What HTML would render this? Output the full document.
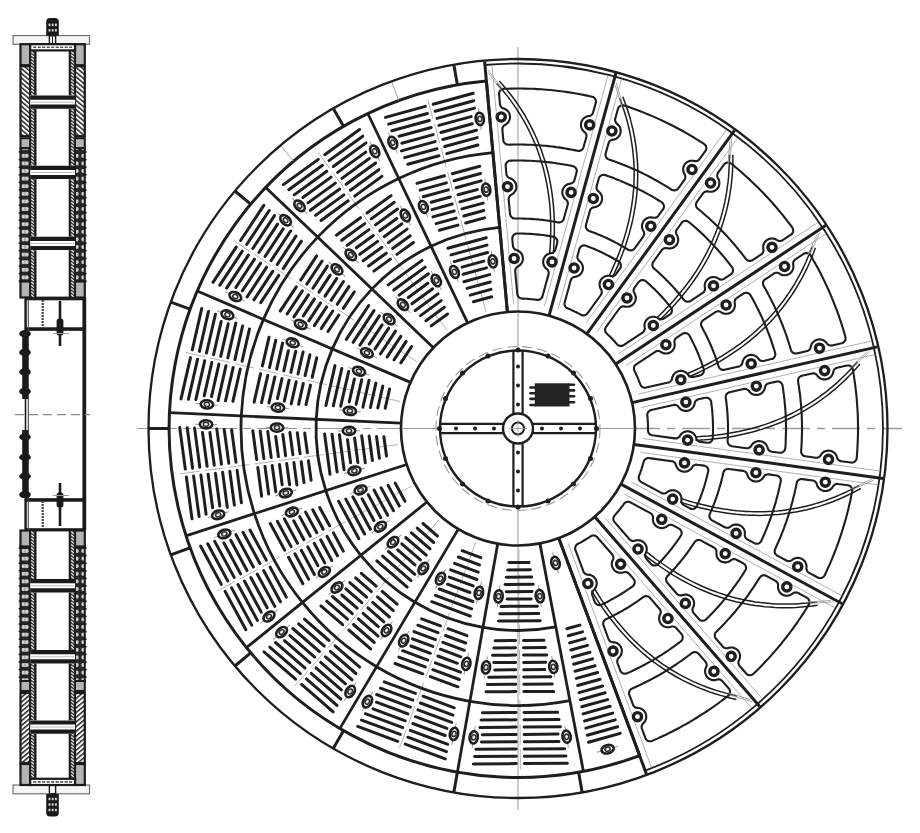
<!DOCTYPE html>
<html><head><meta charset="utf-8"><style>
html,body{margin:0;padding:0;background:#fff;}
svg{display:block;filter:blur(0.3px);}
</style></head><body>
<svg width="920" height="833" viewBox="0 0 920 833">
<rect width="920" height="833" fill="#fff"/>
<line x1="518.0" y1="47.0" x2="518.0" y2="810.0" stroke="#9a9a9a" stroke-width="1" />
<line x1="137.0" y1="428.5" x2="404.0" y2="428.5" stroke="#9a9a9a" stroke-width="1" stroke-dasharray="40,6,8,6"/>
<line x1="632.0" y1="428.5" x2="902.0" y2="428.5" stroke="#9a9a9a" stroke-width="1.3" stroke-dasharray="28,7,8,7"/>
<line x1="404.0" y1="428.5" x2="632.0" y2="428.5" stroke="#9a9a9a" stroke-width="1" />
<line x1="486.0" y1="311.8" x2="426.7" y2="95.8" stroke="#aaaaaa" stroke-width="0.9" stroke-dasharray="20,5"/>
<line x1="447.0" y1="330.5" x2="315.7" y2="149.0" stroke="#aaaaaa" stroke-width="0.9" stroke-dasharray="20,5"/>
<line x1="417.0" y1="361.8" x2="230.1" y2="238.3" stroke="#aaaaaa" stroke-width="0.9" stroke-dasharray="20,5"/>
<line x1="400.1" y1="401.5" x2="181.7" y2="351.5" stroke="#aaaaaa" stroke-width="0.9" stroke-dasharray="20,5"/>
<line x1="398.1" y1="444.6" x2="176.1" y2="474.4" stroke="#aaaaaa" stroke-width="0.9" stroke-dasharray="20,5"/>
<line x1="411.6" y1="486.1" x2="214.5" y2="592.6" stroke="#aaaaaa" stroke-width="0.9" stroke-dasharray="20,5"/>
<line x1="438.8" y1="520.0" x2="292.1" y2="689.3" stroke="#aaaaaa" stroke-width="0.9" stroke-dasharray="20,5"/>
<line x1="475.9" y1="541.9" x2="398.0" y2="752.0" stroke="#aaaaaa" stroke-width="0.9" stroke-dasharray="20,5"/>
<line x1="518.8" y1="549.5" x2="520.4" y2="773.5" stroke="#aaaaaa" stroke-width="0.9" stroke-dasharray="20,5"/>
<line x1="473.4" y1="301.8" x2="491.7" y2="296.8" stroke="#1e1e1e" stroke-width="3.0" stroke-linecap="round"/>
<line x1="470.2" y1="295.1" x2="491.0" y2="289.4" stroke="#1e1e1e" stroke-width="3.0" stroke-linecap="round"/>
<line x1="467.0" y1="288.4" x2="490.3" y2="282.0" stroke="#1e1e1e" stroke-width="3.0" stroke-linecap="round"/>
<line x1="463.8" y1="281.7" x2="489.7" y2="274.6" stroke="#1e1e1e" stroke-width="3.0" stroke-linecap="round"/>
<line x1="463.1" y1="274.3" x2="486.5" y2="267.9" stroke="#1e1e1e" stroke-width="3.0" stroke-linecap="round"/>
<line x1="462.0" y1="267.1" x2="483.8" y2="261.1" stroke="#1e1e1e" stroke-width="3.0" stroke-linecap="round"/>
<line x1="454.2" y1="261.6" x2="487.6" y2="252.5" stroke="#1e1e1e" stroke-width="3.0" stroke-linecap="round"/>
<line x1="451.0" y1="254.9" x2="487.0" y2="245.1" stroke="#1e1e1e" stroke-width="3.0" stroke-linecap="round"/>
<line x1="447.8" y1="248.2" x2="486.3" y2="237.7" stroke="#1e1e1e" stroke-width="3.0" stroke-linecap="round"/>
<g transform="translate(492.8,261.4) rotate(-98.6)"><line x1="-11" y1="0" x2="11" y2="0" stroke="#9a9a9a" stroke-width="1"/><ellipse cx="0" cy="0" rx="6.2" ry="4.1" fill="#fff" stroke="#1e1e1e" stroke-width="2.6"/><ellipse cx="0" cy="0" rx="2.7" ry="2.1" fill="#d4d4d4" stroke="#2a2a2a" stroke-width="1.5"/><circle cx="0" cy="0" r="0.9" fill="#fff"/></g>
<g transform="translate(454.4,271.9) rotate(-112.1)"><line x1="-11" y1="0" x2="11" y2="0" stroke="#9a9a9a" stroke-width="1"/><ellipse cx="0" cy="0" rx="6.2" ry="4.1" fill="#fff" stroke="#1e1e1e" stroke-width="2.6"/><ellipse cx="0" cy="0" rx="2.7" ry="2.1" fill="#d4d4d4" stroke="#2a2a2a" stroke-width="1.5"/><circle cx="0" cy="0" r="0.9" fill="#fff"/></g>
<line x1="465.7" y1="223.0" x2="484.5" y2="217.9" stroke="#1e1e1e" stroke-width="3.0" stroke-linecap="round"/>
<line x1="439.3" y1="230.3" x2="458.0" y2="225.1" stroke="#1e1e1e" stroke-width="3.0" stroke-linecap="round"/>
<line x1="463.8" y1="216.0" x2="483.8" y2="210.5" stroke="#1e1e1e" stroke-width="3.0" stroke-linecap="round"/>
<line x1="436.1" y1="223.6" x2="456.1" y2="218.1" stroke="#1e1e1e" stroke-width="3.0" stroke-linecap="round"/>
<line x1="461.9" y1="208.9" x2="483.2" y2="203.1" stroke="#1e1e1e" stroke-width="3.0" stroke-linecap="round"/>
<line x1="432.9" y1="216.9" x2="454.2" y2="211.0" stroke="#1e1e1e" stroke-width="3.0" stroke-linecap="round"/>
<line x1="459.9" y1="201.9" x2="480.2" y2="196.3" stroke="#1e1e1e" stroke-width="3.0" stroke-linecap="round"/>
<line x1="431.9" y1="209.6" x2="452.2" y2="204.0" stroke="#1e1e1e" stroke-width="3.0" stroke-linecap="round"/>
<line x1="458.0" y1="194.8" x2="477.2" y2="189.6" stroke="#1e1e1e" stroke-width="3.0" stroke-linecap="round"/>
<line x1="431.1" y1="202.2" x2="450.3" y2="197.0" stroke="#1e1e1e" stroke-width="3.0" stroke-linecap="round"/>
<line x1="456.1" y1="187.8" x2="481.1" y2="180.9" stroke="#1e1e1e" stroke-width="3.0" stroke-linecap="round"/>
<line x1="423.3" y1="196.8" x2="448.4" y2="189.9" stroke="#1e1e1e" stroke-width="3.0" stroke-linecap="round"/>
<line x1="454.1" y1="180.8" x2="480.5" y2="173.5" stroke="#1e1e1e" stroke-width="3.0" stroke-linecap="round"/>
<line x1="420.1" y1="190.1" x2="446.4" y2="182.9" stroke="#1e1e1e" stroke-width="3.0" stroke-linecap="round"/>
<line x1="452.2" y1="173.7" x2="479.8" y2="166.2" stroke="#1e1e1e" stroke-width="3.0" stroke-linecap="round"/>
<line x1="416.9" y1="183.4" x2="444.5" y2="175.8" stroke="#1e1e1e" stroke-width="3.0" stroke-linecap="round"/>
<g transform="translate(486.2,189.6) rotate(-97.6)"><line x1="-11" y1="0" x2="11" y2="0" stroke="#9a9a9a" stroke-width="1"/><ellipse cx="0" cy="0" rx="6.2" ry="4.1" fill="#fff" stroke="#1e1e1e" stroke-width="2.6"/><ellipse cx="0" cy="0" rx="2.7" ry="2.1" fill="#d4d4d4" stroke="#2a2a2a" stroke-width="1.5"/><circle cx="0" cy="0" r="0.9" fill="#fff"/></g>
<g transform="translate(423.4,206.9) rotate(-113.1)"><line x1="-11" y1="0" x2="11" y2="0" stroke="#9a9a9a" stroke-width="1"/><ellipse cx="0" cy="0" rx="6.2" ry="4.1" fill="#fff" stroke="#1e1e1e" stroke-width="2.6"/><ellipse cx="0" cy="0" rx="2.7" ry="2.1" fill="#d4d4d4" stroke="#2a2a2a" stroke-width="1.5"/><circle cx="0" cy="0" r="0.9" fill="#fff"/></g>
<line x1="446.7" y1="153.6" x2="477.9" y2="145.0" stroke="#1e1e1e" stroke-width="3.0" stroke-linecap="round"/>
<line x1="407.8" y1="164.3" x2="439.0" y2="155.7" stroke="#1e1e1e" stroke-width="3.0" stroke-linecap="round"/>
<line x1="444.7" y1="146.5" x2="477.2" y2="137.6" stroke="#1e1e1e" stroke-width="3.0" stroke-linecap="round"/>
<line x1="404.6" y1="157.6" x2="437.0" y2="148.7" stroke="#1e1e1e" stroke-width="3.0" stroke-linecap="round"/>
<line x1="442.8" y1="139.5" x2="476.5" y2="130.2" stroke="#1e1e1e" stroke-width="3.0" stroke-linecap="round"/>
<line x1="401.4" y1="150.9" x2="435.1" y2="141.6" stroke="#1e1e1e" stroke-width="3.0" stroke-linecap="round"/>
<line x1="440.9" y1="132.5" x2="472.3" y2="123.8" stroke="#1e1e1e" stroke-width="3.0" stroke-linecap="round"/>
<line x1="401.8" y1="143.2" x2="433.2" y2="134.6" stroke="#1e1e1e" stroke-width="3.0" stroke-linecap="round"/>
<line x1="438.9" y1="125.4" x2="471.1" y2="116.6" stroke="#1e1e1e" stroke-width="3.0" stroke-linecap="round"/>
<line x1="399.1" y1="136.3" x2="431.2" y2="127.5" stroke="#1e1e1e" stroke-width="3.0" stroke-linecap="round"/>
<line x1="437.0" y1="118.4" x2="474.5" y2="108.1" stroke="#1e1e1e" stroke-width="3.0" stroke-linecap="round"/>
<line x1="391.8" y1="130.8" x2="429.3" y2="120.5" stroke="#1e1e1e" stroke-width="3.0" stroke-linecap="round"/>
<line x1="435.1" y1="111.3" x2="473.8" y2="100.7" stroke="#1e1e1e" stroke-width="3.0" stroke-linecap="round"/>
<line x1="388.6" y1="124.1" x2="427.4" y2="113.5" stroke="#1e1e1e" stroke-width="3.0" stroke-linecap="round"/>
<line x1="433.2" y1="104.3" x2="473.2" y2="93.3" stroke="#1e1e1e" stroke-width="3.0" stroke-linecap="round"/>
<line x1="385.4" y1="117.4" x2="425.4" y2="106.4" stroke="#1e1e1e" stroke-width="3.0" stroke-linecap="round"/>
<g transform="translate(479.8,118.9) rotate(-97.0)"><line x1="-11" y1="0" x2="11" y2="0" stroke="#9a9a9a" stroke-width="1"/><ellipse cx="0" cy="0" rx="6.2" ry="4.1" fill="#fff" stroke="#1e1e1e" stroke-width="2.6"/><ellipse cx="0" cy="0" rx="2.7" ry="2.1" fill="#d4d4d4" stroke="#2a2a2a" stroke-width="1.5"/><circle cx="0" cy="0" r="0.9" fill="#fff"/></g>
<g transform="translate(392.8,142.7) rotate(-113.7)"><line x1="-11" y1="0" x2="11" y2="0" stroke="#9a9a9a" stroke-width="1"/><ellipse cx="0" cy="0" rx="6.2" ry="4.1" fill="#fff" stroke="#1e1e1e" stroke-width="2.6"/><ellipse cx="0" cy="0" rx="2.7" ry="2.1" fill="#d4d4d4" stroke="#2a2a2a" stroke-width="1.5"/><circle cx="0" cy="0" r="0.9" fill="#fff"/></g>
<line x1="431.2" y1="325.9" x2="447.6" y2="314.0" stroke="#1e1e1e" stroke-width="3.0" stroke-linecap="round"/>
<line x1="425.9" y1="320.7" x2="444.4" y2="307.3" stroke="#1e1e1e" stroke-width="3.0" stroke-linecap="round"/>
<line x1="420.5" y1="315.6" x2="441.2" y2="300.6" stroke="#1e1e1e" stroke-width="3.0" stroke-linecap="round"/>
<line x1="415.2" y1="310.5" x2="438.0" y2="293.9" stroke="#1e1e1e" stroke-width="3.0" stroke-linecap="round"/>
<line x1="411.9" y1="303.8" x2="432.7" y2="288.8" stroke="#1e1e1e" stroke-width="3.0" stroke-linecap="round"/>
<line x1="408.3" y1="297.5" x2="427.8" y2="283.3" stroke="#1e1e1e" stroke-width="3.0" stroke-linecap="round"/>
<line x1="399.1" y1="295.1" x2="428.4" y2="273.8" stroke="#1e1e1e" stroke-width="3.0" stroke-linecap="round"/>
<line x1="393.7" y1="290.0" x2="425.2" y2="267.1" stroke="#1e1e1e" stroke-width="3.0" stroke-linecap="round"/>
<line x1="388.3" y1="284.9" x2="422.0" y2="260.4" stroke="#1e1e1e" stroke-width="3.0" stroke-linecap="round"/>
<g transform="translate(436.3,280.5) rotate(-118.9)"><line x1="-11" y1="0" x2="11" y2="0" stroke="#9a9a9a" stroke-width="1"/><ellipse cx="0" cy="0" rx="6.2" ry="4.1" fill="#fff" stroke="#1e1e1e" stroke-width="2.6"/><ellipse cx="0" cy="0" rx="2.7" ry="2.1" fill="#d4d4d4" stroke="#2a2a2a" stroke-width="1.5"/><circle cx="0" cy="0" r="0.9" fill="#fff"/></g>
<g transform="translate(402.9,304.7) rotate(-132.9)"><line x1="-11" y1="0" x2="11" y2="0" stroke="#9a9a9a" stroke-width="1"/><ellipse cx="0" cy="0" rx="6.2" ry="4.1" fill="#fff" stroke="#1e1e1e" stroke-width="2.6"/><ellipse cx="0" cy="0" rx="2.7" ry="2.1" fill="#d4d4d4" stroke="#2a2a2a" stroke-width="1.5"/><circle cx="0" cy="0" r="0.9" fill="#fff"/></g>
<line x1="396.9" y1="254.4" x2="413.5" y2="242.5" stroke="#1e1e1e" stroke-width="3.0" stroke-linecap="round"/>
<line x1="373.9" y1="271.1" x2="390.4" y2="259.1" stroke="#1e1e1e" stroke-width="3.0" stroke-linecap="round"/>
<line x1="392.6" y1="248.5" x2="410.3" y2="235.8" stroke="#1e1e1e" stroke-width="3.0" stroke-linecap="round"/>
<line x1="368.6" y1="266.0" x2="386.2" y2="253.2" stroke="#1e1e1e" stroke-width="3.0" stroke-linecap="round"/>
<line x1="388.4" y1="242.6" x2="407.1" y2="229.1" stroke="#1e1e1e" stroke-width="3.0" stroke-linecap="round"/>
<line x1="363.2" y1="260.8" x2="381.9" y2="247.3" stroke="#1e1e1e" stroke-width="3.0" stroke-linecap="round"/>
<line x1="384.1" y1="236.7" x2="401.9" y2="223.8" stroke="#1e1e1e" stroke-width="3.0" stroke-linecap="round"/>
<line x1="359.8" y1="254.3" x2="377.6" y2="241.4" stroke="#1e1e1e" stroke-width="3.0" stroke-linecap="round"/>
<line x1="379.8" y1="230.8" x2="396.8" y2="218.5" stroke="#1e1e1e" stroke-width="3.0" stroke-linecap="round"/>
<line x1="356.3" y1="247.8" x2="373.3" y2="235.5" stroke="#1e1e1e" stroke-width="3.0" stroke-linecap="round"/>
<line x1="375.5" y1="224.9" x2="397.5" y2="209.0" stroke="#1e1e1e" stroke-width="3.0" stroke-linecap="round"/>
<line x1="347.1" y1="245.4" x2="369.0" y2="229.6" stroke="#1e1e1e" stroke-width="3.0" stroke-linecap="round"/>
<line x1="371.2" y1="218.9" x2="394.3" y2="202.3" stroke="#1e1e1e" stroke-width="3.0" stroke-linecap="round"/>
<line x1="341.7" y1="240.3" x2="364.8" y2="223.6" stroke="#1e1e1e" stroke-width="3.0" stroke-linecap="round"/>
<line x1="367.0" y1="213.0" x2="391.1" y2="195.6" stroke="#1e1e1e" stroke-width="3.0" stroke-linecap="round"/>
<line x1="336.4" y1="235.2" x2="360.5" y2="217.7" stroke="#1e1e1e" stroke-width="3.0" stroke-linecap="round"/>
<g transform="translate(405.3,215.5) rotate(-117.9)"><line x1="-11" y1="0" x2="11" y2="0" stroke="#9a9a9a" stroke-width="1"/><ellipse cx="0" cy="0" rx="6.2" ry="4.1" fill="#fff" stroke="#1e1e1e" stroke-width="2.6"/><ellipse cx="0" cy="0" rx="2.7" ry="2.1" fill="#d4d4d4" stroke="#2a2a2a" stroke-width="1.5"/><circle cx="0" cy="0" r="0.9" fill="#fff"/></g>
<g transform="translate(350.8,254.9) rotate(-133.9)"><line x1="-11" y1="0" x2="11" y2="0" stroke="#9a9a9a" stroke-width="1"/><ellipse cx="0" cy="0" rx="6.2" ry="4.1" fill="#fff" stroke="#1e1e1e" stroke-width="2.6"/><ellipse cx="0" cy="0" rx="2.7" ry="2.1" fill="#d4d4d4" stroke="#2a2a2a" stroke-width="1.5"/><circle cx="0" cy="0" r="0.9" fill="#fff"/></g>
<line x1="354.7" y1="196.1" x2="381.9" y2="176.4" stroke="#1e1e1e" stroke-width="3.0" stroke-linecap="round"/>
<line x1="321.0" y1="220.5" x2="348.2" y2="200.8" stroke="#1e1e1e" stroke-width="3.0" stroke-linecap="round"/>
<line x1="350.4" y1="190.2" x2="378.8" y2="169.7" stroke="#1e1e1e" stroke-width="3.0" stroke-linecap="round"/>
<line x1="315.6" y1="215.4" x2="343.9" y2="194.9" stroke="#1e1e1e" stroke-width="3.0" stroke-linecap="round"/>
<line x1="346.1" y1="184.3" x2="375.6" y2="163.0" stroke="#1e1e1e" stroke-width="3.0" stroke-linecap="round"/>
<line x1="310.3" y1="210.3" x2="339.7" y2="189.0" stroke="#1e1e1e" stroke-width="3.0" stroke-linecap="round"/>
<line x1="341.9" y1="178.4" x2="369.3" y2="158.5" stroke="#1e1e1e" stroke-width="3.0" stroke-linecap="round"/>
<line x1="308.0" y1="202.9" x2="335.4" y2="183.1" stroke="#1e1e1e" stroke-width="3.0" stroke-linecap="round"/>
<line x1="337.6" y1="172.4" x2="365.8" y2="152.1" stroke="#1e1e1e" stroke-width="3.0" stroke-linecap="round"/>
<line x1="302.9" y1="197.5" x2="331.1" y2="177.1" stroke="#1e1e1e" stroke-width="3.0" stroke-linecap="round"/>
<line x1="333.3" y1="166.5" x2="366.0" y2="142.9" stroke="#1e1e1e" stroke-width="3.0" stroke-linecap="round"/>
<line x1="294.2" y1="194.9" x2="326.8" y2="171.2" stroke="#1e1e1e" stroke-width="3.0" stroke-linecap="round"/>
<line x1="329.0" y1="160.6" x2="362.8" y2="136.2" stroke="#1e1e1e" stroke-width="3.0" stroke-linecap="round"/>
<line x1="288.8" y1="189.7" x2="322.5" y2="165.3" stroke="#1e1e1e" stroke-width="3.0" stroke-linecap="round"/>
<line x1="324.7" y1="154.7" x2="359.6" y2="129.5" stroke="#1e1e1e" stroke-width="3.0" stroke-linecap="round"/>
<line x1="283.4" y1="184.6" x2="318.3" y2="159.4" stroke="#1e1e1e" stroke-width="3.0" stroke-linecap="round"/>
<g transform="translate(374.7,151.3) rotate(-117.3)"><line x1="-11" y1="0" x2="11" y2="0" stroke="#9a9a9a" stroke-width="1"/><ellipse cx="0" cy="0" rx="6.2" ry="4.1" fill="#fff" stroke="#1e1e1e" stroke-width="2.6"/><ellipse cx="0" cy="0" rx="2.7" ry="2.1" fill="#d4d4d4" stroke="#2a2a2a" stroke-width="1.5"/><circle cx="0" cy="0" r="0.9" fill="#fff"/></g>
<g transform="translate(299.5,205.8) rotate(-134.5)"><line x1="-11" y1="0" x2="11" y2="0" stroke="#9a9a9a" stroke-width="1"/><ellipse cx="0" cy="0" rx="6.2" ry="4.1" fill="#fff" stroke="#1e1e1e" stroke-width="2.6"/><ellipse cx="0" cy="0" rx="2.7" ry="2.1" fill="#d4d4d4" stroke="#2a2a2a" stroke-width="1.5"/><circle cx="0" cy="0" r="0.9" fill="#fff"/></g>
<line x1="400.8" y1="362.8" x2="411.6" y2="346.5" stroke="#1e1e1e" stroke-width="3.0" stroke-linecap="round"/>
<line x1="394.0" y1="359.8" x2="406.2" y2="341.4" stroke="#1e1e1e" stroke-width="3.0" stroke-linecap="round"/>
<line x1="387.2" y1="356.9" x2="400.8" y2="336.3" stroke="#1e1e1e" stroke-width="3.0" stroke-linecap="round"/>
<line x1="380.4" y1="354.0" x2="395.5" y2="331.1" stroke="#1e1e1e" stroke-width="3.0" stroke-linecap="round"/>
<line x1="375.0" y1="348.9" x2="388.7" y2="328.2" stroke="#1e1e1e" stroke-width="3.0" stroke-linecap="round"/>
<line x1="369.3" y1="344.2" x2="382.1" y2="324.8" stroke="#1e1e1e" stroke-width="3.0" stroke-linecap="round"/>
<line x1="359.9" y1="345.2" x2="379.4" y2="315.8" stroke="#1e1e1e" stroke-width="3.0" stroke-linecap="round"/>
<line x1="353.1" y1="342.3" x2="374.0" y2="310.6" stroke="#1e1e1e" stroke-width="3.0" stroke-linecap="round"/>
<line x1="346.3" y1="339.4" x2="368.7" y2="305.5" stroke="#1e1e1e" stroke-width="3.0" stroke-linecap="round"/>
<g transform="translate(389.1,319.2) rotate(-139.7)"><line x1="-11" y1="0" x2="11" y2="0" stroke="#9a9a9a" stroke-width="1"/><ellipse cx="0" cy="0" rx="6.2" ry="4.1" fill="#fff" stroke="#1e1e1e" stroke-width="2.6"/><ellipse cx="0" cy="0" rx="2.7" ry="2.1" fill="#d4d4d4" stroke="#2a2a2a" stroke-width="1.5"/><circle cx="0" cy="0" r="0.9" fill="#fff"/></g>
<g transform="translate(366.9,352.8) rotate(-153.4)"><line x1="-11" y1="0" x2="11" y2="0" stroke="#9a9a9a" stroke-width="1"/><ellipse cx="0" cy="0" rx="6.2" ry="4.1" fill="#fff" stroke="#1e1e1e" stroke-width="2.6"/><ellipse cx="0" cy="0" rx="2.7" ry="2.1" fill="#d4d4d4" stroke="#2a2a2a" stroke-width="1.5"/><circle cx="0" cy="0" r="0.9" fill="#fff"/></g>
<line x1="343.3" y1="308.3" x2="354.3" y2="291.8" stroke="#1e1e1e" stroke-width="3.0" stroke-linecap="round"/>
<line x1="328.0" y1="331.5" x2="338.9" y2="315.0" stroke="#1e1e1e" stroke-width="3.0" stroke-linecap="round"/>
<line x1="337.2" y1="304.3" x2="348.9" y2="286.6" stroke="#1e1e1e" stroke-width="3.0" stroke-linecap="round"/>
<line x1="321.2" y1="328.6" x2="332.8" y2="311.0" stroke="#1e1e1e" stroke-width="3.0" stroke-linecap="round"/>
<line x1="331.1" y1="300.3" x2="343.5" y2="281.5" stroke="#1e1e1e" stroke-width="3.0" stroke-linecap="round"/>
<line x1="314.3" y1="325.7" x2="326.7" y2="306.9" stroke="#1e1e1e" stroke-width="3.0" stroke-linecap="round"/>
<line x1="325.0" y1="296.2" x2="336.8" y2="278.4" stroke="#1e1e1e" stroke-width="3.0" stroke-linecap="round"/>
<line x1="308.8" y1="320.8" x2="320.6" y2="302.9" stroke="#1e1e1e" stroke-width="3.0" stroke-linecap="round"/>
<line x1="319.0" y1="292.2" x2="330.2" y2="275.2" stroke="#1e1e1e" stroke-width="3.0" stroke-linecap="round"/>
<line x1="303.3" y1="315.9" x2="314.5" y2="298.9" stroke="#1e1e1e" stroke-width="3.0" stroke-linecap="round"/>
<line x1="312.9" y1="288.2" x2="327.4" y2="266.1" stroke="#1e1e1e" stroke-width="3.0" stroke-linecap="round"/>
<line x1="293.9" y1="316.9" x2="308.5" y2="294.9" stroke="#1e1e1e" stroke-width="3.0" stroke-linecap="round"/>
<line x1="306.8" y1="284.2" x2="322.1" y2="261.0" stroke="#1e1e1e" stroke-width="3.0" stroke-linecap="round"/>
<line x1="287.1" y1="314.0" x2="302.4" y2="290.8" stroke="#1e1e1e" stroke-width="3.0" stroke-linecap="round"/>
<line x1="300.7" y1="280.1" x2="316.7" y2="255.9" stroke="#1e1e1e" stroke-width="3.0" stroke-linecap="round"/>
<line x1="280.2" y1="311.1" x2="296.3" y2="286.8" stroke="#1e1e1e" stroke-width="3.0" stroke-linecap="round"/>
<g transform="translate(337.0,269.4) rotate(-138.7)"><line x1="-11" y1="0" x2="11" y2="0" stroke="#9a9a9a" stroke-width="1"/><ellipse cx="0" cy="0" rx="6.2" ry="4.1" fill="#fff" stroke="#1e1e1e" stroke-width="2.6"/><ellipse cx="0" cy="0" rx="2.7" ry="2.1" fill="#d4d4d4" stroke="#2a2a2a" stroke-width="1.5"/><circle cx="0" cy="0" r="0.9" fill="#fff"/></g>
<g transform="translate(300.6,324.5) rotate(-154.4)"><line x1="-11" y1="0" x2="11" y2="0" stroke="#9a9a9a" stroke-width="1"/><ellipse cx="0" cy="0" rx="6.2" ry="4.1" fill="#fff" stroke="#1e1e1e" stroke-width="2.6"/><ellipse cx="0" cy="0" rx="2.7" ry="2.1" fill="#d4d4d4" stroke="#2a2a2a" stroke-width="1.5"/><circle cx="0" cy="0" r="0.9" fill="#fff"/></g>
<line x1="283.2" y1="268.6" x2="301.4" y2="241.2" stroke="#1e1e1e" stroke-width="3.0" stroke-linecap="round"/>
<line x1="260.7" y1="302.7" x2="278.8" y2="275.3" stroke="#1e1e1e" stroke-width="3.0" stroke-linecap="round"/>
<line x1="277.2" y1="264.6" x2="296.0" y2="236.1" stroke="#1e1e1e" stroke-width="3.0" stroke-linecap="round"/>
<line x1="253.9" y1="299.8" x2="272.7" y2="271.3" stroke="#1e1e1e" stroke-width="3.0" stroke-linecap="round"/>
<line x1="271.1" y1="260.6" x2="290.6" y2="231.0" stroke="#1e1e1e" stroke-width="3.0" stroke-linecap="round"/>
<line x1="247.1" y1="296.9" x2="266.7" y2="267.2" stroke="#1e1e1e" stroke-width="3.0" stroke-linecap="round"/>
<line x1="265.0" y1="256.5" x2="283.2" y2="228.9" stroke="#1e1e1e" stroke-width="3.0" stroke-linecap="round"/>
<line x1="242.3" y1="290.8" x2="260.6" y2="263.2" stroke="#1e1e1e" stroke-width="3.0" stroke-linecap="round"/>
<line x1="258.9" y1="252.5" x2="277.6" y2="224.2" stroke="#1e1e1e" stroke-width="3.0" stroke-linecap="round"/>
<line x1="235.8" y1="287.5" x2="254.5" y2="259.2" stroke="#1e1e1e" stroke-width="3.0" stroke-linecap="round"/>
<line x1="252.8" y1="248.5" x2="274.5" y2="215.6" stroke="#1e1e1e" stroke-width="3.0" stroke-linecap="round"/>
<line x1="226.6" y1="288.1" x2="248.4" y2="255.2" stroke="#1e1e1e" stroke-width="3.0" stroke-linecap="round"/>
<line x1="246.7" y1="244.5" x2="269.2" y2="210.5" stroke="#1e1e1e" stroke-width="3.0" stroke-linecap="round"/>
<line x1="219.8" y1="285.2" x2="242.3" y2="251.2" stroke="#1e1e1e" stroke-width="3.0" stroke-linecap="round"/>
<line x1="240.6" y1="240.5" x2="263.8" y2="205.3" stroke="#1e1e1e" stroke-width="3.0" stroke-linecap="round"/>
<line x1="213.0" y1="282.3" x2="236.2" y2="247.1" stroke="#1e1e1e" stroke-width="3.0" stroke-linecap="round"/>
<g transform="translate(285.6,220.3) rotate(-138.1)"><line x1="-11" y1="0" x2="11" y2="0" stroke="#9a9a9a" stroke-width="1"/><ellipse cx="0" cy="0" rx="6.2" ry="4.1" fill="#fff" stroke="#1e1e1e" stroke-width="2.6"/><ellipse cx="0" cy="0" rx="2.7" ry="2.1" fill="#d4d4d4" stroke="#2a2a2a" stroke-width="1.5"/><circle cx="0" cy="0" r="0.9" fill="#fff"/></g>
<g transform="translate(235.3,296.5) rotate(-155.0)"><line x1="-11" y1="0" x2="11" y2="0" stroke="#9a9a9a" stroke-width="1"/><ellipse cx="0" cy="0" rx="6.2" ry="4.1" fill="#fff" stroke="#1e1e1e" stroke-width="2.6"/><ellipse cx="0" cy="0" rx="2.7" ry="2.1" fill="#d4d4d4" stroke="#2a2a2a" stroke-width="1.5"/><circle cx="0" cy="0" r="0.9" fill="#fff"/></g>
<line x1="385.2" y1="408.2" x2="389.6" y2="389.0" stroke="#1e1e1e" stroke-width="3.0" stroke-linecap="round"/>
<line x1="377.8" y1="407.9" x2="382.8" y2="386.1" stroke="#1e1e1e" stroke-width="3.0" stroke-linecap="round"/>
<line x1="370.4" y1="407.5" x2="375.9" y2="383.1" stroke="#1e1e1e" stroke-width="3.0" stroke-linecap="round"/>
<line x1="362.9" y1="407.2" x2="369.1" y2="380.2" stroke="#1e1e1e" stroke-width="3.0" stroke-linecap="round"/>
<line x1="356.1" y1="404.3" x2="361.7" y2="379.8" stroke="#1e1e1e" stroke-width="3.0" stroke-linecap="round"/>
<line x1="349.2" y1="401.9" x2="354.4" y2="379.0" stroke="#1e1e1e" stroke-width="3.0" stroke-linecap="round"/>
<line x1="340.7" y1="406.2" x2="348.7" y2="371.4" stroke="#1e1e1e" stroke-width="3.0" stroke-linecap="round"/>
<line x1="333.3" y1="405.8" x2="341.8" y2="368.5" stroke="#1e1e1e" stroke-width="3.0" stroke-linecap="round"/>
<line x1="325.9" y1="405.5" x2="335.0" y2="365.6" stroke="#1e1e1e" stroke-width="3.0" stroke-linecap="round"/>
<g transform="translate(359.0,371.2) rotate(-160.2)"><line x1="-11" y1="0" x2="11" y2="0" stroke="#9a9a9a" stroke-width="1"/><ellipse cx="0" cy="0" rx="6.2" ry="4.1" fill="#fff" stroke="#1e1e1e" stroke-width="2.6"/><ellipse cx="0" cy="0" rx="2.7" ry="2.1" fill="#d4d4d4" stroke="#2a2a2a" stroke-width="1.5"/><circle cx="0" cy="0" r="0.9" fill="#fff"/></g>
<g transform="translate(349.9,410.9) rotate(-174.0)"><line x1="-11" y1="0" x2="11" y2="0" stroke="#9a9a9a" stroke-width="1"/><ellipse cx="0" cy="0" rx="6.2" ry="4.1" fill="#fff" stroke="#1e1e1e" stroke-width="2.6"/><ellipse cx="0" cy="0" rx="2.7" ry="2.1" fill="#d4d4d4" stroke="#2a2a2a" stroke-width="1.5"/><circle cx="0" cy="0" r="0.9" fill="#fff"/></g>
<line x1="312.2" y1="377.3" x2="316.7" y2="357.8" stroke="#1e1e1e" stroke-width="3.0" stroke-linecap="round"/>
<line x1="306.0" y1="404.6" x2="310.5" y2="385.1" stroke="#1e1e1e" stroke-width="3.0" stroke-linecap="round"/>
<line x1="305.1" y1="375.6" x2="309.9" y2="354.8" stroke="#1e1e1e" stroke-width="3.0" stroke-linecap="round"/>
<line x1="298.6" y1="404.3" x2="303.3" y2="383.4" stroke="#1e1e1e" stroke-width="3.0" stroke-linecap="round"/>
<line x1="298.0" y1="374.0" x2="303.1" y2="351.9" stroke="#1e1e1e" stroke-width="3.0" stroke-linecap="round"/>
<line x1="291.2" y1="403.9" x2="296.2" y2="381.8" stroke="#1e1e1e" stroke-width="3.0" stroke-linecap="round"/>
<line x1="290.9" y1="372.4" x2="295.7" y2="351.3" stroke="#1e1e1e" stroke-width="3.0" stroke-linecap="round"/>
<line x1="284.3" y1="401.2" x2="289.1" y2="380.2" stroke="#1e1e1e" stroke-width="3.0" stroke-linecap="round"/>
<line x1="283.8" y1="370.8" x2="288.4" y2="350.7" stroke="#1e1e1e" stroke-width="3.0" stroke-linecap="round"/>
<line x1="277.4" y1="398.6" x2="282.0" y2="378.6" stroke="#1e1e1e" stroke-width="3.0" stroke-linecap="round"/>
<line x1="276.7" y1="369.1" x2="282.6" y2="343.1" stroke="#1e1e1e" stroke-width="3.0" stroke-linecap="round"/>
<line x1="268.9" y1="402.9" x2="274.9" y2="376.9" stroke="#1e1e1e" stroke-width="3.0" stroke-linecap="round"/>
<line x1="269.5" y1="367.5" x2="275.8" y2="340.2" stroke="#1e1e1e" stroke-width="3.0" stroke-linecap="round"/>
<line x1="261.5" y1="402.6" x2="267.8" y2="375.3" stroke="#1e1e1e" stroke-width="3.0" stroke-linecap="round"/>
<line x1="262.4" y1="365.9" x2="269.0" y2="337.3" stroke="#1e1e1e" stroke-width="3.0" stroke-linecap="round"/>
<line x1="254.1" y1="402.2" x2="260.6" y2="373.7" stroke="#1e1e1e" stroke-width="3.0" stroke-linecap="round"/>
<g transform="translate(292.7,342.8) rotate(-159.2)"><line x1="-11" y1="0" x2="11" y2="0" stroke="#9a9a9a" stroke-width="1"/><ellipse cx="0" cy="0" rx="6.2" ry="4.1" fill="#fff" stroke="#1e1e1e" stroke-width="2.6"/><ellipse cx="0" cy="0" rx="2.7" ry="2.1" fill="#d4d4d4" stroke="#2a2a2a" stroke-width="1.5"/><circle cx="0" cy="0" r="0.9" fill="#fff"/></g>
<g transform="translate(277.9,407.6) rotate(-175.0)"><line x1="-11" y1="0" x2="11" y2="0" stroke="#9a9a9a" stroke-width="1"/><ellipse cx="0" cy="0" rx="6.2" ry="4.1" fill="#fff" stroke="#1e1e1e" stroke-width="2.6"/><ellipse cx="0" cy="0" rx="2.7" ry="2.1" fill="#d4d4d4" stroke="#2a2a2a" stroke-width="1.5"/><circle cx="0" cy="0" r="0.9" fill="#fff"/></g>
<line x1="242.1" y1="361.2" x2="249.5" y2="328.9" stroke="#1e1e1e" stroke-width="3.0" stroke-linecap="round"/>
<line x1="232.9" y1="401.3" x2="240.3" y2="369.0" stroke="#1e1e1e" stroke-width="3.0" stroke-linecap="round"/>
<line x1="234.9" y1="359.6" x2="242.6" y2="326.0" stroke="#1e1e1e" stroke-width="3.0" stroke-linecap="round"/>
<line x1="225.5" y1="400.9" x2="233.2" y2="367.4" stroke="#1e1e1e" stroke-width="3.0" stroke-linecap="round"/>
<line x1="227.8" y1="357.9" x2="235.8" y2="323.1" stroke="#1e1e1e" stroke-width="3.0" stroke-linecap="round"/>
<line x1="218.1" y1="400.6" x2="226.0" y2="365.7" stroke="#1e1e1e" stroke-width="3.0" stroke-linecap="round"/>
<line x1="220.7" y1="356.3" x2="228.2" y2="323.8" stroke="#1e1e1e" stroke-width="3.0" stroke-linecap="round"/>
<line x1="211.5" y1="396.6" x2="218.9" y2="364.1" stroke="#1e1e1e" stroke-width="3.0" stroke-linecap="round"/>
<line x1="213.6" y1="354.7" x2="221.2" y2="321.4" stroke="#1e1e1e" stroke-width="3.0" stroke-linecap="round"/>
<line x1="204.2" y1="395.8" x2="211.8" y2="362.5" stroke="#1e1e1e" stroke-width="3.0" stroke-linecap="round"/>
<line x1="206.5" y1="353.0" x2="215.4" y2="314.3" stroke="#1e1e1e" stroke-width="3.0" stroke-linecap="round"/>
<line x1="195.8" y1="399.6" x2="204.7" y2="360.8" stroke="#1e1e1e" stroke-width="3.0" stroke-linecap="round"/>
<line x1="199.4" y1="351.4" x2="208.5" y2="311.4" stroke="#1e1e1e" stroke-width="3.0" stroke-linecap="round"/>
<line x1="188.4" y1="399.3" x2="197.6" y2="359.2" stroke="#1e1e1e" stroke-width="3.0" stroke-linecap="round"/>
<line x1="192.3" y1="349.8" x2="201.7" y2="308.5" stroke="#1e1e1e" stroke-width="3.0" stroke-linecap="round"/>
<line x1="181.0" y1="398.9" x2="190.5" y2="357.6" stroke="#1e1e1e" stroke-width="3.0" stroke-linecap="round"/>
<g transform="translate(227.4,314.8) rotate(-158.6)"><line x1="-11" y1="0" x2="11" y2="0" stroke="#9a9a9a" stroke-width="1"/><ellipse cx="0" cy="0" rx="6.2" ry="4.1" fill="#fff" stroke="#1e1e1e" stroke-width="2.6"/><ellipse cx="0" cy="0" rx="2.7" ry="2.1" fill="#d4d4d4" stroke="#2a2a2a" stroke-width="1.5"/><circle cx="0" cy="0" r="0.9" fill="#fff"/></g>
<g transform="translate(206.9,404.4) rotate(-175.6)"><line x1="-11" y1="0" x2="11" y2="0" stroke="#9a9a9a" stroke-width="1"/><ellipse cx="0" cy="0" rx="6.2" ry="4.1" fill="#fff" stroke="#1e1e1e" stroke-width="2.6"/><ellipse cx="0" cy="0" rx="2.7" ry="2.1" fill="#d4d4d4" stroke="#2a2a2a" stroke-width="1.5"/><circle cx="0" cy="0" r="0.9" fill="#fff"/></g>
<line x1="386.5" y1="456.0" x2="383.9" y2="436.7" stroke="#1e1e1e" stroke-width="3.0" stroke-linecap="round"/>
<line x1="379.4" y1="458.3" x2="376.5" y2="436.4" stroke="#1e1e1e" stroke-width="3.0" stroke-linecap="round"/>
<line x1="372.4" y1="460.5" x2="369.1" y2="436.0" stroke="#1e1e1e" stroke-width="3.0" stroke-linecap="round"/>
<line x1="365.3" y1="462.8" x2="361.7" y2="435.7" stroke="#1e1e1e" stroke-width="3.0" stroke-linecap="round"/>
<line x1="357.9" y1="462.6" x2="354.6" y2="437.9" stroke="#1e1e1e" stroke-width="3.0" stroke-linecap="round"/>
<line x1="350.6" y1="462.7" x2="347.5" y2="439.7" stroke="#1e1e1e" stroke-width="3.0" stroke-linecap="round"/>
<line x1="344.1" y1="469.7" x2="339.4" y2="434.7" stroke="#1e1e1e" stroke-width="3.0" stroke-linecap="round"/>
<line x1="337.1" y1="471.9" x2="332.0" y2="434.3" stroke="#1e1e1e" stroke-width="3.0" stroke-linecap="round"/>
<line x1="330.0" y1="474.2" x2="324.6" y2="434.0" stroke="#1e1e1e" stroke-width="3.0" stroke-linecap="round"/>
<g transform="translate(349.0,430.8) rotate(-180.8)"><line x1="-11" y1="0" x2="11" y2="0" stroke="#9a9a9a" stroke-width="1"/><ellipse cx="0" cy="0" rx="6.2" ry="4.1" fill="#fff" stroke="#1e1e1e" stroke-width="2.6"/><ellipse cx="0" cy="0" rx="2.7" ry="2.1" fill="#d4d4d4" stroke="#2a2a2a" stroke-width="1.5"/><circle cx="0" cy="0" r="0.9" fill="#fff"/></g>
<g transform="translate(354.4,470.8) rotate(-194.5)"><line x1="-11" y1="0" x2="11" y2="0" stroke="#9a9a9a" stroke-width="1"/><ellipse cx="0" cy="0" rx="6.2" ry="4.1" fill="#fff" stroke="#1e1e1e" stroke-width="2.6"/><ellipse cx="0" cy="0" rx="2.7" ry="2.1" fill="#d4d4d4" stroke="#2a2a2a" stroke-width="1.5"/><circle cx="0" cy="0" r="0.9" fill="#fff"/></g>
<line x1="307.4" y1="452.8" x2="304.7" y2="433.1" stroke="#1e1e1e" stroke-width="3.0" stroke-linecap="round"/>
<line x1="311.1" y1="480.3" x2="308.4" y2="460.7" stroke="#1e1e1e" stroke-width="3.0" stroke-linecap="round"/>
<line x1="300.1" y1="453.7" x2="297.3" y2="432.8" stroke="#1e1e1e" stroke-width="3.0" stroke-linecap="round"/>
<line x1="304.0" y1="482.6" x2="301.2" y2="461.7" stroke="#1e1e1e" stroke-width="3.0" stroke-linecap="round"/>
<line x1="292.9" y1="454.7" x2="289.9" y2="432.4" stroke="#1e1e1e" stroke-width="3.0" stroke-linecap="round"/>
<line x1="296.9" y1="484.9" x2="293.9" y2="462.6" stroke="#1e1e1e" stroke-width="3.0" stroke-linecap="round"/>
<line x1="285.6" y1="455.7" x2="282.8" y2="434.5" stroke="#1e1e1e" stroke-width="3.0" stroke-linecap="round"/>
<line x1="289.6" y1="484.8" x2="286.7" y2="463.6" stroke="#1e1e1e" stroke-width="3.0" stroke-linecap="round"/>
<line x1="278.4" y1="456.6" x2="275.7" y2="436.5" stroke="#1e1e1e" stroke-width="3.0" stroke-linecap="round"/>
<line x1="282.2" y1="484.7" x2="279.5" y2="464.6" stroke="#1e1e1e" stroke-width="3.0" stroke-linecap="round"/>
<line x1="271.2" y1="457.6" x2="267.7" y2="431.4" stroke="#1e1e1e" stroke-width="3.0" stroke-linecap="round"/>
<line x1="275.8" y1="491.7" x2="272.2" y2="465.5" stroke="#1e1e1e" stroke-width="3.0" stroke-linecap="round"/>
<line x1="263.9" y1="458.6" x2="260.2" y2="431.1" stroke="#1e1e1e" stroke-width="3.0" stroke-linecap="round"/>
<line x1="268.7" y1="494.0" x2="265.0" y2="466.5" stroke="#1e1e1e" stroke-width="3.0" stroke-linecap="round"/>
<line x1="256.7" y1="459.6" x2="252.8" y2="430.7" stroke="#1e1e1e" stroke-width="3.0" stroke-linecap="round"/>
<line x1="261.6" y1="496.3" x2="257.8" y2="467.5" stroke="#1e1e1e" stroke-width="3.0" stroke-linecap="round"/>
<g transform="translate(277.0,427.6) rotate(-179.8)"><line x1="-11" y1="0" x2="11" y2="0" stroke="#9a9a9a" stroke-width="1"/><ellipse cx="0" cy="0" rx="6.2" ry="4.1" fill="#fff" stroke="#1e1e1e" stroke-width="2.6"/><ellipse cx="0" cy="0" rx="2.7" ry="2.1" fill="#d4d4d4" stroke="#2a2a2a" stroke-width="1.5"/><circle cx="0" cy="0" r="0.9" fill="#fff"/></g>
<g transform="translate(285.8,493.0) rotate(-195.5)"><line x1="-11" y1="0" x2="11" y2="0" stroke="#9a9a9a" stroke-width="1"/><ellipse cx="0" cy="0" rx="6.2" ry="4.1" fill="#fff" stroke="#1e1e1e" stroke-width="2.6"/><ellipse cx="0" cy="0" rx="2.7" ry="2.1" fill="#d4d4d4" stroke="#2a2a2a" stroke-width="1.5"/><circle cx="0" cy="0" r="0.9" fill="#fff"/></g>
<line x1="236.0" y1="462.3" x2="231.6" y2="429.8" stroke="#1e1e1e" stroke-width="3.0" stroke-linecap="round"/>
<line x1="241.4" y1="502.8" x2="237.1" y2="470.3" stroke="#1e1e1e" stroke-width="3.0" stroke-linecap="round"/>
<line x1="228.8" y1="463.3" x2="224.2" y2="429.4" stroke="#1e1e1e" stroke-width="3.0" stroke-linecap="round"/>
<line x1="234.4" y1="505.1" x2="229.8" y2="471.2" stroke="#1e1e1e" stroke-width="3.0" stroke-linecap="round"/>
<line x1="221.5" y1="464.3" x2="216.8" y2="429.1" stroke="#1e1e1e" stroke-width="3.0" stroke-linecap="round"/>
<line x1="227.3" y1="507.4" x2="222.6" y2="472.2" stroke="#1e1e1e" stroke-width="3.0" stroke-linecap="round"/>
<line x1="214.3" y1="465.3" x2="209.9" y2="432.5" stroke="#1e1e1e" stroke-width="3.0" stroke-linecap="round"/>
<line x1="219.8" y1="506.0" x2="215.4" y2="473.2" stroke="#1e1e1e" stroke-width="3.0" stroke-linecap="round"/>
<line x1="207.1" y1="466.2" x2="202.5" y2="432.6" stroke="#1e1e1e" stroke-width="3.0" stroke-linecap="round"/>
<line x1="212.6" y1="507.7" x2="208.1" y2="474.2" stroke="#1e1e1e" stroke-width="3.0" stroke-linecap="round"/>
<line x1="199.8" y1="467.2" x2="194.6" y2="428.1" stroke="#1e1e1e" stroke-width="3.0" stroke-linecap="round"/>
<line x1="206.1" y1="514.2" x2="200.9" y2="475.1" stroke="#1e1e1e" stroke-width="3.0" stroke-linecap="round"/>
<line x1="192.6" y1="468.2" x2="187.2" y2="427.8" stroke="#1e1e1e" stroke-width="3.0" stroke-linecap="round"/>
<line x1="199.1" y1="516.5" x2="193.6" y2="476.1" stroke="#1e1e1e" stroke-width="3.0" stroke-linecap="round"/>
<line x1="185.3" y1="469.1" x2="179.7" y2="427.4" stroke="#1e1e1e" stroke-width="3.0" stroke-linecap="round"/>
<line x1="192.0" y1="518.8" x2="186.4" y2="477.1" stroke="#1e1e1e" stroke-width="3.0" stroke-linecap="round"/>
<g transform="translate(206.0,424.3) rotate(-179.2)"><line x1="-11" y1="0" x2="11" y2="0" stroke="#9a9a9a" stroke-width="1"/><ellipse cx="0" cy="0" rx="6.2" ry="4.1" fill="#fff" stroke="#1e1e1e" stroke-width="2.6"/><ellipse cx="0" cy="0" rx="2.7" ry="2.1" fill="#d4d4d4" stroke="#2a2a2a" stroke-width="1.5"/><circle cx="0" cy="0" r="0.9" fill="#fff"/></g>
<g transform="translate(218.2,514.8) rotate(-196.1)"><line x1="-11" y1="0" x2="11" y2="0" stroke="#9a9a9a" stroke-width="1"/><ellipse cx="0" cy="0" rx="6.2" ry="4.1" fill="#fff" stroke="#1e1e1e" stroke-width="2.6"/><ellipse cx="0" cy="0" rx="2.7" ry="2.1" fill="#d4d4d4" stroke="#2a2a2a" stroke-width="1.5"/><circle cx="0" cy="0" r="0.9" fill="#fff"/></g>
<line x1="405.0" y1="501.3" x2="395.2" y2="483.1" stroke="#1e1e1e" stroke-width="3.0" stroke-linecap="round"/>
<line x1="399.3" y1="506.0" x2="388.1" y2="485.4" stroke="#1e1e1e" stroke-width="3.0" stroke-linecap="round"/>
<line x1="393.5" y1="510.6" x2="381.1" y2="487.7" stroke="#1e1e1e" stroke-width="3.0" stroke-linecap="round"/>
<line x1="387.7" y1="515.3" x2="374.0" y2="490.0" stroke="#1e1e1e" stroke-width="3.0" stroke-linecap="round"/>
<line x1="380.7" y1="517.7" x2="368.2" y2="494.6" stroke="#1e1e1e" stroke-width="3.0" stroke-linecap="round"/>
<line x1="373.9" y1="520.5" x2="362.1" y2="498.7" stroke="#1e1e1e" stroke-width="3.0" stroke-linecap="round"/>
<line x1="370.4" y1="529.3" x2="352.8" y2="496.8" stroke="#1e1e1e" stroke-width="3.0" stroke-linecap="round"/>
<line x1="364.6" y1="534.0" x2="345.8" y2="499.1" stroke="#1e1e1e" stroke-width="3.0" stroke-linecap="round"/>
<line x1="358.8" y1="538.6" x2="338.7" y2="501.4" stroke="#1e1e1e" stroke-width="3.0" stroke-linecap="round"/>
<g transform="translate(360.5,489.9) rotate(-201.3)"><line x1="-11" y1="0" x2="11" y2="0" stroke="#9a9a9a" stroke-width="1"/><ellipse cx="0" cy="0" rx="6.2" ry="4.1" fill="#fff" stroke="#1e1e1e" stroke-width="2.6"/><ellipse cx="0" cy="0" rx="2.7" ry="2.1" fill="#d4d4d4" stroke="#2a2a2a" stroke-width="1.5"/><circle cx="0" cy="0" r="0.9" fill="#fff"/></g>
<g transform="translate(380.4,526.7) rotate(-215.5)"><line x1="-11" y1="0" x2="11" y2="0" stroke="#9a9a9a" stroke-width="1"/><ellipse cx="0" cy="0" rx="6.2" ry="4.1" fill="#fff" stroke="#1e1e1e" stroke-width="2.6"/><ellipse cx="0" cy="0" rx="2.7" ry="2.1" fill="#d4d4d4" stroke="#2a2a2a" stroke-width="1.5"/><circle cx="0" cy="0" r="0.9" fill="#fff"/></g>
<line x1="329.6" y1="525.8" x2="319.7" y2="507.5" stroke="#1e1e1e" stroke-width="3.0" stroke-linecap="round"/>
<line x1="343.3" y1="551.1" x2="333.4" y2="532.9" stroke="#1e1e1e" stroke-width="3.0" stroke-linecap="round"/>
<line x1="323.2" y1="529.3" x2="312.7" y2="509.8" stroke="#1e1e1e" stroke-width="3.0" stroke-linecap="round"/>
<line x1="337.5" y1="555.8" x2="327.0" y2="536.3" stroke="#1e1e1e" stroke-width="3.0" stroke-linecap="round"/>
<line x1="316.8" y1="532.8" x2="305.6" y2="512.1" stroke="#1e1e1e" stroke-width="3.0" stroke-linecap="round"/>
<line x1="331.8" y1="560.5" x2="320.6" y2="539.8" stroke="#1e1e1e" stroke-width="3.0" stroke-linecap="round"/>
<line x1="310.3" y1="536.2" x2="299.7" y2="516.6" stroke="#1e1e1e" stroke-width="3.0" stroke-linecap="round"/>
<line x1="324.8" y1="562.9" x2="314.2" y2="543.3" stroke="#1e1e1e" stroke-width="3.0" stroke-linecap="round"/>
<line x1="303.9" y1="539.7" x2="293.7" y2="520.8" stroke="#1e1e1e" stroke-width="3.0" stroke-linecap="round"/>
<line x1="317.9" y1="565.6" x2="307.7" y2="546.7" stroke="#1e1e1e" stroke-width="3.0" stroke-linecap="round"/>
<line x1="297.5" y1="543.2" x2="284.4" y2="518.9" stroke="#1e1e1e" stroke-width="3.0" stroke-linecap="round"/>
<line x1="314.4" y1="574.5" x2="301.3" y2="550.2" stroke="#1e1e1e" stroke-width="3.0" stroke-linecap="round"/>
<line x1="291.1" y1="546.6" x2="277.3" y2="521.2" stroke="#1e1e1e" stroke-width="3.0" stroke-linecap="round"/>
<line x1="308.6" y1="579.1" x2="294.9" y2="553.7" stroke="#1e1e1e" stroke-width="3.0" stroke-linecap="round"/>
<line x1="284.7" y1="550.1" x2="270.3" y2="523.5" stroke="#1e1e1e" stroke-width="3.0" stroke-linecap="round"/>
<line x1="302.9" y1="583.8" x2="288.5" y2="557.2" stroke="#1e1e1e" stroke-width="3.0" stroke-linecap="round"/>
<g transform="translate(291.9,512.0) rotate(-200.3)"><line x1="-11" y1="0" x2="11" y2="0" stroke="#9a9a9a" stroke-width="1"/><ellipse cx="0" cy="0" rx="6.2" ry="4.1" fill="#fff" stroke="#1e1e1e" stroke-width="2.6"/><ellipse cx="0" cy="0" rx="2.7" ry="2.1" fill="#d4d4d4" stroke="#2a2a2a" stroke-width="1.5"/><circle cx="0" cy="0" r="0.9" fill="#fff"/></g>
<g transform="translate(324.3,571.9) rotate(-216.5)"><line x1="-11" y1="0" x2="11" y2="0" stroke="#9a9a9a" stroke-width="1"/><ellipse cx="0" cy="0" rx="6.2" ry="4.1" fill="#fff" stroke="#1e1e1e" stroke-width="2.6"/><ellipse cx="0" cy="0" rx="2.7" ry="2.1" fill="#d4d4d4" stroke="#2a2a2a" stroke-width="1.5"/><circle cx="0" cy="0" r="0.9" fill="#fff"/></g>
<line x1="266.3" y1="560.1" x2="250.0" y2="530.0" stroke="#1e1e1e" stroke-width="3.0" stroke-linecap="round"/>
<line x1="286.3" y1="597.1" x2="270.1" y2="567.1" stroke="#1e1e1e" stroke-width="3.0" stroke-linecap="round"/>
<line x1="259.9" y1="563.5" x2="243.0" y2="532.3" stroke="#1e1e1e" stroke-width="3.0" stroke-linecap="round"/>
<line x1="280.5" y1="601.8" x2="263.7" y2="570.6" stroke="#1e1e1e" stroke-width="3.0" stroke-linecap="round"/>
<line x1="253.4" y1="567.0" x2="235.9" y2="534.6" stroke="#1e1e1e" stroke-width="3.0" stroke-linecap="round"/>
<line x1="274.8" y1="606.4" x2="257.2" y2="574.0" stroke="#1e1e1e" stroke-width="3.0" stroke-linecap="round"/>
<line x1="247.0" y1="570.5" x2="230.7" y2="540.2" stroke="#1e1e1e" stroke-width="3.0" stroke-linecap="round"/>
<line x1="267.2" y1="607.7" x2="250.8" y2="577.5" stroke="#1e1e1e" stroke-width="3.0" stroke-linecap="round"/>
<line x1="240.6" y1="573.9" x2="223.8" y2="542.8" stroke="#1e1e1e" stroke-width="3.0" stroke-linecap="round"/>
<line x1="261.2" y1="612.1" x2="244.4" y2="581.0" stroke="#1e1e1e" stroke-width="3.0" stroke-linecap="round"/>
<line x1="234.2" y1="577.4" x2="214.7" y2="541.4" stroke="#1e1e1e" stroke-width="3.0" stroke-linecap="round"/>
<line x1="257.4" y1="620.4" x2="238.0" y2="584.5" stroke="#1e1e1e" stroke-width="3.0" stroke-linecap="round"/>
<line x1="227.7" y1="580.9" x2="207.7" y2="543.7" stroke="#1e1e1e" stroke-width="3.0" stroke-linecap="round"/>
<line x1="251.7" y1="625.1" x2="231.6" y2="587.9" stroke="#1e1e1e" stroke-width="3.0" stroke-linecap="round"/>
<line x1="221.3" y1="584.4" x2="200.6" y2="546.0" stroke="#1e1e1e" stroke-width="3.0" stroke-linecap="round"/>
<line x1="245.9" y1="629.8" x2="225.1" y2="591.4" stroke="#1e1e1e" stroke-width="3.0" stroke-linecap="round"/>
<g transform="translate(224.3,533.9) rotate(-199.7)"><line x1="-11" y1="0" x2="11" y2="0" stroke="#9a9a9a" stroke-width="1"/><ellipse cx="0" cy="0" rx="6.2" ry="4.1" fill="#fff" stroke="#1e1e1e" stroke-width="2.6"/><ellipse cx="0" cy="0" rx="2.7" ry="2.1" fill="#d4d4d4" stroke="#2a2a2a" stroke-width="1.5"/><circle cx="0" cy="0" r="0.9" fill="#fff"/></g>
<g transform="translate(269.0,616.5) rotate(-217.1)"><line x1="-11" y1="0" x2="11" y2="0" stroke="#9a9a9a" stroke-width="1"/><ellipse cx="0" cy="0" rx="6.2" ry="4.1" fill="#fff" stroke="#1e1e1e" stroke-width="2.6"/><ellipse cx="0" cy="0" rx="2.7" ry="2.1" fill="#d4d4d4" stroke="#2a2a2a" stroke-width="1.5"/><circle cx="0" cy="0" r="0.9" fill="#fff"/></g>
<line x1="437.5" y1="536.1" x2="423.0" y2="523.5" stroke="#1e1e1e" stroke-width="3.0" stroke-linecap="round"/>
<line x1="433.7" y1="542.5" x2="417.2" y2="528.1" stroke="#1e1e1e" stroke-width="3.0" stroke-linecap="round"/>
<line x1="430.0" y1="548.8" x2="411.5" y2="532.8" stroke="#1e1e1e" stroke-width="3.0" stroke-linecap="round"/>
<line x1="426.2" y1="555.2" x2="405.7" y2="537.5" stroke="#1e1e1e" stroke-width="3.0" stroke-linecap="round"/>
<line x1="420.4" y1="559.9" x2="401.8" y2="543.8" stroke="#1e1e1e" stroke-width="3.0" stroke-linecap="round"/>
<line x1="415.0" y1="564.9" x2="397.7" y2="549.9" stroke="#1e1e1e" stroke-width="3.0" stroke-linecap="round"/>
<line x1="414.8" y1="574.3" x2="388.4" y2="551.4" stroke="#1e1e1e" stroke-width="3.0" stroke-linecap="round"/>
<line x1="411.0" y1="580.7" x2="382.6" y2="556.1" stroke="#1e1e1e" stroke-width="3.0" stroke-linecap="round"/>
<line x1="407.2" y1="587.1" x2="376.8" y2="560.8" stroke="#1e1e1e" stroke-width="3.0" stroke-linecap="round"/>
<g transform="translate(393.0,542.2) rotate(-222.3)"><line x1="-11" y1="0" x2="11" y2="0" stroke="#9a9a9a" stroke-width="1"/><ellipse cx="0" cy="0" rx="6.2" ry="4.1" fill="#fff" stroke="#1e1e1e" stroke-width="2.6"/><ellipse cx="0" cy="0" rx="2.7" ry="2.1" fill="#d4d4d4" stroke="#2a2a2a" stroke-width="1.5"/><circle cx="0" cy="0" r="0.9" fill="#fff"/></g>
<g transform="translate(423.3,568.5) rotate(-235.9)"><line x1="-11" y1="0" x2="11" y2="0" stroke="#9a9a9a" stroke-width="1"/><ellipse cx="0" cy="0" rx="6.2" ry="4.1" fill="#fff" stroke="#1e1e1e" stroke-width="2.6"/><ellipse cx="0" cy="0" rx="2.7" ry="2.1" fill="#d4d4d4" stroke="#2a2a2a" stroke-width="1.5"/><circle cx="0" cy="0" r="0.9" fill="#fff"/></g>
<line x1="376.2" y1="586.1" x2="361.3" y2="573.3" stroke="#1e1e1e" stroke-width="3.0" stroke-linecap="round"/>
<line x1="397.1" y1="604.2" x2="382.2" y2="591.4" stroke="#1e1e1e" stroke-width="3.0" stroke-linecap="round"/>
<line x1="371.4" y1="591.6" x2="355.6" y2="577.9" stroke="#1e1e1e" stroke-width="3.0" stroke-linecap="round"/>
<line x1="393.3" y1="610.6" x2="377.4" y2="596.9" stroke="#1e1e1e" stroke-width="3.0" stroke-linecap="round"/>
<line x1="366.6" y1="597.2" x2="349.8" y2="582.6" stroke="#1e1e1e" stroke-width="3.0" stroke-linecap="round"/>
<line x1="389.5" y1="617.0" x2="372.7" y2="602.4" stroke="#1e1e1e" stroke-width="3.0" stroke-linecap="round"/>
<line x1="361.8" y1="602.7" x2="345.8" y2="588.8" stroke="#1e1e1e" stroke-width="3.0" stroke-linecap="round"/>
<line x1="383.9" y1="621.8" x2="367.9" y2="607.9" stroke="#1e1e1e" stroke-width="3.0" stroke-linecap="round"/>
<line x1="357.1" y1="608.2" x2="341.8" y2="595.0" stroke="#1e1e1e" stroke-width="3.0" stroke-linecap="round"/>
<line x1="378.3" y1="626.6" x2="363.1" y2="613.4" stroke="#1e1e1e" stroke-width="3.0" stroke-linecap="round"/>
<line x1="352.3" y1="613.7" x2="332.5" y2="596.5" stroke="#1e1e1e" stroke-width="3.0" stroke-linecap="round"/>
<line x1="378.1" y1="636.1" x2="358.3" y2="618.9" stroke="#1e1e1e" stroke-width="3.0" stroke-linecap="round"/>
<line x1="347.5" y1="619.2" x2="326.7" y2="601.2" stroke="#1e1e1e" stroke-width="3.0" stroke-linecap="round"/>
<line x1="374.3" y1="642.5" x2="353.5" y2="624.5" stroke="#1e1e1e" stroke-width="3.0" stroke-linecap="round"/>
<line x1="342.7" y1="624.7" x2="320.9" y2="605.9" stroke="#1e1e1e" stroke-width="3.0" stroke-linecap="round"/>
<line x1="370.6" y1="648.9" x2="348.8" y2="630.0" stroke="#1e1e1e" stroke-width="3.0" stroke-linecap="round"/>
<g transform="translate(336.9,587.5) rotate(-221.3)"><line x1="-11" y1="0" x2="11" y2="0" stroke="#9a9a9a" stroke-width="1"/><ellipse cx="0" cy="0" rx="6.2" ry="4.1" fill="#fff" stroke="#1e1e1e" stroke-width="2.6"/><ellipse cx="0" cy="0" rx="2.7" ry="2.1" fill="#d4d4d4" stroke="#2a2a2a" stroke-width="1.5"/><circle cx="0" cy="0" r="0.9" fill="#fff"/></g>
<g transform="translate(386.5,630.4) rotate(-236.9)"><line x1="-11" y1="0" x2="11" y2="0" stroke="#9a9a9a" stroke-width="1"/><ellipse cx="0" cy="0" rx="6.2" ry="4.1" fill="#fff" stroke="#1e1e1e" stroke-width="2.6"/><ellipse cx="0" cy="0" rx="2.7" ry="2.1" fill="#d4d4d4" stroke="#2a2a2a" stroke-width="1.5"/><circle cx="0" cy="0" r="0.9" fill="#fff"/></g>
<line x1="329.0" y1="640.5" x2="304.4" y2="619.2" stroke="#1e1e1e" stroke-width="3.0" stroke-linecap="round"/>
<line x1="359.7" y1="667.1" x2="335.1" y2="645.8" stroke="#1e1e1e" stroke-width="3.0" stroke-linecap="round"/>
<line x1="324.3" y1="646.1" x2="298.6" y2="623.9" stroke="#1e1e1e" stroke-width="3.0" stroke-linecap="round"/>
<line x1="355.9" y1="673.5" x2="330.3" y2="651.3" stroke="#1e1e1e" stroke-width="3.0" stroke-linecap="round"/>
<line x1="319.5" y1="651.6" x2="292.8" y2="628.5" stroke="#1e1e1e" stroke-width="3.0" stroke-linecap="round"/>
<line x1="352.1" y1="679.9" x2="325.5" y2="656.8" stroke="#1e1e1e" stroke-width="3.0" stroke-linecap="round"/>
<line x1="314.7" y1="657.1" x2="289.9" y2="635.6" stroke="#1e1e1e" stroke-width="3.0" stroke-linecap="round"/>
<line x1="345.5" y1="683.8" x2="320.7" y2="662.3" stroke="#1e1e1e" stroke-width="3.0" stroke-linecap="round"/>
<line x1="309.9" y1="662.6" x2="284.5" y2="640.6" stroke="#1e1e1e" stroke-width="3.0" stroke-linecap="round"/>
<line x1="341.4" y1="689.8" x2="316.0" y2="667.9" stroke="#1e1e1e" stroke-width="3.0" stroke-linecap="round"/>
<line x1="305.1" y1="668.1" x2="275.5" y2="642.5" stroke="#1e1e1e" stroke-width="3.0" stroke-linecap="round"/>
<line x1="340.8" y1="699.0" x2="311.2" y2="673.4" stroke="#1e1e1e" stroke-width="3.0" stroke-linecap="round"/>
<line x1="300.4" y1="673.6" x2="269.8" y2="647.1" stroke="#1e1e1e" stroke-width="3.0" stroke-linecap="round"/>
<line x1="337.0" y1="705.4" x2="306.4" y2="678.9" stroke="#1e1e1e" stroke-width="3.0" stroke-linecap="round"/>
<line x1="295.6" y1="679.2" x2="264.0" y2="651.8" stroke="#1e1e1e" stroke-width="3.0" stroke-linecap="round"/>
<line x1="333.2" y1="711.8" x2="301.6" y2="684.4" stroke="#1e1e1e" stroke-width="3.0" stroke-linecap="round"/>
<g transform="translate(281.6,632.1) rotate(-220.7)"><line x1="-11" y1="0" x2="11" y2="0" stroke="#9a9a9a" stroke-width="1"/><ellipse cx="0" cy="0" rx="6.2" ry="4.1" fill="#fff" stroke="#1e1e1e" stroke-width="2.6"/><ellipse cx="0" cy="0" rx="2.7" ry="2.1" fill="#d4d4d4" stroke="#2a2a2a" stroke-width="1.5"/><circle cx="0" cy="0" r="0.9" fill="#fff"/></g>
<g transform="translate(350.2,691.5) rotate(-237.5)"><line x1="-11" y1="0" x2="11" y2="0" stroke="#9a9a9a" stroke-width="1"/><ellipse cx="0" cy="0" rx="6.2" ry="4.1" fill="#fff" stroke="#1e1e1e" stroke-width="2.6"/><ellipse cx="0" cy="0" rx="2.7" ry="2.1" fill="#d4d4d4" stroke="#2a2a2a" stroke-width="1.5"/><circle cx="0" cy="0" r="0.9" fill="#fff"/></g>
<line x1="480.8" y1="557.6" x2="462.1" y2="550.7" stroke="#1e1e1e" stroke-width="3.0" stroke-linecap="round"/>
<line x1="479.5" y1="564.9" x2="458.3" y2="557.0" stroke="#1e1e1e" stroke-width="3.0" stroke-linecap="round"/>
<line x1="478.2" y1="572.2" x2="454.5" y2="563.4" stroke="#1e1e1e" stroke-width="3.0" stroke-linecap="round"/>
<line x1="476.9" y1="579.5" x2="450.7" y2="569.8" stroke="#1e1e1e" stroke-width="3.0" stroke-linecap="round"/>
<line x1="473.2" y1="585.9" x2="449.3" y2="577.1" stroke="#1e1e1e" stroke-width="3.0" stroke-linecap="round"/>
<line x1="469.9" y1="592.5" x2="447.5" y2="584.2" stroke="#1e1e1e" stroke-width="3.0" stroke-linecap="round"/>
<line x1="473.0" y1="601.5" x2="439.3" y2="589.0" stroke="#1e1e1e" stroke-width="3.0" stroke-linecap="round"/>
<line x1="471.7" y1="608.8" x2="435.5" y2="595.3" stroke="#1e1e1e" stroke-width="3.0" stroke-linecap="round"/>
<line x1="470.4" y1="616.1" x2="431.7" y2="601.7" stroke="#1e1e1e" stroke-width="3.0" stroke-linecap="round"/>
<g transform="translate(440.5,578.7) rotate(-242.7)"><line x1="-11" y1="0" x2="11" y2="0" stroke="#9a9a9a" stroke-width="1"/><ellipse cx="0" cy="0" rx="6.2" ry="4.1" fill="#fff" stroke="#1e1e1e" stroke-width="2.6"/><ellipse cx="0" cy="0" rx="2.7" ry="2.1" fill="#d4d4d4" stroke="#2a2a2a" stroke-width="1.5"/><circle cx="0" cy="0" r="0.9" fill="#fff"/></g>
<g transform="translate(478.9,592.9) rotate(-256.6)"><line x1="-11" y1="0" x2="11" y2="0" stroke="#9a9a9a" stroke-width="1"/><ellipse cx="0" cy="0" rx="6.2" ry="4.1" fill="#fff" stroke="#1e1e1e" stroke-width="2.6"/><ellipse cx="0" cy="0" rx="2.7" ry="2.1" fill="#d4d4d4" stroke="#2a2a2a" stroke-width="1.5"/><circle cx="0" cy="0" r="0.9" fill="#fff"/></g>
<line x1="440.5" y1="625.9" x2="421.6" y2="618.8" stroke="#1e1e1e" stroke-width="3.0" stroke-linecap="round"/>
<line x1="467.0" y1="635.7" x2="448.0" y2="628.7" stroke="#1e1e1e" stroke-width="3.0" stroke-linecap="round"/>
<line x1="438.0" y1="632.7" x2="417.8" y2="625.2" stroke="#1e1e1e" stroke-width="3.0" stroke-linecap="round"/>
<line x1="465.7" y1="643.0" x2="445.5" y2="635.5" stroke="#1e1e1e" stroke-width="3.0" stroke-linecap="round"/>
<line x1="435.4" y1="639.6" x2="414.0" y2="631.6" stroke="#1e1e1e" stroke-width="3.0" stroke-linecap="round"/>
<line x1="464.4" y1="650.3" x2="442.9" y2="642.3" stroke="#1e1e1e" stroke-width="3.0" stroke-linecap="round"/>
<line x1="432.9" y1="646.4" x2="412.5" y2="638.8" stroke="#1e1e1e" stroke-width="3.0" stroke-linecap="round"/>
<line x1="460.8" y1="656.8" x2="440.4" y2="649.2" stroke="#1e1e1e" stroke-width="3.0" stroke-linecap="round"/>
<line x1="430.4" y1="653.3" x2="410.9" y2="646.0" stroke="#1e1e1e" stroke-width="3.0" stroke-linecap="round"/>
<line x1="457.4" y1="663.3" x2="437.9" y2="656.0" stroke="#1e1e1e" stroke-width="3.0" stroke-linecap="round"/>
<line x1="427.8" y1="660.1" x2="402.6" y2="650.7" stroke="#1e1e1e" stroke-width="3.0" stroke-linecap="round"/>
<line x1="460.5" y1="672.2" x2="435.3" y2="662.9" stroke="#1e1e1e" stroke-width="3.0" stroke-linecap="round"/>
<line x1="425.3" y1="666.9" x2="398.8" y2="657.1" stroke="#1e1e1e" stroke-width="3.0" stroke-linecap="round"/>
<line x1="459.3" y1="679.5" x2="432.8" y2="669.7" stroke="#1e1e1e" stroke-width="3.0" stroke-linecap="round"/>
<line x1="422.8" y1="673.8" x2="395.0" y2="663.5" stroke="#1e1e1e" stroke-width="3.0" stroke-linecap="round"/>
<line x1="458.0" y1="686.8" x2="430.3" y2="676.6" stroke="#1e1e1e" stroke-width="3.0" stroke-linecap="round"/>
<g transform="translate(403.7,640.7) rotate(-241.7)"><line x1="-11" y1="0" x2="11" y2="0" stroke="#9a9a9a" stroke-width="1"/><ellipse cx="0" cy="0" rx="6.2" ry="4.1" fill="#fff" stroke="#1e1e1e" stroke-width="2.6"/><ellipse cx="0" cy="0" rx="2.7" ry="2.1" fill="#d4d4d4" stroke="#2a2a2a" stroke-width="1.5"/><circle cx="0" cy="0" r="0.9" fill="#fff"/></g>
<g transform="translate(466.3,663.9) rotate(-257.6)"><line x1="-11" y1="0" x2="11" y2="0" stroke="#9a9a9a" stroke-width="1"/><ellipse cx="0" cy="0" rx="6.2" ry="4.1" fill="#fff" stroke="#1e1e1e" stroke-width="2.6"/><ellipse cx="0" cy="0" rx="2.7" ry="2.1" fill="#d4d4d4" stroke="#2a2a2a" stroke-width="1.5"/><circle cx="0" cy="0" r="0.9" fill="#fff"/></g>
<line x1="415.5" y1="693.4" x2="384.2" y2="681.8" stroke="#1e1e1e" stroke-width="3.0" stroke-linecap="round"/>
<line x1="454.3" y1="707.8" x2="423.0" y2="696.2" stroke="#1e1e1e" stroke-width="3.0" stroke-linecap="round"/>
<line x1="412.9" y1="700.2" x2="380.4" y2="688.2" stroke="#1e1e1e" stroke-width="3.0" stroke-linecap="round"/>
<line x1="453.0" y1="715.1" x2="420.4" y2="703.0" stroke="#1e1e1e" stroke-width="3.0" stroke-linecap="round"/>
<line x1="410.4" y1="707.1" x2="376.6" y2="694.5" stroke="#1e1e1e" stroke-width="3.0" stroke-linecap="round"/>
<line x1="451.7" y1="722.4" x2="417.9" y2="709.9" stroke="#1e1e1e" stroke-width="3.0" stroke-linecap="round"/>
<line x1="407.9" y1="713.9" x2="376.4" y2="702.2" stroke="#1e1e1e" stroke-width="3.0" stroke-linecap="round"/>
<line x1="446.9" y1="728.4" x2="415.4" y2="716.7" stroke="#1e1e1e" stroke-width="3.0" stroke-linecap="round"/>
<line x1="405.3" y1="720.8" x2="373.0" y2="708.8" stroke="#1e1e1e" stroke-width="3.0" stroke-linecap="round"/>
<line x1="445.2" y1="735.5" x2="412.8" y2="723.5" stroke="#1e1e1e" stroke-width="3.0" stroke-linecap="round"/>
<line x1="402.8" y1="727.6" x2="365.3" y2="713.7" stroke="#1e1e1e" stroke-width="3.0" stroke-linecap="round"/>
<line x1="447.8" y1="744.3" x2="410.3" y2="730.4" stroke="#1e1e1e" stroke-width="3.0" stroke-linecap="round"/>
<line x1="400.3" y1="734.4" x2="361.5" y2="720.1" stroke="#1e1e1e" stroke-width="3.0" stroke-linecap="round"/>
<line x1="446.5" y1="751.6" x2="407.8" y2="737.2" stroke="#1e1e1e" stroke-width="3.0" stroke-linecap="round"/>
<line x1="397.7" y1="741.3" x2="357.7" y2="726.4" stroke="#1e1e1e" stroke-width="3.0" stroke-linecap="round"/>
<line x1="445.3" y1="758.9" x2="405.2" y2="744.1" stroke="#1e1e1e" stroke-width="3.0" stroke-linecap="round"/>
<g transform="translate(367.4,701.7) rotate(-241.1)"><line x1="-11" y1="0" x2="11" y2="0" stroke="#9a9a9a" stroke-width="1"/><ellipse cx="0" cy="0" rx="6.2" ry="4.1" fill="#fff" stroke="#1e1e1e" stroke-width="2.6"/><ellipse cx="0" cy="0" rx="2.7" ry="2.1" fill="#d4d4d4" stroke="#2a2a2a" stroke-width="1.5"/><circle cx="0" cy="0" r="0.9" fill="#fff"/></g>
<g transform="translate(454.0,733.9) rotate(-258.2)"><line x1="-11" y1="0" x2="11" y2="0" stroke="#9a9a9a" stroke-width="1"/><ellipse cx="0" cy="0" rx="6.2" ry="4.1" fill="#fff" stroke="#1e1e1e" stroke-width="2.6"/><ellipse cx="0" cy="0" rx="2.7" ry="2.1" fill="#d4d4d4" stroke="#2a2a2a" stroke-width="1.5"/><circle cx="0" cy="0" r="0.9" fill="#fff"/></g>
<line x1="529.0" y1="562.4" x2="508.8" y2="562.6" stroke="#1e1e1e" stroke-width="3.0" stroke-linecap="round"/>
<line x1="530.4" y1="569.7" x2="507.6" y2="569.9" stroke="#1e1e1e" stroke-width="3.0" stroke-linecap="round"/>
<line x1="531.8" y1="577.0" x2="506.3" y2="577.2" stroke="#1e1e1e" stroke-width="3.0" stroke-linecap="round"/>
<line x1="533.2" y1="584.3" x2="505.0" y2="584.5" stroke="#1e1e1e" stroke-width="3.0" stroke-linecap="round"/>
<line x1="532.0" y1="591.6" x2="506.3" y2="591.8" stroke="#1e1e1e" stroke-width="3.0" stroke-linecap="round"/>
<line x1="531.2" y1="598.9" x2="507.1" y2="599.1" stroke="#1e1e1e" stroke-width="3.0" stroke-linecap="round"/>
<line x1="537.4" y1="606.2" x2="501.1" y2="606.4" stroke="#1e1e1e" stroke-width="3.0" stroke-linecap="round"/>
<line x1="538.8" y1="613.5" x2="499.8" y2="613.7" stroke="#1e1e1e" stroke-width="3.0" stroke-linecap="round"/>
<line x1="540.2" y1="620.8" x2="498.5" y2="621.0" stroke="#1e1e1e" stroke-width="3.0" stroke-linecap="round"/>
<g transform="translate(498.6,596.4) rotate(-263.4)"><line x1="-11" y1="0" x2="11" y2="0" stroke="#9a9a9a" stroke-width="1"/><ellipse cx="0" cy="0" rx="6.2" ry="4.1" fill="#fff" stroke="#1e1e1e" stroke-width="2.6"/><ellipse cx="0" cy="0" rx="2.7" ry="2.1" fill="#d4d4d4" stroke="#2a2a2a" stroke-width="1.5"/><circle cx="0" cy="0" r="0.9" fill="#fff"/></g>
<g transform="translate(539.8,596.1) rotate(-277.4)"><line x1="-11" y1="0" x2="11" y2="0" stroke="#9a9a9a" stroke-width="1"/><ellipse cx="0" cy="0" rx="6.2" ry="4.1" fill="#fff" stroke="#1e1e1e" stroke-width="2.6"/><ellipse cx="0" cy="0" rx="2.7" ry="2.1" fill="#d4d4d4" stroke="#2a2a2a" stroke-width="1.5"/><circle cx="0" cy="0" r="0.9" fill="#fff"/></g>
<line x1="515.5" y1="640.5" x2="495.1" y2="640.7" stroke="#1e1e1e" stroke-width="3.0" stroke-linecap="round"/>
<line x1="543.9" y1="640.3" x2="523.5" y2="640.5" stroke="#1e1e1e" stroke-width="3.0" stroke-linecap="round"/>
<line x1="515.5" y1="647.8" x2="493.8" y2="648.0" stroke="#1e1e1e" stroke-width="3.0" stroke-linecap="round"/>
<line x1="545.3" y1="647.6" x2="523.5" y2="647.8" stroke="#1e1e1e" stroke-width="3.0" stroke-linecap="round"/>
<line x1="515.6" y1="655.1" x2="492.5" y2="655.3" stroke="#1e1e1e" stroke-width="3.0" stroke-linecap="round"/>
<line x1="546.7" y1="654.9" x2="523.6" y2="655.1" stroke="#1e1e1e" stroke-width="3.0" stroke-linecap="round"/>
<line x1="515.6" y1="662.4" x2="493.7" y2="662.6" stroke="#1e1e1e" stroke-width="3.0" stroke-linecap="round"/>
<line x1="545.6" y1="662.2" x2="523.6" y2="662.4" stroke="#1e1e1e" stroke-width="3.0" stroke-linecap="round"/>
<line x1="515.7" y1="669.7" x2="494.7" y2="669.9" stroke="#1e1e1e" stroke-width="3.0" stroke-linecap="round"/>
<line x1="544.7" y1="669.5" x2="523.7" y2="669.7" stroke="#1e1e1e" stroke-width="3.0" stroke-linecap="round"/>
<line x1="515.7" y1="677.0" x2="488.6" y2="677.2" stroke="#1e1e1e" stroke-width="3.0" stroke-linecap="round"/>
<line x1="550.8" y1="676.8" x2="523.7" y2="677.0" stroke="#1e1e1e" stroke-width="3.0" stroke-linecap="round"/>
<line x1="515.8" y1="684.3" x2="487.3" y2="684.5" stroke="#1e1e1e" stroke-width="3.0" stroke-linecap="round"/>
<line x1="552.2" y1="684.1" x2="523.8" y2="684.3" stroke="#1e1e1e" stroke-width="3.0" stroke-linecap="round"/>
<line x1="515.8" y1="691.6" x2="486.0" y2="691.8" stroke="#1e1e1e" stroke-width="3.0" stroke-linecap="round"/>
<line x1="553.6" y1="691.4" x2="523.8" y2="691.6" stroke="#1e1e1e" stroke-width="3.0" stroke-linecap="round"/>
<g transform="translate(486.0,667.4) rotate(-262.4)"><line x1="-11" y1="0" x2="11" y2="0" stroke="#9a9a9a" stroke-width="1"/><ellipse cx="0" cy="0" rx="6.2" ry="4.1" fill="#fff" stroke="#1e1e1e" stroke-width="2.6"/><ellipse cx="0" cy="0" rx="2.7" ry="2.1" fill="#d4d4d4" stroke="#2a2a2a" stroke-width="1.5"/><circle cx="0" cy="0" r="0.9" fill="#fff"/></g>
<g transform="translate(553.3,666.9) rotate(-278.4)"><line x1="-11" y1="0" x2="11" y2="0" stroke="#9a9a9a" stroke-width="1"/><ellipse cx="0" cy="0" rx="6.2" ry="4.1" fill="#fff" stroke="#1e1e1e" stroke-width="2.6"/><ellipse cx="0" cy="0" rx="2.7" ry="2.1" fill="#d4d4d4" stroke="#2a2a2a" stroke-width="1.5"/><circle cx="0" cy="0" r="0.9" fill="#fff"/></g>
<line x1="516.0" y1="712.5" x2="482.4" y2="712.8" stroke="#1e1e1e" stroke-width="3.0" stroke-linecap="round"/>
<line x1="557.6" y1="712.2" x2="524.0" y2="712.5" stroke="#1e1e1e" stroke-width="3.0" stroke-linecap="round"/>
<line x1="516.0" y1="719.8" x2="481.1" y2="720.1" stroke="#1e1e1e" stroke-width="3.0" stroke-linecap="round"/>
<line x1="559.0" y1="719.5" x2="524.0" y2="719.8" stroke="#1e1e1e" stroke-width="3.0" stroke-linecap="round"/>
<line x1="516.1" y1="727.1" x2="479.8" y2="727.4" stroke="#1e1e1e" stroke-width="3.0" stroke-linecap="round"/>
<line x1="560.4" y1="726.8" x2="524.1" y2="727.1" stroke="#1e1e1e" stroke-width="3.0" stroke-linecap="round"/>
<line x1="516.1" y1="734.4" x2="482.3" y2="734.7" stroke="#1e1e1e" stroke-width="3.0" stroke-linecap="round"/>
<line x1="558.0" y1="734.1" x2="524.1" y2="734.4" stroke="#1e1e1e" stroke-width="3.0" stroke-linecap="round"/>
<line x1="516.2" y1="741.7" x2="481.4" y2="742.0" stroke="#1e1e1e" stroke-width="3.0" stroke-linecap="round"/>
<line x1="559.0" y1="741.4" x2="524.2" y2="741.7" stroke="#1e1e1e" stroke-width="3.0" stroke-linecap="round"/>
<line x1="516.2" y1="749.0" x2="475.9" y2="749.3" stroke="#1e1e1e" stroke-width="3.0" stroke-linecap="round"/>
<line x1="564.6" y1="748.7" x2="524.2" y2="749.0" stroke="#1e1e1e" stroke-width="3.0" stroke-linecap="round"/>
<line x1="516.3" y1="756.3" x2="474.6" y2="756.6" stroke="#1e1e1e" stroke-width="3.0" stroke-linecap="round"/>
<line x1="565.9" y1="756.0" x2="524.3" y2="756.3" stroke="#1e1e1e" stroke-width="3.0" stroke-linecap="round"/>
<line x1="516.3" y1="763.6" x2="473.3" y2="763.9" stroke="#1e1e1e" stroke-width="3.0" stroke-linecap="round"/>
<line x1="567.3" y1="763.3" x2="524.3" y2="763.6" stroke="#1e1e1e" stroke-width="3.0" stroke-linecap="round"/>
<g transform="translate(473.7,737.3) rotate(-261.8)"><line x1="-11" y1="0" x2="11" y2="0" stroke="#9a9a9a" stroke-width="1"/><ellipse cx="0" cy="0" rx="6.2" ry="4.1" fill="#fff" stroke="#1e1e1e" stroke-width="2.6"/><ellipse cx="0" cy="0" rx="2.7" ry="2.1" fill="#d4d4d4" stroke="#2a2a2a" stroke-width="1.5"/><circle cx="0" cy="0" r="0.9" fill="#fff"/></g>
<g transform="translate(566.6,736.7) rotate(-279.0)"><line x1="-11" y1="0" x2="11" y2="0" stroke="#9a9a9a" stroke-width="1"/><ellipse cx="0" cy="0" rx="6.2" ry="4.1" fill="#fff" stroke="#1e1e1e" stroke-width="2.6"/><ellipse cx="0" cy="0" rx="2.7" ry="2.1" fill="#d4d4d4" stroke="#2a2a2a" stroke-width="1.5"/><circle cx="0" cy="0" r="0.9" fill="#fff"/></g>
<line x1="579.9" y1="625.1" x2="566.8" y2="628.7" stroke="#1e1e1e" stroke-width="3.0" stroke-linecap="round"/>
<line x1="582.5" y1="631.9" x2="568.2" y2="635.8" stroke="#1e1e1e" stroke-width="3.0" stroke-linecap="round"/>
<line x1="585.0" y1="638.6" x2="569.6" y2="642.9" stroke="#1e1e1e" stroke-width="3.0" stroke-linecap="round"/>
<line x1="587.5" y1="645.4" x2="570.9" y2="650.0" stroke="#1e1e1e" stroke-width="3.0" stroke-linecap="round"/>
<line x1="590.0" y1="652.2" x2="572.3" y2="657.1" stroke="#1e1e1e" stroke-width="3.0" stroke-linecap="round"/>
<line x1="592.5" y1="658.9" x2="573.6" y2="664.2" stroke="#1e1e1e" stroke-width="3.0" stroke-linecap="round"/>
<line x1="595.1" y1="665.7" x2="575.0" y2="671.3" stroke="#1e1e1e" stroke-width="3.0" stroke-linecap="round"/>
<line x1="597.6" y1="672.5" x2="576.3" y2="678.4" stroke="#1e1e1e" stroke-width="3.0" stroke-linecap="round"/>
<line x1="600.1" y1="679.3" x2="577.7" y2="685.5" stroke="#1e1e1e" stroke-width="3.0" stroke-linecap="round"/>
<line x1="602.6" y1="686.0" x2="579.0" y2="692.6" stroke="#1e1e1e" stroke-width="3.0" stroke-linecap="round"/>
<line x1="605.1" y1="692.8" x2="580.4" y2="699.7" stroke="#1e1e1e" stroke-width="3.0" stroke-linecap="round"/>
<line x1="607.6" y1="699.6" x2="581.7" y2="706.8" stroke="#1e1e1e" stroke-width="3.0" stroke-linecap="round"/>
<line x1="610.2" y1="706.3" x2="583.1" y2="713.9" stroke="#1e1e1e" stroke-width="3.0" stroke-linecap="round"/>
<line x1="612.7" y1="713.1" x2="584.5" y2="721.0" stroke="#1e1e1e" stroke-width="3.0" stroke-linecap="round"/>
<line x1="615.2" y1="719.9" x2="585.8" y2="728.1" stroke="#1e1e1e" stroke-width="3.0" stroke-linecap="round"/>
<line x1="617.7" y1="726.7" x2="587.2" y2="735.2" stroke="#1e1e1e" stroke-width="3.0" stroke-linecap="round"/>
<line x1="620.2" y1="733.4" x2="588.5" y2="742.3" stroke="#1e1e1e" stroke-width="3.0" stroke-linecap="round"/>
<g transform="translate(555.5,562.9) rotate(-285.6)"><line x1="-11" y1="0" x2="11" y2="0" stroke="#9a9a9a" stroke-width="1"/><ellipse cx="0" cy="0" rx="6.2" ry="4.1" fill="#fff" stroke="#1e1e1e" stroke-width="2.6"/><ellipse cx="0" cy="0" rx="2.7" ry="2.1" fill="#d4d4d4" stroke="#2a2a2a" stroke-width="1.5"/><circle cx="0" cy="0" r="0.9" fill="#fff"/></g>
<g transform="translate(607.6,749.2) rotate(-375.6)"><line x1="-11" y1="0" x2="11" y2="0" stroke="#9a9a9a" stroke-width="1"/><ellipse cx="0" cy="0" rx="6.2" ry="4.1" fill="#fff" stroke="#1e1e1e" stroke-width="2.6"/><ellipse cx="0" cy="0" rx="2.7" ry="2.1" fill="#d4d4d4" stroke="#2a2a2a" stroke-width="1.5"/><circle cx="0" cy="0" r="0.9" fill="#fff"/></g>
<line x1="507.4" y1="312.0" x2="486.4" y2="80.9" stroke="#1e1e1e" stroke-width="2.8" />
<line x1="467.6" y1="322.9" x2="367.8" y2="113.5" stroke="#1e1e1e" stroke-width="2.8" />
<line x1="433.4" y1="347.7" x2="265.7" y2="187.4" stroke="#1e1e1e" stroke-width="2.8" />
<line x1="410.5" y1="382.4" x2="197.2" y2="291.0" stroke="#1e1e1e" stroke-width="2.8" />
<line x1="401.1" y1="423.2" x2="169.4" y2="412.7" stroke="#1e1e1e" stroke-width="2.8" />
<line x1="406.7" y1="464.5" x2="185.9" y2="535.8" stroke="#1e1e1e" stroke-width="2.8" />
<line x1="426.9" y1="502.0" x2="246.4" y2="647.7" stroke="#1e1e1e" stroke-width="2.8" />
<line x1="458.3" y1="529.1" x2="339.8" y2="728.6" stroke="#1e1e1e" stroke-width="2.8" />
<line x1="497.7" y1="543.7" x2="457.4" y2="772.2" stroke="#1e1e1e" stroke-width="2.8" />
<line x1="539.9" y1="543.4" x2="583.4" y2="771.3" stroke="#1e1e1e" stroke-width="2.8" />
<line x1="558.8" y1="538.2" x2="639.7" y2="755.6" stroke="#1e1e1e" stroke-width="2.8" />
<path d="M499.7,227.3 A202.0,202.0 0 0 0 431.0,246.2" fill="none" stroke="#1e1e1e" stroke-width="2.8" />
<path d="M492.9,152.6 A277.0,277.0 0 0 0 398.7,178.5" fill="none" stroke="#1e1e1e" stroke-width="2.8" />
<path d="M431.0,246.2 A202.0,202.0 0 0 0 372.0,288.9" fill="none" stroke="#1e1e1e" stroke-width="2.8" />
<path d="M398.7,178.5 A277.0,277.0 0 0 0 317.7,237.1" fill="none" stroke="#1e1e1e" stroke-width="2.8" />
<path d="M372.0,288.9 A202.0,202.0 0 0 0 332.3,348.9" fill="none" stroke="#1e1e1e" stroke-width="2.8" />
<path d="M317.7,237.1 A277.0,277.0 0 0 0 263.4,319.4" fill="none" stroke="#1e1e1e" stroke-width="2.8" />
<path d="M332.3,348.9 A202.0,202.0 0 0 0 316.2,419.3" fill="none" stroke="#1e1e1e" stroke-width="2.8" />
<path d="M263.4,319.4 A277.0,277.0 0 0 0 241.3,415.9" fill="none" stroke="#1e1e1e" stroke-width="2.8" />
<path d="M316.2,419.3 A202.0,202.0 0 0 0 325.8,490.6" fill="none" stroke="#1e1e1e" stroke-width="2.8" />
<path d="M241.3,415.9 A277.0,277.0 0 0 0 254.4,513.6" fill="none" stroke="#1e1e1e" stroke-width="2.8" />
<path d="M325.8,490.6 A202.0,202.0 0 0 0 360.8,555.3" fill="none" stroke="#1e1e1e" stroke-width="2.8" />
<path d="M254.4,513.6 A277.0,277.0 0 0 0 302.4,602.4" fill="none" stroke="#1e1e1e" stroke-width="2.8" />
<path d="M360.8,555.3 A202.0,202.0 0 0 0 414.9,602.2" fill="none" stroke="#1e1e1e" stroke-width="2.8" />
<path d="M302.4,602.4 A277.0,277.0 0 0 0 376.6,666.7" fill="none" stroke="#1e1e1e" stroke-width="2.8" />
<path d="M414.9,602.2 A202.0,202.0 0 0 0 482.9,627.4" fill="none" stroke="#1e1e1e" stroke-width="2.8" />
<path d="M376.6,666.7 A277.0,277.0 0 0 0 469.9,701.3" fill="none" stroke="#1e1e1e" stroke-width="2.8" />
<path d="M482.9,627.4 A202.0,202.0 0 0 0 555.9,626.9" fill="none" stroke="#1e1e1e" stroke-width="2.8" />
<path d="M469.9,701.3 A277.0,277.0 0 0 0 569.9,700.6" fill="none" stroke="#1e1e1e" stroke-width="2.8" />
<path d="M486.4,80.9 A349.0,349.0 0 1 0 639.7,755.6" fill="none" stroke="#1e1e1e" stroke-width="3.0" />
<line x1="457.4" y1="84.8" x2="453.8" y2="64.6" stroke="#1e1e1e" stroke-width="3.0" />
<line x1="343.5" y1="126.3" x2="333.3" y2="108.5" stroke="#1e1e1e" stroke-width="3.0" />
<line x1="250.7" y1="204.2" x2="234.9" y2="191.0" stroke="#1e1e1e" stroke-width="3.0" />
<line x1="190.0" y1="309.1" x2="170.8" y2="302.1" stroke="#1e1e1e" stroke-width="3.0" />
<line x1="169.0" y1="428.5" x2="148.5" y2="428.5" stroke="#1e1e1e" stroke-width="3.0" />
<line x1="190.0" y1="547.9" x2="170.8" y2="554.9" stroke="#1e1e1e" stroke-width="3.0" />
<line x1="250.7" y1="652.8" x2="234.9" y2="666.0" stroke="#1e1e1e" stroke-width="3.0" />
<line x1="343.5" y1="730.7" x2="333.2" y2="748.5" stroke="#1e1e1e" stroke-width="3.0" />
<line x1="457.4" y1="772.2" x2="453.8" y2="792.4" stroke="#1e1e1e" stroke-width="3.0" />
<line x1="578.6" y1="772.2" x2="582.2" y2="792.4" stroke="#1e1e1e" stroke-width="3.0" />
<line x1="398.6" y1="100.5" x2="391.6" y2="81.3" stroke="#9a9a9a" stroke-width="0.9" />
<line x1="293.7" y1="161.2" x2="280.5" y2="145.4" stroke="#9a9a9a" stroke-width="0.9" />
<path d="M645.2,770.6 A365.0,365.0 0 0 0 484.9,65.0" fill="none" stroke="#1e1e1e" stroke-width="1.8" />
<path d="M557.9,535.8 A114.5,114.5 0 0 0 507.6,314.5" fill="none" stroke="#1e1e1e" stroke-width="1.5" />
<path d="M577.9,543.9 L577.8,543.9 L577.5,544.1 L577.4,544.2 L577.1,544.4 L577.0,544.5 L576.7,544.7 L576.6,544.8 L576.4,545.0 L576.3,545.1 L576.1,545.4 L576.0,545.5 L575.8,545.8 L575.8,545.9 L575.6,546.3 L575.6,546.4 L575.4,546.7 L575.4,546.8 L575.3,547.2 L575.3,547.3 L575.2,547.6 L575.2,547.8 L575.2,548.1 L575.2,548.2 L575.2,548.6 L575.2,548.7 L575.2,549.1 L575.2,549.2 L575.3,549.6 L575.4,549.7 L575.5,550.0 L575.5,550.1 L583.4,571.4 L583.4,571.4 L583.6,571.8 L583.6,571.9 L583.8,572.2 L583.9,572.4 L584.1,572.7 L584.2,572.8 L584.4,573.0 L584.5,573.1 L584.8,573.4 L584.9,573.5 L585.2,573.7 L585.3,573.8 L585.6,574.0 L585.7,574.0 L586.0,574.2 L586.1,574.3 L586.5,574.4 L586.6,574.4 L586.9,574.5 L587.1,574.6 L587.4,574.6 L587.5,574.6 L588.0,574.7 L588.0,574.7 L588.2,574.7 L588.3,574.7 L588.4,574.7 L588.4,574.7 L588.7,574.7 L588.7,574.7 L588.8,574.7 L588.9,574.7 L589.1,574.7 L589.2,574.8 L589.2,574.8 L589.3,574.8 L589.5,574.8 L589.6,574.8 L589.6,574.8 L589.7,574.9 L589.9,574.9 L590.0,574.9 L590.1,574.9 L590.1,575.0 L590.4,575.0 L590.4,575.0 L590.5,575.1 L590.5,575.1 L590.8,575.1 L590.8,575.2 L590.9,575.2 L591.0,575.2 L591.2,575.3 L591.2,575.3 L591.3,575.3 L591.4,575.4 L591.6,575.5 L591.6,575.5 L591.7,575.5 L591.7,575.6 L592.0,575.7 L592.0,575.7 L592.1,575.7 L592.1,575.7 L592.3,575.9 L592.4,575.9 L592.4,575.9 L592.5,576.0 L592.7,576.1 L592.8,576.1 L592.8,576.2 L592.9,576.2 L593.1,576.3 L593.1,576.4 L593.2,576.4 L593.2,576.5 L593.4,576.6 L593.5,576.6 L593.5,576.7 L593.6,576.7 L593.7,576.9 L593.8,576.9 L593.8,577.0 L593.9,577.0 L594.1,577.2 L594.1,577.2 L594.1,577.3 L594.2,577.3 L594.4,577.5 L594.4,577.5 L594.4,577.6 L594.5,577.6 L594.6,577.8 L594.7,577.9 L594.7,577.9 L594.8,578.0 L594.9,578.1 L594.9,578.2 L595.0,578.2 L595.0,578.3 L595.2,578.5 L595.2,578.6 L595.2,578.6 L595.3,578.7 L595.4,578.9 L595.4,578.9 L595.5,579.0 L595.5,579.0 L595.6,579.2 L595.6,579.3 L595.7,579.3 L595.7,579.4 L595.8,579.6 L595.8,579.7 L595.9,579.7 L595.9,579.8 L596.0,580.0 L596.0,580.1 L596.0,580.1 L596.1,580.2 L596.2,580.4 L596.2,580.5 L596.2,580.5 L596.2,580.6 L596.3,580.8 L596.3,580.9 L596.3,580.9 L596.3,581.0 L596.4,581.2 L596.4,581.3 L596.4,581.4 L596.5,581.4 L596.5,581.7 L596.5,581.7 L596.5,581.8 L596.5,581.8 L596.6,582.1 L596.6,582.1 L596.6,582.2 L596.6,582.3 L596.6,582.5 L596.7,582.6 L596.7,582.6 L596.7,582.7 L596.7,582.9 L596.7,583.0 L596.7,583.1 L596.7,583.1 L596.7,583.4 L596.7,583.4 L596.7,583.5 L596.7,583.6 L596.7,583.8 L596.7,583.9 L596.7,583.9 L596.7,584.0 L596.7,584.2 L596.7,584.3 L596.7,584.4 L596.6,584.4 L596.6,584.7 L596.6,584.7 L596.6,584.8 L596.6,584.8 L596.5,585.1 L596.5,585.2 L596.5,585.2 L596.5,585.3 L596.5,585.5 L596.4,585.6 L596.4,585.6 L596.4,585.7 L596.3,585.9 L596.3,586.0 L596.3,586.0 L596.3,586.1 L596.2,586.3 L596.2,586.4 L596.2,586.5 L596.2,586.5 L596.1,586.7 L596.0,586.8 L596.0,586.9 L596.0,586.9 L595.9,587.1 L595.9,587.2 L595.8,587.3 L595.8,587.3 L595.7,587.5 L595.7,587.6 L595.6,587.6 L595.6,587.7 L595.5,587.9 L595.5,588.0 L595.4,588.0 L595.4,588.1 L595.3,588.3 L595.2,588.3 L595.2,588.4 L595.2,588.4 L595.0,588.6 L595.0,588.7 L594.9,588.7 L594.9,588.8 L594.8,589.0 L594.7,589.0 L594.7,589.1 L594.6,589.1 L594.5,589.3 L594.4,589.4 L594.4,589.4 L594.4,589.4 L594.2,589.6 L594.1,589.7 L594.1,589.7 L594.1,589.8 L593.9,589.9 L593.8,590.0 L593.7,590.1 L593.7,590.1 L593.5,590.3 L593.4,590.4 L593.2,590.7 L593.1,590.8 L592.9,591.1 L592.8,591.2 L592.6,591.5 L592.6,591.6 L592.4,592.0 L592.4,592.1 L592.2,592.5 L592.2,592.6 L592.1,593.0 L592.1,593.1 L592.1,593.5 L592.1,593.6 L592.1,594.0 L592.1,594.1 L592.1,594.5 L592.1,594.6 L592.2,595.0 L592.3,595.1 L592.4,595.5 L592.4,595.5 L594.7,601.9 L594.8,601.9 L594.9,602.3 L595.0,602.4 L595.2,602.7 L595.2,602.8 L595.4,603.1 L595.5,603.2 L595.7,603.5 L595.8,603.6 L596.1,603.8 L596.2,603.9 L596.4,604.2 L596.5,604.2 L596.9,604.4 L597.0,604.5 L597.3,604.7 L597.4,604.7 L597.7,604.9 L597.8,604.9 L598.2,605.0 L598.3,605.0 L598.7,605.1 L598.8,605.1 L599.2,605.1 L599.3,605.2 L599.6,605.2 L599.8,605.1 L600.1,605.1 L600.2,605.1 L600.6,605.0 L600.7,605.0 L601.1,604.9 L601.2,604.8 L601.6,604.7 L601.6,604.7 L602.2,604.4 L602.2,604.4 L604.0,603.5 L604.1,603.5 L605.9,602.6 L605.9,602.6 L607.7,601.7 L607.7,601.6 L609.5,600.7 L609.5,600.7 L611.3,599.7 L611.3,599.7 L613.1,598.7 L613.1,598.7 L614.9,597.7 L614.9,597.7 L616.6,596.7 L616.7,596.7 L618.4,595.7 L618.5,595.6 L620.2,594.6 L620.2,594.6 L621.9,593.5 L621.9,593.5 L623.6,592.4 L623.7,592.4 L625.3,591.3 L625.4,591.3 L627.0,590.2 L627.1,590.1 L628.7,589.0 L628.8,589.0 L630.4,587.8 L630.5,587.8 L632.1,586.6 L632.1,586.6 L632.6,586.2 L632.7,586.2 L633.0,585.9 L633.1,585.9 L633.4,585.6 L633.4,585.5 L633.7,585.2 L633.7,585.1 L634.0,584.8 L634.0,584.7 L634.2,584.4 L634.2,584.3 L634.4,584.0 L634.4,583.9 L634.5,583.5 L634.6,583.4 L634.6,583.0 L634.7,582.9 L634.7,582.6 L634.7,582.4 L634.7,582.1 L634.7,581.9 L634.7,581.6 L634.7,581.5 L634.6,581.1 L634.6,581.0 L634.5,580.6 L634.4,580.5 L634.3,580.2 L634.3,580.1 L634.1,579.7 L634.0,579.6 L633.8,579.3 L633.8,579.2 L633.5,578.9 L633.5,578.9 L629.1,573.8 L629.0,573.7 L628.7,573.4 L628.6,573.4 L628.4,573.1 L628.3,573.0 L627.9,572.8 L627.8,572.8 L627.5,572.6 L627.4,572.5 L627.1,572.4 L626.9,572.3 L626.6,572.2 L626.5,572.2 L626.1,572.1 L626.0,572.1 L625.6,572.1 L625.5,572.0 L625.1,572.0 L625.0,572.0 L624.6,572.1 L624.5,572.1 L624.1,572.2 L624.0,572.2 L623.6,572.3 L623.5,572.3 L623.5,572.3 L623.5,572.4 L623.2,572.4 L623.2,572.5 L623.1,572.5 L623.1,572.5 L622.8,572.6 L622.8,572.6 L622.7,572.6 L622.6,572.6 L622.4,572.7 L622.3,572.7 L622.3,572.7 L622.2,572.7 L622.0,572.7 L621.9,572.8 L621.9,572.8 L621.8,572.8 L621.5,572.8 L621.5,572.8 L621.4,572.8 L621.4,572.8 L621.1,572.8 L621.1,572.8 L621.0,572.8 L620.9,572.8 L620.7,572.8 L620.6,572.8 L620.6,572.8 L620.5,572.8 L620.3,572.8 L620.2,572.8 L620.1,572.8 L620.1,572.8 L619.8,572.8 L619.8,572.8 L619.7,572.8 L619.6,572.8 L619.4,572.8 L619.3,572.8 L619.3,572.8 L619.2,572.7 L619.0,572.7 L618.9,572.7 L618.8,572.7 L618.8,572.7 L618.5,572.6 L618.5,572.6 L618.4,572.6 L618.4,572.6 L618.1,572.5 L618.1,572.5 L618.0,572.5 L618.0,572.4 L617.7,572.4 L617.7,572.3 L617.6,572.3 L617.5,572.3 L617.3,572.2 L617.3,572.2 L617.2,572.2 L617.1,572.1 L616.9,572.0 L616.9,572.0 L616.8,572.0 L616.8,572.0 L616.5,571.9 L616.5,571.8 L616.4,571.8 L616.4,571.8 L616.2,571.6 L616.1,571.6 L616.0,571.6 L616.0,571.6 L615.8,571.4 L615.7,571.4 L615.7,571.4 L615.6,571.3 L615.4,571.2 L615.4,571.1 L615.3,571.1 L615.3,571.1 L615.1,570.9 L615.0,570.9 L615.0,570.8 L614.9,570.8 L614.8,570.6 L614.7,570.6 L614.7,570.6 L614.6,570.5 L614.4,570.3 L614.4,570.3 L614.4,570.3 L614.3,570.2 L614.1,570.0 L614.1,570.0 L614.1,569.9 L614.0,569.9 L613.9,569.7 L613.8,569.7 L613.8,569.6 L613.7,569.6 L613.6,569.4 L613.5,569.3 L613.5,569.3 L613.5,569.2 L613.3,569.0 L613.3,569.0 L613.3,568.9 L613.2,568.9 L613.1,568.7 L613.1,568.6 L613.0,568.5 L613.0,568.5 L612.9,568.3 L612.9,568.2 L612.8,568.2 L612.8,568.1 L612.7,567.9 L612.7,567.8 L612.6,567.8 L612.6,567.7 L612.5,567.5 L612.5,567.4 L612.5,567.4 L612.4,567.3 L612.3,567.1 L612.3,567.0 L612.3,567.0 L612.3,566.9 L612.2,566.7 L612.2,566.6 L612.2,566.6 L612.1,566.5 L612.1,566.3 L612.1,566.2 L612.1,566.2 L612.0,566.1 L612.0,565.9 L612.0,565.8 L612.0,565.7 L611.9,565.7 L611.9,565.4 L611.9,565.4 L611.9,565.3 L611.9,565.3 L611.8,565.0 L611.8,564.9 L611.8,564.9 L611.8,564.8 L611.8,564.6 L611.8,564.5 L611.8,564.5 L611.8,564.4 L611.8,564.1 L611.8,564.1 L611.8,564.0 L611.8,564.0 L611.8,563.7 L611.8,563.7 L611.8,563.6 L611.8,563.5 L611.8,563.3 L611.8,563.2 L611.8,563.2 L611.8,563.1 L611.9,562.9 L611.9,562.8 L611.9,562.7 L611.9,562.7 L611.9,562.4 L612.0,562.4 L612.0,562.3 L612.0,562.2 L612.0,562.0 L612.1,561.9 L612.1,561.9 L612.1,561.8 L612.1,561.6 L612.2,561.5 L612.2,561.5 L612.2,561.4 L612.3,561.2 L612.3,561.1 L612.3,561.1 L612.3,561.0 L612.4,560.8 L612.5,560.7 L612.5,560.7 L612.5,560.6 L612.6,560.4 L612.6,560.3 L612.7,560.3 L612.7,560.2 L612.8,559.9 L612.8,559.9 L613.0,559.6 L613.0,559.5 L613.2,559.1 L613.2,559.0 L613.3,558.6 L613.3,558.5 L613.4,558.1 L613.4,558.0 L613.4,557.6 L613.4,557.5 L613.4,557.1 L613.3,557.0 L613.3,556.6 L613.3,556.5 L613.2,556.1 L613.1,556.0 L613.0,555.7 L612.9,555.6 L612.8,555.2 L612.7,555.1 L612.5,554.8 L612.4,554.7 L612.2,554.4 L612.1,554.3 L597.2,537.2 L597.2,537.1 L596.9,536.9 L596.8,536.8 L596.6,536.5 L596.5,536.5 L596.2,536.3 L596.1,536.2 L595.8,536.0 L595.7,536.0 L595.3,535.8 L595.2,535.8 L594.9,535.7 L594.8,535.6 L594.4,535.5 L594.3,535.5 L593.9,535.5 L593.8,535.5 L593.4,535.4 L593.3,535.5 L593.0,535.5 L592.8,535.5 L592.5,535.5 L592.4,535.6 L592.0,535.7 L591.9,535.7 L591.6,535.8 L591.5,535.9 L591.1,536.0 L591.0,536.1 L590.7,536.3 L590.6,536.3 L590.1,536.7 L590.0,536.7 L589.2,537.3 L589.2,537.3 L588.3,537.8 L588.3,537.8 L587.5,538.4 L587.5,538.4 L586.6,538.9 L586.6,538.9 L585.7,539.5 L585.7,539.5 L584.8,540.0 L584.8,540.0 L584.0,540.5 L583.9,540.5 L583.1,541.0 L583.0,541.1 L582.2,541.6 L582.1,541.6 L581.3,542.1 L581.3,542.1 L580.4,542.6 L580.3,542.6 L579.5,543.1 L579.4,543.1 L578.5,543.5 L578.5,543.5Z" fill="none" stroke="#1e1e1e" stroke-width="2.1" stroke-linejoin="round"/>
<path d="M606.1,619.1 L606.0,619.2 L605.7,619.3 L605.6,619.4 L605.3,619.6 L605.2,619.7 L604.9,619.9 L604.8,620.0 L604.5,620.3 L604.4,620.4 L604.2,620.6 L604.1,620.7 L603.9,621.1 L603.9,621.2 L603.7,621.5 L603.6,621.6 L603.5,622.0 L603.5,622.1 L603.3,622.4 L603.3,622.5 L603.2,622.9 L603.2,623.0 L603.2,623.4 L603.2,623.5 L603.2,623.9 L603.2,624.0 L603.2,624.4 L603.3,624.5 L603.3,624.9 L603.4,625.0 L603.5,625.4 L603.5,625.4 L608.5,639.0 L608.6,639.0 L608.7,639.4 L608.8,639.5 L609.0,639.8 L609.0,639.9 L609.2,640.3 L609.3,640.3 L609.6,640.6 L609.6,640.7 L609.9,641.0 L610.0,641.1 L610.3,641.3 L610.4,641.4 L610.7,641.6 L610.8,641.6 L611.1,641.8 L611.3,641.8 L611.6,642.0 L611.7,642.0 L612.1,642.1 L612.2,642.1 L612.6,642.2 L612.7,642.2 L613.1,642.3 L613.1,642.3 L613.4,642.3 L613.4,642.3 L613.5,642.3 L613.6,642.3 L613.8,642.3 L613.9,642.3 L613.9,642.3 L614.0,642.3 L614.2,642.3 L614.3,642.3 L614.4,642.4 L614.4,642.4 L614.7,642.4 L614.7,642.4 L614.8,642.4 L614.8,642.4 L615.1,642.5 L615.1,642.5 L615.2,642.5 L615.3,642.5 L615.5,642.6 L615.6,642.6 L615.6,642.6 L615.7,642.7 L615.9,642.7 L616.0,642.8 L616.0,642.8 L616.1,642.8 L616.3,642.9 L616.4,642.9 L616.4,642.9 L616.5,643.0 L616.7,643.1 L616.8,643.1 L616.8,643.1 L616.9,643.1 L617.1,643.3 L617.2,643.3 L617.2,643.3 L617.3,643.3 L617.5,643.5 L617.5,643.5 L617.6,643.5 L617.6,643.6 L617.8,643.7 L617.9,643.7 L618.0,643.8 L618.0,643.8 L618.2,643.9 L618.3,644.0 L618.3,644.0 L618.4,644.0 L618.5,644.2 L618.6,644.2 L618.6,644.3 L618.7,644.3 L618.9,644.5 L618.9,644.5 L619.0,644.6 L619.0,644.6 L619.2,644.8 L619.2,644.8 L619.3,644.9 L619.3,644.9 L619.5,645.1 L619.5,645.1 L619.6,645.2 L619.6,645.2 L619.8,645.4 L619.8,645.5 L619.9,645.5 L619.9,645.5 L620.0,645.7 L620.1,645.8 L620.1,645.8 L620.2,645.9 L620.3,646.1 L620.3,646.1 L620.4,646.2 L620.4,646.2 L620.5,646.5 L620.6,646.5 L620.6,646.6 L620.6,646.6 L620.8,646.8 L620.8,646.9 L620.8,646.9 L620.8,647.0 L621.0,647.2 L621.0,647.3 L621.0,647.3 L621.0,647.4 L621.1,647.6 L621.2,647.7 L621.2,647.7 L621.2,647.8 L621.3,648.0 L621.3,648.1 L621.3,648.1 L621.4,648.2 L621.4,648.4 L621.4,648.5 L621.5,648.5 L621.5,648.6 L621.5,648.8 L621.6,648.9 L621.6,648.9 L621.6,649.0 L621.6,649.3 L621.7,649.3 L621.7,649.4 L621.7,649.4 L621.7,649.7 L621.7,649.7 L621.7,649.8 L621.8,649.9 L621.8,650.1 L621.8,650.2 L621.8,650.2 L621.8,650.3 L621.8,650.5 L621.8,650.6 L621.8,650.7 L621.8,650.7 L621.8,651.0 L621.8,651.0 L621.8,651.1 L621.8,651.1 L621.8,651.4 L621.8,651.5 L621.8,651.5 L621.8,651.6 L621.8,651.8 L621.8,651.9 L621.8,652.0 L621.8,652.0 L621.8,652.3 L621.7,652.3 L621.7,652.4 L621.7,652.4 L621.7,652.7 L621.7,652.7 L621.7,652.8 L621.6,652.9 L621.6,653.1 L621.6,653.2 L621.6,653.2 L621.5,653.3 L621.5,653.5 L621.5,653.6 L621.4,653.6 L621.4,653.7 L621.4,653.9 L621.3,654.0 L621.3,654.1 L621.3,654.1 L621.2,654.3 L621.2,654.4 L621.2,654.5 L621.1,654.5 L621.0,654.7 L621.0,654.8 L621.0,654.8 L621.0,654.9 L620.8,655.1 L620.8,655.2 L620.8,655.2 L620.8,655.3 L620.6,655.5 L620.6,655.6 L620.6,655.6 L620.5,655.7 L620.4,655.9 L620.4,655.9 L620.3,656.0 L620.3,656.0 L620.2,656.2 L620.1,656.3 L620.1,656.3 L620.0,656.4 L619.9,656.6 L619.9,656.6 L619.8,656.7 L619.8,656.7 L619.6,656.9 L619.6,656.9 L619.5,657.0 L619.5,657.0 L619.3,657.2 L619.3,657.3 L619.2,657.3 L619.2,657.3 L619.0,657.5 L619.0,657.6 L618.9,657.6 L618.8,657.7 L618.6,657.9 L618.5,658.0 L618.3,658.3 L618.2,658.4 L618.0,658.7 L617.9,658.8 L617.7,659.1 L617.7,659.2 L617.5,659.6 L617.5,659.7 L617.4,660.1 L617.4,660.2 L617.3,660.6 L617.3,660.7 L617.2,661.1 L617.2,661.2 L617.2,661.6 L617.2,661.7 L617.3,662.1 L617.3,662.2 L617.4,662.6 L617.4,662.7 L617.5,663.1 L617.5,663.1 L620.3,670.5 L620.3,670.5 L620.4,670.9 L620.5,671.0 L620.7,671.3 L620.7,671.4 L620.9,671.7 L621.0,671.8 L621.2,672.1 L621.3,672.2 L621.6,672.4 L621.7,672.5 L621.9,672.7 L622.0,672.8 L622.3,673.0 L622.4,673.1 L622.7,673.2 L622.9,673.3 L623.2,673.4 L623.3,673.5 L623.6,673.6 L623.8,673.6 L624.1,673.7 L624.2,673.7 L624.6,673.7 L624.7,673.8 L625.1,673.8 L625.2,673.8 L625.5,673.7 L625.7,673.7 L626.0,673.6 L626.1,673.6 L626.5,673.5 L626.6,673.5 L627.0,673.3 L627.0,673.3 L627.9,672.9 L628.0,672.9 L630.8,671.6 L630.9,671.6 L633.7,670.2 L633.8,670.2 L636.6,668.8 L636.6,668.8 L639.4,667.4 L639.5,667.4 L642.3,666.0 L642.3,665.9 L645.1,664.5 L645.1,664.4 L647.9,662.9 L647.9,662.9 L650.7,661.4 L650.7,661.3 L653.4,659.8 L653.5,659.7 L656.2,658.1 L656.2,658.1 L658.9,656.5 L658.9,656.4 L661.6,654.8 L661.6,654.8 L664.3,653.1 L664.3,653.0 L666.9,651.3 L667.0,651.3 L669.6,649.5 L669.6,649.5 L672.2,647.7 L672.2,647.7 L674.8,645.8 L674.8,645.8 L677.4,644.0 L677.4,643.9 L679.9,642.1 L680.0,642.0 L680.8,641.4 L680.8,641.4 L681.1,641.1 L681.2,641.0 L681.5,640.8 L681.5,640.7 L681.8,640.4 L681.8,640.3 L682.0,640.0 L682.1,639.9 L682.3,639.6 L682.3,639.5 L682.4,639.1 L682.5,639.0 L682.6,638.7 L682.6,638.6 L682.7,638.2 L682.7,638.1 L682.7,637.7 L682.7,637.6 L682.7,637.3 L682.7,637.1 L682.7,636.8 L682.7,636.7 L682.6,636.3 L682.6,636.2 L682.5,635.8 L682.5,635.7 L682.3,635.4 L682.3,635.3 L682.1,635.0 L682.0,634.9 L681.9,634.6 L681.8,634.5 L681.5,634.2 L681.5,634.1 L676.4,628.2 L676.3,628.2 L676.0,627.9 L676.0,627.8 L675.7,627.5 L675.6,627.5 L675.3,627.3 L675.2,627.2 L674.8,627.0 L674.7,626.9 L674.4,626.8 L674.3,626.8 L673.9,626.6 L673.8,626.6 L673.4,626.5 L673.3,626.5 L672.9,626.5 L672.8,626.5 L672.4,626.5 L672.3,626.5 L671.9,626.5 L671.8,626.5 L671.4,626.6 L671.3,626.6 L670.9,626.7 L670.9,626.8 L670.8,626.8 L670.8,626.8 L670.5,626.9 L670.5,626.9 L670.4,626.9 L670.4,626.9 L670.1,627.0 L670.1,627.0 L670.0,627.0 L670.0,627.0 L669.7,627.1 L669.7,627.1 L669.6,627.1 L669.5,627.1 L669.3,627.2 L669.2,627.2 L669.2,627.2 L669.1,627.2 L668.9,627.2 L668.8,627.2 L668.7,627.2 L668.7,627.2 L668.4,627.3 L668.4,627.3 L668.3,627.3 L668.2,627.3 L668.0,627.3 L667.9,627.3 L667.9,627.3 L667.8,627.3 L667.6,627.3 L667.5,627.3 L667.4,627.3 L667.4,627.3 L667.1,627.2 L667.1,627.2 L667.0,627.2 L667.0,627.2 L666.7,627.2 L666.6,627.2 L666.6,627.2 L666.5,627.2 L666.3,627.1 L666.2,627.1 L666.2,627.1 L666.1,627.1 L665.9,627.0 L665.8,627.0 L665.7,627.0 L665.7,627.0 L665.4,626.9 L665.4,626.9 L665.3,626.9 L665.3,626.9 L665.0,626.8 L665.0,626.8 L664.9,626.8 L664.9,626.7 L664.6,626.6 L664.6,626.6 L664.5,626.6 L664.5,626.6 L664.2,626.5 L664.2,626.4 L664.1,626.4 L664.1,626.4 L663.8,626.3 L663.8,626.3 L663.7,626.2 L663.7,626.2 L663.5,626.1 L663.4,626.0 L663.4,626.0 L663.3,626.0 L663.1,625.8 L663.0,625.8 L663.0,625.8 L662.9,625.7 L662.7,625.6 L662.7,625.6 L662.6,625.5 L662.6,625.5 L662.4,625.3 L662.3,625.3 L662.3,625.3 L662.3,625.2 L662.1,625.1 L662.0,625.0 L662.0,625.0 L661.9,624.9 L661.8,624.8 L661.7,624.7 L661.7,624.7 L661.6,624.6 L661.5,624.5 L661.4,624.4 L661.4,624.4 L661.3,624.3 L661.2,624.1 L661.1,624.1 L661.1,624.0 L661.0,624.0 L660.9,623.8 L660.9,623.7 L660.8,623.7 L660.8,623.6 L660.6,623.4 L660.6,623.4 L660.6,623.3 L660.5,623.3 L660.4,623.1 L660.4,623.0 L660.3,623.0 L660.3,622.9 L660.2,622.7 L660.2,622.7 L660.1,622.6 L660.1,622.5 L660.0,622.3 L660.0,622.3 L659.9,622.2 L659.9,622.2 L659.8,621.9 L659.8,621.9 L659.8,621.8 L659.7,621.8 L659.7,621.5 L659.6,621.5 L659.6,621.4 L659.6,621.4 L659.5,621.1 L659.5,621.1 L659.5,621.0 L659.5,620.9 L659.4,620.7 L659.4,620.6 L659.4,620.6 L659.4,620.5 L659.3,620.3 L659.3,620.2 L659.3,620.2 L659.3,620.1 L659.2,619.9 L659.2,619.8 L659.2,619.7 L659.2,619.7 L659.2,619.4 L659.2,619.4 L659.1,619.3 L659.1,619.2 L659.1,619.0 L659.1,618.9 L659.1,618.9 L659.1,618.8 L659.1,618.6 L659.1,618.5 L659.1,618.4 L659.1,618.4 L659.1,618.1 L659.1,618.1 L659.1,618.0 L659.1,618.0 L659.1,617.7 L659.1,617.6 L659.2,617.6 L659.2,617.5 L659.2,617.3 L659.2,617.2 L659.2,617.2 L659.2,617.1 L659.3,616.9 L659.3,616.8 L659.3,616.7 L659.3,616.7 L659.4,616.4 L659.4,616.4 L659.4,616.3 L659.4,616.3 L659.5,616.0 L659.5,616.0 L659.5,615.9 L659.5,615.8 L659.6,615.6 L659.6,615.5 L659.6,615.5 L659.7,615.4 L659.7,615.2 L659.8,615.1 L659.8,615.1 L659.8,615.0 L659.9,614.8 L659.9,614.7 L660.0,614.7 L660.0,614.6 L660.1,614.3 L660.2,614.3 L660.3,614.0 L660.3,613.9 L660.5,613.5 L660.5,613.4 L660.6,613.1 L660.6,612.9 L660.7,612.6 L660.7,612.4 L660.7,612.1 L660.7,611.9 L660.7,611.6 L660.7,611.4 L660.6,611.1 L660.6,610.9 L660.5,610.6 L660.4,610.5 L660.3,610.1 L660.2,610.0 L660.1,609.6 L660.0,609.5 L659.8,609.2 L659.7,609.1 L659.5,608.8 L659.4,608.7 L650.0,597.9 L649.9,597.8 L649.7,597.5 L649.6,597.4 L649.3,597.2 L649.2,597.1 L648.9,596.9 L648.8,596.8 L648.4,596.7 L648.3,596.6 L648.0,596.5 L647.9,596.4 L647.5,596.3 L647.4,596.3 L647.0,596.2 L646.9,596.2 L646.6,596.1 L646.4,596.1 L646.1,596.1 L645.9,596.1 L645.6,596.2 L645.4,596.2 L645.1,596.2 L645.0,596.3 L644.6,596.4 L644.5,596.4 L644.1,596.6 L644.0,596.6 L643.7,596.8 L643.6,596.8 L643.2,597.1 L643.2,597.1 L641.4,598.4 L641.4,598.4 L641.4,598.4 L641.4,598.4 L639.6,599.7 L639.6,599.7 L639.6,599.7 L639.5,599.8 L637.7,601.0 L637.7,601.0 L637.7,601.1 L637.7,601.1 L635.8,602.3 L635.8,602.3 L635.8,602.3 L635.8,602.4 L633.9,603.6 L633.9,603.6 L633.9,603.6 L633.9,603.6 L632.0,604.9 L632.0,604.9 L632.0,604.9 L632.0,604.9 L630.1,606.1 L630.1,606.1 L630.1,606.1 L630.1,606.1 L628.2,607.3 L628.1,607.3 L628.1,607.3 L628.1,607.3 L626.2,608.5 L626.2,608.5 L626.2,608.5 L626.2,608.5 L624.2,609.6 L624.2,609.6 L624.2,609.7 L624.2,609.7 L622.3,610.8 L622.3,610.8 L622.3,610.8 L622.2,610.8 L620.3,611.9 L620.3,611.9 L620.3,611.9 L620.3,611.9 L618.3,613.0 L618.3,613.0 L618.3,613.0 L618.3,613.0 L616.3,614.1 L616.3,614.1 L616.3,614.1 L616.2,614.1 L614.3,615.1 L614.2,615.1 L614.2,615.2 L614.2,615.2 L612.2,616.2 L612.2,616.2 L612.2,616.2 L612.2,616.2 L610.2,617.2 L610.2,617.2 L610.2,617.2 L610.1,617.2 L608.1,618.2 L608.1,618.2 L608.1,618.2 L608.1,618.2Z" fill="none" stroke="#1e1e1e" stroke-width="2.1" stroke-linejoin="round"/>
<path d="M632.1,688.6 L632.0,688.6 L631.6,688.8 L631.5,688.9 L631.2,689.1 L631.1,689.1 L630.8,689.4 L630.7,689.5 L630.4,689.7 L630.3,689.8 L630.1,690.1 L630.0,690.2 L629.8,690.5 L629.7,690.6 L629.6,690.9 L629.5,691.1 L629.4,691.4 L629.3,691.5 L629.2,691.9 L629.2,692.0 L629.1,692.4 L629.1,692.5 L629.0,692.9 L629.0,693.0 L629.0,693.4 L629.1,693.5 L629.1,693.9 L629.1,694.0 L629.2,694.4 L629.2,694.5 L629.3,694.9 L629.4,694.9 L633.0,704.6 L633.0,704.7 L633.1,705.1 L633.2,705.2 L633.4,705.5 L633.4,705.6 L633.7,705.9 L633.7,706.0 L634.0,706.3 L634.1,706.4 L634.3,706.6 L634.4,706.7 L634.7,707.0 L634.8,707.0 L635.1,707.2 L635.2,707.3 L635.6,707.5 L635.7,707.5 L636.0,707.6 L636.1,707.7 L636.5,707.8 L636.6,707.8 L637.0,707.9 L637.1,707.9 L637.5,707.9 L637.6,707.9 L637.8,707.9 L637.9,707.9 L637.9,707.9 L638.0,707.9 L638.2,708.0 L638.3,708.0 L638.4,708.0 L638.4,708.0 L638.7,708.0 L638.7,708.0 L638.8,708.0 L638.8,708.0 L639.1,708.1 L639.1,708.1 L639.2,708.1 L639.3,708.1 L639.5,708.2 L639.6,708.2 L639.6,708.2 L639.7,708.2 L639.9,708.3 L640.0,708.3 L640.0,708.3 L640.1,708.3 L640.3,708.4 L640.4,708.4 L640.5,708.5 L640.5,708.5 L640.7,708.6 L640.8,708.6 L640.9,708.6 L640.9,708.6 L641.1,708.7 L641.2,708.8 L641.2,708.8 L641.3,708.8 L641.5,708.9 L641.6,709.0 L641.6,709.0 L641.7,709.0 L641.9,709.1 L642.0,709.2 L642.0,709.2 L642.1,709.2 L642.3,709.4 L642.3,709.4 L642.4,709.4 L642.4,709.5 L642.6,709.6 L642.7,709.6 L642.7,709.7 L642.8,709.7 L643.0,709.9 L643.0,709.9 L643.1,709.9 L643.1,710.0 L643.3,710.1 L643.3,710.2 L643.4,710.2 L643.4,710.3 L643.6,710.4 L643.7,710.5 L643.7,710.5 L643.7,710.6 L643.9,710.7 L644.0,710.8 L644.0,710.8 L644.0,710.9 L644.2,711.1 L644.2,711.1 L644.3,711.2 L644.3,711.2 L644.5,711.4 L644.5,711.5 L644.5,711.5 L644.6,711.6 L644.7,711.8 L644.8,711.8 L644.8,711.9 L644.8,711.9 L645.0,712.1 L645.0,712.2 L645.0,712.2 L645.1,712.3 L645.2,712.5 L645.2,712.6 L645.2,712.6 L645.3,712.7 L645.4,712.9 L645.4,712.9 L645.4,713.0 L645.5,713.0 L645.6,713.3 L645.6,713.3 L645.6,713.4 L645.6,713.4 L645.7,713.7 L645.7,713.7 L645.8,713.8 L645.8,713.8 L645.9,714.1 L645.9,714.1 L645.9,714.2 L645.9,714.3 L646.0,714.5 L646.0,714.6 L646.0,714.6 L646.0,714.7 L646.1,714.9 L646.1,715.0 L646.1,715.0 L646.1,715.1 L646.1,715.3 L646.2,715.4 L646.2,715.5 L646.2,715.5 L646.2,715.8 L646.2,715.8 L646.2,715.9 L646.2,716.0 L646.2,716.2 L646.2,716.3 L646.2,716.3 L646.3,716.4 L646.3,716.6 L646.3,716.7 L646.3,716.8 L646.3,716.8 L646.3,717.1 L646.2,717.1 L646.2,717.2 L646.2,717.2 L646.2,717.5 L646.2,717.6 L646.2,717.6 L646.2,717.7 L646.2,717.9 L646.2,718.0 L646.2,718.0 L646.1,718.1 L646.1,718.4 L646.1,718.4 L646.1,718.5 L646.1,718.5 L646.0,718.8 L646.0,718.8 L646.0,718.9 L646.0,719.0 L645.9,719.2 L645.9,719.2 L645.9,719.3 L645.9,719.4 L645.8,719.6 L645.8,719.7 L645.7,719.7 L645.7,719.8 L645.6,720.0 L645.6,720.1 L645.6,720.1 L645.6,720.2 L645.5,720.4 L645.4,720.5 L645.4,720.5 L645.4,720.6 L645.3,720.8 L645.2,720.8 L645.2,720.9 L645.2,721.0 L645.1,721.2 L645.0,721.2 L645.0,721.3 L645.0,721.3 L644.8,721.5 L644.8,721.6 L644.8,721.6 L644.7,721.7 L644.6,721.9 L644.5,721.9 L644.5,722.0 L644.5,722.0 L644.3,722.2 L644.3,722.3 L644.2,722.3 L644.2,722.4 L644.0,722.6 L644.0,722.6 L644.0,722.7 L643.9,722.7 L643.7,722.9 L643.7,722.9 L643.7,723.0 L643.6,723.0 L643.4,723.2 L643.4,723.2 L643.3,723.3 L643.3,723.3 L643.0,723.6 L643.0,723.6 L642.7,723.9 L642.6,724.0 L642.4,724.3 L642.3,724.5 L642.2,724.8 L642.1,724.9 L642.0,725.3 L641.9,725.4 L641.8,725.7 L641.8,725.9 L641.7,726.2 L641.7,726.4 L641.6,726.7 L641.6,726.9 L641.6,727.2 L641.6,727.4 L641.7,727.7 L641.7,727.9 L641.8,728.2 L641.8,728.4 L641.9,728.7 L642.0,728.8 L645.4,738.1 L645.4,738.1 L645.6,738.5 L645.6,738.6 L645.8,738.9 L645.9,739.0 L646.1,739.3 L646.1,739.4 L646.4,739.7 L646.4,739.8 L646.7,740.0 L646.8,740.1 L647.1,740.3 L647.2,740.4 L647.4,740.6 L647.5,740.7 L647.9,740.8 L648.0,740.9 L648.3,741.0 L648.4,741.1 L648.8,741.2 L648.9,741.2 L649.2,741.3 L649.3,741.3 L649.7,741.3 L649.8,741.3 L650.2,741.3 L650.3,741.3 L650.6,741.3 L650.8,741.3 L651.1,741.2 L651.2,741.2 L651.6,741.1 L651.7,741.1 L652.1,741.0 L652.1,740.9 L655.1,739.6 L655.2,739.6 L659.1,737.9 L659.1,737.8 L663.0,736.0 L663.0,736.0 L666.9,734.2 L666.9,734.1 L670.7,732.3 L670.8,732.2 L674.6,730.3 L674.6,730.3 L678.4,728.3 L678.5,728.3 L682.2,726.2 L682.2,726.2 L686.0,724.1 L686.0,724.1 L689.7,722.0 L689.7,721.9 L693.4,719.8 L693.5,719.7 L697.1,717.5 L697.1,717.5 L700.7,715.2 L700.8,715.2 L704.4,712.9 L704.4,712.8 L708.0,710.5 L708.0,710.5 L711.5,708.1 L711.6,708.0 L715.1,705.6 L715.1,705.5 L718.6,703.1 L718.6,703.0 L722.0,700.5 L722.1,700.4 L725.5,697.9 L725.5,697.8 L728.1,695.8 L728.2,695.8 L728.5,695.5 L728.5,695.4 L728.8,695.2 L728.9,695.1 L729.1,694.8 L729.2,694.7 L729.3,694.4 L729.4,694.3 L729.6,694.0 L729.6,693.9 L729.8,693.5 L729.8,693.4 L729.9,693.1 L729.9,693.0 L730.0,692.6 L730.0,692.5 L730.0,692.1 L730.1,692.0 L730.1,691.7 L730.0,691.5 L730.0,691.2 L730.0,691.1 L729.9,690.7 L729.9,690.6 L729.8,690.3 L729.8,690.1 L729.6,689.8 L729.6,689.7 L729.4,689.4 L729.4,689.3 L729.2,689.0 L729.1,688.9 L728.8,688.6 L728.8,688.5 L722.3,681.1 L722.3,681.0 L722.0,680.7 L721.9,680.7 L721.6,680.4 L721.5,680.3 L721.2,680.1 L721.1,680.1 L720.8,679.9 L720.7,679.8 L720.3,679.7 L720.2,679.6 L719.9,679.5 L719.7,679.5 L719.4,679.4 L719.3,679.4 L718.9,679.4 L718.8,679.3 L718.4,679.3 L718.3,679.4 L717.9,679.4 L717.8,679.4 L717.4,679.5 L717.3,679.5 L716.9,679.6 L716.8,679.6 L716.8,679.6 L716.7,679.7 L716.5,679.7 L716.5,679.8 L716.4,679.8 L716.3,679.8 L716.1,679.9 L716.0,679.9 L716.0,679.9 L715.9,679.9 L715.7,680.0 L715.6,680.0 L715.6,680.0 L715.5,680.0 L715.3,680.0 L715.2,680.1 L715.1,680.1 L715.1,680.1 L714.8,680.1 L714.8,680.1 L714.7,680.1 L714.6,680.1 L714.4,680.1 L714.3,680.1 L714.3,680.1 L714.2,680.1 L714.0,680.2 L713.9,680.2 L713.8,680.2 L713.8,680.2 L713.5,680.1 L713.5,680.1 L713.4,680.1 L713.3,680.1 L713.1,680.1 L713.0,680.1 L713.0,680.1 L712.9,680.1 L712.7,680.1 L712.6,680.1 L712.6,680.1 L712.5,680.0 L712.2,680.0 L712.2,680.0 L712.1,680.0 L712.1,680.0 L711.8,679.9 L711.8,679.9 L711.7,679.9 L711.6,679.9 L711.4,679.8 L711.3,679.8 L711.3,679.8 L711.2,679.7 L711.0,679.7 L710.9,679.6 L710.9,679.6 L710.8,679.6 L710.6,679.5 L710.5,679.5 L710.5,679.5 L710.4,679.4 L710.2,679.3 L710.1,679.3 L710.1,679.3 L710.0,679.3 L709.8,679.2 L709.8,679.1 L709.7,679.1 L709.6,679.1 L709.4,678.9 L709.4,678.9 L709.3,678.9 L709.3,678.9 L709.1,678.7 L709.0,678.7 L709.0,678.7 L708.9,678.6 L708.7,678.5 L708.7,678.4 L708.6,678.4 L708.6,678.4 L708.4,678.2 L708.3,678.2 L708.3,678.1 L708.2,678.1 L708.0,677.9 L708.0,677.9 L707.9,677.9 L707.9,677.8 L707.7,677.6 L707.7,677.6 L707.6,677.6 L707.6,677.5 L707.4,677.3 L707.4,677.3 L707.3,677.2 L707.3,677.2 L707.1,677.0 L707.1,677.0 L707.1,676.9 L707.0,676.9 L706.9,676.7 L706.8,676.6 L706.8,676.6 L706.8,676.5 L706.6,676.3 L706.6,676.3 L706.5,676.2 L706.5,676.2 L706.4,676.0 L706.3,675.9 L706.3,675.9 L706.3,675.8 L706.2,675.6 L706.1,675.5 L706.1,675.5 L706.1,675.4 L706.0,675.2 L705.9,675.1 L705.9,675.1 L705.9,675.0 L705.8,674.8 L705.8,674.7 L705.7,674.7 L705.7,674.6 L705.6,674.4 L705.6,674.3 L705.6,674.3 L705.6,674.2 L705.5,674.0 L705.5,673.9 L705.4,673.9 L705.4,673.8 L705.4,673.6 L705.3,673.5 L705.3,673.5 L705.3,673.4 L705.3,673.2 L705.2,673.1 L705.2,673.0 L705.2,673.0 L705.2,672.7 L705.2,672.7 L705.2,672.6 L705.2,672.6 L705.1,672.3 L705.1,672.2 L705.1,672.2 L705.1,672.1 L705.1,671.9 L705.1,671.8 L705.1,671.8 L705.1,671.7 L705.1,671.4 L705.1,671.4 L705.1,671.3 L705.1,671.3 L705.1,671.0 L705.1,671.0 L705.1,670.9 L705.1,670.8 L705.1,670.6 L705.1,670.5 L705.1,670.5 L705.1,670.4 L705.2,670.2 L705.2,670.1 L705.2,670.0 L705.2,670.0 L705.2,669.7 L705.2,669.7 L705.2,669.6 L705.3,669.5 L705.3,669.3 L705.3,669.2 L705.3,669.2 L705.4,669.1 L705.4,668.9 L705.4,668.8 L705.5,668.8 L705.5,668.7 L705.6,668.5 L705.6,668.4 L705.6,668.4 L705.6,668.3 L705.7,668.1 L705.7,668.0 L705.8,668.0 L705.8,667.9 L705.9,667.7 L705.9,667.6 L705.9,667.6 L706.0,667.5 L706.1,667.2 L706.1,667.2 L706.3,666.9 L706.3,666.8 L706.4,666.4 L706.5,666.3 L706.6,665.9 L706.6,665.8 L706.6,665.4 L706.6,665.3 L706.7,664.9 L706.7,664.8 L706.6,664.4 L706.6,664.3 L706.6,663.9 L706.5,663.8 L706.4,663.4 L706.4,663.3 L706.3,663.0 L706.2,662.9 L706.0,662.5 L706.0,662.4 L705.8,662.1 L705.7,662.0 L705.5,661.7 L705.4,661.6 L698.6,653.8 L698.6,653.8 L698.3,653.5 L698.2,653.4 L697.9,653.1 L697.8,653.1 L697.5,652.9 L697.4,652.8 L697.1,652.6 L697.0,652.6 L696.6,652.4 L696.5,652.4 L696.1,652.3 L696.0,652.2 L695.6,652.1 L695.5,652.1 L695.1,652.1 L695.0,652.1 L694.6,652.1 L694.5,652.1 L694.1,652.1 L694.0,652.1 L693.6,652.2 L693.5,652.3 L693.2,652.4 L693.0,652.4 L692.7,652.6 L692.6,652.6 L692.3,652.8 L692.1,652.9 L691.8,653.1 L691.8,653.1 L690.1,654.4 L690.1,654.4 L690.1,654.4 L690.0,654.5 L687.3,656.5 L687.3,656.5 L687.3,656.5 L687.3,656.5 L684.6,658.5 L684.6,658.5 L684.5,658.5 L684.5,658.6 L681.8,660.5 L681.8,660.5 L681.7,660.5 L681.7,660.6 L678.9,662.5 L678.9,662.5 L678.9,662.5 L678.9,662.5 L676.1,664.4 L676.1,664.4 L676.1,664.4 L676.1,664.5 L673.2,666.3 L673.2,666.3 L673.2,666.3 L673.2,666.3 L670.3,668.2 L670.3,668.2 L670.3,668.2 L670.3,668.2 L667.4,670.0 L667.4,670.0 L667.4,670.0 L667.4,670.0 L664.5,671.8 L664.5,671.8 L664.5,671.8 L664.5,671.8 L661.5,673.6 L661.5,673.6 L661.5,673.6 L661.5,673.6 L658.6,675.3 L658.5,675.3 L658.5,675.3 L658.5,675.3 L655.6,677.0 L655.5,677.0 L655.5,677.0 L655.5,677.0 L652.5,678.6 L652.5,678.6 L652.5,678.6 L652.5,678.6 L649.5,680.2 L649.5,680.2 L649.5,680.2 L649.5,680.2 L646.4,681.8 L646.4,681.8 L646.4,681.8 L646.4,681.8 L643.4,683.3 L643.3,683.3 L643.3,683.3 L643.3,683.4 L640.3,684.8 L640.3,684.8 L640.2,684.8 L640.2,684.9 L637.2,686.3 L637.1,686.3 L637.1,686.3 L637.1,686.3 L634.0,687.7 L634.0,687.7 L634.0,687.7 L634.0,687.7Z" fill="none" stroke="#1e1e1e" stroke-width="2.1" stroke-linejoin="round"/>
<path d="M614.7,515.4 L614.6,515.5 L614.4,515.8 L614.3,515.9 L614.1,516.2 L614.0,516.3 L613.9,516.6 L613.8,516.7 L613.7,517.0 L613.6,517.2 L613.5,517.5 L613.5,517.6 L613.4,518.0 L613.4,518.1 L613.4,518.5 L613.4,518.6 L613.4,518.9 L613.4,519.1 L613.4,519.4 L613.4,519.5 L613.5,519.9 L613.5,520.0 L613.6,520.4 L613.6,520.5 L613.8,520.8 L613.8,520.9 L614.0,521.2 L614.1,521.3 L614.3,521.6 L614.3,521.7 L614.6,522.1 L614.6,522.1 L629.5,539.2 L629.5,539.3 L629.8,539.6 L629.9,539.7 L630.2,539.9 L630.3,540.0 L630.6,540.2 L630.7,540.3 L631.0,540.4 L631.1,540.5 L631.5,540.6 L631.6,540.7 L632.0,540.8 L632.1,540.8 L632.5,540.9 L632.6,540.9 L632.9,541.0 L633.1,541.0 L633.4,541.0 L633.6,541.0 L633.9,540.9 L634.1,540.9 L634.4,540.8 L634.6,540.8 L634.9,540.7 L635.0,540.7 L635.0,540.7 L635.1,540.6 L635.3,540.6 L635.4,540.6 L635.4,540.5 L635.5,540.5 L635.7,540.5 L635.8,540.4 L635.8,540.4 L635.9,540.4 L636.1,540.4 L636.2,540.3 L636.3,540.3 L636.3,540.3 L636.6,540.3 L636.6,540.3 L636.7,540.3 L636.8,540.2 L637.0,540.2 L637.1,540.2 L637.1,540.2 L637.2,540.2 L637.4,540.2 L637.5,540.2 L637.6,540.2 L637.6,540.2 L637.9,540.2 L637.9,540.2 L638.0,540.2 L638.0,540.2 L638.3,540.2 L638.4,540.2 L638.4,540.2 L638.5,540.2 L638.7,540.2 L638.8,540.2 L638.8,540.2 L638.9,540.2 L639.2,540.2 L639.2,540.3 L639.3,540.3 L639.3,540.3 L639.6,540.3 L639.6,540.3 L639.7,540.3 L639.8,540.4 L640.0,540.4 L640.1,540.4 L640.1,540.4 L640.2,540.5 L640.4,540.5 L640.5,540.5 L640.5,540.6 L640.6,540.6 L640.8,540.6 L640.9,540.7 L640.9,540.7 L641.0,540.7 L641.2,540.8 L641.3,540.8 L641.3,540.8 L641.4,540.9 L641.6,541.0 L641.7,541.0 L641.7,541.0 L641.8,541.0 L642.0,541.2 L642.1,541.2 L642.1,541.2 L642.2,541.2 L642.4,541.4 L642.5,541.4 L642.5,541.4 L642.6,541.5 L642.8,541.6 L642.8,541.6 L642.9,541.7 L642.9,541.7 L643.1,541.8 L643.2,541.9 L643.2,541.9 L643.3,542.0 L643.5,542.1 L643.5,542.1 L643.6,542.2 L643.6,542.2 L643.8,542.4 L643.8,542.4 L643.9,542.5 L643.9,542.5 L644.1,542.7 L644.2,542.7 L644.2,542.8 L644.2,542.8 L644.4,543.0 L644.5,543.0 L644.5,543.1 L644.5,543.1 L644.7,543.3 L644.7,543.4 L644.8,543.4 L644.8,543.5 L645.0,543.6 L645.0,543.7 L645.0,543.7 L645.1,543.8 L645.2,544.0 L645.3,544.0 L645.3,544.1 L645.3,544.2 L645.5,544.4 L645.5,544.4 L645.5,544.5 L645.5,544.5 L645.7,544.7 L645.7,544.8 L645.7,544.8 L645.8,544.9 L645.9,545.1 L645.9,545.2 L645.9,545.2 L645.9,545.3 L646.0,545.5 L646.1,545.6 L646.1,545.6 L646.1,545.7 L646.2,545.9 L646.2,546.0 L646.2,546.0 L646.3,546.1 L646.3,546.3 L646.4,546.4 L646.4,546.4 L646.4,546.5 L646.5,546.7 L646.5,546.8 L646.5,546.9 L646.5,546.9 L646.6,547.2 L646.6,547.2 L646.6,547.3 L646.6,547.3 L646.6,547.6 L646.7,547.6 L646.7,547.7 L646.7,547.8 L646.7,548.0 L646.7,548.1 L646.7,548.1 L646.7,548.2 L646.7,548.4 L646.7,548.5 L646.7,548.6 L646.7,548.6 L646.8,548.9 L646.8,548.9 L646.8,549.0 L646.8,549.1 L646.7,549.3 L646.7,549.4 L646.7,549.4 L646.7,549.5 L646.7,549.7 L646.7,549.8 L646.7,549.9 L646.7,549.9 L646.7,550.2 L646.7,550.2 L646.7,550.3 L646.6,550.3 L646.6,550.6 L646.6,550.6 L646.6,550.7 L646.6,550.8 L646.5,551.0 L646.5,551.1 L646.5,551.1 L646.5,551.2 L646.4,551.4 L646.4,551.5 L646.4,551.5 L646.3,551.6 L646.3,551.8 L646.2,551.9 L646.2,552.0 L646.2,552.0 L646.1,552.2 L646.1,552.3 L646.1,552.4 L646.0,552.4 L645.9,552.6 L645.9,552.7 L645.9,552.8 L645.9,552.8 L645.7,553.1 L645.7,553.1 L645.6,553.4 L645.5,553.5 L645.4,553.9 L645.4,554.0 L645.3,554.4 L645.2,554.5 L645.2,554.9 L645.2,555.0 L645.2,555.4 L645.2,555.5 L645.2,555.9 L645.2,556.0 L645.3,556.4 L645.3,556.5 L645.4,556.9 L645.4,557.0 L645.6,557.3 L645.6,557.5 L645.8,557.8 L645.8,557.9 L646.0,558.2 L646.1,558.3 L646.4,558.6 L646.4,558.7 L650.8,563.8 L650.9,563.8 L651.2,564.1 L651.2,564.2 L651.5,564.4 L651.6,564.5 L651.9,564.7 L652.0,564.8 L652.3,565.0 L652.4,565.0 L652.8,565.2 L652.9,565.2 L653.2,565.3 L653.4,565.4 L653.7,565.4 L653.8,565.5 L654.2,565.5 L654.3,565.5 L654.7,565.5 L654.8,565.5 L655.2,565.5 L655.3,565.5 L655.6,565.4 L655.8,565.4 L656.1,565.3 L656.2,565.3 L656.6,565.1 L656.7,565.1 L657.0,564.9 L657.1,564.9 L657.4,564.7 L657.5,564.6 L657.8,564.4 L657.9,564.3 L658.2,564.0 L658.2,564.0 L658.7,563.5 L658.7,563.5 L660.1,562.0 L660.1,562.0 L661.5,560.5 L661.5,560.5 L662.9,559.0 L662.9,559.0 L664.2,557.5 L664.3,557.5 L665.6,556.0 L665.6,555.9 L666.9,554.4 L666.9,554.4 L668.2,552.8 L668.3,552.8 L669.5,551.2 L669.6,551.2 L670.8,549.6 L670.8,549.6 L672.1,548.0 L672.1,548.0 L673.3,546.4 L673.3,546.4 L674.5,544.8 L674.6,544.7 L675.8,543.1 L675.8,543.1 L676.9,541.5 L677.0,541.4 L678.1,539.8 L678.2,539.7 L679.3,538.1 L679.3,538.1 L680.4,536.4 L680.5,536.4 L680.8,535.8 L680.8,535.8 L681.0,535.4 L681.1,535.3 L681.3,535.0 L681.3,534.9 L681.4,534.5 L681.5,534.4 L681.5,534.0 L681.6,533.9 L681.6,533.6 L681.6,533.4 L681.6,533.1 L681.6,533.0 L681.6,532.6 L681.6,532.5 L681.6,532.1 L681.5,532.0 L681.4,531.6 L681.4,531.5 L681.3,531.2 L681.2,531.1 L681.1,530.7 L681.0,530.6 L680.8,530.3 L680.8,530.2 L680.6,529.9 L680.5,529.8 L680.2,529.6 L680.2,529.5 L679.9,529.2 L679.8,529.1 L679.5,528.9 L679.4,528.9 L679.1,528.7 L679.0,528.6 L673.1,525.4 L673.0,525.4 L672.6,525.2 L672.5,525.2 L672.2,525.0 L672.1,525.0 L671.7,524.9 L671.6,524.9 L671.2,524.8 L671.1,524.8 L670.7,524.8 L670.6,524.8 L670.2,524.8 L670.1,524.8 L669.7,524.9 L669.6,524.9 L669.2,525.0 L669.1,525.1 L668.7,525.2 L668.6,525.2 L668.3,525.4 L668.2,525.5 L667.8,525.7 L667.7,525.7 L667.4,526.0 L667.4,526.0 L667.3,526.1 L667.3,526.1 L667.2,526.1 L667.0,526.3 L667.0,526.3 L666.9,526.4 L666.9,526.4 L666.7,526.6 L666.6,526.6 L666.6,526.6 L666.5,526.7 L666.3,526.8 L666.3,526.8 L666.2,526.8 L666.2,526.9 L666.0,527.0 L665.9,527.0 L665.8,527.1 L665.8,527.1 L665.6,527.2 L665.5,527.2 L665.5,527.3 L665.4,527.3 L665.2,527.4 L665.1,527.4 L665.1,527.4 L665.0,527.5 L664.8,527.5 L664.7,527.6 L664.7,527.6 L664.6,527.6 L664.4,527.7 L664.3,527.7 L664.3,527.7 L664.2,527.7 L664.0,527.8 L663.9,527.8 L663.8,527.8 L663.8,527.8 L663.5,527.9 L663.5,527.9 L663.4,527.9 L663.4,527.9 L663.1,528.0 L663.0,528.0 L663.0,528.0 L662.9,528.0 L662.7,528.0 L662.6,528.0 L662.6,528.0 L662.5,528.1 L662.3,528.1 L662.2,528.1 L662.1,528.1 L662.1,528.1 L661.8,528.1 L661.8,528.1 L661.7,528.1 L661.6,528.1 L661.4,528.1 L661.3,528.1 L661.3,528.1 L661.2,528.1 L661.0,528.1 L660.9,528.0 L660.8,528.0 L660.8,528.0 L660.5,528.0 L660.5,528.0 L660.4,528.0 L660.3,528.0 L660.1,527.9 L660.0,527.9 L660.0,527.9 L659.9,527.9 L659.7,527.8 L659.6,527.8 L659.6,527.8 L659.5,527.8 L659.3,527.7 L659.2,527.7 L659.1,527.7 L659.1,527.7 L658.9,527.6 L658.8,527.6 L658.7,527.6 L658.7,527.5 L658.4,527.5 L658.4,527.4 L658.3,527.4 L658.3,527.4 L658.0,527.3 L658.0,527.3 L657.9,527.2 L657.9,527.2 L657.7,527.1 L657.6,527.1 L657.6,527.0 L657.5,527.0 L657.3,526.9 L657.2,526.8 L657.2,526.8 L657.1,526.8 L656.9,526.7 L656.9,526.6 L656.8,526.6 L656.8,526.6 L656.6,526.4 L656.5,526.4 L656.5,526.3 L656.4,526.3 L656.2,526.1 L656.2,526.1 L656.1,526.1 L656.1,526.0 L655.9,525.9 L655.8,525.8 L655.8,525.8 L655.8,525.7 L655.6,525.6 L655.5,525.5 L655.5,525.5 L655.4,525.4 L655.3,525.3 L655.2,525.2 L655.2,525.2 L655.1,525.1 L655.0,524.9 L654.9,524.9 L654.9,524.8 L654.9,524.8 L654.7,524.6 L654.7,524.6 L654.6,524.5 L654.6,524.5 L654.5,524.3 L654.4,524.2 L654.4,524.1 L654.4,524.1 L654.2,523.9 L654.2,523.8 L654.2,523.8 L654.1,523.7 L654.0,523.5 L654.0,523.5 L654.0,523.4 L653.9,523.4 L653.8,523.1 L653.8,523.1 L653.8,523.0 L653.7,523.0 L653.6,522.7 L653.6,522.7 L653.6,522.6 L653.6,522.6 L653.5,522.3 L653.5,522.3 L653.4,522.2 L653.4,522.2 L653.3,521.9 L653.3,521.9 L653.3,521.8 L653.3,521.8 L653.2,521.5 L653.2,521.5 L653.2,521.4 L653.2,521.3 L653.1,521.1 L653.1,521.0 L653.1,521.0 L653.1,520.9 L653.0,520.7 L653.0,520.6 L653.0,520.5 L653.0,520.5 L653.0,520.2 L653.0,520.2 L653.0,520.1 L653.0,520.1 L652.9,519.8 L652.9,519.7 L652.9,519.7 L652.9,519.6 L652.9,519.4 L652.9,519.3 L652.9,519.3 L652.9,519.2 L652.9,518.9 L652.9,518.9 L652.9,518.8 L652.9,518.8 L653.0,518.5 L653.0,518.5 L653.0,518.4 L653.0,518.3 L653.0,518.3 L653.0,518.2 L653.0,517.8 L653.0,517.7 L653.0,517.3 L653.0,517.2 L653.0,516.8 L652.9,516.7 L652.9,516.3 L652.8,516.2 L652.7,515.8 L652.7,515.7 L652.5,515.4 L652.4,515.3 L652.3,514.9 L652.2,514.8 L652.0,514.5 L651.9,514.4 L651.6,514.2 L651.6,514.1 L651.3,513.8 L651.2,513.7 L650.9,513.5 L650.8,513.4 L650.4,513.2 L650.4,513.2 L630.4,502.4 L630.4,502.3 L630.0,502.2 L629.9,502.1 L629.6,502.0 L629.4,502.0 L629.1,501.9 L629.0,501.8 L628.6,501.8 L628.5,501.8 L628.1,501.8 L628.0,501.7 L627.7,501.8 L627.5,501.8 L627.2,501.8 L627.1,501.8 L626.7,501.9 L626.6,502.0 L626.3,502.1 L626.1,502.1 L625.8,502.3 L625.7,502.3 L625.4,502.5 L625.3,502.6 L625.0,502.8 L624.9,502.8 L624.6,503.1 L624.5,503.2 L624.3,503.4 L624.2,503.5 L624.0,503.8 L623.9,503.9 L623.5,504.4 L623.5,504.4 L622.9,505.3 L622.9,505.3 L622.3,506.1 L622.3,506.1 L621.7,506.9 L621.7,506.9 L621.1,507.7 L621.1,507.7 L620.4,508.5 L620.4,508.6 L619.8,509.4 L619.8,509.4 L619.2,510.2 L619.1,510.2 L618.5,511.0 L618.5,511.0 L617.8,511.8 L617.8,511.8 L617.2,512.5 L617.2,512.6 L616.5,513.3 L616.5,513.3 L615.8,514.1 L615.8,514.1 L615.2,514.9 L615.1,514.9Z" fill="none" stroke="#1e1e1e" stroke-width="2.1" stroke-linejoin="round"/>
<path d="M667.5,575.9 L667.5,576.0 L667.2,576.3 L667.1,576.4 L666.9,576.7 L666.9,576.8 L666.7,577.1 L666.6,577.2 L666.5,577.6 L666.4,577.7 L666.3,578.0 L666.3,578.2 L666.2,578.5 L666.2,578.6 L666.1,579.0 L666.1,579.1 L666.1,579.5 L666.1,579.6 L666.1,580.0 L666.1,580.1 L666.2,580.5 L666.2,580.6 L666.3,581.0 L666.4,581.1 L666.5,581.4 L666.5,581.5 L666.7,581.9 L666.8,582.0 L667.0,582.3 L667.0,582.4 L667.3,582.7 L667.3,582.8 L676.8,593.7 L676.9,593.7 L677.1,594.0 L677.2,594.1 L677.5,594.3 L677.6,594.4 L677.9,594.6 L678.0,594.7 L678.3,594.9 L678.5,594.9 L678.8,595.1 L678.9,595.1 L679.3,595.2 L679.4,595.3 L679.8,595.3 L679.9,595.3 L680.3,595.4 L680.4,595.4 L680.8,595.4 L680.9,595.4 L681.3,595.4 L681.4,595.3 L681.7,595.3 L681.9,595.2 L682.3,595.1 L682.3,595.1 L682.3,595.1 L682.4,595.1 L682.6,595.0 L682.7,595.0 L682.7,595.0 L682.8,594.9 L683.0,594.9 L683.1,594.9 L683.2,594.8 L683.2,594.8 L683.5,594.8 L683.5,594.8 L683.6,594.8 L683.6,594.7 L683.9,594.7 L683.9,594.7 L684.0,594.7 L684.1,594.7 L684.3,594.6 L684.4,594.6 L684.4,594.6 L684.5,594.6 L684.7,594.6 L684.8,594.6 L684.9,594.6 L684.9,594.6 L685.2,594.6 L685.2,594.6 L685.3,594.6 L685.4,594.6 L685.6,594.6 L685.7,594.6 L685.7,594.6 L685.8,594.6 L686.0,594.6 L686.1,594.6 L686.2,594.6 L686.2,594.6 L686.5,594.7 L686.5,594.7 L686.6,594.7 L686.6,594.7 L686.9,594.7 L687.0,594.8 L687.0,594.8 L687.1,594.8 L687.3,594.8 L687.4,594.8 L687.4,594.9 L687.5,594.9 L687.7,594.9 L687.8,595.0 L687.8,595.0 L687.9,595.0 L688.1,595.1 L688.2,595.1 L688.3,595.1 L688.3,595.1 L688.5,595.2 L688.6,595.2 L688.7,595.3 L688.7,595.3 L688.9,595.4 L689.0,595.4 L689.1,595.4 L689.1,595.5 L689.3,595.6 L689.4,595.6 L689.4,595.6 L689.5,595.7 L689.7,595.8 L689.8,595.8 L689.8,595.9 L689.9,595.9 L690.1,596.0 L690.1,596.1 L690.2,596.1 L690.2,596.1 L690.4,596.3 L690.5,596.3 L690.5,596.3 L690.6,596.4 L690.8,596.5 L690.8,596.6 L690.9,596.6 L690.9,596.6 L691.1,596.8 L691.2,596.8 L691.2,596.9 L691.2,596.9 L691.4,597.1 L691.5,597.1 L691.5,597.2 L691.6,597.2 L691.7,597.4 L691.8,597.5 L691.8,597.5 L691.8,597.5 L692.0,597.7 L692.0,597.8 L692.1,597.8 L692.1,597.9 L692.3,598.1 L692.3,598.1 L692.4,598.2 L692.4,598.2 L692.5,598.4 L692.6,598.5 L692.6,598.5 L692.6,598.6 L692.8,598.8 L692.8,598.8 L692.8,598.9 L692.9,598.9 L693.0,599.2 L693.0,599.2 L693.0,599.3 L693.1,599.3 L693.2,599.5 L693.2,599.6 L693.2,599.7 L693.3,599.7 L693.4,599.9 L693.4,600.0 L693.4,600.0 L693.4,600.1 L693.5,600.3 L693.5,600.4 L693.6,600.5 L693.6,600.5 L693.7,600.7 L693.7,600.8 L693.7,600.9 L693.7,600.9 L693.8,601.2 L693.8,601.2 L693.8,601.3 L693.8,601.3 L693.9,601.6 L693.9,601.6 L693.9,601.7 L693.9,601.8 L694.0,602.0 L694.0,602.1 L694.0,602.1 L694.0,602.2 L694.0,602.4 L694.0,602.5 L694.0,602.6 L694.0,602.6 L694.0,602.9 L694.1,602.9 L694.1,603.0 L694.1,603.0 L694.1,603.3 L694.1,603.4 L694.1,603.4 L694.1,603.5 L694.1,603.7 L694.1,603.8 L694.1,603.9 L694.0,603.9 L694.0,604.2 L694.0,604.2 L694.0,604.3 L694.0,604.3 L694.0,604.6 L694.0,604.6 L694.0,604.7 L694.0,604.8 L693.9,605.0 L693.9,605.1 L693.9,605.1 L693.9,605.2 L693.8,605.4 L693.8,605.5 L693.8,605.6 L693.8,605.6 L693.7,605.9 L693.7,605.9 L693.7,606.0 L693.7,606.0 L693.6,606.3 L693.6,606.3 L693.5,606.4 L693.5,606.4 L693.4,606.7 L693.4,606.7 L693.4,606.8 L693.4,606.8 L693.3,607.1 L693.2,607.1 L693.2,607.2 L693.2,607.2 L693.0,607.5 L693.0,607.6 L692.9,607.9 L692.8,608.0 L692.7,608.3 L692.7,608.4 L692.6,608.8 L692.6,608.9 L692.5,609.3 L692.5,609.4 L692.5,609.8 L692.5,609.9 L692.5,610.3 L692.5,610.4 L692.6,610.8 L692.6,610.9 L692.7,611.3 L692.7,611.4 L692.9,611.8 L692.9,611.9 L693.1,612.2 L693.2,612.3 L693.4,612.6 L693.4,612.7 L693.7,613.1 L693.7,613.1 L698.9,619.0 L698.9,619.1 L699.2,619.4 L699.3,619.4 L699.5,619.7 L699.6,619.7 L699.9,620.0 L700.0,620.0 L700.3,620.2 L700.4,620.2 L700.8,620.4 L700.9,620.4 L701.2,620.6 L701.3,620.6 L701.7,620.7 L701.8,620.7 L702.2,620.7 L702.3,620.8 L702.6,620.8 L702.8,620.8 L703.1,620.7 L703.2,620.7 L703.6,620.7 L703.7,620.7 L704.1,620.6 L704.2,620.5 L704.5,620.4 L704.6,620.4 L704.9,620.2 L705.1,620.2 L705.4,620.0 L705.5,619.9 L705.8,619.7 L705.8,619.6 L706.1,619.4 L706.2,619.3 L706.9,618.6 L706.9,618.6 L709.1,616.4 L709.2,616.3 L711.4,614.1 L711.4,614.0 L713.6,611.8 L713.6,611.7 L715.7,609.4 L715.8,609.4 L717.9,607.0 L717.9,607.0 L720.0,604.7 L720.0,604.6 L722.1,602.2 L722.1,602.2 L724.1,599.8 L724.1,599.8 L726.1,597.3 L726.2,597.3 L728.1,594.8 L728.2,594.8 L730.1,592.3 L730.1,592.3 L732.0,589.8 L732.1,589.8 L733.9,587.2 L734.0,587.2 L735.8,584.7 L735.8,584.6 L737.6,582.1 L737.7,582.0 L739.5,579.4 L739.5,579.4 L741.2,576.8 L741.3,576.7 L743.0,574.1 L743.0,574.1 L744.7,571.4 L744.7,571.4 L745.3,570.5 L745.3,570.5 L745.5,570.1 L745.5,570.0 L745.7,569.7 L745.7,569.6 L745.8,569.2 L745.9,569.1 L746.0,568.8 L746.0,568.7 L746.0,568.3 L746.0,568.2 L746.0,567.8 L746.0,567.7 L746.0,567.3 L746.0,567.2 L745.9,566.9 L745.9,566.7 L745.8,566.4 L745.8,566.3 L745.7,565.9 L745.6,565.8 L745.5,565.5 L745.4,565.4 L745.2,565.1 L745.1,565.0 L744.9,564.7 L744.9,564.6 L744.6,564.4 L744.5,564.3 L744.3,564.0 L744.2,564.0 L743.9,563.7 L743.8,563.7 L743.4,563.5 L743.4,563.4 L736.5,559.7 L736.4,559.7 L736.1,559.5 L736.0,559.5 L735.6,559.3 L735.5,559.3 L735.1,559.2 L735.0,559.2 L734.6,559.1 L734.5,559.1 L734.1,559.1 L734.0,559.1 L733.6,559.1 L733.5,559.1 L733.1,559.2 L733.0,559.2 L732.6,559.3 L732.5,559.4 L732.2,559.5 L732.0,559.5 L731.7,559.7 L731.6,559.8 L731.3,560.0 L731.2,560.0 L730.9,560.3 L730.8,560.3 L730.8,560.4 L730.7,560.4 L730.7,560.4 L730.5,560.6 L730.4,560.6 L730.4,560.7 L730.3,560.7 L730.1,560.9 L730.1,560.9 L730.0,560.9 L730.0,561.0 L729.8,561.1 L729.7,561.1 L729.7,561.1 L729.6,561.2 L729.4,561.3 L729.3,561.3 L729.3,561.4 L729.2,561.4 L729.0,561.5 L729.0,561.5 L728.9,561.6 L728.8,561.6 L728.6,561.7 L728.6,561.7 L728.5,561.7 L728.4,561.8 L728.2,561.8 L728.2,561.9 L728.1,561.9 L728.0,561.9 L727.8,562.0 L727.7,562.0 L727.7,562.0 L727.6,562.0 L727.4,562.1 L727.3,562.1 L727.3,562.1 L727.2,562.1 L727.0,562.2 L726.9,562.2 L726.9,562.2 L726.8,562.2 L726.5,562.3 L726.5,562.3 L726.4,562.3 L726.4,562.3 L726.1,562.3 L726.1,562.3 L726.0,562.3 L725.9,562.4 L725.7,562.4 L725.6,562.4 L725.6,562.4 L725.5,562.4 L725.3,562.4 L725.2,562.4 L725.1,562.4 L725.1,562.4 L724.8,562.4 L724.8,562.4 L724.7,562.4 L724.6,562.4 L724.4,562.4 L724.3,562.3 L724.3,562.3 L724.2,562.3 L724.0,562.3 L723.9,562.3 L723.8,562.3 L723.8,562.3 L723.5,562.2 L723.5,562.2 L723.4,562.2 L723.4,562.2 L723.1,562.1 L723.1,562.1 L723.0,562.1 L722.9,562.1 L722.7,562.0 L722.6,562.0 L722.6,562.0 L722.5,562.0 L722.3,561.9 L722.2,561.9 L722.2,561.9 L722.1,561.8 L721.9,561.8 L721.8,561.7 L721.8,561.7 L721.7,561.7 L721.5,561.6 L721.4,561.6 L721.4,561.5 L721.3,561.5 L721.1,561.4 L721.0,561.4 L721.0,561.3 L720.9,561.3 L720.7,561.2 L720.7,561.1 L720.6,561.1 L720.6,561.1 L720.4,561.0 L720.3,560.9 L720.3,560.9 L720.2,560.9 L720.0,560.7 L719.9,560.7 L719.9,560.6 L719.9,560.6 L719.7,560.4 L719.6,560.4 L719.6,560.4 L719.5,560.3 L719.3,560.2 L719.3,560.1 L719.2,560.1 L719.2,560.0 L719.0,559.9 L719.0,559.8 L718.9,559.8 L718.9,559.7 L718.7,559.6 L718.7,559.5 L718.6,559.5 L718.6,559.4 L718.4,559.2 L718.4,559.2 L718.3,559.1 L718.3,559.1 L718.2,558.9 L718.1,558.9 L718.1,558.8 L718.0,558.8 L717.9,558.6 L717.9,558.5 L717.8,558.4 L717.8,558.4 L717.7,558.2 L717.6,558.1 L717.6,558.1 L717.6,558.0 L717.4,557.8 L717.4,557.8 L717.4,557.7 L717.4,557.7 L717.3,557.4 L717.2,557.4 L717.2,557.3 L717.2,557.3 L717.1,557.0 L717.0,557.0 L717.0,556.9 L717.0,556.9 L716.9,556.6 L716.9,556.6 L716.9,556.5 L716.9,556.5 L716.8,556.2 L716.8,556.2 L716.7,556.1 L716.7,556.1 L716.7,555.8 L716.6,555.8 L716.6,555.7 L716.6,555.6 L716.6,555.4 L716.5,555.3 L716.5,555.3 L716.5,555.2 L716.5,555.0 L716.5,554.9 L716.5,554.8 L716.4,554.8 L716.4,554.5 L716.4,554.5 L716.4,554.4 L716.4,554.4 L716.4,554.1 L716.4,554.0 L716.4,554.0 L716.4,553.9 L716.4,553.7 L716.4,553.6 L716.4,553.6 L716.4,553.5 L716.4,553.2 L716.4,553.2 L716.4,553.1 L716.4,553.1 L716.4,552.8 L716.4,552.8 L716.4,552.7 L716.4,552.6 L716.4,552.5 L716.4,552.5 L716.5,552.1 L716.5,552.0 L716.5,551.6 L716.4,551.5 L716.4,551.1 L716.4,551.0 L716.3,550.6 L716.3,550.5 L716.1,550.1 L716.1,550.0 L715.9,549.7 L715.9,549.6 L715.7,549.2 L715.6,549.1 L715.4,548.8 L715.3,548.7 L715.1,548.5 L715.0,548.4 L714.7,548.1 L714.6,548.0 L714.3,547.8 L714.2,547.7 L713.9,547.5 L713.8,547.5 L701.1,540.6 L701.1,540.6 L700.7,540.4 L700.6,540.3 L700.2,540.2 L700.1,540.2 L699.8,540.1 L699.6,540.1 L699.3,540.0 L699.2,540.0 L698.8,540.0 L698.7,540.0 L698.3,540.0 L698.2,540.0 L697.8,540.1 L697.7,540.1 L697.3,540.2 L697.2,540.2 L696.8,540.3 L696.7,540.4 L696.4,540.6 L696.3,540.6 L696.0,540.8 L695.9,540.9 L695.6,541.1 L695.5,541.2 L695.2,541.4 L695.1,541.5 L694.9,541.8 L694.8,541.9 L694.5,542.2 L694.5,542.3 L693.3,544.1 L693.3,544.1 L693.3,544.1 L693.3,544.1 L692.0,546.0 L692.0,546.0 L692.0,546.0 L692.0,546.0 L690.8,547.9 L690.8,547.9 L690.7,547.9 L690.7,547.9 L689.5,549.8 L689.4,549.8 L689.4,549.8 L689.4,549.8 L688.1,551.6 L688.1,551.6 L688.1,551.6 L688.1,551.6 L686.8,553.5 L686.8,553.5 L686.8,553.5 L686.8,553.5 L685.4,555.3 L685.4,555.3 L685.4,555.3 L685.4,555.3 L684.0,557.1 L684.0,557.1 L684.0,557.1 L684.0,557.1 L682.6,558.9 L682.6,558.9 L682.6,558.9 L682.6,558.9 L681.2,560.7 L681.2,560.7 L681.2,560.7 L681.2,560.7 L679.7,562.4 L679.7,562.4 L679.7,562.5 L679.7,562.5 L678.3,564.2 L678.3,564.2 L678.3,564.2 L678.2,564.2 L676.8,565.9 L676.8,565.9 L676.8,565.9 L676.8,566.0 L675.3,567.6 L675.3,567.7 L675.3,567.7 L675.3,567.7 L673.8,569.3 L673.8,569.4 L673.7,569.4 L673.7,569.4 L672.2,571.0 L672.2,571.0 L672.2,571.0 L672.2,571.1 L670.7,572.7 L670.7,572.7 L670.7,572.7 L670.6,572.7 L669.1,574.3 L669.1,574.4 L669.1,574.4 L669.1,574.4Z" fill="none" stroke="#1e1e1e" stroke-width="2.1" stroke-linejoin="round"/>
<path d="M716.3,631.8 L716.2,631.9 L715.9,632.2 L715.9,632.3 L715.6,632.6 L715.6,632.7 L715.4,633.0 L715.3,633.1 L715.2,633.5 L715.1,633.6 L715.0,633.9 L714.9,634.0 L714.8,634.4 L714.8,634.5 L714.8,634.9 L714.8,635.0 L714.7,635.4 L714.7,635.5 L714.8,635.9 L714.8,636.0 L714.8,636.4 L714.9,636.5 L715.0,636.9 L715.0,637.0 L715.1,637.4 L715.2,637.5 L715.4,637.8 L715.4,637.9 L715.6,638.3 L715.7,638.4 L715.9,638.7 L716.0,638.7 L722.8,646.5 L722.8,646.6 L723.1,646.9 L723.2,647.0 L723.5,647.2 L723.6,647.3 L723.9,647.5 L724.0,647.6 L724.3,647.7 L724.4,647.8 L724.8,647.9 L724.9,648.0 L725.2,648.1 L725.4,648.1 L725.7,648.2 L725.9,648.2 L726.2,648.3 L726.3,648.3 L726.7,648.3 L726.8,648.3 L727.2,648.2 L727.3,648.2 L727.7,648.1 L727.8,648.1 L728.2,648.0 L728.3,648.0 L728.3,648.0 L728.4,648.0 L728.6,647.9 L728.6,647.9 L728.7,647.8 L728.8,647.8 L729.0,647.8 L729.1,647.7 L729.1,647.7 L729.2,647.7 L729.4,647.7 L729.5,647.6 L729.5,647.6 L729.6,647.6 L729.8,647.6 L729.9,647.6 L730.0,647.6 L730.0,647.5 L730.3,647.5 L730.3,647.5 L730.4,647.5 L730.5,647.5 L730.7,647.5 L730.8,647.5 L730.8,647.5 L730.9,647.5 L731.1,647.5 L731.2,647.5 L731.3,647.5 L731.3,647.5 L731.6,647.5 L731.6,647.5 L731.7,647.5 L731.8,647.5 L732.0,647.5 L732.1,647.5 L732.1,647.5 L732.2,647.5 L732.4,647.5 L732.5,647.6 L732.6,647.6 L732.6,647.6 L732.9,647.6 L732.9,647.6 L733.0,647.6 L733.0,647.7 L733.3,647.7 L733.3,647.7 L733.4,647.7 L733.5,647.8 L733.7,647.8 L733.8,647.8 L733.8,647.9 L733.9,647.9 L734.1,648.0 L734.2,648.0 L734.2,648.0 L734.3,648.0 L734.5,648.1 L734.6,648.1 L734.6,648.1 L734.7,648.2 L734.9,648.3 L735.0,648.3 L735.0,648.3 L735.1,648.4 L735.3,648.5 L735.4,648.5 L735.4,648.5 L735.5,648.5 L735.7,648.7 L735.7,648.7 L735.8,648.7 L735.8,648.8 L736.0,648.9 L736.1,648.9 L736.1,649.0 L736.2,649.0 L736.4,649.1 L736.4,649.2 L736.5,649.2 L736.5,649.3 L736.7,649.4 L736.8,649.4 L736.8,649.5 L736.9,649.5 L737.1,649.7 L737.1,649.7 L737.2,649.8 L737.2,649.8 L737.4,650.0 L737.4,650.0 L737.5,650.1 L737.5,650.1 L737.7,650.3 L737.7,650.3 L737.8,650.4 L737.8,650.4 L738.0,650.6 L738.0,650.7 L738.1,650.7 L738.1,650.8 L738.2,650.9 L738.3,651.0 L738.3,651.0 L738.4,651.1 L738.5,651.3 L738.5,651.4 L738.6,651.4 L738.6,651.5 L738.7,651.7 L738.8,651.7 L738.8,651.8 L738.8,651.8 L738.9,652.0 L739.0,652.1 L739.0,652.1 L739.0,652.2 L739.1,652.4 L739.2,652.5 L739.2,652.5 L739.2,652.6 L739.3,652.8 L739.3,652.9 L739.4,652.9 L739.4,653.0 L739.5,653.2 L739.5,653.3 L739.5,653.3 L739.5,653.4 L739.6,653.6 L739.6,653.7 L739.7,653.7 L739.7,653.8 L739.7,654.0 L739.8,654.1 L739.8,654.2 L739.8,654.2 L739.8,654.5 L739.9,654.5 L739.9,654.6 L739.9,654.6 L739.9,654.9 L739.9,654.9 L739.9,655.0 L739.9,655.1 L740.0,655.3 L740.0,655.4 L740.0,655.4 L740.0,655.5 L740.0,655.7 L740.0,655.8 L740.0,655.9 L740.0,655.9 L740.0,656.2 L740.0,656.2 L740.0,656.3 L740.0,656.4 L740.0,656.6 L740.0,656.7 L740.0,656.7 L740.0,656.8 L740.0,657.0 L740.0,657.1 L740.0,657.2 L740.0,657.2 L739.9,657.5 L739.9,657.5 L739.9,657.6 L739.9,657.6 L739.9,657.9 L739.9,658.0 L739.9,658.0 L739.8,658.1 L739.8,658.3 L739.8,658.4 L739.8,658.4 L739.7,658.5 L739.7,658.7 L739.7,658.8 L739.6,658.8 L739.6,658.9 L739.5,659.1 L739.5,659.2 L739.5,659.3 L739.5,659.3 L739.4,659.5 L739.4,659.6 L739.3,659.7 L739.3,659.7 L739.2,659.9 L739.2,660.0 L739.2,660.1 L739.1,660.1 L739.0,660.4 L739.0,660.4 L738.8,660.7 L738.8,660.8 L738.7,661.2 L738.6,661.3 L738.5,661.7 L738.5,661.8 L738.5,662.2 L738.5,662.3 L738.4,662.7 L738.4,662.8 L738.5,663.2 L738.5,663.3 L738.5,663.7 L738.6,663.8 L738.7,664.2 L738.7,664.3 L738.8,664.6 L738.9,664.8 L739.1,665.1 L739.1,665.2 L739.3,665.5 L739.4,665.6 L739.6,665.9 L739.7,666.0 L746.2,673.5 L746.2,673.5 L746.5,673.8 L746.6,673.9 L746.8,674.1 L746.9,674.2 L747.2,674.4 L747.3,674.4 L747.6,674.6 L747.7,674.7 L748.1,674.8 L748.2,674.9 L748.5,675.0 L748.6,675.0 L749.0,675.1 L749.1,675.1 L749.4,675.2 L749.6,675.2 L749.9,675.2 L750.0,675.2 L750.4,675.2 L750.5,675.2 L750.9,675.1 L751.0,675.1 L751.3,675.0 L751.5,675.0 L751.8,674.8 L751.9,674.8 L752.2,674.6 L752.3,674.6 L752.6,674.4 L752.7,674.3 L753.0,674.1 L753.1,674.1 L753.4,673.8 L753.5,673.8 L755.8,671.5 L755.9,671.4 L758.9,668.4 L758.9,668.4 L761.9,665.4 L762.0,665.3 L764.9,662.3 L764.9,662.2 L767.8,659.1 L767.9,659.1 L770.8,655.9 L770.8,655.9 L773.6,652.7 L773.7,652.6 L776.4,649.4 L776.5,649.4 L779.2,646.1 L779.3,646.1 L782.0,642.8 L782.0,642.7 L784.7,639.4 L784.7,639.4 L787.3,636.0 L787.4,636.0 L789.9,632.6 L790.0,632.5 L792.5,629.1 L792.5,629.1 L795.0,625.6 L795.1,625.6 L797.5,622.1 L797.5,622.0 L799.9,618.5 L800.0,618.5 L802.3,614.9 L802.4,614.9 L804.7,611.3 L804.7,611.3 L807.0,607.7 L807.0,607.6 L808.7,604.8 L808.8,604.7 L808.9,604.4 L809.0,604.3 L809.1,604.0 L809.2,603.8 L809.3,603.5 L809.3,603.4 L809.4,603.0 L809.4,602.9 L809.5,602.6 L809.5,602.4 L809.5,602.1 L809.5,602.0 L809.4,601.6 L809.4,601.5 L809.4,601.1 L809.3,601.0 L809.2,600.7 L809.2,600.6 L809.1,600.2 L809.0,600.1 L808.9,599.8 L808.8,599.7 L808.6,599.4 L808.6,599.3 L808.4,599.0 L808.3,598.9 L808.0,598.6 L808.0,598.6 L807.7,598.3 L807.6,598.3 L807.3,598.0 L807.2,598.0 L806.9,597.8 L806.8,597.7 L798.1,593.0 L798.1,593.0 L797.7,592.8 L797.6,592.8 L797.2,592.7 L797.1,592.6 L796.8,592.5 L796.6,592.5 L796.3,592.5 L796.1,592.4 L795.8,592.4 L795.6,592.4 L795.3,592.5 L795.1,592.5 L794.8,592.5 L794.6,592.5 L794.3,592.6 L794.1,592.7 L793.8,592.8 L793.7,592.9 L793.3,593.0 L793.2,593.1 L792.9,593.3 L792.8,593.4 L792.5,593.6 L792.4,593.7 L792.4,593.7 L792.4,593.7 L792.3,593.8 L792.1,593.9 L792.1,594.0 L792.0,594.0 L792.0,594.0 L791.8,594.2 L791.7,594.2 L791.7,594.2 L791.6,594.3 L791.4,594.4 L791.3,594.4 L791.3,594.5 L791.2,594.5 L791.0,594.6 L791.0,594.7 L790.9,594.7 L790.9,594.7 L790.6,594.8 L790.6,594.9 L790.5,594.9 L790.5,594.9 L790.2,595.0 L790.2,595.0 L790.1,595.1 L790.1,595.1 L789.8,595.2 L789.8,595.2 L789.7,595.2 L789.7,595.2 L789.4,595.3 L789.4,595.3 L789.3,595.3 L789.3,595.4 L789.0,595.4 L789.0,595.4 L788.9,595.5 L788.8,595.5 L788.6,595.5 L788.5,595.5 L788.5,595.5 L788.4,595.6 L788.2,595.6 L788.1,595.6 L788.1,595.6 L788.0,595.6 L787.7,595.7 L787.7,595.7 L787.6,595.7 L787.6,595.7 L787.3,595.7 L787.3,595.7 L787.2,595.7 L787.1,595.7 L786.9,595.7 L786.8,595.7 L786.8,595.7 L786.7,595.7 L786.5,595.7 L786.4,595.7 L786.3,595.7 L786.3,595.7 L786.0,595.7 L786.0,595.7 L785.9,595.7 L785.8,595.7 L785.6,595.6 L785.5,595.6 L785.5,595.6 L785.4,595.6 L785.2,595.6 L785.1,595.5 L785.0,595.5 L785.0,595.5 L784.7,595.5 L784.7,595.5 L784.6,595.4 L784.6,595.4 L784.3,595.4 L784.3,595.3 L784.2,595.3 L784.2,595.3 L783.9,595.2 L783.9,595.2 L783.8,595.2 L783.7,595.2 L783.5,595.1 L783.5,595.1 L783.4,595.0 L783.3,595.0 L783.1,594.9 L783.1,594.9 L783.0,594.9 L782.9,594.8 L782.7,594.7 L782.7,594.7 L782.6,594.7 L782.6,594.6 L782.4,594.5 L782.3,594.5 L782.2,594.4 L782.2,594.4 L782.0,594.3 L781.9,594.2 L781.9,594.2 L781.8,594.2 L781.6,594.0 L781.6,594.0 L781.5,594.0 L781.5,593.9 L781.3,593.8 L781.2,593.7 L781.2,593.7 L781.1,593.7 L781.0,593.5 L780.9,593.4 L780.9,593.4 L780.8,593.4 L780.6,593.2 L780.6,593.2 L780.6,593.1 L780.5,593.1 L780.3,592.9 L780.3,592.8 L780.3,592.8 L780.2,592.7 L780.1,592.6 L780.0,592.5 L780.0,592.5 L779.9,592.4 L779.8,592.2 L779.7,592.2 L779.7,592.1 L779.7,592.1 L779.5,591.9 L779.5,591.8 L779.5,591.8 L779.4,591.7 L779.3,591.5 L779.3,591.5 L779.2,591.4 L779.2,591.4 L779.1,591.1 L779.0,591.1 L779.0,591.0 L779.0,591.0 L778.9,590.8 L778.9,590.7 L778.8,590.6 L778.8,590.6 L778.7,590.4 L778.7,590.3 L778.7,590.2 L778.6,590.2 L778.5,590.0 L778.5,589.9 L778.5,589.8 L778.5,589.8 L778.4,589.6 L778.4,589.5 L778.4,589.4 L778.3,589.4 L778.3,589.1 L778.3,589.1 L778.3,589.0 L778.2,589.0 L778.2,588.7 L778.2,588.7 L778.2,588.6 L778.1,588.5 L778.1,588.3 L778.1,588.2 L778.1,588.2 L778.1,588.1 L778.0,587.9 L778.0,587.8 L778.0,587.7 L778.0,587.7 L778.0,587.4 L778.0,587.4 L778.0,587.3 L778.0,587.2 L778.0,587.0 L778.0,586.9 L778.0,586.9 L778.0,586.8 L778.0,586.6 L778.0,586.5 L778.0,586.4 L778.0,586.4 L778.0,586.1 L778.0,586.1 L778.0,586.0 L778.0,586.0 L778.1,585.9 L778.1,585.8 L778.1,585.4 L778.1,585.3 L778.1,584.9 L778.1,584.8 L778.0,584.4 L778.0,584.3 L777.9,583.9 L777.9,583.8 L777.8,583.5 L777.7,583.3 L777.6,583.0 L777.5,582.9 L777.3,582.6 L777.3,582.5 L777.0,582.2 L777.0,582.1 L776.7,581.8 L776.6,581.7 L776.4,581.4 L776.3,581.4 L776.0,581.1 L775.9,581.1 L775.5,580.9 L775.5,580.8 L766.4,575.9 L766.3,575.8 L765.9,575.7 L765.8,575.6 L765.5,575.5 L765.3,575.5 L765.0,575.4 L764.9,575.3 L764.5,575.3 L764.4,575.3 L764.0,575.3 L763.8,575.3 L763.5,575.3 L763.3,575.3 L763.0,575.4 L762.8,575.4 L762.5,575.5 L762.4,575.5 L762.0,575.6 L761.9,575.7 L761.6,575.9 L761.4,575.9 L761.1,576.1 L761.0,576.2 L760.7,576.4 L760.6,576.5 L760.4,576.8 L760.3,576.9 L760.0,577.2 L759.9,577.3 L759.7,577.6 L759.7,577.6 L758.6,579.4 L758.6,579.4 L758.6,579.5 L758.5,579.5 L756.7,582.3 L756.7,582.3 L756.7,582.4 L756.7,582.4 L754.8,585.2 L754.8,585.2 L754.8,585.2 L754.8,585.3 L752.9,588.1 L752.9,588.1 L752.9,588.1 L752.9,588.1 L751.0,590.9 L751.0,590.9 L751.0,590.9 L751.0,590.9 L749.0,593.7 L749.0,593.7 L749.0,593.7 L749.0,593.8 L747.0,596.5 L747.0,596.5 L747.0,596.5 L747.0,596.5 L744.9,599.3 L744.9,599.3 L744.9,599.3 L744.9,599.3 L742.8,602.0 L742.8,602.0 L742.8,602.0 L742.8,602.0 L740.7,604.7 L740.7,604.7 L740.7,604.7 L740.7,604.7 L738.6,607.4 L738.6,607.4 L738.6,607.4 L738.5,607.4 L736.4,610.0 L736.4,610.1 L736.4,610.1 L736.4,610.1 L734.2,612.7 L734.2,612.7 L734.2,612.7 L734.2,612.7 L731.9,615.3 L731.9,615.3 L731.9,615.3 L731.9,615.3 L729.7,617.9 L729.6,617.9 L729.6,617.9 L729.6,617.9 L727.3,620.4 L727.3,620.4 L727.3,620.4 L727.3,620.4 L725.0,622.9 L725.0,622.9 L725.0,623.0 L725.0,623.0 L722.6,625.4 L722.6,625.4 L722.6,625.4 L722.6,625.5 L720.2,627.9 L720.2,627.9 L720.2,627.9 L720.2,627.9 L717.8,630.3 L717.8,630.3 L717.8,630.3 L717.8,630.4Z" fill="none" stroke="#1e1e1e" stroke-width="2.1" stroke-linejoin="round"/>
<path d="M639.1,475.9 L639.0,475.9 L638.9,476.3 L638.9,476.4 L638.8,476.8 L638.8,476.9 L638.7,477.2 L638.7,477.4 L638.7,477.7 L638.7,477.8 L638.7,478.2 L638.7,478.3 L638.8,478.7 L638.8,478.8 L638.9,479.2 L639.0,479.3 L639.1,479.6 L639.1,479.7 L639.3,480.0 L639.3,480.1 L639.5,480.5 L639.6,480.6 L639.8,480.8 L639.9,480.9 L640.1,481.2 L640.2,481.3 L640.5,481.5 L640.6,481.6 L640.9,481.8 L641.0,481.9 L641.3,482.1 L641.4,482.1 L661.3,492.9 L661.4,493.0 L661.8,493.1 L661.9,493.2 L662.2,493.3 L662.3,493.3 L662.7,493.4 L662.8,493.5 L663.2,493.5 L663.3,493.5 L663.7,493.5 L663.8,493.5 L664.2,493.5 L664.3,493.5 L664.7,493.4 L664.8,493.4 L665.2,493.3 L665.3,493.3 L665.7,493.1 L665.8,493.1 L666.1,492.9 L666.2,492.9 L666.5,492.7 L666.7,492.6 L667.0,492.3 L667.0,492.3 L667.1,492.3 L667.1,492.2 L667.2,492.2 L667.4,492.0 L667.4,492.0 L667.5,492.0 L667.5,491.9 L667.7,491.8 L667.8,491.8 L667.8,491.7 L667.9,491.7 L668.1,491.6 L668.1,491.5 L668.2,491.5 L668.2,491.5 L668.4,491.3 L668.5,491.3 L668.5,491.3 L668.6,491.3 L668.8,491.1 L668.9,491.1 L668.9,491.1 L669.0,491.1 L669.2,491.0 L669.3,490.9 L669.3,490.9 L669.4,490.9 L669.6,490.8 L669.7,490.8 L669.7,490.8 L669.8,490.7 L670.0,490.7 L670.1,490.6 L670.1,490.6 L670.2,490.6 L670.4,490.5 L670.5,490.5 L670.6,490.5 L670.6,490.5 L670.9,490.4 L670.9,490.4 L671.0,490.4 L671.0,490.4 L671.3,490.4 L671.3,490.4 L671.4,490.3 L671.5,490.3 L671.7,490.3 L671.8,490.3 L671.8,490.3 L671.9,490.3 L672.1,490.3 L672.2,490.3 L672.3,490.3 L672.3,490.3 L672.6,490.3 L672.6,490.3 L672.7,490.3 L672.8,490.3 L673.0,490.3 L673.1,490.3 L673.1,490.3 L673.2,490.3 L673.4,490.3 L673.5,490.3 L673.6,490.3 L673.6,490.3 L673.9,490.3 L673.9,490.3 L674.0,490.4 L674.0,490.4 L674.3,490.4 L674.4,490.4 L674.4,490.4 L674.5,490.4 L674.7,490.5 L674.8,490.5 L674.8,490.5 L674.9,490.5 L675.1,490.6 L675.2,490.6 L675.3,490.6 L675.3,490.7 L675.5,490.7 L675.6,490.8 L675.7,490.8 L675.7,490.8 L675.9,490.9 L676.0,490.9 L676.1,490.9 L676.1,491.0 L676.3,491.1 L676.4,491.1 L676.5,491.1 L676.5,491.1 L676.7,491.3 L676.8,491.3 L676.8,491.3 L676.9,491.3 L677.1,491.5 L677.2,491.5 L677.2,491.5 L677.3,491.6 L677.5,491.7 L677.5,491.7 L677.6,491.8 L677.6,491.8 L677.8,491.9 L677.9,492.0 L677.9,492.0 L678.0,492.0 L678.2,492.2 L678.2,492.2 L678.3,492.3 L678.3,492.3 L678.5,492.5 L678.6,492.5 L678.6,492.6 L678.6,492.6 L678.8,492.8 L678.9,492.8 L678.9,492.9 L679.0,492.9 L679.1,493.1 L679.2,493.1 L679.2,493.2 L679.2,493.2 L679.4,493.4 L679.4,493.4 L679.5,493.5 L679.5,493.5 L679.7,493.7 L679.7,493.8 L679.8,493.8 L679.8,493.9 L679.9,494.1 L680.0,494.1 L680.0,494.2 L680.0,494.2 L680.2,494.5 L680.2,494.5 L680.2,494.6 L680.3,494.6 L680.4,494.8 L680.4,494.9 L680.4,494.9 L680.5,495.0 L680.6,495.2 L680.6,495.3 L680.6,495.3 L680.7,495.4 L680.8,495.6 L680.8,495.7 L680.8,495.7 L680.8,495.8 L680.9,496.0 L680.9,496.1 L681.0,496.1 L681.0,496.2 L681.1,496.4 L681.1,496.5 L681.1,496.5 L681.1,496.6 L681.2,496.8 L681.2,496.9 L681.2,496.9 L681.2,497.0 L681.3,497.2 L681.3,497.3 L681.3,497.4 L681.3,497.4 L681.4,497.7 L681.4,497.7 L681.4,497.8 L681.4,497.9 L681.4,498.1 L681.4,498.2 L681.4,498.2 L681.4,498.3 L681.5,498.5 L681.5,498.6 L681.5,498.7 L681.5,498.7 L681.5,499.0 L681.5,499.0 L681.5,499.1 L681.5,499.1 L681.5,499.4 L681.5,499.5 L681.5,499.5 L681.5,499.6 L681.4,499.8 L681.4,499.9 L681.4,499.9 L681.4,500.0 L681.4,500.1 L681.4,500.2 L681.4,500.6 L681.4,500.7 L681.4,501.1 L681.4,501.2 L681.4,501.6 L681.5,501.7 L681.5,502.0 L681.6,502.2 L681.7,502.5 L681.7,502.6 L681.9,503.0 L681.9,503.1 L682.1,503.4 L682.2,503.5 L682.4,503.8 L682.5,503.9 L682.7,504.2 L682.8,504.3 L683.1,504.5 L683.2,504.6 L683.5,504.8 L683.6,504.9 L683.9,505.1 L684.0,505.1 L689.9,508.4 L690.0,508.4 L690.3,508.6 L690.5,508.6 L690.8,508.7 L690.9,508.8 L691.3,508.9 L691.4,508.9 L691.8,509.0 L691.9,509.0 L692.2,509.0 L692.4,509.0 L692.7,509.0 L692.8,509.0 L693.2,508.9 L693.3,508.9 L693.7,508.8 L693.8,508.8 L694.1,508.7 L694.3,508.6 L694.6,508.5 L694.7,508.4 L695.0,508.2 L695.1,508.2 L695.4,507.9 L695.5,507.9 L695.8,507.6 L695.9,507.5 L696.1,507.3 L696.2,507.2 L696.4,506.9 L696.5,506.8 L696.7,506.5 L696.7,506.4 L696.9,506.0 L697.0,506.0 L697.2,505.4 L697.2,505.3 L698.0,503.5 L698.0,503.5 L698.8,501.6 L698.8,501.6 L699.5,499.7 L699.6,499.7 L700.3,497.8 L700.3,497.8 L701.0,495.9 L701.0,495.8 L701.7,494.0 L701.7,493.9 L702.4,492.0 L702.4,492.0 L703.0,490.1 L703.0,490.0 L703.7,488.1 L703.7,488.1 L704.3,486.2 L704.3,486.1 L704.9,484.2 L704.9,484.2 L705.4,482.3 L705.5,482.2 L706.0,480.3 L706.0,480.2 L706.5,478.3 L706.5,478.3 L707.0,476.3 L707.1,476.3 L707.5,474.3 L707.5,474.3 L708.0,472.4 L708.0,472.3 L708.2,471.7 L708.2,471.6 L708.2,471.2 L708.3,471.1 L708.3,470.7 L708.3,470.6 L708.3,470.2 L708.3,470.1 L708.2,469.8 L708.2,469.6 L708.1,469.3 L708.1,469.2 L708.0,468.8 L707.9,468.7 L707.8,468.4 L707.7,468.3 L707.6,467.9 L707.5,467.8 L707.3,467.5 L707.2,467.4 L707.0,467.2 L706.9,467.1 L706.6,466.8 L706.5,466.7 L706.3,466.5 L706.2,466.4 L705.8,466.2 L705.7,466.2 L705.4,466.0 L705.3,466.0 L705.0,465.8 L704.9,465.8 L704.5,465.7 L704.4,465.7 L704.0,465.6 L703.9,465.6 L697.3,464.7 L697.2,464.7 L696.8,464.6 L696.7,464.6 L696.3,464.6 L696.2,464.6 L695.8,464.7 L695.7,464.7 L695.3,464.8 L695.2,464.8 L694.8,464.9 L694.7,465.0 L694.4,465.1 L694.3,465.2 L693.9,465.3 L693.8,465.4 L693.5,465.6 L693.4,465.7 L693.2,465.9 L693.1,466.0 L692.8,466.3 L692.7,466.4 L692.5,466.7 L692.4,466.8 L692.2,467.1 L692.2,467.2 L692.1,467.4 L692.0,467.4 L692.0,467.5 L692.0,467.5 L691.8,467.7 L691.8,467.8 L691.8,467.8 L691.7,467.9 L691.6,468.1 L691.6,468.1 L691.5,468.2 L691.5,468.2 L691.3,468.4 L691.3,468.5 L691.3,468.5 L691.2,468.6 L691.1,468.8 L691.0,468.8 L691.0,468.8 L690.9,468.9 L690.8,469.1 L690.7,469.1 L690.7,469.2 L690.6,469.2 L690.5,469.4 L690.4,469.4 L690.4,469.5 L690.3,469.5 L690.1,469.7 L690.1,469.7 L690.0,469.7 L690.0,469.8 L689.8,469.9 L689.7,470.0 L689.7,470.0 L689.6,470.0 L689.4,470.2 L689.4,470.2 L689.3,470.2 L689.3,470.3 L689.1,470.4 L689.0,470.4 L689.0,470.5 L688.9,470.5 L688.7,470.6 L688.7,470.7 L688.6,470.7 L688.5,470.7 L688.3,470.8 L688.3,470.9 L688.2,470.9 L688.2,470.9 L687.9,471.0 L687.9,471.0 L687.8,471.1 L687.8,471.1 L687.5,471.2 L687.5,471.2 L687.4,471.2 L687.4,471.2 L687.1,471.3 L687.1,471.3 L687.0,471.3 L686.9,471.4 L686.7,471.4 L686.6,471.4 L686.6,471.5 L686.5,471.5 L686.3,471.5 L686.2,471.5 L686.2,471.5 L686.1,471.6 L685.9,471.6 L685.8,471.6 L685.7,471.6 L685.7,471.6 L685.4,471.7 L685.4,471.7 L685.3,471.7 L685.3,471.7 L685.0,471.7 L684.9,471.7 L684.9,471.7 L684.8,471.7 L684.6,471.7 L684.5,471.7 L684.4,471.7 L684.4,471.7 L684.1,471.7 L684.1,471.7 L684.0,471.7 L684.0,471.7 L683.7,471.7 L683.6,471.7 L683.6,471.7 L683.5,471.7 L683.3,471.6 L683.2,471.6 L683.2,471.6 L683.1,471.6 L682.9,471.6 L682.8,471.5 L682.7,471.5 L682.7,471.5 L682.4,471.5 L682.4,471.5 L682.3,471.4 L682.3,471.4 L682.0,471.4 L682.0,471.3 L681.9,471.3 L681.8,471.3 L681.6,471.2 L681.5,471.2 L681.5,471.2 L681.4,471.2 L681.2,471.1 L681.1,471.1 L681.1,471.0 L681.0,471.0 L680.8,470.9 L680.7,470.9 L680.7,470.9 L680.6,470.8 L680.4,470.7 L680.4,470.7 L680.3,470.7 L680.3,470.6 L680.0,470.5 L680.0,470.5 L679.9,470.4 L679.9,470.4 L679.7,470.3 L679.6,470.2 L679.6,470.2 L679.5,470.2 L679.3,470.0 L679.3,470.0 L679.2,470.0 L679.2,469.9 L679.0,469.8 L678.9,469.7 L678.9,469.7 L678.8,469.7 L678.6,469.5 L678.6,469.5 L678.5,469.4 L678.5,469.4 L678.3,469.2 L678.3,469.2 L678.2,469.1 L678.2,469.1 L678.0,468.9 L678.0,468.8 L677.9,468.8 L677.9,468.8 L677.7,468.6 L677.7,468.5 L677.7,468.5 L677.6,468.4 L677.5,468.2 L677.4,468.2 L677.4,468.1 L677.4,468.1 L677.2,467.9 L677.2,467.8 L677.1,467.8 L677.1,467.7 L677.0,467.5 L676.9,467.5 L676.9,467.4 L676.9,467.4 L676.8,467.1 L676.7,467.1 L676.7,467.0 L676.7,467.0 L676.6,466.8 L676.5,466.7 L676.5,466.6 L676.5,466.6 L676.4,466.4 L676.4,466.3 L676.3,466.3 L676.3,466.2 L676.2,466.0 L676.2,465.9 L676.2,465.8 L676.2,465.8 L676.1,465.6 L676.1,465.5 L676.1,465.4 L676.0,465.4 L676.0,465.1 L676.0,465.1 L675.9,465.0 L675.9,464.9 L675.8,464.6 L675.8,464.5 L675.6,464.1 L675.6,464.0 L675.4,463.7 L675.4,463.6 L675.1,463.2 L675.1,463.1 L674.8,462.8 L674.8,462.8 L674.5,462.5 L674.4,462.4 L674.1,462.2 L674.0,462.1 L673.7,461.9 L673.6,461.8 L673.2,461.6 L673.1,461.6 L672.8,461.4 L672.7,461.4 L672.3,461.3 L672.2,461.2 L671.8,461.2 L671.7,461.2 L649.2,458.1 L649.2,458.1 L648.8,458.0 L648.6,458.0 L648.3,458.0 L648.2,458.0 L647.8,458.1 L647.7,458.1 L647.3,458.2 L647.2,458.2 L646.9,458.3 L646.8,458.4 L646.4,458.5 L646.3,458.5 L646.0,458.7 L645.9,458.8 L645.6,459.0 L645.5,459.0 L645.2,459.3 L645.1,459.4 L644.9,459.6 L644.8,459.7 L644.6,460.0 L644.5,460.1 L644.3,460.4 L644.2,460.5 L644.0,460.8 L644.0,460.9 L643.8,461.2 L643.8,461.3 L643.7,461.7 L643.7,461.8 L643.5,462.4 L643.5,462.5 L643.2,463.4 L643.2,463.5 L642.9,464.4 L642.9,464.4 L642.6,465.4 L642.6,465.4 L642.4,466.4 L642.3,466.4 L642.0,467.4 L642.0,467.4 L641.7,468.4 L641.7,468.4 L641.4,469.3 L641.4,469.4 L641.1,470.3 L641.1,470.3 L640.8,471.3 L640.7,471.3 L640.4,472.3 L640.4,472.3 L640.1,473.2 L640.1,473.3 L639.7,474.2 L639.7,474.2 L639.3,475.2 L639.3,475.2Z" fill="none" stroke="#1e1e1e" stroke-width="2.1" stroke-linejoin="round"/>
<path d="M709.8,513.9 L709.8,514.0 L709.7,514.3 L709.6,514.5 L709.5,514.8 L709.5,514.9 L709.5,515.3 L709.4,515.4 L709.4,515.8 L709.4,515.9 L709.4,516.3 L709.4,516.4 L709.5,516.8 L709.5,516.9 L709.6,517.3 L709.6,517.4 L709.8,517.7 L709.8,517.9 L710.0,518.2 L710.0,518.3 L710.2,518.6 L710.3,518.7 L710.5,519.0 L710.6,519.1 L710.8,519.4 L710.9,519.5 L711.2,519.7 L711.3,519.8 L711.6,520.0 L711.7,520.1 L712.0,520.3 L712.1,520.4 L724.8,527.2 L724.8,527.3 L725.2,527.4 L725.3,527.5 L725.7,527.6 L725.8,527.6 L726.1,527.7 L726.3,527.8 L726.6,527.8 L726.8,527.8 L727.1,527.8 L727.3,527.8 L727.6,527.8 L727.8,527.8 L728.1,527.7 L728.3,527.7 L728.6,527.6 L728.8,527.6 L729.1,527.4 L729.2,527.4 L729.6,527.2 L729.7,527.2 L730.0,527.0 L730.1,526.9 L730.4,526.6 L730.5,526.6 L730.5,526.6 L730.5,526.5 L730.6,526.5 L730.8,526.3 L730.8,526.3 L730.9,526.3 L730.9,526.2 L731.1,526.1 L731.2,526.1 L731.2,526.0 L731.3,526.0 L731.5,525.9 L731.6,525.8 L731.6,525.8 L731.7,525.8 L731.9,525.6 L731.9,525.6 L732.0,525.6 L732.0,525.6 L732.3,525.4 L732.3,525.4 L732.4,525.4 L732.4,525.4 L732.7,525.3 L732.7,525.2 L732.8,525.2 L732.8,525.2 L733.1,525.1 L733.1,525.1 L733.2,525.1 L733.2,525.0 L733.5,525.0 L733.5,524.9 L733.6,524.9 L733.6,524.9 L733.9,524.8 L733.9,524.8 L734.0,524.8 L734.1,524.8 L734.3,524.7 L734.4,524.7 L734.4,524.7 L734.5,524.7 L734.7,524.7 L734.8,524.7 L734.8,524.6 L734.9,524.6 L735.2,524.6 L735.2,524.6 L735.3,524.6 L735.3,524.6 L735.6,524.6 L735.6,524.6 L735.7,524.6 L735.8,524.6 L736.0,524.6 L736.1,524.6 L736.1,524.6 L736.2,524.6 L736.4,524.6 L736.5,524.6 L736.6,524.6 L736.6,524.6 L736.9,524.6 L736.9,524.6 L737.0,524.6 L737.1,524.6 L737.3,524.6 L737.4,524.6 L737.4,524.7 L737.5,524.7 L737.7,524.7 L737.8,524.7 L737.9,524.7 L737.9,524.7 L738.2,524.8 L738.2,524.8 L738.3,524.8 L738.3,524.8 L738.6,524.9 L738.6,524.9 L738.7,524.9 L738.7,525.0 L739.0,525.0 L739.0,525.1 L739.1,525.1 L739.2,525.1 L739.4,525.2 L739.4,525.2 L739.5,525.2 L739.6,525.3 L739.8,525.4 L739.8,525.4 L739.9,525.4 L739.9,525.4 L740.2,525.6 L740.2,525.6 L740.3,525.6 L740.3,525.6 L740.5,525.8 L740.6,525.8 L740.7,525.8 L740.7,525.9 L740.9,526.0 L741.0,526.0 L741.0,526.1 L741.1,526.1 L741.3,526.2 L741.3,526.3 L741.4,526.3 L741.4,526.3 L741.6,526.5 L741.7,526.5 L741.7,526.6 L741.8,526.6 L741.9,526.8 L742.0,526.8 L742.0,526.9 L742.1,526.9 L742.3,527.1 L742.3,527.1 L742.3,527.2 L742.4,527.2 L742.6,527.4 L742.6,527.4 L742.6,527.5 L742.7,527.5 L742.8,527.7 L742.9,527.7 L742.9,527.8 L743.0,527.8 L743.1,528.0 L743.2,528.1 L743.2,528.1 L743.2,528.2 L743.4,528.4 L743.4,528.4 L743.4,528.5 L743.5,528.5 L743.6,528.8 L743.6,528.8 L743.7,528.9 L743.7,528.9 L743.8,529.1 L743.8,529.2 L743.9,529.2 L743.9,529.3 L744.0,529.5 L744.0,529.6 L744.1,529.6 L744.1,529.7 L744.2,529.9 L744.2,530.0 L744.2,530.0 L744.3,530.1 L744.4,530.3 L744.4,530.4 L744.4,530.4 L744.4,530.5 L744.5,530.7 L744.5,530.8 L744.5,530.8 L744.5,530.9 L744.6,531.1 L744.6,531.2 L744.6,531.2 L744.7,531.3 L744.7,531.5 L744.7,531.6 L744.7,531.7 L744.8,531.7 L744.8,532.0 L744.8,532.0 L744.8,532.1 L744.8,532.2 L744.9,532.4 L744.9,532.5 L744.9,532.5 L744.9,532.6 L744.9,532.8 L744.9,532.9 L744.9,533.0 L744.9,533.0 L744.9,533.3 L744.9,533.3 L744.9,533.4 L744.9,533.4 L744.9,533.7 L744.9,533.8 L744.9,533.8 L744.9,533.9 L744.9,534.1 L744.9,534.2 L744.9,534.2 L744.9,534.3 L744.8,534.4 L744.8,534.5 L744.8,534.9 L744.8,535.0 L744.8,535.4 L744.8,535.5 L744.9,535.9 L744.9,536.0 L745.0,536.3 L745.0,536.5 L745.1,536.8 L745.2,536.9 L745.3,537.3 L745.4,537.4 L745.6,537.7 L745.6,537.8 L745.9,538.1 L745.9,538.2 L746.2,538.5 L746.3,538.6 L746.5,538.8 L746.6,538.9 L746.9,539.1 L747.0,539.2 L747.4,539.4 L747.4,539.4 L754.3,543.2 L754.4,543.2 L754.7,543.4 L754.8,543.4 L755.2,543.6 L755.3,543.6 L755.6,543.7 L755.8,543.7 L756.1,543.8 L756.2,543.8 L756.6,543.8 L756.7,543.8 L757.1,543.8 L757.2,543.8 L757.6,543.7 L757.7,543.7 L758.0,543.6 L758.1,543.6 L758.5,543.5 L758.6,543.5 L758.9,543.3 L759.0,543.3 L759.3,543.1 L759.4,543.0 L759.7,542.8 L759.8,542.7 L760.1,542.5 L760.2,542.4 L760.4,542.2 L760.5,542.1 L760.8,541.8 L760.8,541.7 L761.0,541.4 L761.1,541.3 L761.3,540.9 L761.3,540.9 L761.7,540.0 L761.7,539.9 L763.0,537.1 L763.0,537.0 L764.3,534.2 L764.3,534.1 L765.5,531.2 L765.6,531.2 L766.7,528.3 L766.8,528.2 L767.9,525.3 L767.9,525.3 L769.0,522.3 L769.1,522.3 L770.1,519.3 L770.2,519.3 L771.2,516.3 L771.2,516.3 L772.2,513.3 L772.2,513.3 L773.2,510.3 L773.2,510.2 L774.2,507.2 L774.2,507.2 L775.1,504.2 L775.1,504.1 L776.0,501.1 L776.0,501.1 L776.8,498.0 L776.8,498.0 L777.6,495.0 L777.6,494.9 L778.4,491.9 L778.4,491.8 L779.1,488.8 L779.2,488.7 L779.8,485.6 L779.8,485.6 L780.5,482.5 L780.5,482.5 L780.7,481.5 L780.7,481.4 L780.8,481.0 L780.8,480.9 L780.8,480.6 L780.8,480.4 L780.8,480.1 L780.8,480.0 L780.7,479.6 L780.7,479.5 L780.6,479.1 L780.6,479.0 L780.5,478.7 L780.4,478.6 L780.3,478.2 L780.2,478.1 L780.0,477.8 L780.0,477.7 L779.8,477.4 L779.7,477.3 L779.5,477.1 L779.4,477.0 L779.1,476.7 L779.0,476.6 L778.7,476.4 L778.6,476.4 L778.3,476.2 L778.2,476.1 L777.9,475.9 L777.8,475.9 L777.5,475.8 L777.4,475.7 L777.0,475.6 L776.9,475.6 L776.5,475.5 L776.5,475.5 L768.7,474.4 L768.6,474.4 L768.2,474.4 L768.1,474.4 L767.7,474.4 L767.6,474.4 L767.2,474.5 L767.1,474.5 L766.8,474.6 L766.6,474.6 L766.3,474.7 L766.2,474.7 L765.8,474.9 L765.7,474.9 L765.4,475.1 L765.3,475.2 L765.0,475.4 L764.9,475.5 L764.6,475.7 L764.5,475.8 L764.3,476.1 L764.2,476.2 L763.9,476.5 L763.9,476.6 L763.7,476.9 L763.6,477.0 L763.5,477.1 L763.5,477.2 L763.5,477.2 L763.4,477.3 L763.3,477.5 L763.3,477.6 L763.2,477.6 L763.2,477.7 L763.1,477.9 L763.0,477.9 L763.0,478.0 L762.9,478.0 L762.8,478.2 L762.8,478.3 L762.7,478.3 L762.7,478.4 L762.5,478.5 L762.5,478.6 L762.4,478.6 L762.4,478.7 L762.2,478.9 L762.2,478.9 L762.1,478.9 L762.1,479.0 L761.9,479.2 L761.9,479.2 L761.8,479.2 L761.8,479.3 L761.6,479.4 L761.5,479.5 L761.5,479.5 L761.4,479.6 L761.2,479.7 L761.2,479.7 L761.1,479.8 L761.1,479.8 L760.9,480.0 L760.8,480.0 L760.8,480.0 L760.7,480.1 L760.5,480.2 L760.5,480.2 L760.4,480.3 L760.4,480.3 L760.2,480.4 L760.1,480.4 L760.0,480.5 L760.0,480.5 L759.8,480.6 L759.7,480.6 L759.7,480.7 L759.6,480.7 L759.4,480.8 L759.3,480.8 L759.3,480.8 L759.2,480.9 L759.0,481.0 L758.9,481.0 L758.9,481.0 L758.8,481.0 L758.6,481.1 L758.5,481.1 L758.5,481.1 L758.4,481.1 L758.2,481.2 L758.1,481.2 L758.0,481.2 L758.0,481.3 L757.7,481.3 L757.7,481.3 L757.6,481.3 L757.6,481.3 L757.3,481.4 L757.3,481.4 L757.2,481.4 L757.1,481.4 L756.9,481.4 L756.8,481.5 L756.8,481.5 L756.7,481.5 L756.5,481.5 L756.4,481.5 L756.3,481.5 L756.3,481.5 L756.0,481.5 L756.0,481.5 L755.9,481.5 L755.8,481.5 L755.6,481.5 L755.5,481.5 L755.5,481.5 L755.4,481.5 L755.2,481.5 L755.1,481.5 L755.0,481.5 L755.0,481.4 L754.7,481.4 L754.7,481.4 L754.6,481.4 L754.5,481.4 L754.3,481.3 L754.2,481.3 L754.2,481.3 L754.1,481.3 L753.9,481.3 L753.8,481.2 L753.8,481.2 L753.7,481.2 L753.5,481.1 L753.4,481.1 L753.3,481.1 L753.3,481.1 L753.1,481.0 L753.0,481.0 L752.9,481.0 L752.9,481.0 L752.6,480.9 L752.6,480.8 L752.5,480.8 L752.5,480.8 L752.3,480.7 L752.2,480.7 L752.1,480.6 L752.1,480.6 L751.9,480.5 L751.8,480.5 L751.8,480.4 L751.7,480.4 L751.5,480.3 L751.4,480.3 L751.4,480.2 L751.3,480.2 L751.1,480.1 L751.1,480.0 L751.0,480.0 L751.0,480.0 L750.8,479.8 L750.7,479.8 L750.7,479.7 L750.6,479.7 L750.4,479.6 L750.4,479.5 L750.3,479.5 L750.3,479.4 L750.1,479.3 L750.0,479.2 L750.0,479.2 L750.0,479.2 L749.8,479.0 L749.7,478.9 L749.7,478.9 L749.6,478.9 L749.5,478.7 L749.4,478.6 L749.4,478.6 L749.3,478.5 L749.2,478.4 L749.1,478.3 L749.1,478.3 L749.1,478.2 L748.9,478.0 L748.9,478.0 L748.8,477.9 L748.8,477.9 L748.7,477.7 L748.6,477.6 L748.6,477.6 L748.6,477.5 L748.4,477.3 L748.4,477.2 L748.4,477.2 L748.3,477.1 L748.2,476.9 L748.2,476.9 L748.2,476.8 L748.1,476.8 L748.0,476.5 L748.0,476.5 L748.0,476.4 L747.9,476.4 L747.8,476.2 L747.8,476.1 L747.8,476.0 L747.8,476.0 L747.7,475.8 L747.7,475.7 L747.6,475.6 L747.6,475.6 L747.5,475.3 L747.5,475.3 L747.5,475.2 L747.5,475.2 L747.4,474.9 L747.4,474.9 L747.4,474.7 L747.4,474.7 L747.3,474.4 L747.2,474.3 L747.1,473.9 L747.0,473.8 L746.9,473.5 L746.8,473.4 L746.6,473.0 L746.5,472.9 L746.3,472.6 L746.2,472.5 L745.9,472.3 L745.8,472.2 L745.6,471.9 L745.4,471.9 L745.1,471.7 L745.0,471.6 L744.7,471.4 L744.6,471.4 L744.2,471.2 L744.1,471.2 L743.7,471.1 L743.6,471.0 L743.2,471.0 L743.2,470.9 L728.9,469.0 L728.8,469.0 L728.4,468.9 L728.3,468.9 L727.9,468.9 L727.8,469.0 L727.4,469.0 L727.3,469.0 L726.9,469.1 L726.8,469.1 L726.4,469.2 L726.3,469.3 L726.0,469.4 L725.9,469.5 L725.5,469.7 L725.4,469.7 L725.1,469.9 L725.0,470.0 L724.8,470.3 L724.7,470.4 L724.4,470.6 L724.3,470.7 L724.1,471.0 L724.0,471.1 L723.8,471.4 L723.8,471.5 L723.6,471.9 L723.5,472.0 L723.4,472.3 L723.4,472.4 L723.3,472.8 L723.3,472.9 L722.8,475.0 L722.8,475.0 L722.8,475.1 L722.8,475.1 L722.3,477.3 L722.3,477.3 L722.3,477.3 L722.3,477.3 L721.7,479.5 L721.7,479.5 L721.7,479.5 L721.7,479.5 L721.2,481.7 L721.2,481.7 L721.1,481.7 L721.1,481.7 L720.6,483.9 L720.6,483.9 L720.6,483.9 L720.6,483.9 L720.0,486.1 L719.9,486.1 L719.9,486.1 L719.9,486.1 L719.3,488.3 L719.3,488.3 L719.3,488.3 L719.3,488.3 L718.7,490.5 L718.6,490.5 L718.6,490.5 L718.6,490.5 L718.0,492.6 L718.0,492.6 L718.0,492.7 L718.0,492.7 L717.3,494.8 L717.3,494.8 L717.2,494.8 L717.2,494.8 L716.5,497.0 L716.5,497.0 L716.5,497.0 L716.5,497.0 L715.8,499.1 L715.8,499.1 L715.8,499.1 L715.8,499.2 L715.0,501.3 L715.0,501.3 L715.0,501.3 L715.0,501.3 L714.2,503.4 L714.2,503.4 L714.2,503.4 L714.2,503.4 L713.4,505.5 L713.4,505.5 L713.4,505.6 L713.3,505.6 L712.5,507.6 L712.5,507.7 L712.5,507.7 L712.5,507.7 L711.6,509.8 L711.6,509.8 L711.6,509.8 L711.6,509.8 L710.7,511.9 L710.7,511.9 L710.7,511.9 L710.7,511.9Z" fill="none" stroke="#1e1e1e" stroke-width="2.1" stroke-linejoin="round"/>
<path d="M775.1,549.1 L775.1,549.1 L775.0,549.5 L774.9,549.6 L774.8,550.0 L774.8,550.1 L774.7,550.5 L774.7,550.6 L774.7,551.0 L774.7,551.1 L774.7,551.5 L774.7,551.6 L774.7,552.0 L774.7,552.1 L774.8,552.5 L774.8,552.6 L775.0,553.0 L775.0,553.1 L775.2,553.4 L775.2,553.5 L775.4,553.9 L775.5,554.0 L775.7,554.3 L775.8,554.4 L776.0,554.7 L776.1,554.7 L776.4,555.0 L776.5,555.1 L776.8,555.3 L776.9,555.4 L777.2,555.6 L777.3,555.6 L786.4,560.5 L786.4,560.6 L786.8,560.8 L786.9,560.8 L787.3,560.9 L787.4,561.0 L787.8,561.1 L787.9,561.1 L788.3,561.1 L788.4,561.1 L788.8,561.2 L788.9,561.2 L789.3,561.1 L789.4,561.1 L789.8,561.1 L789.9,561.0 L790.3,560.9 L790.4,560.9 L790.7,560.8 L790.8,560.7 L791.2,560.6 L791.3,560.5 L791.6,560.3 L791.7,560.2 L792.0,560.0 L792.1,559.9 L792.1,559.9 L792.2,559.9 L792.2,559.8 L792.4,559.7 L792.5,559.6 L792.5,559.6 L792.6,559.6 L792.8,559.4 L792.8,559.4 L792.9,559.3 L792.9,559.3 L793.1,559.2 L793.2,559.1 L793.2,559.1 L793.3,559.1 L793.5,559.0 L793.6,558.9 L793.6,558.9 L793.7,558.9 L793.9,558.8 L793.9,558.7 L794.0,558.7 L794.1,558.7 L794.3,558.6 L794.3,558.6 L794.4,558.5 L794.5,558.5 L794.7,558.4 L794.7,558.4 L794.8,558.4 L794.9,558.4 L795.1,558.3 L795.2,558.3 L795.2,558.2 L795.3,558.2 L795.5,558.2 L795.6,558.2 L795.6,558.1 L795.7,558.1 L795.9,558.1 L796.0,558.1 L796.0,558.0 L796.1,558.0 L796.4,558.0 L796.4,558.0 L796.5,558.0 L796.5,558.0 L796.8,557.9 L796.8,557.9 L796.9,557.9 L797.0,557.9 L797.2,557.9 L797.3,557.9 L797.3,557.9 L797.4,557.9 L797.6,557.9 L797.7,557.9 L797.8,557.9 L797.8,557.9 L798.1,557.9 L798.1,557.9 L798.2,557.9 L798.3,557.9 L798.5,557.9 L798.6,557.9 L798.6,557.9 L798.7,557.9 L798.9,558.0 L799.0,558.0 L799.1,558.0 L799.1,558.0 L799.4,558.0 L799.4,558.0 L799.5,558.1 L799.5,558.1 L799.8,558.1 L799.8,558.1 L799.9,558.2 L800.0,558.2 L800.2,558.2 L800.3,558.2 L800.3,558.3 L800.4,558.3 L800.6,558.4 L800.7,558.4 L800.7,558.4 L800.8,558.4 L801.0,558.5 L801.1,558.5 L801.1,558.6 L801.2,558.6 L801.4,558.7 L801.5,558.7 L801.5,558.7 L801.6,558.8 L801.8,558.9 L801.9,558.9 L801.9,558.9 L802.0,559.0 L802.2,559.1 L802.2,559.1 L802.3,559.1 L802.3,559.2 L802.5,559.3 L802.6,559.3 L802.6,559.4 L802.7,559.4 L802.9,559.6 L803.0,559.6 L803.0,559.6 L803.0,559.7 L803.2,559.8 L803.3,559.9 L803.3,559.9 L803.4,559.9 L803.6,560.1 L803.6,560.1 L803.7,560.2 L803.7,560.2 L803.9,560.4 L803.9,560.4 L804.0,560.5 L804.0,560.5 L804.2,560.7 L804.2,560.7 L804.3,560.8 L804.3,560.8 L804.5,561.0 L804.5,561.1 L804.6,561.1 L804.6,561.2 L804.7,561.4 L804.8,561.4 L804.8,561.5 L804.9,561.5 L805.0,561.7 L805.0,561.8 L805.1,561.8 L805.1,561.9 L805.2,562.1 L805.3,562.1 L805.3,562.2 L805.3,562.2 L805.4,562.4 L805.5,562.5 L805.5,562.6 L805.5,562.6 L805.6,562.8 L805.7,562.9 L805.7,562.9 L805.7,563.0 L805.8,563.2 L805.9,563.3 L805.9,563.3 L805.9,563.4 L806.0,563.6 L806.0,563.7 L806.0,563.7 L806.0,563.8 L806.1,564.0 L806.1,564.1 L806.2,564.2 L806.2,564.2 L806.2,564.5 L806.3,564.5 L806.3,564.6 L806.3,564.6 L806.3,564.9 L806.4,564.9 L806.4,565.0 L806.4,565.1 L806.4,565.3 L806.4,565.4 L806.4,565.4 L806.4,565.5 L806.5,565.7 L806.5,565.8 L806.5,565.8 L806.5,565.9 L806.5,566.2 L806.5,566.2 L806.5,566.3 L806.5,566.3 L806.5,566.6 L806.5,566.6 L806.5,566.7 L806.5,566.8 L806.5,567.0 L806.5,567.1 L806.5,567.1 L806.5,567.2 L806.5,567.4 L806.5,567.5 L806.5,567.6 L806.5,567.6 L806.5,567.7 L806.5,567.8 L806.4,568.2 L806.4,568.3 L806.4,568.7 L806.5,568.8 L806.5,569.2 L806.5,569.3 L806.6,569.7 L806.6,569.8 L806.8,570.1 L806.8,570.3 L807.0,570.6 L807.0,570.7 L807.2,571.0 L807.3,571.1 L807.5,571.4 L807.6,571.5 L807.8,571.8 L807.9,571.9 L808.2,572.2 L808.3,572.2 L808.6,572.5 L808.7,572.5 L809.0,572.7 L809.1,572.8 L817.8,577.5 L817.8,577.5 L818.2,577.7 L818.3,577.7 L818.6,577.9 L818.7,577.9 L819.1,578.0 L819.2,578.0 L819.5,578.1 L819.7,578.1 L820.0,578.1 L820.1,578.1 L820.5,578.1 L820.6,578.1 L821.0,578.0 L821.1,578.0 L821.4,577.9 L821.6,577.9 L821.9,577.8 L822.0,577.8 L822.3,577.6 L822.4,577.6 L822.8,577.4 L822.9,577.3 L823.1,577.1 L823.2,577.1 L823.5,576.8 L823.6,576.7 L823.9,576.5 L823.9,576.4 L824.2,576.1 L824.2,576.0 L824.4,575.7 L824.5,575.6 L824.7,575.3 L824.7,575.2 L826.1,572.3 L826.1,572.2 L827.9,568.3 L827.9,568.3 L829.7,564.4 L829.7,564.3 L831.4,560.4 L831.4,560.4 L833.0,556.4 L833.0,556.4 L834.6,552.4 L834.6,552.4 L836.2,548.4 L836.2,548.4 L837.6,544.4 L837.7,544.3 L839.1,540.3 L839.1,540.2 L840.5,536.2 L840.5,536.2 L841.8,532.1 L841.8,532.1 L843.1,528.0 L843.1,527.9 L844.4,523.9 L844.4,523.8 L845.5,519.7 L845.6,519.7 L846.7,515.5 L846.7,515.5 L847.7,511.4 L847.8,511.3 L848.8,507.2 L848.8,507.1 L849.7,503.0 L849.8,502.9 L850.7,498.8 L850.7,498.7 L851.5,494.5 L851.5,494.5 L852.2,491.2 L852.2,491.2 L852.2,490.8 L852.2,490.7 L852.3,490.3 L852.3,490.2 L852.2,489.8 L852.2,489.7 L852.2,489.4 L852.1,489.2 L852.1,488.9 L852.0,488.8 L851.9,488.4 L851.9,488.3 L851.7,488.0 L851.7,487.9 L851.5,487.6 L851.4,487.5 L851.2,487.2 L851.1,487.1 L850.9,486.8 L850.8,486.7 L850.6,486.5 L850.5,486.4 L850.2,486.2 L850.1,486.1 L849.8,485.9 L849.7,485.9 L849.4,485.7 L849.2,485.7 L848.9,485.5 L848.8,485.5 L848.5,485.4 L848.3,485.4 L848.0,485.3 L847.9,485.3 L838.1,484.0 L838.1,484.0 L837.7,483.9 L837.5,483.9 L837.2,483.9 L837.0,483.9 L836.7,484.0 L836.5,484.0 L836.2,484.1 L836.1,484.1 L835.7,484.2 L835.6,484.3 L835.2,484.4 L835.1,484.5 L834.8,484.6 L834.7,484.7 L834.4,484.9 L834.3,485.0 L834.0,485.2 L833.9,485.3 L833.7,485.6 L833.6,485.7 L833.4,486.0 L833.3,486.1 L833.1,486.4 L833.0,486.5 L832.9,486.7 L832.9,486.7 L832.9,486.8 L832.8,486.8 L832.7,487.0 L832.7,487.1 L832.6,487.1 L832.6,487.2 L832.5,487.4 L832.4,487.4 L832.4,487.5 L832.4,487.5 L832.2,487.7 L832.2,487.8 L832.1,487.8 L832.1,487.9 L831.9,488.0 L831.9,488.1 L831.8,488.1 L831.8,488.2 L831.6,488.4 L831.6,488.4 L831.5,488.5 L831.5,488.5 L831.3,488.7 L831.3,488.7 L831.2,488.7 L831.2,488.8 L831.0,489.0 L830.9,489.0 L830.9,489.0 L830.9,489.1 L830.7,489.2 L830.6,489.3 L830.6,489.3 L830.5,489.3 L830.3,489.5 L830.3,489.5 L830.2,489.5 L830.2,489.6 L829.9,489.7 L829.9,489.7 L829.8,489.8 L829.8,489.8 L829.6,489.9 L829.5,490.0 L829.5,490.0 L829.4,490.0 L829.2,490.1 L829.1,490.1 L829.1,490.2 L829.0,490.2 L828.8,490.3 L828.7,490.3 L828.7,490.3 L828.6,490.4 L828.4,490.5 L828.3,490.5 L828.3,490.5 L828.2,490.5 L828.0,490.6 L827.9,490.6 L827.9,490.6 L827.8,490.7 L827.6,490.7 L827.5,490.7 L827.5,490.8 L827.4,490.8 L827.1,490.8 L827.1,490.8 L827.0,490.8 L827.0,490.9 L826.7,490.9 L826.7,490.9 L826.6,490.9 L826.5,490.9 L826.3,491.0 L826.2,491.0 L826.2,491.0 L826.1,491.0 L825.9,491.0 L825.8,491.0 L825.7,491.0 L825.7,491.0 L825.4,491.0 L825.4,491.0 L825.3,491.0 L825.3,491.0 L825.0,491.0 L824.9,491.0 L824.9,491.0 L824.8,491.0 L824.6,491.0 L824.5,491.0 L824.4,491.0 L824.4,491.0 L824.1,490.9 L824.1,490.9 L824.0,490.9 L824.0,490.9 L823.7,490.9 L823.7,490.8 L823.6,490.8 L823.5,490.8 L823.3,490.8 L823.2,490.8 L823.2,490.7 L823.1,490.7 L822.9,490.7 L822.8,490.6 L822.8,490.6 L822.7,490.6 L822.5,490.5 L822.4,490.5 L822.3,490.5 L822.3,490.5 L822.1,490.4 L822.0,490.3 L821.9,490.3 L821.9,490.3 L821.7,490.2 L821.6,490.2 L821.6,490.1 L821.5,490.1 L821.3,490.0 L821.2,490.0 L821.2,490.0 L821.1,489.9 L820.9,489.8 L820.8,489.8 L820.8,489.7 L820.7,489.7 L820.5,489.6 L820.5,489.5 L820.4,489.5 L820.4,489.5 L820.2,489.3 L820.1,489.3 L820.1,489.3 L820.0,489.2 L819.8,489.1 L819.8,489.0 L819.7,489.0 L819.7,489.0 L819.5,488.8 L819.5,488.7 L819.4,488.7 L819.4,488.7 L819.2,488.5 L819.1,488.5 L819.1,488.4 L819.1,488.4 L818.9,488.2 L818.8,488.1 L818.8,488.1 L818.8,488.0 L818.6,487.9 L818.6,487.8 L818.5,487.8 L818.5,487.7 L818.3,487.5 L818.3,487.5 L818.3,487.4 L818.2,487.4 L818.1,487.2 L818.0,487.1 L818.0,487.1 L818.0,487.0 L817.8,486.8 L817.8,486.8 L817.8,486.7 L817.7,486.7 L817.6,486.4 L817.6,486.4 L817.6,486.3 L817.5,486.3 L817.4,486.1 L817.4,486.0 L817.4,485.9 L817.4,485.9 L817.2,485.7 L817.2,485.6 L817.2,485.5 L817.2,485.5 L817.1,485.3 L817.1,485.2 L817.0,485.1 L817.0,485.1 L817.0,484.8 L816.9,484.8 L816.9,484.7 L816.9,484.7 L816.8,484.4 L816.8,484.4 L816.8,484.2 L816.8,484.2 L816.7,483.9 L816.6,483.8 L816.5,483.4 L816.5,483.3 L816.3,483.0 L816.2,482.9 L816.0,482.5 L815.9,482.4 L815.7,482.1 L815.6,482.0 L815.3,481.8 L815.3,481.7 L815.0,481.5 L814.9,481.4 L814.5,481.2 L814.4,481.1 L814.1,480.9 L814.0,480.9 L813.6,480.7 L813.5,480.7 L813.2,480.6 L813.0,480.5 L812.6,480.5 L812.6,480.5 L802.3,479.1 L802.3,479.0 L801.9,479.0 L801.7,479.0 L801.4,479.0 L801.2,479.0 L800.8,479.1 L800.7,479.1 L800.4,479.2 L800.2,479.2 L799.9,479.3 L799.8,479.4 L799.4,479.5 L799.3,479.6 L799.0,479.8 L798.9,479.8 L798.6,480.0 L798.5,480.1 L798.2,480.4 L798.1,480.5 L797.8,480.7 L797.7,480.8 L797.5,481.1 L797.4,481.2 L797.3,481.6 L797.2,481.7 L797.0,482.0 L797.0,482.1 L796.9,482.5 L796.8,482.6 L796.7,483.0 L796.7,483.1 L796.3,485.1 L796.3,485.2 L796.3,485.2 L796.3,485.2 L795.6,488.5 L795.6,488.5 L795.6,488.5 L795.6,488.5 L794.8,491.9 L794.8,491.9 L794.8,491.9 L794.8,491.9 L794.1,495.2 L794.1,495.2 L794.0,495.2 L794.0,495.3 L793.2,498.5 L793.2,498.6 L793.2,498.6 L793.2,498.6 L792.4,501.9 L792.4,501.9 L792.3,501.9 L792.3,501.9 L791.4,505.2 L791.4,505.2 L791.4,505.2 L791.4,505.2 L790.5,508.5 L790.5,508.5 L790.5,508.5 L790.5,508.5 L789.5,511.8 L789.5,511.8 L789.5,511.8 L789.5,511.8 L788.5,515.1 L788.5,515.1 L788.5,515.1 L788.5,515.1 L787.4,518.3 L787.4,518.4 L787.4,518.4 L787.4,518.4 L786.3,521.6 L786.3,521.6 L786.3,521.6 L786.3,521.6 L785.2,524.8 L785.2,524.9 L785.1,524.9 L785.1,524.9 L784.0,528.1 L784.0,528.1 L784.0,528.1 L784.0,528.1 L782.7,531.3 L782.7,531.3 L782.7,531.3 L782.7,531.3 L781.5,534.5 L781.5,534.5 L781.5,534.5 L781.5,534.5 L780.2,537.7 L780.2,537.7 L780.2,537.7 L780.2,537.7 L778.8,540.8 L778.8,540.8 L778.8,540.9 L778.8,540.9 L777.5,544.0 L777.5,544.0 L777.4,544.0 L777.4,544.0 L776.0,547.1 L776.0,547.1 L776.0,547.1 L776.0,547.2Z" fill="none" stroke="#1e1e1e" stroke-width="2.1" stroke-linejoin="round"/>
<path d="M651.2,410.0 L651.2,410.0 L650.8,410.1 L650.7,410.2 L650.3,410.3 L650.2,410.4 L649.9,410.5 L649.8,410.6 L649.5,410.8 L649.4,410.8 L649.1,411.1 L649.0,411.1 L648.8,411.4 L648.7,411.5 L648.4,411.7 L648.4,411.8 L648.2,412.1 L648.1,412.2 L647.9,412.5 L647.9,412.7 L647.7,413.0 L647.7,413.1 L647.5,413.4 L647.5,413.6 L647.4,413.9 L647.4,414.0 L647.3,414.4 L647.3,414.5 L647.3,414.9 L647.3,415.0 L647.3,415.4 L647.3,415.4 L647.4,416.1 L647.4,416.1 L647.5,417.1 L647.5,417.2 L647.6,418.2 L647.6,418.2 L647.7,419.2 L647.7,419.2 L647.7,420.2 L647.7,420.2 L647.8,421.3 L647.8,421.3 L647.9,422.3 L647.9,422.3 L647.9,423.3 L647.9,423.3 L647.9,424.3 L647.9,424.4 L648.0,425.4 L648.0,425.4 L648.0,426.4 L648.0,426.4 L648.0,427.4 L648.0,427.5 L648.0,428.5 L648.0,428.5 L648.0,429.5 L648.0,429.5 L648.0,430.2 L648.0,430.3 L648.0,430.7 L648.0,430.8 L648.1,431.2 L648.1,431.3 L648.2,431.6 L648.2,431.8 L648.3,432.1 L648.4,432.2 L648.5,432.5 L648.6,432.7 L648.7,433.0 L648.8,433.1 L649.0,433.4 L649.1,433.5 L649.3,433.7 L649.4,433.8 L649.7,434.1 L649.8,434.2 L650.0,434.4 L650.1,434.4 L650.4,434.6 L650.5,434.7 L650.9,434.9 L651.0,434.9 L651.3,435.0 L651.4,435.1 L651.8,435.2 L651.9,435.2 L652.3,435.3 L652.3,435.3 L674.8,438.4 L674.9,438.4 L675.3,438.4 L675.4,438.4 L675.8,438.4 L675.9,438.4 L676.3,438.4 L676.4,438.3 L676.8,438.3 L676.9,438.2 L677.2,438.1 L677.4,438.1 L677.7,437.9 L677.8,437.9 L678.1,437.7 L678.2,437.6 L678.5,437.4 L678.6,437.3 L678.9,437.1 L679.0,437.0 L679.3,436.7 L679.4,436.7 L679.6,436.4 L679.7,436.3 L679.9,435.9 L679.9,435.9 L680.0,435.7 L680.0,435.6 L680.1,435.6 L680.1,435.5 L680.2,435.3 L680.3,435.3 L680.3,435.2 L680.3,435.2 L680.5,435.0 L680.5,434.9 L680.6,434.9 L680.6,434.8 L680.7,434.6 L680.8,434.6 L680.8,434.5 L680.9,434.5 L681.0,434.3 L681.1,434.2 L681.1,434.2 L681.1,434.1 L681.3,434.0 L681.4,433.9 L681.4,433.9 L681.4,433.8 L681.6,433.7 L681.7,433.6 L681.7,433.6 L681.8,433.5 L681.9,433.4 L682.0,433.3 L682.0,433.3 L682.1,433.3 L682.3,433.1 L682.3,433.1 L682.4,433.0 L682.4,433.0 L682.6,432.9 L682.7,432.8 L682.7,432.8 L682.8,432.8 L683.0,432.6 L683.1,432.6 L683.1,432.6 L683.2,432.5 L683.4,432.4 L683.4,432.4 L683.5,432.4 L683.5,432.3 L683.8,432.2 L683.8,432.2 L683.9,432.2 L683.9,432.1 L684.2,432.0 L684.2,432.0 L684.3,432.0 L684.3,432.0 L684.6,431.9 L684.6,431.9 L684.7,431.8 L684.7,431.8 L685.0,431.7 L685.0,431.7 L685.1,431.7 L685.1,431.7 L685.4,431.6 L685.4,431.6 L685.5,431.6 L685.6,431.6 L685.8,431.5 L685.9,431.5 L685.9,431.5 L686.0,431.5 L686.2,431.4 L686.3,431.4 L686.3,431.4 L686.4,431.4 L686.6,431.4 L686.7,431.4 L686.8,431.4 L686.8,431.4 L687.1,431.3 L687.1,431.3 L687.2,431.3 L687.3,431.3 L687.5,431.3 L687.6,431.3 L687.6,431.3 L687.7,431.3 L687.9,431.3 L688.0,431.3 L688.1,431.3 L688.1,431.3 L688.4,431.4 L688.4,431.4 L688.5,431.4 L688.6,431.4 L688.8,431.4 L688.9,431.4 L688.9,431.4 L689.0,431.4 L689.2,431.5 L689.3,431.5 L689.3,431.5 L689.4,431.5 L689.7,431.6 L689.7,431.6 L689.8,431.6 L689.8,431.6 L690.1,431.7 L690.1,431.7 L690.2,431.7 L690.2,431.7 L690.5,431.8 L690.5,431.8 L690.6,431.9 L690.7,431.9 L690.9,432.0 L690.9,432.0 L691.0,432.0 L691.1,432.0 L691.3,432.1 L691.3,432.2 L691.4,432.2 L691.4,432.2 L691.7,432.3 L691.7,432.4 L691.8,432.4 L691.8,432.4 L692.0,432.5 L692.1,432.6 L692.2,432.6 L692.2,432.6 L692.4,432.8 L692.5,432.8 L692.5,432.8 L692.6,432.9 L692.8,433.0 L692.8,433.0 L692.9,433.1 L692.9,433.1 L693.1,433.3 L693.2,433.3 L693.2,433.3 L693.3,433.4 L693.4,433.5 L693.5,433.6 L693.5,433.6 L693.6,433.7 L693.8,433.8 L693.8,433.9 L693.8,433.9 L693.9,434.0 L694.1,434.1 L694.1,434.2 L694.1,434.2 L694.2,434.3 L694.3,434.5 L694.4,434.5 L694.4,434.6 L694.5,434.6 L694.6,434.8 L694.7,434.9 L694.7,434.9 L694.7,435.0 L694.9,435.2 L694.9,435.2 L694.9,435.3 L695.0,435.3 L695.1,435.5 L695.1,435.6 L695.2,435.6 L695.2,435.7 L695.3,435.9 L695.3,436.0 L695.4,436.0 L695.4,436.1 L695.5,436.3 L695.5,436.3 L695.6,436.4 L695.6,436.4 L695.7,436.7 L695.7,436.7 L695.7,436.8 L695.8,436.8 L695.9,437.1 L695.9,437.1 L695.9,437.2 L695.9,437.2 L696.0,437.5 L696.0,437.5 L696.0,437.6 L696.0,437.7 L696.1,437.9 L696.1,438.0 L696.2,438.1 L696.2,438.1 L696.3,438.4 L696.3,438.6 L696.4,438.9 L696.5,439.0 L696.7,439.4 L696.7,439.5 L696.9,439.8 L697.0,439.9 L697.2,440.2 L697.3,440.3 L697.6,440.6 L697.7,440.6 L698.0,440.9 L698.1,441.0 L698.4,441.2 L698.5,441.2 L698.8,441.4 L699.0,441.5 L699.3,441.6 L699.4,441.7 L699.8,441.8 L699.9,441.8 L700.3,441.9 L700.4,441.9 L707.1,442.8 L707.1,442.8 L707.5,442.8 L707.6,442.8 L708.0,442.8 L708.1,442.8 L708.5,442.8 L708.6,442.8 L709.0,442.7 L709.1,442.7 L709.4,442.6 L709.5,442.5 L709.9,442.4 L710.0,442.3 L710.3,442.1 L710.4,442.1 L710.7,441.9 L710.8,441.8 L711.1,441.6 L711.2,441.5 L711.4,441.2 L711.5,441.1 L711.8,440.9 L711.8,440.8 L712.0,440.5 L712.1,440.3 L712.3,440.0 L712.3,439.9 L712.5,439.6 L712.5,439.5 L712.6,439.1 L712.6,439.0 L712.7,438.6 L712.7,438.5 L712.8,438.1 L712.8,438.1 L712.8,437.4 L712.8,437.4 L712.9,435.4 L712.9,435.3 L712.9,433.3 L712.9,433.3 L713.0,431.3 L713.0,431.2 L713.0,429.2 L713.0,429.2 L713.0,427.2 L713.0,427.1 L713.0,425.1 L713.0,425.1 L712.9,423.1 L712.9,423.0 L712.9,421.0 L712.9,421.0 L712.8,419.0 L712.8,419.0 L712.7,417.0 L712.7,416.9 L712.5,414.9 L712.5,414.9 L712.4,412.9 L712.4,412.8 L712.2,410.8 L712.2,410.8 L712.0,408.8 L712.0,408.7 L711.8,406.8 L711.8,406.7 L711.5,404.7 L711.5,404.7 L711.3,402.7 L711.3,402.6 L711.2,402.0 L711.2,401.9 L711.1,401.5 L711.1,401.4 L711.0,401.1 L710.9,401.0 L710.8,400.6 L710.7,400.5 L710.6,400.2 L710.5,400.1 L710.3,399.8 L710.2,399.7 L710.0,399.4 L709.9,399.3 L709.7,399.0 L709.6,399.0 L709.3,398.7 L709.2,398.7 L708.9,398.4 L708.8,398.4 L708.5,398.2 L708.4,398.1 L708.1,398.0 L707.9,398.0 L707.6,397.8 L707.5,397.8 L707.1,397.7 L707.0,397.7 L706.6,397.7 L706.5,397.7 L706.1,397.7 L706.0,397.7 L705.7,397.7 L705.5,397.7 L705.2,397.8 L705.1,397.8 L698.5,399.3 L698.5,399.3 L698.1,399.4 L697.9,399.4 L697.6,399.6 L697.5,399.6 L697.1,399.8 L697.0,399.9 L696.7,400.1 L696.6,400.1 L696.3,400.4 L696.2,400.5 L696.0,400.7 L695.9,400.8 L695.6,401.1 L695.6,401.2 L695.4,401.5 L695.3,401.6 L695.1,401.9 L695.1,402.1 L694.9,402.4 L694.9,402.5 L694.8,402.9 L694.7,403.0 L694.7,403.4 L694.6,403.5 L694.6,403.5 L694.6,403.8 L694.6,403.8 L694.6,403.9 L694.6,403.9 L694.5,404.2 L694.5,404.2 L694.5,404.3 L694.5,404.4 L694.4,404.6 L694.4,404.7 L694.4,404.7 L694.3,404.8 L694.3,405.0 L694.2,405.1 L694.2,405.1 L694.2,405.2 L694.1,405.4 L694.1,405.5 L694.1,405.5 L694.0,405.6 L693.9,405.8 L693.9,405.9 L693.9,405.9 L693.9,406.0 L693.7,406.2 L693.7,406.3 L693.7,406.3 L693.7,406.4 L693.5,406.6 L693.5,406.6 L693.5,406.7 L693.4,406.7 L693.3,406.9 L693.3,407.0 L693.2,407.1 L693.2,407.1 L693.1,407.3 L693.0,407.4 L693.0,407.4 L693.0,407.5 L692.8,407.6 L692.8,407.7 L692.7,407.7 L692.7,407.8 L692.5,408.0 L692.5,408.0 L692.4,408.1 L692.4,408.1 L692.2,408.3 L692.2,408.3 L692.1,408.4 L692.1,408.4 L691.9,408.6 L691.9,408.6 L691.8,408.7 L691.8,408.7 L691.6,408.9 L691.5,408.9 L691.5,409.0 L691.5,409.0 L691.3,409.1 L691.2,409.2 L691.2,409.2 L691.1,409.3 L690.9,409.4 L690.9,409.4 L690.8,409.5 L690.8,409.5 L690.5,409.6 L690.5,409.7 L690.4,409.7 L690.4,409.7 L690.2,409.9 L690.1,409.9 L690.1,409.9 L690.0,409.9 L689.8,410.1 L689.7,410.1 L689.7,410.1 L689.6,410.1 L689.4,410.2 L689.3,410.3 L689.3,410.3 L689.2,410.3 L689.0,410.4 L688.9,410.4 L688.9,410.4 L688.8,410.5 L688.6,410.5 L688.5,410.5 L688.5,410.6 L688.4,410.6 L688.2,410.6 L688.1,410.7 L688.1,410.7 L688.0,410.7 L687.8,410.7 L687.7,410.8 L687.6,410.8 L687.6,410.8 L687.3,410.8 L687.3,410.8 L687.2,410.8 L687.1,410.9 L686.9,410.9 L686.8,410.9 L686.8,410.9 L686.7,410.9 L686.5,410.9 L686.4,410.9 L686.3,410.9 L686.3,410.9 L686.0,410.9 L686.0,410.9 L685.9,410.9 L685.9,410.9 L685.6,410.9 L685.5,410.9 L685.5,410.9 L685.4,410.9 L685.2,410.9 L685.1,410.9 L685.1,410.9 L685.0,410.9 L684.7,410.9 L684.7,410.8 L684.6,410.8 L684.6,410.8 L684.3,410.8 L684.3,410.8 L684.2,410.8 L684.1,410.7 L683.9,410.7 L683.8,410.7 L683.8,410.7 L683.7,410.6 L683.5,410.6 L683.4,410.6 L683.4,410.5 L683.3,410.5 L683.1,410.5 L683.0,410.4 L683.0,410.4 L682.9,410.4 L682.7,410.3 L682.6,410.3 L682.5,410.3 L682.5,410.2 L682.3,410.1 L682.2,410.1 L682.2,410.1 L682.1,410.1 L681.9,409.9 L681.8,409.9 L681.8,409.9 L681.7,409.9 L681.5,409.7 L681.4,409.7 L681.4,409.7 L681.3,409.6 L681.1,409.5 L681.1,409.5 L681.0,409.4 L681.0,409.4 L680.8,409.3 L680.7,409.2 L680.7,409.2 L680.6,409.1 L680.4,409.0 L680.4,409.0 L680.3,408.9 L680.3,408.9 L680.1,408.7 L680.1,408.7 L680.0,408.6 L680.0,408.6 L679.8,408.4 L679.7,408.4 L679.7,408.3 L679.7,408.3 L679.5,408.1 L679.4,408.1 L679.4,408.0 L679.4,408.0 L679.2,407.8 L679.2,407.7 L679.1,407.7 L679.1,407.6 L678.9,407.5 L678.9,407.4 L678.9,407.4 L678.8,407.3 L678.6,407.0 L678.6,407.0 L678.4,406.7 L678.3,406.6 L678.1,406.4 L678.0,406.3 L677.7,406.0 L677.6,405.9 L677.3,405.7 L677.2,405.6 L676.9,405.5 L676.8,405.4 L676.4,405.2 L676.3,405.2 L675.9,405.1 L675.8,405.0 L675.5,405.0 L675.3,404.9 L675.0,404.9 L674.8,404.9 L674.5,404.9 L674.3,404.9 L674.0,404.9 L673.8,404.9 L673.4,405.0 L673.4,405.0Z" fill="none" stroke="#1e1e1e" stroke-width="2.1" stroke-linejoin="round"/>
<path d="M729.6,392.2 L729.6,392.2 L729.2,392.3 L729.1,392.4 L728.7,392.5 L728.6,392.6 L728.3,392.7 L728.2,392.8 L727.8,393.0 L727.7,393.1 L727.4,393.3 L727.4,393.4 L727.1,393.6 L727.0,393.7 L726.8,394.0 L726.7,394.1 L726.5,394.4 L726.4,394.5 L726.2,394.9 L726.2,395.0 L726.0,395.3 L726.0,395.4 L725.9,395.8 L725.8,395.9 L725.8,396.3 L725.7,396.4 L725.7,396.8 L725.7,396.9 L725.7,397.2 L725.7,397.4 L725.7,397.8 L725.7,397.8 L726.1,400.0 L726.1,400.0 L726.1,400.0 L726.1,400.0 L726.4,402.3 L726.4,402.3 L726.4,402.3 L726.4,402.3 L726.6,404.5 L726.6,404.5 L726.6,404.6 L726.6,404.6 L726.9,406.8 L726.9,406.8 L726.9,406.8 L726.9,406.8 L727.1,409.1 L727.1,409.1 L727.1,409.1 L727.1,409.1 L727.3,411.3 L727.3,411.4 L727.3,411.4 L727.3,411.4 L727.5,413.6 L727.5,413.6 L727.5,413.7 L727.5,413.7 L727.6,415.9 L727.6,415.9 L727.6,415.9 L727.6,415.9 L727.7,418.2 L727.7,418.2 L727.7,418.2 L727.7,418.2 L727.8,420.5 L727.8,420.5 L727.8,420.5 L727.8,420.5 L727.9,422.7 L727.9,422.8 L727.9,422.8 L727.9,422.8 L728.0,425.0 L728.0,425.0 L728.0,425.0 L728.0,425.1 L728.0,427.3 L728.0,427.3 L728.0,427.3 L728.0,427.3 L728.0,429.6 L728.0,429.6 L728.0,429.6 L728.0,429.6 L728.0,431.9 L728.0,431.9 L728.0,431.9 L728.0,431.9 L727.9,434.2 L727.9,434.2 L727.9,434.2 L727.9,434.2 L727.9,436.4 L727.8,436.4 L727.8,436.5 L727.8,436.5 L727.8,438.7 L727.8,438.7 L727.8,438.7 L727.7,438.8 L727.6,440.9 L727.6,441.0 L727.6,441.4 L727.6,441.5 L727.7,441.9 L727.7,442.0 L727.8,442.4 L727.8,442.5 L727.9,442.9 L727.9,443.0 L728.1,443.3 L728.1,443.4 L728.3,443.8 L728.4,443.9 L728.6,444.2 L728.7,444.3 L728.9,444.6 L729.0,444.7 L729.2,444.9 L729.3,445.0 L729.6,445.2 L729.7,445.3 L730.0,445.5 L730.1,445.6 L730.5,445.8 L730.6,445.8 L730.9,445.9 L731.0,446.0 L731.4,446.1 L731.5,446.1 L731.9,446.2 L732.0,446.2 L746.3,448.2 L746.3,448.2 L746.7,448.2 L746.9,448.2 L747.2,448.2 L747.4,448.2 L747.7,448.2 L747.9,448.1 L748.2,448.1 L748.3,448.0 L748.7,447.9 L748.8,447.9 L749.1,447.7 L749.3,447.7 L749.6,447.5 L749.7,447.4 L750.0,447.2 L750.1,447.1 L750.4,446.9 L750.5,446.8 L750.7,446.5 L750.8,446.4 L751.0,446.1 L751.1,446.0 L751.3,445.7 L751.4,445.7 L751.5,445.5 L751.5,445.4 L751.5,445.4 L751.6,445.3 L751.7,445.1 L751.7,445.0 L751.8,445.0 L751.8,444.9 L751.9,444.7 L752.0,444.7 L752.0,444.6 L752.0,444.6 L752.2,444.4 L752.2,444.4 L752.3,444.3 L752.3,444.3 L752.5,444.1 L752.5,444.0 L752.6,444.0 L752.6,443.9 L752.8,443.8 L752.8,443.7 L752.9,443.7 L752.9,443.6 L753.1,443.5 L753.1,443.4 L753.2,443.4 L753.2,443.3 L753.4,443.2 L753.4,443.1 L753.5,443.1 L753.5,443.1 L753.7,442.9 L753.8,442.9 L753.8,442.8 L753.9,442.8 L754.1,442.6 L754.1,442.6 L754.2,442.6 L754.2,442.5 L754.4,442.4 L754.5,442.4 L754.6,442.3 L754.6,442.3 L754.8,442.2 L754.9,442.2 L754.9,442.1 L755.0,442.1 L755.2,442.0 L755.3,442.0 L755.3,441.9 L755.4,441.9 L755.6,441.8 L755.7,441.8 L755.7,441.8 L755.8,441.7 L756.0,441.7 L756.1,441.6 L756.1,441.6 L756.2,441.6 L756.4,441.5 L756.5,441.5 L756.5,441.5 L756.6,441.5 L756.8,441.4 L756.9,441.4 L756.9,441.4 L757.0,441.4 L757.2,441.3 L757.3,441.3 L757.4,441.3 L757.4,441.3 L757.7,441.2 L757.7,441.2 L757.8,441.2 L757.9,441.2 L758.1,441.2 L758.2,441.2 L758.2,441.2 L758.3,441.1 L758.5,441.1 L758.6,441.1 L758.6,441.1 L758.7,441.1 L759.0,441.1 L759.0,441.1 L759.1,441.1 L759.1,441.1 L759.4,441.1 L759.5,441.1 L759.5,441.1 L759.6,441.1 L759.8,441.1 L759.9,441.2 L759.9,441.2 L760.0,441.2 L760.3,441.2 L760.3,441.2 L760.4,441.2 L760.4,441.2 L760.7,441.3 L760.7,441.3 L760.8,441.3 L760.9,441.3 L761.1,441.4 L761.2,441.4 L761.2,441.4 L761.3,441.4 L761.5,441.5 L761.6,441.5 L761.6,441.5 L761.7,441.5 L761.9,441.6 L762.0,441.6 L762.0,441.6 L762.1,441.7 L762.3,441.7 L762.4,441.8 L762.4,441.8 L762.5,441.8 L762.7,441.9 L762.8,441.9 L762.8,442.0 L762.9,442.0 L763.1,442.1 L763.2,442.1 L763.2,442.2 L763.3,442.2 L763.5,442.3 L763.5,442.3 L763.6,442.4 L763.7,442.4 L763.9,442.5 L763.9,442.6 L764.0,442.6 L764.0,442.6 L764.2,442.8 L764.3,442.8 L764.3,442.9 L764.4,442.9 L764.6,443.1 L764.6,443.1 L764.7,443.1 L764.7,443.2 L764.9,443.3 L764.9,443.4 L765.0,443.4 L765.0,443.5 L765.2,443.6 L765.3,443.7 L765.3,443.7 L765.3,443.8 L765.5,443.9 L765.5,444.0 L765.6,444.0 L765.6,444.1 L765.8,444.3 L765.8,444.3 L765.9,444.4 L765.9,444.4 L766.1,444.6 L766.1,444.6 L766.1,444.7 L766.2,444.7 L766.3,444.9 L766.3,445.0 L766.4,445.0 L766.4,445.1 L766.5,445.3 L766.6,445.4 L766.6,445.4 L766.6,445.5 L766.8,445.7 L766.8,445.7 L766.8,445.8 L766.9,445.8 L767.0,446.1 L767.0,446.1 L767.0,446.2 L767.0,446.2 L767.1,446.5 L767.2,446.5 L767.2,446.6 L767.2,446.6 L767.3,446.9 L767.3,446.9 L767.3,447.0 L767.4,447.0 L767.4,447.3 L767.5,447.3 L767.5,447.4 L767.5,447.4 L767.6,447.7 L767.6,447.7 L767.6,447.9 L767.6,447.9 L767.7,448.2 L767.7,448.3 L767.9,448.7 L767.9,448.8 L768.1,449.2 L768.2,449.3 L768.4,449.6 L768.5,449.7 L768.7,450.0 L768.8,450.1 L769.0,450.3 L769.1,450.4 L769.4,450.7 L769.5,450.7 L769.8,451.0 L770.0,451.0 L770.3,451.2 L770.4,451.3 L770.8,451.4 L770.9,451.4 L771.2,451.5 L771.4,451.6 L771.8,451.7 L771.8,451.7 L779.6,452.7 L779.6,452.7 L780.0,452.8 L780.1,452.8 L780.5,452.8 L780.6,452.8 L781.0,452.7 L781.1,452.7 L781.5,452.6 L781.6,452.6 L781.9,452.5 L782.0,452.5 L782.4,452.3 L782.5,452.3 L782.8,452.1 L782.9,452.0 L783.2,451.8 L783.3,451.8 L783.6,451.5 L783.7,451.5 L783.9,451.2 L784.0,451.1 L784.2,450.9 L784.3,450.8 L784.5,450.5 L784.6,450.4 L784.7,450.0 L784.8,449.9 L784.9,449.6 L785.0,449.5 L785.1,449.2 L785.1,449.0 L785.2,448.7 L785.2,448.6 L785.3,448.2 L785.3,448.1 L785.4,447.1 L785.4,447.1 L785.6,443.9 L785.6,443.9 L785.7,440.8 L785.7,440.7 L785.8,437.6 L785.8,437.5 L785.9,434.4 L785.9,434.3 L786.0,431.2 L786.0,431.1 L786.0,428.0 L786.0,427.9 L786.0,424.8 L786.0,424.8 L785.9,421.6 L785.9,421.6 L785.8,418.4 L785.8,418.4 L785.7,415.3 L785.7,415.2 L785.5,412.1 L785.5,412.0 L785.3,408.9 L785.3,408.8 L785.0,405.7 L785.0,405.6 L784.7,402.5 L784.7,402.5 L784.4,399.4 L784.4,399.3 L784.0,396.2 L784.0,396.1 L783.6,393.0 L783.6,393.0 L783.2,389.9 L783.2,389.8 L782.7,386.7 L782.7,386.7 L782.5,385.7 L782.5,385.6 L782.5,385.2 L782.4,385.1 L782.3,384.8 L782.3,384.6 L782.1,384.3 L782.1,384.2 L781.9,383.9 L781.8,383.8 L781.6,383.5 L781.6,383.4 L781.3,383.1 L781.3,383.0 L781.0,382.8 L780.9,382.7 L780.6,382.5 L780.5,382.4 L780.2,382.2 L780.1,382.1 L779.8,382.0 L779.7,381.9 L779.4,381.8 L779.3,381.7 L778.9,381.6 L778.8,381.6 L778.5,381.5 L778.3,381.5 L778.0,381.5 L777.9,381.4 L777.5,381.4 L777.4,381.4 L777.0,381.5 L776.9,381.5 L776.5,381.6 L776.5,381.6 L768.8,383.3 L768.8,383.3 L768.4,383.4 L768.3,383.5 L767.9,383.6 L767.8,383.7 L767.5,383.8 L767.4,383.9 L767.0,384.1 L766.9,384.2 L766.7,384.4 L766.6,384.5 L766.3,384.7 L766.2,384.8 L766.0,385.1 L765.9,385.2 L765.7,385.5 L765.6,385.6 L765.4,386.0 L765.4,386.1 L765.2,386.4 L765.2,386.5 L765.1,386.9 L765.1,387.0 L765.0,387.4 L765.0,387.5 L765.0,387.5 L764.9,387.8 L764.9,387.8 L764.9,387.9 L764.9,388.0 L764.8,388.2 L764.8,388.3 L764.8,388.3 L764.8,388.4 L764.7,388.6 L764.7,388.7 L764.7,388.7 L764.7,388.8 L764.6,389.0 L764.6,389.1 L764.5,389.2 L764.5,389.2 L764.4,389.4 L764.4,389.5 L764.4,389.6 L764.4,389.6 L764.3,389.8 L764.2,389.9 L764.2,389.9 L764.2,390.0 L764.1,390.2 L764.0,390.3 L764.0,390.3 L764.0,390.4 L763.9,390.6 L763.8,390.7 L763.8,390.7 L763.8,390.8 L763.6,391.0 L763.6,391.0 L763.6,391.1 L763.5,391.1 L763.4,391.3 L763.4,391.4 L763.3,391.4 L763.3,391.5 L763.1,391.7 L763.1,391.7 L763.0,391.8 L763.0,391.8 L762.8,392.0 L762.8,392.0 L762.8,392.1 L762.7,392.1 L762.6,392.3 L762.5,392.4 L762.5,392.4 L762.4,392.4 L762.2,392.6 L762.2,392.7 L762.2,392.7 L762.1,392.7 L761.9,392.9 L761.9,392.9 L761.8,393.0 L761.8,393.0 L761.6,393.2 L761.5,393.2 L761.5,393.2 L761.4,393.3 L761.2,393.4 L761.2,393.5 L761.1,393.5 L761.1,393.5 L760.9,393.7 L760.8,393.7 L760.8,393.7 L760.7,393.8 L760.5,393.9 L760.4,393.9 L760.4,393.9 L760.3,394.0 L760.1,394.1 L760.1,394.1 L760.0,394.1 L759.9,394.2 L759.7,394.3 L759.7,394.3 L759.6,394.3 L759.5,394.3 L759.3,394.4 L759.3,394.4 L759.2,394.5 L759.1,394.5 L758.9,394.6 L758.9,394.6 L758.8,394.6 L758.7,394.6 L758.5,394.7 L758.4,394.7 L758.4,394.7 L758.3,394.7 L758.1,394.8 L758.0,394.8 L758.0,394.8 L757.9,394.8 L757.6,394.8 L757.6,394.9 L757.5,394.9 L757.5,394.9 L757.2,394.9 L757.2,394.9 L757.1,394.9 L757.0,394.9 L756.8,394.9 L756.7,394.9 L756.7,394.9 L756.6,395.0 L756.4,395.0 L756.3,395.0 L756.2,395.0 L756.2,395.0 L755.9,395.0 L755.9,394.9 L755.8,394.9 L755.7,394.9 L755.5,394.9 L755.4,394.9 L755.4,394.9 L755.3,394.9 L755.1,394.9 L755.0,394.9 L754.9,394.9 L754.9,394.8 L754.6,394.8 L754.6,394.8 L754.5,394.8 L754.5,394.8 L754.2,394.7 L754.2,394.7 L754.1,394.7 L754.0,394.7 L753.8,394.6 L753.7,394.6 L753.7,394.6 L753.6,394.6 L753.4,394.5 L753.3,394.5 L753.3,394.4 L753.2,394.4 L753.0,394.3 L752.9,394.3 L752.9,394.3 L752.8,394.3 L752.6,394.2 L752.5,394.1 L752.5,394.1 L752.4,394.1 L752.2,394.0 L752.1,393.9 L752.1,393.9 L752.0,393.9 L751.8,393.8 L751.8,393.7 L751.7,393.7 L751.7,393.7 L751.5,393.5 L751.4,393.5 L751.4,393.5 L751.3,393.4 L751.1,393.3 L751.1,393.2 L751.0,393.2 L751.0,393.2 L750.8,393.0 L750.7,393.0 L750.7,392.9 L750.6,392.9 L750.4,392.7 L750.4,392.7 L750.3,392.7 L750.3,392.6 L750.1,392.4 L750.1,392.4 L750.0,392.4 L750.0,392.3 L749.8,392.1 L749.8,392.1 L749.7,392.0 L749.7,392.0 L749.5,391.8 L749.5,391.8 L749.4,391.7 L749.4,391.7 L749.3,391.5 L749.2,391.4 L749.2,391.4 L749.1,391.3 L749.0,391.1 L748.9,391.0 L748.7,390.8 L748.7,390.7 L748.4,390.4 L748.3,390.3 L748.0,390.0 L747.9,390.0 L747.6,389.7 L747.5,389.7 L747.2,389.5 L747.1,389.4 L746.7,389.3 L746.6,389.2 L746.3,389.1 L746.1,389.1 L745.8,389.0 L745.7,389.0 L745.3,388.9 L745.2,388.9 L744.8,388.9 L744.7,388.9 L744.3,388.9 L744.2,388.9 L743.8,389.0 L743.7,389.0Z" fill="none" stroke="#1e1e1e" stroke-width="2.1" stroke-linejoin="round"/>
<path d="M801.9,375.8 L801.9,375.8 L801.5,375.9 L801.4,376.0 L801.0,376.1 L800.9,376.1 L800.6,376.3 L800.4,376.4 L800.1,376.6 L800.0,376.7 L799.7,376.9 L799.6,377.0 L799.4,377.2 L799.3,377.3 L799.0,377.6 L799.0,377.7 L798.8,378.0 L798.7,378.1 L798.5,378.5 L798.5,378.6 L798.3,378.9 L798.3,379.1 L798.2,379.4 L798.1,379.5 L798.1,379.9 L798.1,380.0 L798.0,380.4 L798.0,380.5 L798.0,380.9 L798.0,381.0 L798.1,381.5 L798.1,381.5 L798.4,383.6 L798.4,383.6 L798.4,383.6 L798.4,383.6 L799.0,387.0 L799.0,387.0 L799.0,387.0 L799.0,387.0 L799.4,390.4 L799.4,390.4 L799.4,390.4 L799.4,390.5 L799.9,393.8 L799.9,393.8 L799.9,393.8 L799.9,393.9 L800.3,397.2 L800.3,397.2 L800.3,397.3 L800.3,397.3 L800.6,400.7 L800.6,400.7 L800.6,400.7 L800.6,400.7 L800.9,404.1 L800.9,404.1 L801.0,404.1 L801.0,404.1 L801.2,407.5 L801.2,407.5 L801.2,407.5 L801.2,407.6 L801.5,410.9 L801.5,411.0 L801.5,411.0 L801.5,411.0 L801.6,414.4 L801.6,414.4 L801.6,414.4 L801.7,414.4 L801.8,417.8 L801.8,417.8 L801.8,417.8 L801.8,417.9 L801.9,421.2 L801.9,421.3 L801.9,421.3 L801.9,421.3 L802.0,424.7 L802.0,424.7 L802.0,424.7 L802.0,424.7 L802.0,428.1 L802.0,428.1 L802.0,428.2 L802.0,428.2 L802.0,431.6 L802.0,431.6 L802.0,431.6 L802.0,431.6 L801.9,435.0 L801.9,435.0 L801.9,435.0 L801.9,435.0 L801.8,438.4 L801.8,438.5 L801.8,438.5 L801.8,438.5 L801.7,441.9 L801.7,441.9 L801.7,441.9 L801.7,441.9 L801.5,445.3 L801.5,445.3 L801.5,445.3 L801.5,445.4 L801.3,448.7 L801.3,448.8 L801.3,448.8 L801.3,448.8 L801.1,450.9 L801.1,451.0 L801.1,451.4 L801.1,451.5 L801.1,451.9 L801.1,452.0 L801.2,452.4 L801.2,452.5 L801.3,452.8 L801.4,453.0 L801.5,453.3 L801.6,453.4 L801.7,453.8 L801.8,453.9 L802.0,454.2 L802.1,454.3 L802.3,454.6 L802.4,454.7 L802.7,455.0 L802.8,455.0 L803.1,455.3 L803.2,455.4 L803.5,455.6 L803.6,455.6 L803.9,455.8 L804.0,455.9 L804.4,456.0 L804.5,456.0 L804.9,456.2 L805.0,456.2 L805.4,456.3 L805.4,456.3 L815.7,457.7 L815.8,457.7 L816.2,457.7 L816.3,457.7 L816.7,457.7 L816.8,457.7 L817.1,457.7 L817.3,457.6 L817.6,457.6 L817.8,457.5 L818.1,457.4 L818.2,457.4 L818.6,457.2 L818.7,457.2 L819.0,457.0 L819.1,456.9 L819.4,456.7 L819.5,456.6 L819.8,456.4 L819.9,456.3 L820.1,456.0 L820.2,455.9 L820.4,455.7 L820.5,455.6 L820.7,455.2 L820.8,455.2 L820.9,455.0 L820.9,454.9 L820.9,454.9 L821.0,454.8 L821.1,454.6 L821.1,454.6 L821.2,454.5 L821.2,454.5 L821.3,454.3 L821.4,454.2 L821.4,454.2 L821.5,454.1 L821.6,453.9 L821.6,453.9 L821.7,453.8 L821.7,453.8 L821.9,453.6 L821.9,453.5 L822.0,453.5 L822.0,453.4 L822.2,453.3 L822.2,453.2 L822.3,453.2 L822.3,453.1 L822.5,453.0 L822.5,452.9 L822.6,452.9 L822.6,452.8 L822.8,452.7 L822.9,452.6 L822.9,452.6 L823.0,452.6 L823.1,452.4 L823.2,452.4 L823.2,452.3 L823.3,452.3 L823.5,452.2 L823.6,452.1 L823.6,452.1 L823.7,452.1 L823.9,451.9 L823.9,451.9 L824.0,451.9 L824.0,451.8 L824.2,451.7 L824.3,451.7 L824.3,451.6 L824.4,451.6 L824.6,451.5 L824.7,451.5 L824.7,451.5 L824.8,451.4 L825.0,451.3 L825.1,451.3 L825.1,451.3 L825.2,451.3 L825.4,451.2 L825.5,451.1 L825.5,451.1 L825.6,451.1 L825.8,451.0 L825.9,451.0 L825.9,451.0 L826.0,451.0 L826.2,450.9 L826.3,450.9 L826.4,450.9 L826.4,450.9 L826.7,450.8 L826.7,450.8 L826.8,450.8 L826.8,450.8 L827.1,450.7 L827.1,450.7 L827.2,450.7 L827.3,450.7 L827.5,450.7 L827.6,450.7 L827.6,450.7 L827.7,450.7 L827.9,450.6 L828.0,450.6 L828.1,450.6 L828.1,450.6 L828.4,450.6 L828.4,450.6 L828.5,450.6 L828.6,450.6 L828.8,450.6 L828.9,450.6 L828.9,450.6 L829.0,450.6 L829.2,450.7 L829.3,450.7 L829.4,450.7 L829.4,450.7 L829.7,450.7 L829.7,450.7 L829.8,450.7 L829.8,450.7 L830.1,450.8 L830.2,450.8 L830.2,450.8 L830.3,450.8 L830.5,450.9 L830.6,450.9 L830.6,450.9 L830.7,450.9 L830.9,451.0 L831.0,451.0 L831.0,451.0 L831.1,451.0 L831.3,451.1 L831.4,451.1 L831.5,451.1 L831.5,451.2 L831.7,451.3 L831.8,451.3 L831.9,451.3 L831.9,451.3 L832.1,451.4 L832.2,451.5 L832.3,451.5 L832.3,451.5 L832.5,451.6 L832.6,451.6 L832.6,451.7 L832.7,451.7 L832.9,451.8 L833.0,451.9 L833.0,451.9 L833.1,451.9 L833.3,452.1 L833.3,452.1 L833.4,452.1 L833.4,452.2 L833.6,452.3 L833.7,452.3 L833.7,452.4 L833.8,452.4 L834.0,452.6 L834.0,452.6 L834.1,452.6 L834.1,452.7 L834.3,452.8 L834.3,452.9 L834.4,452.9 L834.4,453.0 L834.6,453.1 L834.7,453.2 L834.7,453.2 L834.8,453.3 L834.9,453.4 L835.0,453.5 L835.0,453.5 L835.0,453.6 L835.2,453.8 L835.2,453.8 L835.3,453.9 L835.3,453.9 L835.5,454.1 L835.5,454.2 L835.5,454.2 L835.6,454.3 L835.7,454.5 L835.8,454.5 L835.8,454.6 L835.8,454.6 L836.0,454.8 L836.0,454.9 L836.0,454.9 L836.1,455.0 L836.2,455.2 L836.2,455.2 L836.2,455.3 L836.3,455.4 L836.4,455.6 L836.4,455.6 L836.4,455.7 L836.5,455.7 L836.6,456.0 L836.6,456.0 L836.6,456.1 L836.6,456.1 L836.7,456.4 L836.7,456.4 L836.8,456.5 L836.8,456.5 L836.9,456.8 L836.9,456.8 L836.9,456.9 L836.9,457.0 L837.0,457.2 L837.0,457.3 L837.0,457.4 L837.0,457.4 L837.1,457.7 L837.2,457.8 L837.3,458.2 L837.4,458.3 L837.5,458.7 L837.6,458.8 L837.8,459.1 L837.9,459.2 L838.1,459.5 L838.2,459.6 L838.5,459.8 L838.6,459.9 L838.8,460.2 L838.9,460.3 L839.3,460.5 L839.4,460.5 L839.7,460.7 L839.8,460.8 L840.2,460.9 L840.3,460.9 L840.6,461.1 L840.8,461.1 L841.2,461.2 L841.2,461.2 L851.0,462.5 L851.1,462.5 L851.5,462.6 L851.6,462.6 L851.9,462.6 L852.1,462.5 L852.4,462.5 L852.5,462.5 L852.9,462.4 L853.0,462.4 L853.3,462.3 L853.5,462.3 L853.8,462.1 L853.9,462.1 L854.2,461.9 L854.3,461.8 L854.6,461.6 L854.7,461.6 L855.0,461.3 L855.1,461.3 L855.3,461.0 L855.4,460.9 L855.7,460.7 L855.7,460.6 L855.9,460.3 L856.0,460.2 L856.2,459.9 L856.2,459.8 L856.4,459.4 L856.4,459.3 L856.5,459.0 L856.6,458.9 L856.6,458.5 L856.7,458.4 L856.7,458.0 L856.7,457.9 L857.0,454.7 L857.0,454.6 L857.3,450.4 L857.3,450.3 L857.5,446.1 L857.5,446.0 L857.7,441.7 L857.7,441.7 L857.9,437.4 L857.9,437.4 L858.0,433.1 L858.0,433.1 L858.0,428.8 L858.0,428.7 L858.0,424.5 L858.0,424.4 L857.9,420.2 L857.9,420.1 L857.8,415.9 L857.8,415.8 L857.6,411.6 L857.6,411.5 L857.3,407.2 L857.3,407.2 L857.0,402.9 L857.0,402.9 L856.7,398.6 L856.7,398.6 L856.3,394.3 L856.3,394.3 L855.8,390.1 L855.8,390.0 L855.3,385.8 L855.3,385.7 L854.7,381.5 L854.7,381.4 L854.1,377.2 L854.1,377.2 L853.4,373.0 L853.4,372.9 L852.9,369.6 L852.9,369.6 L852.8,369.2 L852.7,369.1 L852.6,368.8 L852.6,368.6 L852.4,368.3 L852.4,368.2 L852.2,367.9 L852.2,367.8 L851.9,367.5 L851.9,367.4 L851.6,367.1 L851.6,367.0 L851.3,366.8 L851.2,366.7 L850.9,366.5 L850.9,366.4 L850.6,366.2 L850.5,366.1 L850.1,366.0 L850.0,365.9 L849.7,365.8 L849.6,365.7 L849.2,365.6 L849.1,365.6 L848.8,365.5 L848.7,365.5 L848.3,365.5 L848.2,365.5 L847.8,365.5 L847.7,365.5 L847.4,365.5 L847.2,365.5 L846.9,365.6 L846.8,365.6 L837.2,367.8 L837.1,367.8 L836.7,367.9 L836.6,367.9 L836.2,368.1 L836.1,368.1 L835.8,368.3 L835.7,368.4 L835.4,368.6 L835.3,368.6 L835.0,368.9 L834.9,369.0 L834.6,369.2 L834.5,369.3 L834.3,369.6 L834.2,369.7 L834.0,370.0 L833.9,370.1 L833.8,370.4 L833.7,370.6 L833.6,370.9 L833.5,371.0 L833.4,371.4 L833.4,371.5 L833.3,371.9 L833.3,372.0 L833.3,372.0 L833.2,372.3 L833.2,372.3 L833.2,372.4 L833.2,372.4 L833.1,372.7 L833.1,372.7 L833.1,372.8 L833.1,372.9 L833.0,373.1 L833.0,373.2 L833.0,373.2 L833.0,373.3 L832.9,373.5 L832.9,373.6 L832.9,373.6 L832.8,373.7 L832.8,373.9 L832.7,374.0 L832.7,374.0 L832.7,374.1 L832.6,374.3 L832.6,374.4 L832.5,374.4 L832.5,374.5 L832.4,374.7 L832.4,374.8 L832.3,374.8 L832.3,374.9 L832.2,375.1 L832.2,375.1 L832.1,375.2 L832.1,375.2 L832.0,375.4 L831.9,375.5 L831.9,375.6 L831.9,375.6 L831.7,375.8 L831.7,375.9 L831.6,375.9 L831.6,376.0 L831.4,376.1 L831.4,376.2 L831.4,376.2 L831.3,376.3 L831.2,376.5 L831.1,376.5 L831.1,376.6 L831.0,376.6 L830.9,376.8 L830.8,376.8 L830.8,376.9 L830.7,376.9 L830.6,377.1 L830.5,377.1 L830.5,377.2 L830.4,377.2 L830.2,377.4 L830.2,377.4 L830.1,377.5 L830.1,377.5 L829.9,377.6 L829.9,377.7 L829.8,377.7 L829.8,377.8 L829.6,377.9 L829.5,377.9 L829.5,378.0 L829.4,378.0 L829.2,378.1 L829.1,378.2 L829.1,378.2 L829.0,378.2 L828.8,378.4 L828.8,378.4 L828.7,378.4 L828.7,378.4 L828.4,378.6 L828.4,378.6 L828.3,378.6 L828.3,378.6 L828.0,378.7 L828.0,378.8 L827.9,378.8 L827.9,378.8 L827.6,378.9 L827.6,378.9 L827.5,378.9 L827.5,379.0 L827.2,379.0 L827.2,379.0 L827.1,379.1 L827.1,379.1 L826.8,379.1 L826.8,379.2 L826.7,379.2 L826.6,379.2 L826.4,379.2 L826.3,379.3 L826.3,379.3 L826.2,379.3 L826.0,379.3 L825.9,379.3 L825.8,379.3 L825.8,379.4 L825.5,379.4 L825.5,379.4 L825.4,379.4 L825.4,379.4 L825.1,379.4 L825.1,379.4 L825.0,379.4 L824.9,379.4 L824.7,379.4 L824.6,379.4 L824.6,379.4 L824.5,379.4 L824.2,379.4 L824.2,379.4 L824.1,379.4 L824.1,379.4 L823.8,379.4 L823.8,379.4 L823.7,379.4 L823.6,379.4 L823.4,379.4 L823.3,379.3 L823.3,379.3 L823.2,379.3 L823.0,379.3 L822.9,379.3 L822.8,379.3 L822.8,379.2 L822.5,379.2 L822.5,379.2 L822.4,379.2 L822.4,379.1 L822.1,379.1 L822.1,379.1 L822.0,379.0 L821.9,379.0 L821.7,379.0 L821.7,378.9 L821.6,378.9 L821.5,378.9 L821.3,378.8 L821.2,378.8 L821.2,378.8 L821.1,378.7 L820.9,378.6 L820.9,378.6 L820.8,378.6 L820.7,378.6 L820.5,378.4 L820.5,378.4 L820.4,378.4 L820.4,378.4 L820.1,378.2 L820.1,378.2 L820.0,378.2 L820.0,378.1 L819.8,378.0 L819.7,378.0 L819.7,377.9 L819.6,377.9 L819.4,377.8 L819.4,377.7 L819.3,377.7 L819.3,377.6 L819.1,377.5 L819.0,377.5 L819.0,377.4 L818.9,377.4 L818.7,377.2 L818.7,377.2 L818.7,377.1 L818.6,377.1 L818.4,376.9 L818.4,376.9 L818.3,376.8 L818.3,376.8 L818.1,376.6 L818.1,376.6 L818.0,376.5 L818.0,376.5 L817.8,376.3 L817.8,376.2 L817.8,376.2 L817.7,376.1 L817.6,376.0 L817.5,375.9 L817.5,375.9 L817.5,375.8 L817.3,375.5 L817.3,375.5 L817.0,375.2 L817.0,375.1 L816.7,374.9 L816.6,374.8 L816.3,374.5 L816.2,374.4 L815.9,374.2 L815.8,374.1 L815.5,374.0 L815.4,373.9 L815.1,373.7 L814.9,373.7 L814.6,373.6 L814.5,373.5 L814.1,373.5 L814.0,373.4 L813.6,373.4 L813.5,373.4 L813.1,373.4 L813.0,373.4 L812.6,373.4 L812.5,373.4 L812.1,373.5 L812.0,373.5Z" fill="none" stroke="#1e1e1e" stroke-width="2.1" stroke-linejoin="round"/>
<path d="M636.2,364.3 L636.2,364.4 L635.8,364.6 L635.8,364.7 L635.5,364.9 L635.4,365.0 L635.2,365.3 L635.1,365.4 L634.9,365.6 L634.8,365.7 L634.6,366.0 L634.5,366.1 L634.4,366.5 L634.3,366.6 L634.2,366.9 L634.2,367.0 L634.1,367.4 L634.0,367.5 L634.0,367.9 L634.0,368.0 L633.9,368.3 L633.9,368.5 L634.0,368.8 L634.0,368.9 L634.0,369.3 L634.0,369.4 L634.1,369.8 L634.1,369.9 L634.2,370.2 L634.3,370.3 L634.4,370.7 L634.5,370.8 L634.8,371.4 L634.8,371.4 L635.2,372.3 L635.2,372.3 L635.7,373.2 L635.7,373.3 L636.1,374.2 L636.1,374.2 L636.5,375.1 L636.5,375.1 L636.9,376.1 L637.0,376.1 L637.4,377.0 L637.4,377.0 L637.8,377.9 L637.8,378.0 L638.2,378.9 L638.2,378.9 L638.6,379.8 L638.6,379.9 L638.9,380.8 L638.9,380.8 L639.3,381.8 L639.3,381.8 L639.7,382.7 L639.7,382.7 L640.0,383.7 L640.0,383.7 L640.3,384.4 L640.3,384.5 L640.5,384.8 L640.5,384.9 L640.7,385.2 L640.7,385.3 L640.9,385.6 L641.0,385.7 L641.2,386.0 L641.3,386.1 L641.6,386.4 L641.7,386.5 L642.0,386.7 L642.0,386.8 L642.3,387.0 L642.4,387.0 L642.8,387.2 L642.9,387.2 L643.2,387.4 L643.3,387.4 L643.7,387.5 L643.8,387.6 L644.1,387.6 L644.3,387.7 L644.6,387.7 L644.7,387.7 L645.1,387.7 L645.2,387.7 L645.6,387.7 L645.7,387.7 L646.1,387.6 L646.1,387.6 L668.3,382.6 L668.3,382.5 L668.7,382.4 L668.8,382.4 L669.2,382.3 L669.3,382.2 L669.6,382.0 L669.8,382.0 L670.1,381.8 L670.2,381.7 L670.5,381.5 L670.6,381.4 L670.8,381.1 L670.9,381.0 L671.1,380.7 L671.2,380.6 L671.4,380.3 L671.5,380.2 L671.7,379.9 L671.7,379.8 L671.9,379.4 L671.9,379.3 L672.0,379.0 L672.1,378.8 L672.1,378.4 L672.1,378.4 L672.2,378.3 L672.2,378.1 L672.2,378.0 L672.2,378.0 L672.2,377.9 L672.3,377.7 L672.3,377.6 L672.3,377.5 L672.3,377.5 L672.4,377.2 L672.4,377.2 L672.4,377.1 L672.5,377.1 L672.5,376.8 L672.6,376.8 L672.6,376.7 L672.6,376.7 L672.7,376.4 L672.7,376.4 L672.7,376.3 L672.8,376.3 L672.9,376.0 L672.9,376.0 L672.9,375.9 L672.9,375.9 L673.0,375.6 L673.1,375.6 L673.1,375.5 L673.1,375.5 L673.3,375.3 L673.3,375.2 L673.3,375.2 L673.3,375.1 L673.5,374.9 L673.5,374.8 L673.5,374.8 L673.6,374.7 L673.7,374.5 L673.8,374.5 L673.8,374.4 L673.8,374.4 L674.0,374.2 L674.0,374.2 L674.1,374.1 L674.1,374.1 L674.3,373.9 L674.3,373.8 L674.3,373.8 L674.4,373.7 L674.6,373.6 L674.6,373.5 L674.6,373.5 L674.7,373.4 L674.9,373.3 L674.9,373.2 L675.0,373.2 L675.0,373.1 L675.2,373.0 L675.2,372.9 L675.3,372.9 L675.3,372.8 L675.5,372.7 L675.6,372.7 L675.6,372.6 L675.7,372.6 L675.9,372.4 L675.9,372.4 L676.0,372.4 L676.0,372.3 L676.2,372.2 L676.3,372.2 L676.4,372.1 L676.4,372.1 L676.6,372.0 L676.7,372.0 L676.7,371.9 L676.8,371.9 L677.0,371.8 L677.1,371.8 L677.1,371.7 L677.2,371.7 L677.4,371.6 L677.5,371.6 L677.5,371.6 L677.6,371.5 L677.8,371.5 L677.9,371.4 L677.9,371.4 L678.0,371.4 L678.2,371.3 L678.3,371.3 L678.3,371.3 L678.4,371.3 L678.6,371.2 L678.7,371.2 L678.7,371.2 L678.8,371.2 L679.0,371.1 L679.1,371.1 L679.2,371.1 L679.2,371.1 L679.5,371.0 L679.5,371.0 L679.6,371.0 L679.6,371.0 L679.9,371.0 L680.0,371.0 L680.0,370.9 L680.1,370.9 L680.3,370.9 L680.4,370.9 L680.4,370.9 L680.5,370.9 L680.8,370.9 L680.8,370.9 L680.9,370.9 L680.9,370.9 L681.2,370.9 L681.2,370.9 L681.3,370.9 L681.4,370.9 L681.6,370.9 L681.7,370.9 L681.7,371.0 L681.8,371.0 L682.0,371.0 L682.1,371.0 L682.2,371.0 L682.2,371.0 L682.5,371.1 L682.5,371.1 L682.6,371.1 L682.7,371.1 L682.9,371.2 L683.0,371.2 L683.0,371.2 L683.1,371.2 L683.3,371.3 L683.4,371.3 L683.4,371.3 L683.5,371.3 L683.7,371.4 L683.8,371.4 L683.8,371.4 L683.9,371.5 L684.1,371.5 L684.2,371.6 L684.2,371.6 L684.3,371.6 L684.5,371.7 L684.6,371.7 L684.6,371.8 L684.7,371.8 L684.9,371.9 L685.0,371.9 L685.0,372.0 L685.1,372.0 L685.3,372.1 L685.3,372.1 L685.4,372.2 L685.4,372.2 L685.7,372.3 L685.7,372.4 L685.8,372.4 L685.8,372.4 L686.0,372.6 L686.1,372.6 L686.1,372.7 L686.2,372.7 L686.4,372.8 L686.4,372.9 L686.5,372.9 L686.5,373.0 L686.7,373.1 L686.7,373.2 L686.8,373.2 L686.8,373.3 L687.0,373.4 L687.0,373.5 L687.1,373.5 L687.1,373.6 L687.3,373.7 L687.3,373.8 L687.4,373.8 L687.4,373.9 L687.6,374.1 L687.6,374.1 L687.7,374.2 L687.7,374.2 L687.9,374.4 L687.9,374.4 L687.9,374.5 L688.0,374.5 L688.2,374.8 L688.2,374.8 L688.4,375.1 L688.5,375.2 L688.7,375.5 L688.8,375.6 L689.1,375.8 L689.2,375.9 L689.5,376.1 L689.6,376.2 L689.9,376.4 L690.0,376.4 L690.4,376.6 L690.5,376.6 L690.8,376.8 L691.0,376.8 L691.3,376.9 L691.5,376.9 L691.8,377.0 L692.0,377.0 L692.3,377.0 L692.5,377.0 L692.8,377.0 L693.0,376.9 L693.4,376.9 L693.4,376.9 L700.0,375.4 L700.1,375.3 L700.4,375.2 L700.6,375.2 L700.9,375.1 L701.0,375.0 L701.3,374.9 L701.4,374.8 L701.7,374.6 L701.8,374.5 L702.1,374.3 L702.2,374.2 L702.5,374.0 L702.6,373.9 L702.8,373.6 L702.9,373.5 L703.1,373.2 L703.2,373.1 L703.3,372.8 L703.4,372.7 L703.6,372.4 L703.6,372.2 L703.7,371.9 L703.7,371.8 L703.8,371.4 L703.8,371.3 L703.9,370.9 L703.9,370.8 L703.9,370.5 L703.9,370.3 L703.9,370.0 L703.9,369.8 L703.8,369.5 L703.8,369.4 L703.7,369.0 L703.7,368.9 L703.5,368.3 L703.5,368.3 L702.8,366.4 L702.8,366.3 L702.2,364.4 L702.2,364.4 L701.5,362.5 L701.5,362.5 L700.8,360.6 L700.8,360.5 L700.1,358.7 L700.0,358.6 L699.3,356.8 L699.3,356.7 L698.6,354.9 L698.5,354.8 L697.8,353.0 L697.8,352.9 L697.0,351.1 L697.0,351.0 L696.2,349.2 L696.1,349.2 L695.3,347.3 L695.3,347.3 L694.4,345.5 L694.4,345.4 L693.6,343.6 L693.5,343.6 L692.7,341.8 L692.6,341.8 L691.7,340.0 L691.7,339.9 L690.8,338.1 L690.8,338.1 L689.8,336.3 L689.8,336.3 L689.5,335.7 L689.5,335.7 L689.3,335.3 L689.2,335.2 L689.0,334.9 L688.9,334.8 L688.7,334.6 L688.6,334.5 L688.3,334.2 L688.2,334.2 L687.9,334.0 L687.8,333.9 L687.5,333.7 L687.4,333.6 L687.1,333.5 L687.0,333.4 L686.6,333.3 L686.5,333.3 L686.1,333.2 L686.0,333.2 L685.7,333.1 L685.5,333.1 L685.2,333.1 L685.0,333.1 L684.7,333.1 L684.6,333.1 L684.2,333.2 L684.1,333.2 L683.7,333.3 L683.6,333.3 L683.3,333.4 L683.2,333.5 L682.8,333.6 L682.7,333.7 L682.4,333.9 L682.3,333.9 L676.7,337.6 L676.6,337.7 L676.3,337.9 L676.2,338.0 L675.9,338.2 L675.8,338.3 L675.6,338.6 L675.5,338.7 L675.3,339.0 L675.2,339.1 L675.0,339.4 L675.0,339.6 L674.8,339.9 L674.8,340.0 L674.6,340.4 L674.6,340.5 L674.5,340.9 L674.5,341.0 L674.4,341.4 L674.4,341.5 L674.4,341.9 L674.4,342.0 L674.4,342.4 L674.5,342.5 L674.5,342.9 L674.6,343.0 L674.6,343.0 L674.6,343.0 L674.6,343.1 L674.6,343.4 L674.6,343.4 L674.6,343.5 L674.6,343.5 L674.7,343.8 L674.7,343.8 L674.7,343.9 L674.7,344.0 L674.7,344.2 L674.7,344.3 L674.7,344.3 L674.7,344.4 L674.7,344.6 L674.7,344.7 L674.7,344.8 L674.7,344.8 L674.7,345.1 L674.7,345.1 L674.7,345.2 L674.7,345.3 L674.7,345.5 L674.7,345.6 L674.7,345.6 L674.7,345.7 L674.6,345.9 L674.6,346.0 L674.6,346.1 L674.6,346.1 L674.6,346.4 L674.6,346.4 L674.6,346.5 L674.5,346.5 L674.5,346.8 L674.5,346.8 L674.5,346.9 L674.4,347.0 L674.4,347.2 L674.4,347.3 L674.3,347.3 L674.3,347.4 L674.2,347.6 L674.2,347.7 L674.2,347.7 L674.2,347.8 L674.1,348.0 L674.1,348.1 L674.0,348.1 L674.0,348.2 L673.9,348.4 L673.9,348.5 L673.9,348.5 L673.8,348.6 L673.7,348.8 L673.7,348.9 L673.7,348.9 L673.6,349.0 L673.5,349.2 L673.5,349.2 L673.5,349.3 L673.4,349.3 L673.3,349.5 L673.3,349.6 L673.2,349.6 L673.2,349.7 L673.1,349.9 L673.0,350.0 L673.0,350.0 L672.9,350.0 L672.8,350.2 L672.8,350.3 L672.7,350.3 L672.7,350.4 L672.5,350.6 L672.5,350.6 L672.4,350.7 L672.4,350.7 L672.2,350.9 L672.2,350.9 L672.1,351.0 L672.1,351.0 L671.9,351.2 L671.9,351.2 L671.8,351.3 L671.8,351.3 L671.6,351.5 L671.5,351.5 L671.5,351.6 L671.4,351.6 L671.2,351.7 L671.2,351.8 L671.1,351.8 L671.1,351.9 L670.9,352.0 L670.8,352.0 L670.8,352.1 L670.7,352.1 L670.5,352.2 L670.5,352.3 L670.4,352.3 L670.4,352.3 L670.2,352.4 L670.1,352.5 L670.1,352.5 L670.0,352.5 L669.8,352.6 L669.7,352.7 L669.7,352.7 L669.6,352.7 L669.4,352.8 L669.3,352.9 L669.3,352.9 L669.2,352.9 L669.0,353.0 L668.9,353.0 L668.9,353.0 L668.8,353.0 L668.6,353.1 L668.5,353.1 L668.5,353.2 L668.4,353.2 L668.2,353.2 L668.1,353.3 L668.0,353.3 L668.0,353.3 L667.7,353.3 L667.7,353.4 L667.6,353.4 L667.6,353.4 L667.3,353.4 L667.3,353.4 L667.2,353.4 L667.1,353.4 L666.9,353.5 L666.8,353.5 L666.8,353.5 L666.7,353.5 L666.5,353.5 L666.4,353.5 L666.3,353.5 L666.3,353.5 L666.0,353.5 L666.0,353.5 L665.9,353.5 L665.8,353.5 L665.6,353.5 L665.5,353.5 L665.5,353.5 L665.4,353.5 L665.2,353.5 L665.1,353.5 L665.0,353.5 L665.0,353.5 L664.7,353.4 L664.7,353.4 L664.6,353.4 L664.5,353.4 L664.3,353.4 L664.2,353.4 L664.2,353.4 L664.1,353.3 L663.9,353.3 L663.8,353.3 L663.8,353.3 L663.7,353.2 L663.5,353.2 L663.4,353.2 L663.3,353.1 L663.3,353.1 L663.1,353.0 L663.0,353.0 L662.9,353.0 L662.9,353.0 L662.6,352.9 L662.6,352.9 L662.5,352.9 L662.5,352.8 L662.3,352.7 L662.2,352.7 L662.1,352.7 L662.1,352.6 L661.9,352.5 L661.8,352.5 L661.8,352.5 L661.7,352.4 L661.5,352.3 L661.4,352.3 L661.4,352.3 L661.3,352.2 L661.1,352.1 L661.1,352.1 L661.0,352.0 L661.0,352.0 L660.9,351.9 L660.8,351.9 L660.5,351.7 L660.3,351.6 L660.0,351.4 L659.9,351.4 L659.6,351.3 L659.4,351.2 L659.1,351.1 L659.0,351.1 L658.6,351.0 L658.5,351.0 L658.1,351.0 L658.0,351.0 L657.6,351.0 L657.5,351.0 L657.1,351.1 L657.0,351.1 L656.6,351.2 L656.5,351.2 L656.1,351.3 L656.0,351.4 L655.7,351.5 L655.6,351.6 L655.2,351.8 L655.2,351.8Z" fill="none" stroke="#1e1e1e" stroke-width="2.1" stroke-linejoin="round"/>
<path d="M703.3,320.1 L703.3,320.1 L702.9,320.4 L702.8,320.4 L702.6,320.7 L702.5,320.8 L702.2,321.0 L702.2,321.1 L701.9,321.4 L701.9,321.5 L701.7,321.9 L701.6,322.0 L701.5,322.3 L701.4,322.4 L701.3,322.8 L701.2,322.9 L701.2,323.2 L701.1,323.4 L701.1,323.7 L701.1,323.9 L701.0,324.2 L701.0,324.4 L701.1,324.7 L701.1,324.9 L701.1,325.2 L701.2,325.3 L701.3,325.7 L701.3,325.8 L701.4,326.2 L701.5,326.3 L701.6,326.6 L701.7,326.7 L702.7,328.6 L702.7,328.6 L702.7,328.6 L702.7,328.7 L703.8,330.6 L703.8,330.6 L703.8,330.7 L703.8,330.7 L704.9,332.7 L704.9,332.7 L704.9,332.7 L704.9,332.7 L705.9,334.7 L705.9,334.7 L705.9,334.7 L705.9,334.7 L706.9,336.7 L706.9,336.8 L706.9,336.8 L706.9,336.8 L707.9,338.8 L707.9,338.8 L707.9,338.8 L707.9,338.8 L708.8,340.9 L708.9,340.9 L708.9,340.9 L708.9,340.9 L709.8,343.0 L709.8,343.0 L709.8,343.0 L709.8,343.0 L710.7,345.0 L710.7,345.1 L710.7,345.1 L710.7,345.1 L711.6,347.1 L711.6,347.2 L711.6,347.2 L711.6,347.2 L712.5,349.3 L712.5,349.3 L712.5,349.3 L712.5,349.3 L713.3,351.4 L713.3,351.4 L713.3,351.4 L713.3,351.4 L714.1,353.5 L714.2,353.5 L714.2,353.5 L714.2,353.5 L715.0,355.6 L715.0,355.6 L715.0,355.7 L715.0,355.7 L715.7,357.8 L715.7,357.8 L715.7,357.8 L715.7,357.8 L716.5,359.9 L716.5,359.9 L716.5,360.0 L716.5,360.0 L717.2,362.1 L717.2,362.1 L717.2,362.1 L717.2,362.1 L717.9,364.3 L717.9,364.3 L717.9,364.3 L717.9,364.3 L718.6,366.4 L718.6,366.4 L718.8,366.8 L718.8,366.9 L719.0,367.3 L719.0,367.4 L719.2,367.7 L719.3,367.8 L719.5,368.1 L719.6,368.2 L719.9,368.5 L720.0,368.6 L720.2,368.8 L720.3,368.9 L720.6,369.1 L720.7,369.2 L721.1,369.3 L721.2,369.4 L721.5,369.6 L721.6,369.6 L722.0,369.7 L722.1,369.7 L722.5,369.8 L722.6,369.9 L722.9,369.9 L723.1,369.9 L723.4,369.9 L723.6,369.9 L723.9,369.9 L724.1,369.9 L724.5,369.8 L724.5,369.8 L738.6,366.6 L738.7,366.6 L739.1,366.5 L739.2,366.4 L739.5,366.3 L739.6,366.2 L740.0,366.1 L740.1,366.0 L740.4,365.8 L740.5,365.7 L740.8,365.5 L740.9,365.4 L741.1,365.1 L741.2,365.1 L741.5,364.8 L741.5,364.7 L741.8,364.4 L741.8,364.3 L742.0,363.9 L742.1,363.8 L742.2,363.5 L742.2,363.3 L742.4,363.0 L742.4,362.9 L742.5,362.5 L742.5,362.4 L742.5,362.3 L742.5,362.1 L742.5,362.0 L742.5,362.0 L742.6,361.9 L742.6,361.7 L742.6,361.6 L742.6,361.6 L742.7,361.5 L742.7,361.3 L742.7,361.2 L742.8,361.1 L742.8,361.1 L742.9,360.9 L742.9,360.8 L742.9,360.7 L742.9,360.7 L743.0,360.4 L743.0,360.4 L743.1,360.3 L743.1,360.3 L743.2,360.1 L743.2,360.0 L743.2,359.9 L743.3,359.9 L743.4,359.7 L743.4,359.6 L743.4,359.6 L743.5,359.5 L743.6,359.3 L743.6,359.2 L743.6,359.2 L743.7,359.1 L743.8,358.9 L743.8,358.9 L743.9,358.8 L743.9,358.8 L744.1,358.6 L744.1,358.5 L744.1,358.5 L744.2,358.4 L744.3,358.2 L744.4,358.2 L744.4,358.1 L744.4,358.1 L744.6,357.9 L744.6,357.8 L744.7,357.8 L744.7,357.8 L744.9,357.6 L744.9,357.5 L745.0,357.5 L745.0,357.4 L745.2,357.3 L745.2,357.2 L745.3,357.2 L745.3,357.2 L745.5,357.0 L745.6,356.9 L745.6,356.9 L745.7,356.9 L745.9,356.7 L745.9,356.7 L746.0,356.6 L746.0,356.6 L746.2,356.5 L746.3,356.4 L746.3,356.4 L746.4,356.4 L746.6,356.2 L746.6,356.2 L746.7,356.2 L746.7,356.1 L746.9,356.0 L747.0,356.0 L747.1,356.0 L747.1,355.9 L747.3,355.8 L747.4,355.8 L747.4,355.8 L747.5,355.7 L747.7,355.6 L747.8,355.6 L747.8,355.6 L747.9,355.6 L748.1,355.5 L748.2,355.5 L748.2,355.4 L748.3,355.4 L748.5,355.3 L748.6,355.3 L748.6,355.3 L748.7,355.3 L748.9,355.2 L749.0,355.2 L749.1,355.2 L749.1,355.2 L749.4,355.1 L749.4,355.1 L749.5,355.1 L749.5,355.1 L749.8,355.0 L749.9,355.0 L749.9,355.0 L750.0,355.0 L750.2,355.0 L750.3,355.0 L750.3,355.0 L750.4,355.0 L750.6,354.9 L750.7,354.9 L750.8,354.9 L750.8,354.9 L751.1,354.9 L751.1,354.9 L751.2,354.9 L751.3,354.9 L751.5,354.9 L751.6,354.9 L751.6,354.9 L751.7,354.9 L751.9,355.0 L752.0,355.0 L752.1,355.0 L752.1,355.0 L752.4,355.0 L752.4,355.0 L752.5,355.0 L752.6,355.0 L752.8,355.1 L752.9,355.1 L752.9,355.1 L753.0,355.1 L753.2,355.2 L753.3,355.2 L753.3,355.2 L753.4,355.2 L753.6,355.3 L753.7,355.3 L753.8,355.3 L753.8,355.3 L754.0,355.4 L754.1,355.4 L754.2,355.5 L754.2,355.5 L754.5,355.6 L754.5,355.6 L754.6,355.6 L754.6,355.6 L754.9,355.7 L754.9,355.8 L755.0,355.8 L755.0,355.8 L755.2,355.9 L755.3,356.0 L755.3,356.0 L755.4,356.0 L755.6,356.1 L755.7,356.2 L755.7,356.2 L755.8,356.2 L756.0,356.4 L756.0,356.4 L756.1,356.4 L756.1,356.5 L756.3,356.6 L756.4,356.6 L756.4,356.7 L756.5,356.7 L756.7,356.9 L756.7,356.9 L756.8,356.9 L756.8,357.0 L757.0,357.2 L757.1,357.2 L757.1,357.2 L757.1,357.3 L757.3,357.4 L757.4,357.5 L757.4,357.5 L757.5,357.6 L757.6,357.8 L757.7,357.8 L757.7,357.8 L757.8,357.9 L757.9,358.1 L758.0,358.1 L758.0,358.2 L758.0,358.2 L758.2,358.4 L758.2,358.5 L758.3,358.5 L758.3,358.6 L758.5,358.8 L758.5,358.9 L758.7,359.1 L758.8,359.2 L759.0,359.5 L759.1,359.6 L759.4,359.9 L759.5,359.9 L759.8,360.2 L759.9,360.2 L760.2,360.4 L760.4,360.5 L760.7,360.6 L760.8,360.7 L761.2,360.8 L761.3,360.8 L761.7,360.9 L761.8,360.9 L762.2,361.0 L762.3,361.0 L762.7,361.0 L762.8,361.0 L763.2,361.0 L763.3,361.0 L763.7,360.9 L763.7,360.9 L771.4,359.1 L771.4,359.1 L771.8,359.0 L771.9,359.0 L772.3,358.9 L772.4,358.8 L772.7,358.6 L772.8,358.6 L773.1,358.4 L773.2,358.3 L773.5,358.1 L773.6,358.0 L773.8,357.8 L773.9,357.7 L774.2,357.4 L774.2,357.3 L774.4,357.0 L774.5,356.9 L774.7,356.6 L774.8,356.5 L774.9,356.2 L774.9,356.1 L775.1,355.8 L775.1,355.6 L775.2,355.3 L775.2,355.2 L775.3,354.8 L775.3,354.7 L775.3,354.3 L775.3,354.2 L775.3,353.9 L775.3,353.7 L775.2,353.4 L775.2,353.3 L775.1,352.9 L775.1,352.8 L774.8,351.9 L774.8,351.8 L773.9,348.8 L773.9,348.8 L772.9,345.8 L772.9,345.7 L771.9,342.8 L771.9,342.7 L770.9,339.7 L770.9,339.7 L769.8,336.7 L769.8,336.7 L768.7,333.7 L768.7,333.7 L767.5,330.8 L767.5,330.7 L766.4,327.8 L766.3,327.7 L765.1,324.9 L765.1,324.8 L763.9,321.9 L763.9,321.9 L762.6,319.0 L762.6,318.9 L761.3,316.1 L761.3,316.0 L759.9,313.2 L759.9,313.2 L758.5,310.3 L758.5,310.3 L757.1,307.5 L757.1,307.4 L755.7,304.7 L755.6,304.6 L754.2,301.8 L754.1,301.8 L752.7,299.0 L752.6,299.0 L751.1,296.2 L751.1,296.2 L750.6,295.3 L750.5,295.3 L750.3,294.9 L750.2,294.8 L750.0,294.6 L749.9,294.5 L749.7,294.2 L749.6,294.1 L749.3,293.9 L749.2,293.8 L749.0,293.6 L748.9,293.5 L748.5,293.4 L748.4,293.3 L748.1,293.2 L748.0,293.1 L747.7,293.0 L747.5,293.0 L747.2,292.9 L747.1,292.9 L746.7,292.8 L746.6,292.8 L746.2,292.8 L746.1,292.8 L745.8,292.8 L745.6,292.8 L745.3,292.9 L745.2,292.9 L744.8,293.0 L744.7,293.0 L744.4,293.1 L744.3,293.2 L743.9,293.3 L743.8,293.4 L743.5,293.6 L743.4,293.6 L736.9,297.9 L736.8,298.0 L736.5,298.2 L736.4,298.3 L736.1,298.5 L736.0,298.6 L735.8,298.9 L735.7,299.0 L735.5,299.3 L735.4,299.4 L735.2,299.7 L735.2,299.9 L735.0,300.2 L735.0,300.3 L734.8,300.7 L734.8,300.8 L734.7,301.2 L734.7,301.3 L734.6,301.7 L734.6,301.8 L734.6,302.2 L734.6,302.3 L734.7,302.7 L734.7,302.8 L734.7,303.2 L734.8,303.3 L734.8,303.3 L734.8,303.3 L734.8,303.4 L734.8,303.7 L734.8,303.7 L734.8,303.8 L734.9,303.8 L734.9,304.1 L734.9,304.1 L734.9,304.2 L734.9,304.3 L734.9,304.5 L734.9,304.6 L734.9,304.6 L734.9,304.7 L734.9,304.9 L734.9,305.0 L734.9,305.1 L734.9,305.1 L734.9,305.4 L734.9,305.4 L734.9,305.5 L734.9,305.6 L734.9,305.8 L734.9,305.9 L734.9,305.9 L734.9,306.0 L734.9,306.2 L734.8,306.3 L734.8,306.4 L734.8,306.4 L734.8,306.7 L734.8,306.7 L734.8,306.8 L734.7,306.8 L734.7,307.1 L734.7,307.1 L734.7,307.2 L734.6,307.3 L734.6,307.5 L734.6,307.6 L734.5,307.6 L734.5,307.7 L734.4,307.9 L734.4,308.0 L734.4,308.0 L734.4,308.1 L734.3,308.3 L734.3,308.4 L734.3,308.4 L734.2,308.5 L734.1,308.7 L734.1,308.8 L734.1,308.8 L734.0,308.9 L733.9,309.1 L733.9,309.2 L733.9,309.2 L733.9,309.3 L733.7,309.5 L733.7,309.5 L733.7,309.6 L733.6,309.6 L733.5,309.8 L733.5,309.9 L733.4,309.9 L733.4,310.0 L733.3,310.2 L733.2,310.3 L733.2,310.3 L733.1,310.3 L733.0,310.5 L733.0,310.6 L732.9,310.6 L732.9,310.7 L732.7,310.9 L732.7,310.9 L732.6,311.0 L732.6,311.0 L732.4,311.2 L732.4,311.2 L732.3,311.3 L732.3,311.3 L732.1,311.5 L732.1,311.5 L732.0,311.6 L732.0,311.6 L731.8,311.8 L731.7,311.8 L731.7,311.9 L731.6,311.9 L731.5,312.0 L731.4,312.1 L731.4,312.1 L731.3,312.2 L731.1,312.3 L731.0,312.3 L731.0,312.4 L730.9,312.4 L730.7,312.5 L730.7,312.6 L730.6,312.6 L730.6,312.6 L730.4,312.8 L730.3,312.8 L730.3,312.8 L730.2,312.8 L730.0,312.9 L729.9,313.0 L729.9,313.0 L729.8,313.0 L729.6,313.1 L729.5,313.2 L729.5,313.2 L729.4,313.2 L729.2,313.3 L729.1,313.3 L729.1,313.3 L729.0,313.3 L728.8,313.4 L728.7,313.4 L728.7,313.5 L728.6,313.5 L728.4,313.5 L728.3,313.6 L728.2,313.6 L728.2,313.6 L727.9,313.6 L727.9,313.7 L727.8,313.7 L727.8,313.7 L727.5,313.7 L727.5,313.7 L727.4,313.7 L727.3,313.8 L727.1,313.8 L727.0,313.8 L727.0,313.8 L726.9,313.8 L726.7,313.8 L726.6,313.8 L726.5,313.8 L726.5,313.8 L726.2,313.8 L726.2,313.8 L726.1,313.8 L726.0,313.8 L725.8,313.8 L725.7,313.8 L725.7,313.8 L725.6,313.8 L725.4,313.8 L725.3,313.8 L725.2,313.8 L725.2,313.8 L724.9,313.8 L724.9,313.7 L724.8,313.7 L724.8,313.7 L724.5,313.7 L724.4,313.7 L724.4,313.7 L724.3,313.6 L724.1,313.6 L724.0,313.6 L724.0,313.6 L723.9,313.5 L723.7,313.5 L723.6,313.5 L723.6,313.4 L723.5,313.4 L723.3,313.3 L723.2,313.3 L723.1,313.3 L723.1,313.3 L722.9,313.2 L722.8,313.2 L722.7,313.2 L722.7,313.1 L722.5,313.0 L722.4,313.0 L722.3,313.0 L722.3,312.9 L722.1,312.8 L722.0,312.8 L722.0,312.8 L721.9,312.8 L721.7,312.6 L721.6,312.6 L721.6,312.6 L721.5,312.5 L721.3,312.4 L721.3,312.4 L721.2,312.3 L721.2,312.3 L721.1,312.2 L721.0,312.2 L720.7,312.0 L720.6,311.9 L720.2,311.7 L720.1,311.7 L719.8,311.6 L719.6,311.5 L719.3,311.4 L719.2,311.4 L718.8,311.3 L718.7,311.3 L718.3,311.3 L718.2,311.3 L717.8,311.3 L717.7,311.3 L717.3,311.4 L717.2,311.4 L716.8,311.5 L716.7,311.5 L716.3,311.6 L716.2,311.7 L715.9,311.8 L715.8,311.9 L715.4,312.1 L715.4,312.1Z" fill="none" stroke="#1e1e1e" stroke-width="2.1" stroke-linejoin="round"/>
<path d="M765.2,279.3 L765.2,279.3 L764.8,279.5 L764.8,279.6 L764.5,279.9 L764.4,280.0 L764.1,280.2 L764.0,280.3 L763.8,280.6 L763.8,280.7 L763.6,281.1 L763.5,281.2 L763.3,281.5 L763.3,281.6 L763.2,282.0 L763.1,282.1 L763.1,282.5 L763.0,282.6 L763.0,283.0 L763.0,283.1 L763.0,283.5 L763.0,283.6 L763.0,284.0 L763.0,284.1 L763.1,284.5 L763.1,284.6 L763.2,285.0 L763.2,285.1 L763.4,285.4 L763.4,285.6 L763.6,285.9 L763.6,286.0 L764.7,287.8 L764.7,287.8 L764.7,287.8 L764.7,287.8 L766.4,290.8 L766.4,290.8 L766.4,290.8 L766.4,290.8 L768.0,293.8 L768.0,293.8 L768.0,293.8 L768.1,293.9 L769.6,296.9 L769.7,296.9 L769.7,296.9 L769.7,296.9 L771.2,299.9 L771.2,299.9 L771.2,299.9 L771.2,300.0 L772.8,303.0 L772.8,303.0 L772.8,303.0 L772.8,303.0 L774.3,306.1 L774.3,306.1 L774.3,306.1 L774.3,306.1 L775.7,309.2 L775.7,309.2 L775.7,309.2 L775.7,309.2 L777.2,312.3 L777.2,312.3 L777.2,312.4 L777.2,312.4 L778.5,315.5 L778.5,315.5 L778.6,315.5 L778.6,315.5 L779.9,318.6 L779.9,318.7 L779.9,318.7 L779.9,318.7 L781.2,321.8 L781.2,321.8 L781.2,321.8 L781.2,321.9 L782.5,325.0 L782.5,325.0 L782.5,325.0 L782.5,325.1 L783.7,328.2 L783.7,328.2 L783.7,328.3 L783.7,328.3 L784.9,331.4 L784.9,331.5 L784.9,331.5 L784.9,331.5 L786.1,334.7 L786.1,334.7 L786.1,334.7 L786.1,334.7 L787.2,337.9 L787.2,338.0 L787.2,338.0 L787.2,338.0 L788.3,341.2 L788.3,341.2 L788.3,341.2 L788.3,341.3 L789.3,344.5 L789.3,344.5 L789.3,344.5 L789.3,344.5 L790.3,347.8 L790.3,347.8 L790.3,347.8 L790.3,347.8 L790.9,349.8 L790.9,349.9 L791.0,350.3 L791.1,350.4 L791.2,350.8 L791.3,350.9 L791.5,351.2 L791.6,351.3 L791.8,351.6 L791.9,351.7 L792.1,352.0 L792.2,352.1 L792.5,352.3 L792.6,352.4 L792.9,352.6 L793.0,352.7 L793.3,352.9 L793.4,352.9 L793.8,353.1 L793.9,353.1 L794.3,353.3 L794.4,353.3 L794.7,353.4 L794.9,353.4 L795.2,353.5 L795.4,353.5 L795.7,353.5 L795.9,353.5 L796.2,353.5 L796.4,353.4 L796.8,353.4 L796.8,353.4 L806.9,351.1 L807.0,351.1 L807.4,350.9 L807.5,350.9 L807.8,350.8 L808.0,350.7 L808.3,350.5 L808.4,350.5 L808.7,350.3 L808.8,350.2 L809.1,350.0 L809.2,349.9 L809.5,349.6 L809.6,349.5 L809.8,349.2 L809.9,349.1 L810.1,348.8 L810.1,348.7 L810.3,348.4 L810.4,348.3 L810.5,347.9 L810.6,347.8 L810.7,347.5 L810.7,347.3 L810.8,346.9 L810.8,346.9 L810.8,346.8 L810.8,346.6 L810.9,346.5 L810.9,346.5 L810.9,346.4 L810.9,346.2 L810.9,346.1 L811.0,346.0 L811.0,346.0 L811.0,345.7 L811.1,345.7 L811.1,345.6 L811.1,345.6 L811.2,345.3 L811.2,345.3 L811.2,345.2 L811.2,345.2 L811.3,344.9 L811.4,344.9 L811.4,344.8 L811.4,344.8 L811.5,344.5 L811.5,344.5 L811.6,344.4 L811.6,344.4 L811.7,344.1 L811.7,344.1 L811.7,344.0 L811.8,344.0 L811.9,343.8 L811.9,343.7 L812.0,343.7 L812.0,343.6 L812.1,343.4 L812.2,343.3 L812.2,343.3 L812.2,343.2 L812.4,343.0 L812.4,343.0 L812.4,342.9 L812.5,342.9 L812.6,342.7 L812.7,342.7 L812.7,342.6 L812.7,342.6 L812.9,342.4 L813.0,342.3 L813.0,342.3 L813.0,342.2 L813.2,342.1 L813.2,342.0 L813.3,342.0 L813.3,341.9 L813.5,341.8 L813.6,341.7 L813.6,341.7 L813.7,341.6 L813.8,341.5 L813.9,341.4 L813.9,341.4 L814.0,341.4 L814.2,341.2 L814.2,341.2 L814.3,341.1 L814.3,341.1 L814.5,340.9 L814.6,340.9 L814.6,340.9 L814.7,340.8 L814.9,340.7 L814.9,340.7 L815.0,340.6 L815.0,340.6 L815.3,340.5 L815.3,340.5 L815.4,340.4 L815.4,340.4 L815.6,340.3 L815.7,340.3 L815.8,340.2 L815.8,340.2 L816.0,340.1 L816.1,340.1 L816.2,340.1 L816.2,340.0 L816.4,340.0 L816.5,339.9 L816.6,339.9 L816.6,339.9 L816.9,339.8 L816.9,339.8 L817.0,339.8 L817.0,339.8 L817.3,339.7 L817.3,339.7 L817.4,339.7 L817.4,339.7 L817.7,339.6 L817.7,339.6 L817.8,339.6 L817.9,339.6 L818.1,339.5 L818.2,339.5 L818.2,339.5 L818.3,339.5 L818.5,339.5 L818.6,339.5 L818.7,339.5 L818.7,339.4 L819.0,339.4 L819.0,339.4 L819.1,339.4 L819.2,339.4 L819.4,339.4 L819.5,339.4 L819.5,339.4 L819.6,339.4 L819.8,339.4 L819.9,339.4 L820.0,339.4 L820.0,339.4 L820.3,339.4 L820.3,339.5 L820.4,339.5 L820.4,339.5 L820.7,339.5 L820.8,339.5 L820.8,339.5 L820.9,339.5 L821.1,339.6 L821.2,339.6 L821.2,339.6 L821.3,339.6 L821.5,339.7 L821.6,339.7 L821.7,339.7 L821.7,339.7 L822.0,339.8 L822.0,339.8 L822.1,339.8 L822.1,339.8 L822.4,339.9 L822.4,339.9 L822.5,339.9 L822.5,340.0 L822.8,340.0 L822.8,340.1 L822.9,340.1 L822.9,340.1 L823.2,340.2 L823.2,340.2 L823.3,340.3 L823.3,340.3 L823.6,340.4 L823.6,340.4 L823.7,340.5 L823.7,340.5 L823.9,340.6 L824.0,340.6 L824.0,340.7 L824.1,340.7 L824.3,340.8 L824.4,340.9 L824.4,340.9 L824.5,340.9 L824.7,341.1 L824.7,341.1 L824.8,341.2 L824.8,341.2 L825.0,341.4 L825.1,341.4 L825.1,341.4 L825.1,341.5 L825.3,341.6 L825.4,341.7 L825.4,341.7 L825.5,341.8 L825.6,341.9 L825.7,342.0 L825.7,342.0 L825.8,342.1 L825.9,342.2 L826.0,342.3 L826.0,342.3 L826.1,342.4 L826.2,342.6 L826.3,342.6 L826.3,342.7 L826.4,342.7 L826.5,342.9 L826.5,342.9 L826.6,343.0 L826.6,343.0 L826.8,343.3 L826.8,343.3 L827.0,343.6 L827.1,343.7 L827.4,344.0 L827.5,344.1 L827.7,344.3 L827.8,344.4 L828.1,344.6 L828.2,344.7 L828.6,344.9 L828.7,344.9 L829.0,345.1 L829.1,345.1 L829.5,345.3 L829.6,345.3 L830.0,345.4 L830.1,345.4 L830.5,345.5 L830.6,345.5 L831.0,345.5 L831.1,345.5 L831.5,345.5 L831.6,345.4 L832.0,345.4 L832.1,345.4 L841.7,343.2 L841.8,343.2 L842.1,343.0 L842.2,343.0 L842.6,342.9 L842.7,342.8 L843.0,342.7 L843.1,342.6 L843.4,342.4 L843.5,342.4 L843.8,342.1 L843.9,342.1 L844.1,341.8 L844.2,341.7 L844.5,341.5 L844.5,341.4 L844.8,341.1 L844.8,341.0 L845.0,340.7 L845.1,340.6 L845.2,340.2 L845.3,340.1 L845.4,339.8 L845.4,339.7 L845.5,339.3 L845.5,339.2 L845.6,338.9 L845.6,338.8 L845.6,338.4 L845.6,338.3 L845.6,337.9 L845.6,337.8 L845.5,337.4 L845.5,337.3 L845.4,336.9 L845.4,336.9 L844.5,333.7 L844.5,333.7 L843.3,329.6 L843.3,329.5 L842.0,325.5 L842.0,325.4 L840.7,321.4 L840.7,321.3 L839.3,317.3 L839.3,317.2 L837.9,313.2 L837.8,313.1 L836.4,309.2 L836.3,309.1 L834.8,305.1 L834.8,305.1 L833.2,301.1 L833.2,301.1 L831.6,297.1 L831.6,297.1 L829.9,293.2 L829.9,293.1 L828.2,289.2 L828.1,289.2 L826.4,285.3 L826.3,285.2 L824.5,281.4 L824.5,281.3 L822.6,277.5 L822.6,277.5 L820.7,273.7 L820.7,273.6 L818.7,269.8 L818.7,269.8 L816.7,266.0 L816.6,266.0 L814.6,262.2 L814.5,262.2 L812.4,258.5 L812.4,258.4 L810.7,255.6 L810.7,255.5 L810.5,255.2 L810.4,255.1 L810.2,254.8 L810.1,254.7 L809.9,254.5 L809.8,254.4 L809.5,254.2 L809.4,254.1 L809.1,253.9 L809.0,253.8 L808.7,253.7 L808.6,253.6 L808.3,253.5 L808.2,253.4 L807.8,253.3 L807.7,253.3 L807.4,253.2 L807.3,253.2 L806.9,253.1 L806.8,253.1 L806.4,253.1 L806.3,253.1 L805.9,253.1 L805.8,253.1 L805.5,253.2 L805.4,253.2 L805.0,253.3 L804.9,253.3 L804.6,253.4 L804.4,253.5 L804.1,253.6 L804.0,253.7 L803.7,253.9 L803.6,253.9 L795.4,259.4 L795.3,259.4 L795.0,259.6 L794.9,259.7 L794.6,260.0 L794.5,260.1 L794.3,260.3 L794.2,260.4 L794.0,260.8 L793.9,260.9 L793.7,261.2 L793.7,261.3 L793.5,261.6 L793.5,261.8 L793.3,262.1 L793.3,262.2 L793.2,262.6 L793.2,262.7 L793.1,263.1 L793.1,263.2 L793.1,263.6 L793.1,263.7 L793.1,264.1 L793.2,264.2 L793.2,264.6 L793.2,264.7 L793.2,264.7 L793.3,264.8 L793.3,264.8 L793.3,265.1 L793.3,265.1 L793.3,265.2 L793.3,265.3 L793.4,265.5 L793.4,265.6 L793.4,265.6 L793.4,265.7 L793.4,265.9 L793.4,266.0 L793.4,266.1 L793.4,266.1 L793.4,266.4 L793.4,266.4 L793.4,266.5 L793.4,266.6 L793.4,266.8 L793.4,266.9 L793.4,266.9 L793.4,267.0 L793.4,267.2 L793.4,267.3 L793.4,267.4 L793.4,267.4 L793.3,267.7 L793.3,267.7 L793.3,267.8 L793.3,267.8 L793.3,268.1 L793.3,268.2 L793.2,268.2 L793.2,268.3 L793.2,268.5 L793.2,268.6 L793.2,268.6 L793.1,268.7 L793.1,268.9 L793.1,269.0 L793.0,269.1 L793.0,269.1 L792.9,269.3 L792.9,269.4 L792.9,269.5 L792.9,269.5 L792.8,269.7 L792.8,269.8 L792.7,269.9 L792.7,269.9 L792.6,270.1 L792.6,270.2 L792.6,270.3 L792.5,270.3 L792.4,270.5 L792.4,270.6 L792.4,270.6 L792.3,270.7 L792.2,270.9 L792.2,271.0 L792.2,271.0 L792.1,271.1 L792.0,271.3 L792.0,271.3 L791.9,271.4 L791.9,271.4 L791.7,271.6 L791.7,271.7 L791.7,271.7 L791.6,271.8 L791.5,272.0 L791.4,272.0 L791.4,272.1 L791.4,272.1 L791.2,272.3 L791.2,272.4 L791.1,272.4 L791.1,272.4 L790.9,272.6 L790.9,272.7 L790.8,272.7 L790.8,272.8 L790.6,272.9 L790.6,273.0 L790.5,273.0 L790.5,273.0 L790.3,273.2 L790.2,273.2 L790.2,273.3 L790.1,273.3 L789.9,273.5 L789.9,273.5 L789.8,273.6 L789.8,273.6 L789.6,273.7 L789.5,273.8 L789.5,273.8 L789.4,273.8 L789.2,274.0 L789.2,274.0 L789.1,274.0 L789.1,274.1 L788.9,274.2 L788.8,274.2 L788.7,274.2 L788.7,274.3 L788.5,274.4 L788.4,274.4 L788.4,274.4 L788.3,274.5 L788.1,274.6 L788.0,274.6 L788.0,274.6 L787.9,274.6 L787.7,274.7 L787.6,274.7 L787.6,274.8 L787.5,274.8 L787.3,274.9 L787.2,274.9 L787.2,274.9 L787.1,274.9 L786.9,275.0 L786.8,275.0 L786.7,275.0 L786.7,275.0 L786.4,275.1 L786.4,275.1 L786.3,275.1 L786.3,275.1 L786.0,275.2 L785.9,275.2 L785.9,275.2 L785.8,275.2 L785.6,275.2 L785.5,275.2 L785.5,275.2 L785.4,275.2 L785.1,275.3 L785.1,275.3 L785.0,275.3 L785.0,275.3 L784.7,275.3 L784.7,275.3 L784.6,275.3 L784.5,275.3 L784.3,275.3 L784.2,275.3 L784.2,275.3 L784.1,275.3 L783.9,275.2 L783.8,275.2 L783.7,275.2 L783.7,275.2 L783.4,275.2 L783.4,275.2 L783.3,275.2 L783.2,275.2 L783.0,275.1 L782.9,275.1 L782.9,275.1 L782.8,275.1 L782.6,275.0 L782.5,275.0 L782.5,275.0 L782.4,275.0 L782.2,274.9 L782.1,274.9 L782.0,274.9 L782.0,274.9 L781.7,274.8 L781.7,274.8 L781.6,274.7 L781.6,274.7 L781.3,274.6 L781.3,274.6 L781.2,274.6 L781.2,274.6 L780.9,274.5 L780.9,274.4 L780.8,274.4 L780.8,274.4 L780.6,274.3 L780.5,274.2 L780.5,274.2 L780.4,274.2 L780.2,274.1 L780.1,274.0 L780.1,274.0 L780.0,274.0 L779.8,273.8 L779.8,273.8 L779.7,273.8 L779.7,273.7 L779.5,273.7 L779.5,273.6 L779.2,273.4 L779.0,273.3 L778.7,273.2 L778.6,273.1 L778.2,273.0 L778.1,272.9 L777.8,272.9 L777.6,272.8 L777.3,272.8 L777.2,272.7 L776.8,272.7 L776.7,272.7 L776.3,272.7 L776.2,272.7 L775.8,272.8 L775.7,272.8 L775.3,272.9 L775.2,272.9 L774.8,273.1 L774.7,273.1 L774.4,273.3 L774.3,273.3 L773.9,273.5 L773.9,273.6Z" fill="none" stroke="#1e1e1e" stroke-width="2.1" stroke-linejoin="round"/>
<path d="M606.1,326.8 L606.0,326.9 L605.8,327.2 L605.8,327.3 L605.6,327.6 L605.5,327.7 L605.4,328.1 L605.4,328.2 L605.3,328.5 L605.2,328.7 L605.2,329.0 L605.2,329.1 L605.1,329.5 L605.1,329.6 L605.1,330.0 L605.1,330.1 L605.1,330.5 L605.2,330.6 L605.2,330.9 L605.3,331.0 L605.4,331.4 L605.4,331.5 L605.5,331.8 L605.6,331.9 L605.8,332.3 L605.8,332.4 L606.0,332.7 L606.1,332.8 L606.3,333.1 L606.4,333.1 L606.7,333.4 L606.7,333.5 L607.2,333.9 L607.2,334.0 L608.0,334.7 L608.0,334.7 L608.7,335.4 L608.7,335.4 L609.4,336.1 L609.5,336.1 L610.2,336.8 L610.2,336.8 L610.9,337.6 L610.9,337.6 L611.6,338.3 L611.6,338.3 L612.3,339.0 L612.3,339.1 L613.0,339.8 L613.0,339.8 L613.7,340.5 L613.7,340.6 L614.4,341.3 L614.4,341.3 L615.1,342.1 L615.1,342.1 L615.8,342.8 L615.8,342.9 L616.5,343.6 L616.5,343.6 L617.0,344.2 L617.0,344.2 L617.3,344.5 L617.4,344.6 L617.6,344.8 L617.7,344.9 L618.0,345.1 L618.1,345.2 L618.4,345.4 L618.5,345.4 L618.9,345.6 L619.0,345.6 L619.3,345.7 L619.4,345.8 L619.8,345.9 L619.9,345.9 L620.3,345.9 L620.4,345.9 L620.7,346.0 L620.9,346.0 L621.2,345.9 L621.3,345.9 L621.7,345.9 L621.8,345.9 L622.2,345.8 L622.3,345.7 L622.6,345.6 L622.7,345.6 L623.1,345.4 L623.2,345.4 L623.5,345.2 L623.6,345.1 L642.5,332.6 L642.6,332.6 L642.9,332.4 L643.0,332.3 L643.3,332.0 L643.4,331.9 L643.6,331.6 L643.7,331.6 L643.9,331.2 L644.0,331.1 L644.2,330.8 L644.2,330.7 L644.4,330.4 L644.4,330.2 L644.6,329.9 L644.6,329.8 L644.7,329.4 L644.7,329.3 L644.8,328.9 L644.8,328.8 L644.8,328.4 L644.8,328.3 L644.7,327.9 L644.7,327.8 L644.7,327.4 L644.6,327.3 L644.6,327.3 L644.6,327.2 L644.6,327.2 L644.6,326.9 L644.6,326.9 L644.6,326.8 L644.6,326.7 L644.5,326.5 L644.5,326.4 L644.5,326.4 L644.5,326.3 L644.5,326.1 L644.5,326.0 L644.5,325.9 L644.5,325.9 L644.5,325.6 L644.5,325.6 L644.5,325.5 L644.5,325.4 L644.5,325.2 L644.5,325.1 L644.5,325.1 L644.5,325.0 L644.5,324.8 L644.5,324.7 L644.5,324.6 L644.5,324.6 L644.6,324.3 L644.6,324.3 L644.6,324.2 L644.6,324.1 L644.6,323.9 L644.6,323.8 L644.6,323.8 L644.7,323.7 L644.7,323.5 L644.7,323.4 L644.7,323.4 L644.8,323.3 L644.8,323.1 L644.8,323.0 L644.9,322.9 L644.9,322.9 L645.0,322.7 L645.0,322.6 L645.0,322.5 L645.0,322.5 L645.1,322.3 L645.1,322.2 L645.2,322.1 L645.2,322.1 L645.3,321.9 L645.3,321.8 L645.3,321.7 L645.4,321.7 L645.5,321.5 L645.5,321.4 L645.5,321.4 L645.6,321.3 L645.7,321.1 L645.7,321.0 L645.7,321.0 L645.8,320.9 L645.9,320.7 L645.9,320.7 L646.0,320.6 L646.0,320.6 L646.1,320.4 L646.2,320.3 L646.2,320.3 L646.3,320.2 L646.4,320.0 L646.4,320.0 L646.5,319.9 L646.5,319.9 L646.7,319.7 L646.7,319.6 L646.8,319.6 L646.8,319.6 L647.0,319.4 L647.0,319.3 L647.1,319.3 L647.1,319.2 L647.3,319.1 L647.3,319.0 L647.4,319.0 L647.4,319.0 L647.6,318.8 L647.7,318.8 L647.7,318.7 L647.8,318.7 L648.0,318.5 L648.0,318.5 L648.1,318.4 L648.1,318.4 L648.3,318.3 L648.4,318.2 L648.4,318.2 L648.5,318.2 L648.7,318.0 L648.7,318.0 L648.8,318.0 L648.8,317.9 L649.0,317.8 L649.1,317.8 L649.1,317.8 L649.2,317.7 L649.4,317.6 L649.5,317.6 L649.5,317.6 L649.6,317.5 L649.8,317.4 L649.9,317.4 L649.9,317.4 L650.0,317.4 L650.2,317.3 L650.3,317.3 L650.3,317.2 L650.4,317.2 L650.6,317.1 L650.7,317.1 L650.7,317.1 L650.8,317.1 L651.0,317.0 L651.1,317.0 L651.2,317.0 L651.2,317.0 L651.5,316.9 L651.5,316.9 L651.6,316.9 L651.6,316.9 L651.9,316.8 L651.9,316.8 L652.0,316.8 L652.1,316.8 L652.3,316.8 L652.4,316.8 L652.4,316.8 L652.5,316.8 L652.7,316.7 L652.8,316.7 L652.9,316.7 L652.9,316.7 L653.2,316.7 L653.2,316.7 L653.3,316.7 L653.4,316.7 L653.6,316.7 L653.7,316.7 L653.7,316.7 L653.8,316.7 L654.0,316.8 L654.1,316.8 L654.2,316.8 L654.2,316.8 L654.5,316.8 L654.5,316.8 L654.6,316.8 L654.7,316.8 L654.9,316.9 L655.0,316.9 L655.0,316.9 L655.1,316.9 L655.3,317.0 L655.4,317.0 L655.4,317.0 L655.5,317.0 L655.7,317.1 L655.8,317.1 L655.9,317.1 L655.9,317.1 L656.1,317.2 L656.2,317.2 L656.3,317.3 L656.3,317.3 L656.6,317.4 L656.6,317.4 L656.7,317.4 L656.7,317.4 L656.9,317.5 L657.0,317.6 L657.1,317.6 L657.1,317.6 L657.3,317.7 L657.4,317.8 L657.4,317.8 L657.5,317.8 L657.7,317.9 L657.8,318.0 L657.8,318.0 L657.9,318.0 L658.1,318.2 L658.1,318.2 L658.2,318.2 L658.2,318.3 L658.3,318.3 L658.4,318.4 L658.7,318.6 L658.8,318.7 L659.2,318.8 L659.3,318.9 L659.6,319.0 L659.8,319.0 L660.1,319.1 L660.2,319.2 L660.6,319.2 L660.7,319.2 L661.1,319.3 L661.2,319.3 L661.6,319.3 L661.7,319.3 L662.1,319.2 L662.2,319.2 L662.6,319.1 L662.7,319.1 L663.1,318.9 L663.2,318.9 L663.5,318.7 L663.6,318.7 L664.0,318.5 L664.0,318.4 L669.7,314.7 L669.7,314.7 L670.0,314.5 L670.1,314.4 L670.4,314.1 L670.5,314.0 L670.7,313.8 L670.8,313.7 L671.0,313.4 L671.1,313.3 L671.3,313.0 L671.3,312.9 L671.5,312.5 L671.6,312.4 L671.7,312.1 L671.7,312.0 L671.8,311.6 L671.8,311.5 L671.9,311.1 L671.9,311.0 L671.9,310.7 L671.9,310.5 L671.9,310.2 L671.9,310.1 L671.9,309.7 L671.8,309.6 L671.8,309.2 L671.7,309.1 L671.6,308.8 L671.6,308.6 L671.4,308.3 L671.4,308.2 L671.2,307.9 L671.1,307.8 L670.9,307.5 L670.8,307.4 L670.4,306.9 L670.4,306.9 L669.2,305.3 L669.1,305.3 L667.9,303.7 L667.8,303.7 L666.5,302.2 L666.5,302.1 L665.2,300.6 L665.2,300.6 L663.9,299.1 L663.8,299.0 L662.5,297.5 L662.5,297.5 L661.1,296.0 L661.1,296.0 L659.7,294.5 L659.7,294.5 L658.3,293.1 L658.3,293.0 L656.9,291.6 L656.8,291.6 L655.4,290.1 L655.4,290.1 L654.0,288.7 L653.9,288.7 L652.5,287.3 L652.4,287.3 L651.0,285.9 L651.0,285.9 L649.5,284.5 L649.4,284.5 L648.0,283.1 L647.9,283.1 L646.4,281.8 L646.4,281.7 L645.9,281.3 L645.9,281.3 L645.5,281.0 L645.4,281.0 L645.1,280.8 L645.0,280.7 L644.7,280.5 L644.6,280.5 L644.3,280.4 L644.1,280.3 L643.8,280.2 L643.7,280.2 L643.3,280.1 L643.2,280.1 L642.8,280.1 L642.7,280.1 L642.3,280.1 L642.2,280.1 L641.9,280.1 L641.7,280.1 L641.4,280.2 L641.3,280.3 L640.9,280.4 L640.8,280.4 L640.5,280.6 L640.4,280.6 L640.0,280.8 L639.9,280.8 L639.6,281.1 L639.5,281.1 L639.3,281.4 L639.2,281.4 L638.9,281.7 L638.8,281.8 L638.6,282.1 L638.5,282.2 L634.6,287.6 L634.5,287.7 L634.3,288.0 L634.3,288.1 L634.1,288.4 L634.0,288.6 L633.9,288.9 L633.9,289.0 L633.8,289.4 L633.7,289.5 L633.7,289.9 L633.6,290.0 L633.6,290.4 L633.6,290.5 L633.6,290.9 L633.6,291.0 L633.7,291.3 L633.7,291.5 L633.8,291.8 L633.8,292.0 L633.9,292.3 L634.0,292.4 L634.1,292.8 L634.2,292.9 L634.4,293.2 L634.4,293.3 L634.5,293.4 L634.5,293.5 L634.6,293.5 L634.6,293.6 L634.7,293.8 L634.7,293.9 L634.8,293.9 L634.8,294.0 L634.9,294.2 L634.9,294.3 L635.0,294.3 L635.0,294.4 L635.1,294.6 L635.1,294.6 L635.1,294.7 L635.2,294.8 L635.3,295.0 L635.3,295.0 L635.3,295.1 L635.3,295.2 L635.4,295.4 L635.4,295.5 L635.4,295.5 L635.4,295.6 L635.5,295.8 L635.5,295.9 L635.5,295.9 L635.6,296.0 L635.6,296.2 L635.6,296.3 L635.6,296.4 L635.6,296.4 L635.7,296.7 L635.7,296.7 L635.7,296.8 L635.7,296.8 L635.7,297.1 L635.8,297.1 L635.8,297.2 L635.8,297.3 L635.8,297.5 L635.8,297.6 L635.8,297.6 L635.8,297.7 L635.8,297.9 L635.8,298.0 L635.8,298.1 L635.8,298.1 L635.8,298.4 L635.8,298.4 L635.8,298.5 L635.8,298.6 L635.8,298.8 L635.8,298.9 L635.8,298.9 L635.7,299.0 L635.7,299.2 L635.7,299.3 L635.7,299.4 L635.7,299.4 L635.6,299.7 L635.6,299.7 L635.6,299.8 L635.6,299.8 L635.6,300.1 L635.5,300.1 L635.5,300.2 L635.5,300.3 L635.4,300.5 L635.4,300.6 L635.4,300.6 L635.4,300.7 L635.3,300.9 L635.3,301.0 L635.3,301.0 L635.3,301.1 L635.2,301.3 L635.1,301.4 L635.1,301.4 L635.1,301.5 L635.0,301.7 L635.0,301.8 L634.9,301.8 L634.9,301.9 L634.8,302.1 L634.8,302.2 L634.7,302.2 L634.7,302.3 L634.6,302.5 L634.6,302.5 L634.5,302.6 L634.5,302.6 L634.4,302.9 L634.3,302.9 L634.3,303.0 L634.3,303.0 L634.1,303.2 L634.1,303.3 L634.0,303.3 L634.0,303.4 L633.9,303.6 L633.8,303.6 L633.8,303.6 L633.7,303.7 L633.6,303.9 L633.5,303.9 L633.5,304.0 L633.5,304.0 L633.3,304.2 L633.2,304.2 L633.2,304.3 L633.2,304.3 L633.0,304.5 L632.9,304.5 L632.9,304.6 L632.8,304.6 L632.7,304.8 L632.6,304.8 L632.6,304.9 L632.5,304.9 L632.3,305.1 L632.3,305.1 L632.2,305.1 L632.2,305.2 L632.0,305.3 L631.9,305.3 L631.9,305.4 L631.8,305.4 L631.6,305.5 L631.5,305.6 L631.5,305.6 L631.4,305.6 L631.2,305.8 L631.2,305.8 L631.1,305.8 L631.1,305.8 L630.8,306.0 L630.8,306.0 L630.7,306.0 L630.7,306.0 L630.5,306.1 L630.4,306.2 L630.3,306.2 L630.3,306.2 L630.0,306.3 L630.0,306.3 L629.9,306.3 L629.9,306.4 L629.6,306.4 L629.6,306.5 L629.5,306.5 L629.5,306.5 L629.2,306.6 L629.2,306.6 L629.1,306.6 L629.0,306.6 L628.8,306.7 L628.7,306.7 L628.7,306.7 L628.6,306.7 L628.4,306.7 L628.3,306.7 L628.3,306.7 L628.2,306.8 L628.0,306.8 L627.9,306.8 L627.8,306.8 L627.8,306.8 L627.5,306.8 L627.5,306.8 L627.4,306.8 L627.3,306.8 L627.1,306.8 L627.0,306.8 L627.0,306.8 L626.9,306.8 L626.7,306.8 L626.6,306.8 L626.5,306.8 L626.5,306.8 L626.2,306.8 L626.2,306.8 L626.1,306.8 L626.0,306.8 L625.8,306.8 L625.7,306.7 L625.7,306.7 L625.6,306.7 L625.4,306.7 L625.3,306.7 L625.3,306.7 L625.2,306.7 L624.9,306.6 L624.9,306.6 L624.8,306.6 L624.7,306.5 L624.4,306.5 L624.3,306.4 L623.9,306.4 L623.8,306.4 L623.4,306.4 L623.3,306.4 L622.9,306.4 L622.8,306.4 L622.4,306.5 L622.3,306.5 L621.9,306.6 L621.8,306.7 L621.4,306.8 L621.3,306.9 L621.0,307.1 L620.9,307.1 L620.6,307.3 L620.5,307.4 L620.2,307.7 L620.1,307.7 L619.8,308.0 L619.7,308.1 L619.5,308.4 L619.4,308.5Z" fill="none" stroke="#1e1e1e" stroke-width="2.1" stroke-linejoin="round"/>
<path d="M653.3,261.8 L653.3,261.9 L653.1,262.2 L653.0,262.3 L652.8,262.6 L652.8,262.7 L652.6,263.1 L652.6,263.2 L652.5,263.6 L652.5,263.7 L652.4,264.1 L652.4,264.2 L652.4,264.5 L652.4,264.7 L652.4,265.0 L652.4,265.2 L652.4,265.5 L652.4,265.7 L652.5,266.0 L652.5,266.1 L652.7,266.5 L652.7,266.6 L652.9,267.0 L652.9,267.1 L653.1,267.4 L653.2,267.5 L653.4,267.8 L653.4,267.9 L653.7,268.2 L653.8,268.3 L654.1,268.5 L654.1,268.6 L655.8,270.0 L655.8,270.0 L655.8,270.0 L655.8,270.0 L657.5,271.5 L657.5,271.5 L657.5,271.5 L657.5,271.5 L659.2,273.0 L659.2,273.1 L659.2,273.1 L659.2,273.1 L660.9,274.6 L660.9,274.6 L660.9,274.6 L660.9,274.6 L662.5,276.2 L662.5,276.2 L662.6,276.2 L662.6,276.2 L664.2,277.7 L664.2,277.7 L664.2,277.8 L664.2,277.8 L665.8,279.3 L665.8,279.3 L665.8,279.3 L665.8,279.4 L667.4,280.9 L667.4,281.0 L667.4,281.0 L667.5,281.0 L669.0,282.6 L669.0,282.6 L669.0,282.6 L669.0,282.6 L670.6,284.2 L670.6,284.2 L670.6,284.2 L670.6,284.3 L672.2,285.9 L672.2,285.9 L672.2,285.9 L672.2,285.9 L673.7,287.6 L673.7,287.6 L673.7,287.6 L673.7,287.6 L675.2,289.3 L675.2,289.3 L675.2,289.3 L675.2,289.3 L676.7,291.0 L676.7,291.0 L676.7,291.0 L676.7,291.0 L678.2,292.7 L678.2,292.7 L678.2,292.7 L678.2,292.8 L679.7,294.5 L679.7,294.5 L679.7,294.5 L679.7,294.5 L681.1,296.2 L681.1,296.3 L681.1,296.3 L681.1,296.3 L682.5,298.0 L682.6,298.0 L682.6,298.0 L682.6,298.1 L683.9,299.8 L684.0,299.8 L684.2,300.1 L684.3,300.2 L684.6,300.5 L684.7,300.6 L685.0,300.8 L685.1,300.9 L685.4,301.1 L685.5,301.1 L685.8,301.3 L685.9,301.3 L686.3,301.5 L686.4,301.5 L686.8,301.6 L686.9,301.6 L687.3,301.7 L687.4,301.7 L687.8,301.7 L687.9,301.7 L688.3,301.7 L688.4,301.7 L688.7,301.6 L688.9,301.6 L689.2,301.5 L689.3,301.5 L689.7,301.4 L689.8,301.3 L690.1,301.2 L690.3,301.1 L690.6,300.9 L690.7,300.9 L702.7,292.9 L702.8,292.9 L703.1,292.7 L703.2,292.6 L703.5,292.3 L703.6,292.2 L703.8,292.0 L703.9,291.9 L704.1,291.5 L704.2,291.4 L704.4,291.1 L704.4,291.0 L704.6,290.7 L704.6,290.5 L704.8,290.2 L704.8,290.1 L704.9,289.7 L704.9,289.6 L705.0,289.2 L705.0,289.1 L705.0,288.7 L705.0,288.6 L705.0,288.2 L704.9,288.1 L704.9,287.7 L704.9,287.6 L704.9,287.6 L704.8,287.5 L704.8,287.5 L704.8,287.2 L704.8,287.2 L704.8,287.1 L704.8,287.0 L704.7,286.8 L704.7,286.7 L704.7,286.7 L704.7,286.6 L704.7,286.4 L704.7,286.3 L704.7,286.2 L704.7,286.2 L704.7,285.9 L704.7,285.9 L704.7,285.8 L704.7,285.7 L704.7,285.5 L704.7,285.4 L704.7,285.4 L704.7,285.3 L704.7,285.1 L704.7,285.0 L704.7,284.9 L704.7,284.9 L704.8,284.6 L704.8,284.6 L704.8,284.5 L704.8,284.5 L704.8,284.2 L704.8,284.1 L704.9,284.1 L704.9,284.0 L704.9,283.8 L704.9,283.7 L704.9,283.7 L705.0,283.6 L705.0,283.4 L705.0,283.3 L705.1,283.3 L705.1,283.2 L705.2,283.0 L705.2,282.9 L705.2,282.8 L705.2,282.8 L705.3,282.6 L705.3,282.5 L705.4,282.4 L705.4,282.4 L705.5,282.2 L705.5,282.1 L705.5,282.0 L705.6,282.0 L705.7,281.8 L705.7,281.7 L705.7,281.7 L705.8,281.6 L705.9,281.4 L705.9,281.3 L705.9,281.3 L706.0,281.2 L706.1,281.0 L706.1,281.0 L706.2,280.9 L706.2,280.9 L706.4,280.7 L706.4,280.6 L706.4,280.6 L706.5,280.5 L706.6,280.3 L706.7,280.3 L706.7,280.2 L706.7,280.2 L706.9,280.0 L706.9,279.9 L707.0,279.9 L707.0,279.9 L707.2,279.7 L707.2,279.6 L707.3,279.6 L707.3,279.5 L707.5,279.4 L707.5,279.3 L707.6,279.3 L707.6,279.3 L707.8,279.1 L707.9,279.1 L707.9,279.0 L708.0,279.0 L708.2,278.8 L708.2,278.8 L708.3,278.7 L708.3,278.7 L708.5,278.6 L708.6,278.5 L708.6,278.5 L708.7,278.5 L708.9,278.3 L708.9,278.3 L709.0,278.3 L709.0,278.2 L709.2,278.1 L709.3,278.1 L709.4,278.1 L709.4,278.0 L709.6,277.9 L709.7,277.9 L709.7,277.9 L709.8,277.8 L710.0,277.7 L710.1,277.7 L710.1,277.7 L710.2,277.7 L710.4,277.6 L710.5,277.6 L710.5,277.5 L710.6,277.5 L710.8,277.4 L710.9,277.4 L710.9,277.4 L711.0,277.4 L711.2,277.3 L711.3,277.3 L711.4,277.3 L711.4,277.3 L711.7,277.2 L711.7,277.2 L711.8,277.2 L711.8,277.2 L712.1,277.1 L712.2,277.1 L712.2,277.1 L712.3,277.1 L712.5,277.1 L712.6,277.1 L712.6,277.1 L712.7,277.1 L713.0,277.1 L713.0,277.0 L713.1,277.0 L713.1,277.0 L713.4,277.0 L713.4,277.0 L713.5,277.0 L713.6,277.0 L713.8,277.0 L713.9,277.0 L713.9,277.0 L714.0,277.1 L714.2,277.1 L714.3,277.1 L714.4,277.1 L714.4,277.1 L714.7,277.1 L714.7,277.1 L714.8,277.1 L714.9,277.1 L715.1,277.2 L715.2,277.2 L715.2,277.2 L715.3,277.2 L715.5,277.3 L715.6,277.3 L715.6,277.3 L715.7,277.3 L715.9,277.4 L716.0,277.4 L716.1,277.4 L716.1,277.4 L716.4,277.5 L716.4,277.5 L716.5,277.6 L716.5,277.6 L716.8,277.7 L716.8,277.7 L716.9,277.7 L716.9,277.7 L717.2,277.8 L717.2,277.9 L717.3,277.9 L717.3,277.9 L717.5,278.0 L717.6,278.1 L717.6,278.1 L717.7,278.1 L717.9,278.2 L718.0,278.3 L718.0,278.3 L718.1,278.3 L718.3,278.5 L718.3,278.5 L718.4,278.5 L718.4,278.6 L718.6,278.7 L718.6,278.7 L718.9,278.9 L719.1,279.0 L719.4,279.1 L719.5,279.2 L719.9,279.3 L720.0,279.4 L720.3,279.4 L720.5,279.5 L720.8,279.5 L720.9,279.6 L721.3,279.6 L721.4,279.6 L721.8,279.6 L721.9,279.6 L722.3,279.5 L722.4,279.5 L722.8,279.4 L722.9,279.4 L723.3,279.2 L723.4,279.2 L723.7,279.0 L723.8,279.0 L724.2,278.8 L724.2,278.7 L730.8,274.4 L730.8,274.4 L731.1,274.2 L731.2,274.1 L731.5,273.8 L731.6,273.8 L731.8,273.5 L731.9,273.4 L732.1,273.1 L732.2,273.0 L732.4,272.7 L732.4,272.6 L732.6,272.3 L732.6,272.2 L732.8,271.8 L732.8,271.7 L732.9,271.4 L732.9,271.3 L733.0,270.9 L733.0,270.8 L733.0,270.4 L733.0,270.3 L733.0,270.0 L733.0,269.8 L733.0,269.5 L733.0,269.4 L732.9,269.0 L732.9,268.9 L732.8,268.6 L732.7,268.4 L732.6,268.1 L732.5,268.0 L732.3,267.7 L732.3,267.6 L732.1,267.3 L732.0,267.2 L731.4,266.4 L731.4,266.4 L729.5,263.9 L729.4,263.8 L727.5,261.4 L727.5,261.3 L725.5,258.9 L725.5,258.9 L723.5,256.4 L723.4,256.4 L721.4,254.0 L721.4,254.0 L719.3,251.6 L719.3,251.6 L717.2,249.2 L717.2,249.2 L715.1,246.9 L715.0,246.8 L712.9,244.5 L712.8,244.5 L710.7,242.2 L710.6,242.2 L708.4,239.9 L708.4,239.9 L706.2,237.7 L706.1,237.6 L703.9,235.5 L703.9,235.4 L701.6,233.3 L701.6,233.2 L699.3,231.1 L699.2,231.1 L696.9,229.0 L696.9,228.9 L694.5,226.8 L694.5,226.8 L692.1,224.7 L692.1,224.7 L689.7,222.7 L689.6,222.7 L688.8,222.0 L688.8,222.0 L688.5,221.7 L688.4,221.7 L688.1,221.5 L688.0,221.4 L687.6,221.3 L687.5,221.2 L687.2,221.1 L687.1,221.1 L686.7,221.0 L686.6,220.9 L686.3,220.9 L686.1,220.9 L685.8,220.9 L685.7,220.9 L685.3,220.9 L685.2,220.9 L684.8,220.9 L684.7,220.9 L684.4,221.0 L684.2,221.1 L683.9,221.2 L683.8,221.2 L683.5,221.4 L683.3,221.4 L683.0,221.6 L682.9,221.6 L682.6,221.8 L682.5,221.9 L682.3,222.2 L682.2,222.2 L681.9,222.5 L681.8,222.6 L681.6,222.9 L681.6,222.9 L677.0,229.3 L676.9,229.3 L676.7,229.7 L676.6,229.8 L676.5,230.1 L676.4,230.2 L676.3,230.6 L676.2,230.7 L676.1,231.0 L676.1,231.2 L676.0,231.5 L676.0,231.6 L676.0,232.0 L676.0,232.1 L676.0,232.5 L676.0,232.6 L676.1,233.0 L676.1,233.1 L676.2,233.5 L676.2,233.6 L676.3,234.0 L676.3,234.1 L676.5,234.4 L676.6,234.5 L676.8,234.9 L676.8,234.9 L676.9,235.1 L676.9,235.1 L676.9,235.2 L677.0,235.3 L677.1,235.5 L677.1,235.5 L677.2,235.6 L677.2,235.6 L677.3,235.9 L677.3,235.9 L677.4,236.0 L677.4,236.0 L677.5,236.2 L677.5,236.3 L677.5,236.4 L677.6,236.4 L677.6,236.6 L677.7,236.7 L677.7,236.8 L677.7,236.8 L677.8,237.1 L677.8,237.1 L677.8,237.2 L677.8,237.2 L677.9,237.5 L677.9,237.5 L677.9,237.6 L677.9,237.7 L678.0,237.9 L678.0,238.0 L678.0,238.0 L678.0,238.1 L678.1,238.3 L678.1,238.4 L678.1,238.4 L678.1,238.5 L678.1,238.7 L678.1,238.8 L678.1,238.9 L678.2,238.9 L678.2,239.2 L678.2,239.2 L678.2,239.3 L678.2,239.4 L678.2,239.6 L678.2,239.7 L678.2,239.7 L678.2,239.8 L678.2,240.0 L678.2,240.1 L678.2,240.2 L678.2,240.2 L678.2,240.5 L678.1,240.5 L678.1,240.6 L678.1,240.7 L678.1,240.9 L678.1,241.0 L678.1,241.0 L678.1,241.1 L678.0,241.3 L678.0,241.4 L678.0,241.4 L678.0,241.5 L677.9,241.7 L677.9,241.8 L677.9,241.9 L677.9,241.9 L677.8,242.2 L677.8,242.2 L677.8,242.3 L677.8,242.3 L677.7,242.6 L677.7,242.6 L677.7,242.7 L677.6,242.7 L677.6,243.0 L677.5,243.0 L677.5,243.1 L677.5,243.2 L677.4,243.4 L677.4,243.4 L677.3,243.5 L677.3,243.5 L677.2,243.8 L677.2,243.8 L677.1,243.9 L677.1,243.9 L677.0,244.1 L676.9,244.2 L676.9,244.2 L676.9,244.3 L676.8,244.5 L676.7,244.6 L676.7,244.6 L676.7,244.7 L676.5,244.9 L676.5,244.9 L676.4,245.0 L676.4,245.0 L676.2,245.2 L676.2,245.3 L676.2,245.3 L676.1,245.4 L676.0,245.5 L675.9,245.6 L675.9,245.6 L675.8,245.7 L675.7,245.9 L675.6,245.9 L675.6,245.9 L675.5,246.0 L675.4,246.2 L675.3,246.2 L675.3,246.2 L675.2,246.3 L675.0,246.4 L675.0,246.5 L674.9,246.5 L674.9,246.6 L674.7,246.7 L674.7,246.7 L674.6,246.8 L674.6,246.8 L674.4,247.0 L674.3,247.0 L674.2,247.0 L674.2,247.1 L674.0,247.2 L673.9,247.2 L673.9,247.3 L673.8,247.3 L673.6,247.4 L673.6,247.4 L673.5,247.5 L673.5,247.5 L673.2,247.6 L673.2,247.6 L673.1,247.7 L673.1,247.7 L672.8,247.8 L672.8,247.8 L672.7,247.8 L672.7,247.9 L672.4,248.0 L672.4,248.0 L672.3,248.0 L672.3,248.0 L672.0,248.1 L672.0,248.1 L671.9,248.1 L671.9,248.1 L671.6,248.2 L671.6,248.2 L671.5,248.2 L671.4,248.3 L671.2,248.3 L671.1,248.3 L671.1,248.3 L671.0,248.3 L670.8,248.4 L670.7,248.4 L670.6,248.4 L670.6,248.4 L670.3,248.4 L670.3,248.5 L670.2,248.5 L670.2,248.5 L669.9,248.5 L669.8,248.5 L669.8,248.5 L669.7,248.5 L669.5,248.5 L669.4,248.5 L669.4,248.5 L669.3,248.5 L669.0,248.5 L669.0,248.5 L668.9,248.5 L668.9,248.5 L668.6,248.5 L668.6,248.5 L668.5,248.5 L668.4,248.4 L668.2,248.4 L668.1,248.4 L668.1,248.4 L668.0,248.4 L667.8,248.3 L667.7,248.3 L667.6,248.3 L667.6,248.3 L667.3,248.3 L667.3,248.2 L667.1,248.2 L667.1,248.2 L666.8,248.1 L666.7,248.1 L666.3,248.1 L666.1,248.1 L665.8,248.0 L665.6,248.1 L665.3,248.1 L665.1,248.1 L664.8,248.2 L664.6,248.2 L664.3,248.3 L664.2,248.3 L663.8,248.5 L663.7,248.5 L663.4,248.7 L663.3,248.8 L662.9,249.0 L662.8,249.1 L662.5,249.3 L662.5,249.4 L662.2,249.7 L662.1,249.8 L661.8,250.1 L661.8,250.1Z" fill="none" stroke="#1e1e1e" stroke-width="2.1" stroke-linejoin="round"/>
<path d="M696.9,201.8 L696.9,201.9 L696.7,202.2 L696.6,202.3 L696.4,202.7 L696.4,202.8 L696.2,203.1 L696.2,203.2 L696.1,203.6 L696.1,203.7 L696.0,204.1 L696.0,204.2 L695.9,204.6 L695.9,204.7 L696.0,205.1 L696.0,205.2 L696.0,205.6 L696.0,205.7 L696.1,206.1 L696.2,206.2 L696.3,206.6 L696.3,206.7 L696.5,207.0 L696.5,207.1 L696.7,207.5 L696.8,207.6 L697.0,207.9 L697.1,208.0 L697.4,208.3 L697.4,208.3 L697.7,208.6 L697.8,208.7 L699.4,210.0 L699.4,210.0 L699.4,210.0 L699.5,210.0 L702.1,212.2 L702.1,212.2 L702.1,212.2 L702.1,212.2 L704.7,214.5 L704.7,214.5 L704.7,214.5 L704.7,214.5 L707.2,216.7 L707.3,216.7 L707.3,216.8 L707.3,216.8 L709.8,219.0 L709.8,219.1 L709.8,219.1 L709.8,219.1 L712.3,221.4 L712.3,221.4 L712.3,221.4 L712.3,221.4 L714.8,223.7 L714.8,223.8 L714.8,223.8 L714.8,223.8 L717.3,226.1 L717.3,226.2 L717.3,226.2 L717.3,226.2 L719.7,228.6 L719.7,228.6 L719.7,228.6 L719.7,228.6 L722.1,231.0 L722.1,231.0 L722.1,231.1 L722.1,231.1 L724.5,233.5 L724.5,233.5 L724.5,233.5 L724.5,233.6 L726.8,236.0 L726.8,236.0 L726.9,236.1 L726.9,236.1 L729.2,238.6 L729.2,238.6 L729.2,238.6 L729.2,238.6 L731.4,241.1 L731.4,241.2 L731.5,241.2 L731.5,241.2 L733.7,243.7 L733.7,243.8 L733.7,243.8 L733.7,243.8 L735.9,246.4 L735.9,246.4 L735.9,246.4 L735.9,246.4 L738.1,249.0 L738.1,249.0 L738.1,249.0 L738.1,249.1 L740.3,251.7 L740.3,251.7 L740.3,251.7 L740.3,251.7 L742.4,254.4 L742.4,254.4 L742.4,254.4 L742.4,254.4 L744.5,257.1 L744.5,257.1 L744.5,257.2 L744.5,257.2 L745.8,258.9 L745.8,258.9 L746.1,259.2 L746.2,259.3 L746.4,259.6 L746.5,259.7 L746.8,259.9 L746.9,260.0 L747.2,260.2 L747.3,260.3 L747.7,260.4 L747.8,260.5 L748.1,260.6 L748.3,260.7 L748.6,260.8 L748.7,260.8 L749.1,260.8 L749.2,260.9 L749.6,260.9 L749.7,260.9 L750.1,260.9 L750.2,260.9 L750.6,260.8 L750.7,260.8 L751.1,260.7 L751.2,260.7 L751.6,260.6 L751.7,260.5 L752.1,260.4 L752.2,260.3 L752.5,260.1 L752.6,260.1 L761.2,254.4 L761.3,254.3 L761.6,254.1 L761.7,254.0 L762.0,253.8 L762.1,253.7 L762.3,253.4 L762.4,253.3 L762.6,253.0 L762.7,252.9 L762.9,252.6 L762.9,252.4 L763.1,252.1 L763.1,252.0 L763.3,251.6 L763.3,251.5 L763.4,251.1 L763.4,251.0 L763.5,250.6 L763.5,250.5 L763.5,250.1 L763.5,250.0 L763.4,249.6 L763.4,249.5 L763.4,249.1 L763.3,249.0 L763.3,249.0 L763.3,249.0 L763.3,248.9 L763.3,248.6 L763.3,248.6 L763.3,248.5 L763.2,248.5 L763.2,248.2 L763.2,248.2 L763.2,248.1 L763.2,248.0 L763.2,247.8 L763.2,247.7 L763.2,247.7 L763.2,247.6 L763.2,247.4 L763.2,247.3 L763.2,247.2 L763.2,247.2 L763.2,246.9 L763.2,246.9 L763.2,246.8 L763.2,246.7 L763.2,246.5 L763.2,246.4 L763.2,246.4 L763.2,246.3 L763.2,246.1 L763.3,246.0 L763.3,245.9 L763.3,245.9 L763.3,245.6 L763.3,245.6 L763.3,245.5 L763.4,245.5 L763.4,245.2 L763.4,245.2 L763.4,245.1 L763.5,245.0 L763.5,244.8 L763.5,244.7 L763.6,244.7 L763.6,244.6 L763.7,244.4 L763.7,244.3 L763.7,244.3 L763.7,244.2 L763.8,244.0 L763.8,243.9 L763.8,243.9 L763.9,243.8 L764.0,243.6 L764.0,243.5 L764.0,243.5 L764.1,243.4 L764.2,243.2 L764.2,243.1 L764.2,243.1 L764.2,243.0 L764.4,242.8 L764.4,242.8 L764.4,242.7 L764.5,242.7 L764.6,242.5 L764.6,242.4 L764.7,242.4 L764.7,242.3 L764.8,242.1 L764.9,242.0 L764.9,242.0 L765.0,242.0 L765.1,241.8 L765.1,241.7 L765.2,241.7 L765.2,241.6 L765.4,241.4 L765.4,241.4 L765.5,241.3 L765.5,241.3 L765.7,241.1 L765.7,241.1 L765.8,241.0 L765.8,241.0 L766.0,240.8 L766.0,240.8 L766.1,240.7 L766.1,240.7 L766.3,240.5 L766.4,240.5 L766.4,240.4 L766.5,240.4 L766.7,240.3 L766.7,240.2 L766.7,240.2 L766.8,240.1 L767.0,240.0 L767.1,240.0 L767.1,239.9 L767.2,239.9 L767.4,239.8 L767.4,239.7 L767.5,239.7 L767.5,239.7 L767.7,239.6 L767.8,239.5 L767.8,239.5 L767.9,239.5 L768.1,239.4 L768.2,239.3 L768.2,239.3 L768.3,239.3 L768.5,239.2 L768.6,239.1 L768.6,239.1 L768.7,239.1 L768.9,239.0 L769.0,239.0 L769.0,239.0 L769.1,239.0 L769.3,238.9 L769.4,238.9 L769.4,238.8 L769.5,238.8 L769.7,238.8 L769.8,238.7 L769.9,238.7 L769.9,238.7 L770.2,238.7 L770.2,238.6 L770.3,238.6 L770.3,238.6 L770.6,238.6 L770.6,238.6 L770.7,238.6 L770.8,238.5 L771.0,238.5 L771.1,238.5 L771.1,238.5 L771.2,238.5 L771.4,238.5 L771.5,238.5 L771.6,238.5 L771.6,238.5 L771.9,238.5 L771.9,238.5 L772.0,238.5 L772.1,238.5 L772.3,238.5 L772.4,238.5 L772.4,238.5 L772.5,238.5 L772.7,238.5 L772.8,238.5 L772.9,238.5 L772.9,238.5 L773.2,238.5 L773.2,238.6 L773.3,238.6 L773.3,238.6 L773.6,238.6 L773.7,238.6 L773.7,238.6 L773.8,238.7 L774.0,238.7 L774.1,238.7 L774.1,238.7 L774.2,238.8 L774.4,238.8 L774.5,238.8 L774.5,238.9 L774.6,238.9 L774.8,239.0 L774.9,239.0 L775.0,239.0 L775.0,239.0 L775.2,239.1 L775.3,239.1 L775.4,239.1 L775.4,239.2 L775.6,239.3 L775.7,239.3 L775.8,239.3 L775.8,239.4 L776.0,239.5 L776.1,239.5 L776.1,239.5 L776.2,239.6 L776.4,239.7 L776.5,239.7 L776.5,239.7 L776.6,239.8 L776.8,239.9 L776.8,239.9 L776.9,240.0 L776.9,240.0 L777.0,240.1 L777.1,240.1 L777.4,240.3 L777.5,240.4 L777.9,240.6 L778.0,240.6 L778.3,240.7 L778.5,240.8 L778.8,240.9 L778.9,240.9 L779.3,241.0 L779.4,241.0 L779.8,241.0 L779.9,241.0 L780.3,241.0 L780.4,241.0 L780.8,240.9 L780.9,240.9 L781.3,240.8 L781.4,240.8 L781.8,240.7 L781.9,240.6 L782.2,240.5 L782.3,240.4 L782.7,240.2 L782.7,240.2 L791.0,234.7 L791.0,234.7 L791.3,234.5 L791.4,234.4 L791.7,234.2 L791.8,234.1 L792.0,233.8 L792.1,233.7 L792.3,233.4 L792.4,233.3 L792.6,233.0 L792.6,232.9 L792.8,232.6 L792.8,232.5 L793.0,232.2 L793.0,232.1 L793.1,231.7 L793.1,231.6 L793.2,231.2 L793.2,231.1 L793.2,230.8 L793.2,230.6 L793.2,230.3 L793.2,230.2 L793.2,229.8 L793.2,229.7 L793.1,229.3 L793.1,229.2 L793.0,228.9 L792.9,228.8 L792.8,228.4 L792.7,228.3 L792.6,228.0 L792.5,227.9 L792.3,227.6 L792.3,227.5 L790.3,224.9 L790.3,224.8 L787.7,221.5 L787.7,221.4 L785.0,218.1 L785.0,218.0 L782.4,214.7 L782.3,214.6 L779.6,211.3 L779.6,211.3 L776.8,208.0 L776.8,208.0 L774.0,204.8 L774.0,204.7 L771.2,201.5 L771.1,201.5 L768.3,198.4 L768.2,198.3 L765.3,195.2 L765.3,195.1 L762.3,192.1 L762.3,192.0 L759.3,189.0 L759.3,188.9 L756.3,185.9 L756.2,185.9 L753.2,182.9 L753.1,182.9 L750.0,180.0 L750.0,179.9 L746.9,177.1 L746.8,177.0 L743.6,174.2 L743.6,174.1 L740.4,171.3 L740.4,171.3 L737.1,168.5 L737.1,168.5 L733.8,165.8 L733.8,165.7 L731.2,163.6 L731.1,163.6 L730.8,163.4 L730.7,163.3 L730.4,163.1 L730.3,163.1 L730.0,162.9 L729.9,162.9 L729.5,162.8 L729.4,162.7 L729.1,162.6 L729.0,162.6 L728.6,162.5 L728.5,162.5 L728.1,162.5 L728.0,162.5 L727.7,162.5 L727.5,162.5 L727.2,162.6 L727.1,162.6 L726.7,162.7 L726.6,162.7 L726.3,162.8 L726.2,162.9 L725.8,163.0 L725.7,163.1 L725.4,163.2 L725.3,163.3 L725.0,163.5 L724.9,163.6 L724.6,163.8 L724.6,163.9 L724.3,164.2 L724.2,164.2 L724.0,164.5 L724.0,164.6 L718.1,172.6 L718.1,172.6 L717.9,173.0 L717.8,173.1 L717.7,173.4 L717.6,173.5 L717.5,173.9 L717.4,174.0 L717.3,174.3 L717.3,174.5 L717.2,174.8 L717.2,175.0 L717.2,175.3 L717.2,175.5 L717.2,175.8 L717.2,176.0 L717.2,176.3 L717.3,176.4 L717.3,176.8 L717.4,176.9 L717.5,177.3 L717.5,177.4 L717.7,177.7 L717.7,177.8 L717.9,178.2 L718.0,178.3 L718.1,178.4 L718.1,178.5 L718.1,178.5 L718.2,178.6 L718.3,178.8 L718.3,178.8 L718.3,178.9 L718.4,179.0 L718.5,179.2 L718.5,179.2 L718.5,179.3 L718.6,179.3 L718.7,179.6 L718.7,179.6 L718.7,179.7 L718.7,179.7 L718.8,180.0 L718.8,180.0 L718.9,180.1 L718.9,180.1 L719.0,180.4 L719.0,180.4 L719.0,180.5 L719.0,180.6 L719.1,180.8 L719.1,180.9 L719.1,180.9 L719.1,181.0 L719.2,181.2 L719.2,181.3 L719.2,181.3 L719.2,181.4 L719.3,181.6 L719.3,181.7 L719.3,181.8 L719.3,181.8 L719.3,182.1 L719.3,182.1 L719.3,182.2 L719.3,182.2 L719.4,182.5 L719.4,182.6 L719.4,182.6 L719.4,182.7 L719.4,182.9 L719.4,183.0 L719.4,183.0 L719.4,183.1 L719.4,183.4 L719.4,183.4 L719.4,183.5 L719.4,183.5 L719.3,183.8 L719.3,183.8 L719.3,183.9 L719.3,184.0 L719.3,184.2 L719.3,184.3 L719.3,184.3 L719.3,184.4 L719.2,184.6 L719.2,184.7 L719.2,184.8 L719.2,184.8 L719.1,185.1 L719.1,185.1 L719.1,185.2 L719.1,185.2 L719.0,185.5 L719.0,185.5 L719.0,185.6 L719.0,185.7 L718.9,185.9 L718.9,186.0 L718.8,186.0 L718.8,186.1 L718.7,186.3 L718.7,186.4 L718.7,186.4 L718.7,186.5 L718.6,186.7 L718.5,186.8 L718.5,186.8 L718.5,186.9 L718.4,187.1 L718.3,187.1 L718.3,187.2 L718.3,187.2 L718.2,187.5 L718.1,187.5 L718.1,187.6 L718.1,187.6 L717.9,187.8 L717.9,187.9 L717.9,187.9 L717.8,188.0 L717.7,188.2 L717.7,188.2 L717.6,188.3 L717.6,188.3 L717.4,188.5 L717.4,188.6 L717.3,188.6 L717.3,188.7 L717.1,188.9 L717.1,188.9 L717.1,188.9 L717.0,189.0 L716.9,189.2 L716.8,189.2 L716.8,189.3 L716.7,189.3 L716.5,189.5 L716.5,189.5 L716.5,189.6 L716.4,189.6 L716.2,189.8 L716.2,189.8 L716.1,189.8 L716.1,189.9 L715.9,190.0 L715.8,190.1 L715.8,190.1 L715.7,190.1 L715.5,190.3 L715.5,190.3 L715.4,190.4 L715.4,190.4 L715.2,190.5 L715.1,190.5 L715.1,190.6 L715.0,190.6 L714.8,190.7 L714.7,190.8 L714.7,190.8 L714.6,190.8 L714.4,190.9 L714.4,191.0 L714.3,191.0 L714.2,191.0 L714.0,191.1 L714.0,191.1 L713.9,191.2 L713.8,191.2 L713.6,191.3 L713.6,191.3 L713.5,191.3 L713.4,191.3 L713.2,191.4 L713.2,191.4 L713.1,191.4 L713.0,191.5 L712.8,191.5 L712.7,191.5 L712.7,191.6 L712.6,191.6 L712.4,191.6 L712.3,191.6 L712.3,191.7 L712.2,191.7 L711.9,191.7 L711.9,191.7 L711.8,191.7 L711.8,191.7 L711.5,191.8 L711.5,191.8 L711.4,191.8 L711.3,191.8 L711.1,191.8 L711.0,191.8 L711.0,191.8 L710.9,191.8 L710.7,191.8 L710.6,191.8 L710.5,191.8 L710.5,191.8 L710.2,191.8 L710.2,191.8 L710.1,191.8 L710.0,191.8 L709.8,191.8 L709.7,191.8 L709.7,191.8 L709.6,191.8 L709.4,191.7 L709.3,191.7 L709.2,191.7 L709.2,191.7 L708.9,191.7 L708.9,191.7 L708.8,191.6 L708.8,191.6 L708.5,191.6 L708.5,191.6 L708.3,191.5 L708.3,191.5 L708.0,191.4 L707.8,191.4 L707.5,191.4 L707.3,191.4 L707.0,191.4 L706.8,191.4 L706.4,191.4 L706.3,191.4 L706.0,191.5 L705.8,191.5 L705.5,191.6 L705.3,191.7 L705.0,191.8 L704.9,191.9 L704.5,192.0 L704.4,192.1 L704.1,192.3 L704.0,192.4 L703.7,192.6 L703.6,192.7 L703.4,193.0 L703.3,193.1 L703.0,193.4 L703.0,193.4Z" fill="none" stroke="#1e1e1e" stroke-width="2.1" stroke-linejoin="round"/>
<path d="M564.7,302.3 L564.7,302.4 L564.6,302.8 L564.6,302.9 L564.5,303.3 L564.5,303.4 L564.5,303.7 L564.5,303.9 L564.5,304.2 L564.5,304.3 L564.6,304.7 L564.6,304.8 L564.7,305.2 L564.7,305.3 L564.9,305.6 L564.9,305.7 L565.1,306.1 L565.1,306.2 L565.3,306.5 L565.4,306.6 L565.6,306.9 L565.7,307.0 L565.9,307.2 L566.0,307.3 L566.3,307.5 L566.4,307.6 L566.7,307.8 L566.8,307.9 L567.1,308.1 L567.2,308.1 L567.5,308.3 L567.6,308.3 L568.2,308.6 L568.3,308.6 L569.2,309.0 L569.2,309.0 L570.1,309.4 L570.2,309.4 L571.1,309.8 L571.1,309.8 L572.0,310.3 L572.0,310.3 L573.0,310.7 L573.0,310.7 L573.9,311.1 L573.9,311.1 L574.8,311.6 L574.8,311.6 L575.7,312.0 L575.8,312.0 L576.7,312.5 L576.7,312.5 L577.6,313.0 L577.6,313.0 L578.5,313.4 L578.5,313.4 L579.4,313.9 L579.4,313.9 L580.3,314.4 L580.3,314.4 L581.0,314.8 L581.0,314.8 L581.4,315.0 L581.5,315.0 L581.8,315.1 L581.9,315.2 L582.3,315.3 L582.4,315.3 L582.8,315.4 L582.9,315.4 L583.2,315.4 L583.4,315.4 L583.7,315.4 L583.8,315.4 L584.2,315.3 L584.3,315.3 L584.7,315.2 L584.8,315.2 L585.1,315.1 L585.2,315.1 L585.6,314.9 L585.7,314.9 L586.0,314.7 L586.1,314.6 L586.4,314.4 L586.5,314.3 L586.8,314.1 L586.9,314.0 L587.1,313.8 L587.2,313.7 L587.4,313.4 L587.5,313.3 L600.8,295.0 L600.8,294.9 L601.1,294.6 L601.1,294.5 L601.3,294.1 L601.4,294.0 L601.5,293.7 L601.5,293.5 L601.6,293.2 L601.7,293.1 L601.7,292.7 L601.7,292.6 L601.8,292.2 L601.8,292.1 L601.8,291.7 L601.8,291.6 L601.7,291.2 L601.7,291.1 L601.6,290.7 L601.6,290.6 L601.5,290.3 L601.4,290.1 L601.3,289.8 L601.2,289.7 L601.0,289.3 L601.0,289.3 L600.9,289.1 L600.9,289.1 L600.8,289.0 L600.8,289.0 L600.7,288.8 L600.6,288.7 L600.6,288.6 L600.6,288.6 L600.5,288.4 L600.5,288.3 L600.4,288.3 L600.4,288.2 L600.3,288.0 L600.3,287.9 L600.3,287.9 L600.2,287.8 L600.1,287.6 L600.1,287.5 L600.1,287.5 L600.1,287.4 L600.0,287.2 L600.0,287.1 L600.0,287.0 L599.9,287.0 L599.9,286.7 L599.9,286.7 L599.8,286.6 L599.8,286.6 L599.8,286.3 L599.8,286.3 L599.8,286.2 L599.7,286.1 L599.7,285.9 L599.7,285.8 L599.7,285.8 L599.7,285.7 L599.6,285.5 L599.6,285.4 L599.6,285.4 L599.6,285.3 L599.6,285.0 L599.6,285.0 L599.6,284.9 L599.6,284.9 L599.6,284.6 L599.6,284.6 L599.6,284.5 L599.6,284.4 L599.6,284.2 L599.6,284.1 L599.6,284.1 L599.6,284.0 L599.6,283.8 L599.6,283.7 L599.6,283.6 L599.6,283.6 L599.7,283.3 L599.7,283.3 L599.7,283.2 L599.7,283.1 L599.7,282.9 L599.8,282.8 L599.8,282.8 L599.8,282.7 L599.8,282.5 L599.8,282.4 L599.9,282.4 L599.9,282.3 L599.9,282.1 L600.0,282.0 L600.0,281.9 L600.0,281.9 L600.1,281.6 L600.1,281.6 L600.1,281.5 L600.1,281.5 L600.2,281.2 L600.3,281.2 L600.3,281.1 L600.3,281.1 L600.4,280.8 L600.4,280.8 L600.5,280.7 L600.5,280.7 L600.6,280.5 L600.6,280.4 L600.6,280.3 L600.7,280.3 L600.8,280.1 L600.8,280.0 L600.9,280.0 L600.9,279.9 L601.0,279.7 L601.1,279.7 L601.1,279.6 L601.1,279.6 L601.3,279.4 L601.3,279.3 L601.3,279.3 L601.4,279.2 L601.5,279.0 L601.6,279.0 L601.6,278.9 L601.6,278.9 L601.8,278.7 L601.9,278.6 L601.9,278.6 L601.9,278.5 L602.1,278.4 L602.1,278.3 L602.2,278.3 L602.2,278.2 L602.4,278.1 L602.5,278.0 L602.5,278.0 L602.6,277.9 L602.7,277.8 L602.8,277.7 L602.8,277.7 L602.9,277.7 L603.1,277.5 L603.1,277.5 L603.2,277.4 L603.2,277.4 L603.4,277.3 L603.5,277.2 L603.5,277.2 L603.6,277.2 L603.8,277.0 L603.8,277.0 L603.9,277.0 L603.9,276.9 L604.2,276.8 L604.2,276.8 L604.3,276.7 L604.3,276.7 L604.5,276.6 L604.6,276.6 L604.7,276.6 L604.7,276.5 L604.9,276.4 L605.0,276.4 L605.1,276.4 L605.1,276.4 L605.3,276.3 L605.4,276.2 L605.5,276.2 L605.5,276.2 L605.7,276.1 L605.8,276.1 L605.9,276.1 L605.9,276.1 L606.2,276.0 L606.2,276.0 L606.3,276.0 L606.3,276.0 L606.6,275.9 L606.6,275.9 L606.7,275.9 L606.8,275.9 L607.0,275.8 L607.1,275.8 L607.1,275.8 L607.2,275.8 L607.4,275.8 L607.5,275.8 L607.6,275.8 L607.6,275.8 L607.9,275.7 L607.9,275.7 L608.0,275.7 L608.1,275.7 L608.3,275.7 L608.4,275.7 L608.4,275.7 L608.5,275.7 L608.7,275.7 L608.8,275.7 L608.9,275.7 L608.9,275.7 L609.2,275.8 L609.2,275.8 L609.3,275.8 L609.3,275.8 L609.6,275.8 L609.7,275.8 L609.7,275.8 L609.8,275.8 L610.0,275.9 L610.1,275.9 L610.1,275.9 L610.2,275.9 L610.4,276.0 L610.5,276.0 L610.6,276.0 L610.7,276.0 L611.0,276.1 L611.1,276.1 L611.5,276.2 L611.6,276.2 L612.0,276.2 L612.1,276.2 L612.5,276.1 L612.6,276.1 L613.0,276.1 L613.1,276.0 L613.5,275.9 L613.6,275.9 L614.0,275.7 L614.1,275.7 L614.4,275.5 L614.5,275.4 L614.8,275.2 L614.9,275.2 L615.2,274.9 L615.3,274.8 L615.6,274.6 L615.7,274.5 L615.9,274.1 L616.0,274.1 L619.9,268.6 L620.0,268.6 L620.2,268.3 L620.2,268.1 L620.4,267.8 L620.5,267.7 L620.6,267.4 L620.6,267.3 L620.7,266.9 L620.8,266.8 L620.8,266.4 L620.9,266.3 L620.9,266.0 L620.9,265.8 L620.9,265.5 L620.9,265.3 L620.9,265.0 L620.8,264.9 L620.8,264.5 L620.7,264.4 L620.6,264.0 L620.6,263.9 L620.4,263.6 L620.4,263.5 L620.2,263.2 L620.2,263.0 L620.0,262.7 L619.9,262.6 L619.7,262.4 L619.6,262.3 L619.3,262.0 L619.2,261.9 L618.9,261.7 L618.8,261.6 L618.5,261.4 L618.5,261.4 L617.9,261.0 L617.9,261.0 L616.2,260.0 L616.1,260.0 L614.4,259.0 L614.3,259.0 L612.6,258.0 L612.5,258.0 L610.8,257.0 L610.8,257.0 L609.0,256.0 L608.9,256.0 L607.2,255.1 L607.1,255.1 L605.3,254.2 L605.3,254.1 L603.5,253.3 L603.5,253.2 L601.7,252.4 L601.6,252.3 L599.8,251.5 L599.8,251.5 L598.0,250.6 L597.9,250.6 L596.1,249.8 L596.0,249.8 L594.2,249.0 L594.2,249.0 L592.3,248.2 L592.3,248.2 L590.4,247.4 L590.4,247.4 L588.5,246.7 L588.5,246.7 L586.6,246.0 L586.5,245.9 L585.9,245.7 L585.9,245.7 L585.5,245.6 L585.4,245.5 L585.0,245.5 L584.9,245.5 L584.5,245.4 L584.4,245.4 L584.1,245.4 L583.9,245.4 L583.6,245.4 L583.4,245.5 L583.1,245.5 L583.0,245.5 L582.6,245.6 L582.5,245.7 L582.2,245.8 L582.1,245.9 L581.7,246.0 L581.6,246.1 L581.3,246.3 L581.2,246.4 L580.9,246.6 L580.8,246.7 L580.6,246.9 L580.5,247.0 L580.3,247.3 L580.2,247.4 L580.0,247.7 L579.9,247.8 L579.7,248.1 L579.7,248.2 L579.5,248.6 L579.5,248.7 L579.4,249.0 L579.3,249.1 L577.6,255.6 L577.5,255.7 L577.4,256.1 L577.4,256.2 L577.4,256.6 L577.4,256.7 L577.4,257.1 L577.4,257.2 L577.4,257.6 L577.4,257.7 L577.5,258.0 L577.5,258.2 L577.6,258.5 L577.7,258.6 L577.8,259.0 L577.9,259.1 L578.0,259.4 L578.1,259.6 L578.3,259.9 L578.4,260.0 L578.6,260.3 L578.7,260.3 L579.0,260.6 L579.0,260.7 L579.4,261.0 L579.4,261.0 L579.4,261.0 L579.6,261.2 L579.7,261.2 L579.7,261.3 L579.8,261.3 L580.0,261.5 L580.0,261.5 L580.1,261.5 L580.1,261.6 L580.3,261.7 L580.3,261.8 L580.4,261.8 L580.4,261.9 L580.6,262.1 L580.6,262.1 L580.7,262.1 L580.7,262.2 L580.9,262.4 L580.9,262.4 L580.9,262.5 L581.0,262.5 L581.1,262.7 L581.2,262.8 L581.2,262.8 L581.2,262.9 L581.4,263.1 L581.4,263.1 L581.5,263.2 L581.5,263.2 L581.6,263.4 L581.7,263.5 L581.7,263.5 L581.7,263.6 L581.8,263.8 L581.9,263.9 L581.9,263.9 L581.9,264.0 L582.0,264.2 L582.1,264.2 L582.1,264.3 L582.1,264.4 L582.2,264.6 L582.2,264.6 L582.3,264.7 L582.3,264.8 L582.4,265.0 L582.4,265.0 L582.4,265.1 L582.4,265.2 L582.5,265.4 L582.5,265.4 L582.6,265.5 L582.6,265.6 L582.6,265.8 L582.7,265.9 L582.7,265.9 L582.7,266.0 L582.7,266.2 L582.8,266.3 L582.8,266.3 L582.8,266.4 L582.8,266.7 L582.8,266.7 L582.8,266.8 L582.8,266.8 L582.9,267.1 L582.9,267.1 L582.9,267.2 L582.9,267.3 L582.9,267.5 L582.9,267.6 L582.9,267.6 L582.9,267.7 L582.9,267.9 L582.9,268.0 L582.9,268.1 L582.9,268.1 L582.9,268.4 L582.9,268.4 L582.9,268.5 L582.9,268.6 L582.9,268.8 L582.9,268.9 L582.9,268.9 L582.9,269.0 L582.8,269.2 L582.8,269.3 L582.8,269.4 L582.8,269.4 L582.8,269.7 L582.8,269.7 L582.8,269.8 L582.7,269.8 L582.7,270.1 L582.7,270.1 L582.7,270.2 L582.6,270.3 L582.6,270.5 L582.6,270.6 L582.5,270.6 L582.5,270.7 L582.4,270.9 L582.4,271.0 L582.4,271.0 L582.4,271.1 L582.3,271.3 L582.3,271.4 L582.2,271.4 L582.2,271.5 L582.1,271.7 L582.1,271.8 L582.1,271.8 L582.0,271.9 L581.9,272.1 L581.9,272.2 L581.9,272.2 L581.8,272.3 L581.7,272.5 L581.7,272.5 L581.7,272.6 L581.6,272.6 L581.5,272.8 L581.5,272.9 L581.4,272.9 L581.4,273.0 L581.2,273.2 L581.2,273.2 L581.2,273.3 L581.1,273.3 L581.0,273.5 L580.9,273.6 L580.9,273.6 L580.9,273.7 L580.7,273.9 L580.7,273.9 L580.6,274.0 L580.6,274.0 L580.4,274.2 L580.4,274.2 L580.3,274.3 L580.3,274.3 L580.1,274.5 L580.1,274.5 L580.0,274.6 L580.0,274.6 L579.8,274.8 L579.7,274.8 L579.7,274.9 L579.6,274.9 L579.4,275.0 L579.4,275.1 L579.3,275.1 L579.3,275.2 L579.1,275.3 L579.0,275.3 L579.0,275.4 L578.9,275.4 L578.7,275.5 L578.7,275.6 L578.6,275.6 L578.6,275.6 L578.4,275.7 L578.3,275.8 L578.2,275.8 L578.2,275.8 L578.0,275.9 L577.9,276.0 L577.9,276.0 L577.8,276.0 L577.6,276.1 L577.5,276.2 L577.5,276.2 L577.4,276.2 L577.2,276.3 L577.1,276.3 L577.1,276.3 L577.0,276.3 L576.8,276.4 L576.7,276.4 L576.7,276.5 L576.6,276.5 L576.4,276.5 L576.3,276.6 L576.2,276.6 L576.2,276.6 L575.9,276.6 L575.9,276.7 L575.8,276.7 L575.8,276.7 L575.5,276.7 L575.4,276.7 L575.4,276.7 L575.3,276.7 L575.1,276.8 L575.1,276.8 L575.0,276.8 L574.6,276.8 L574.5,276.9 L574.1,277.0 L574.0,277.0 L573.6,277.1 L573.5,277.2 L573.2,277.3 L573.1,277.4 L572.8,277.6 L572.7,277.7 L572.4,277.9 L572.3,278.0 L572.0,278.2 L571.9,278.3 L571.7,278.6 L571.6,278.7 L571.4,279.0 L571.3,279.1 L571.1,279.4 L571.0,279.6 L570.9,279.9 L570.9,280.0 L570.7,280.4 L570.7,280.5Z" fill="none" stroke="#1e1e1e" stroke-width="2.1" stroke-linejoin="round"/>
<path d="M586.0,224.9 L586.0,224.9 L585.9,225.3 L585.9,225.4 L585.9,225.8 L585.8,225.9 L585.8,226.3 L585.8,226.4 L585.9,226.8 L585.9,226.9 L586.0,227.3 L586.0,227.4 L586.1,227.8 L586.1,227.9 L586.3,228.2 L586.3,228.3 L586.5,228.7 L586.5,228.8 L586.7,229.1 L586.8,229.2 L587.0,229.5 L587.1,229.6 L587.4,229.8 L587.5,229.9 L587.8,230.2 L587.9,230.2 L588.2,230.4 L588.3,230.5 L588.6,230.7 L588.7,230.7 L589.1,230.9 L589.1,230.9 L591.2,231.7 L591.2,231.7 L591.2,231.7 L591.2,231.7 L593.3,232.5 L593.4,232.5 L593.4,232.5 L593.4,232.5 L595.5,233.3 L595.5,233.3 L595.5,233.3 L595.5,233.3 L597.6,234.2 L597.6,234.2 L597.6,234.2 L597.6,234.2 L599.7,235.0 L599.7,235.0 L599.7,235.1 L599.7,235.1 L601.8,235.9 L601.8,235.9 L601.8,236.0 L601.8,236.0 L603.9,236.9 L603.9,236.9 L603.9,236.9 L603.9,236.9 L606.0,237.8 L606.0,237.8 L606.0,237.8 L606.0,237.8 L608.0,238.8 L608.0,238.8 L608.0,238.8 L608.1,238.8 L610.1,239.8 L610.1,239.8 L610.1,239.8 L610.1,239.8 L612.1,240.8 L612.1,240.8 L612.1,240.8 L612.2,240.8 L614.2,241.8 L614.2,241.8 L614.2,241.8 L614.2,241.8 L616.2,242.9 L616.2,242.9 L616.2,242.9 L616.2,242.9 L618.2,243.9 L618.2,243.9 L618.2,244.0 L618.2,244.0 L620.2,245.0 L620.2,245.0 L620.2,245.1 L620.2,245.1 L622.2,246.2 L622.2,246.2 L622.2,246.2 L622.2,246.2 L624.2,247.3 L624.2,247.3 L624.2,247.3 L624.2,247.3 L626.1,248.5 L626.1,248.5 L626.1,248.5 L626.2,248.5 L628.0,249.6 L628.1,249.7 L628.4,249.9 L628.5,249.9 L628.9,250.1 L629.0,250.1 L629.4,250.2 L629.5,250.2 L629.8,250.3 L630.0,250.3 L630.3,250.4 L630.5,250.4 L630.8,250.4 L631.0,250.4 L631.3,250.3 L631.5,250.3 L631.8,250.2 L631.9,250.2 L632.3,250.1 L632.4,250.1 L632.8,249.9 L632.9,249.9 L633.2,249.7 L633.3,249.6 L633.6,249.4 L633.7,249.3 L634.0,249.1 L634.1,249.0 L634.3,248.7 L634.4,248.7 L634.7,248.3 L634.7,248.3 L643.2,236.6 L643.2,236.6 L643.5,236.2 L643.5,236.1 L643.7,235.8 L643.7,235.7 L643.9,235.3 L643.9,235.2 L644.0,234.8 L644.1,234.7 L644.1,234.4 L644.1,234.2 L644.2,233.9 L644.2,233.7 L644.2,233.4 L644.2,233.2 L644.1,232.9 L644.1,232.8 L644.0,232.4 L644.0,232.3 L643.9,231.9 L643.8,231.8 L643.7,231.5 L643.6,231.3 L643.4,231.0 L643.4,230.9 L643.3,230.8 L643.2,230.7 L643.2,230.7 L643.2,230.6 L643.1,230.4 L643.0,230.4 L643.0,230.3 L643.0,230.2 L642.9,230.0 L642.8,230.0 L642.8,229.9 L642.8,229.9 L642.7,229.6 L642.7,229.6 L642.6,229.5 L642.6,229.5 L642.5,229.2 L642.5,229.2 L642.5,229.1 L642.5,229.1 L642.4,228.8 L642.4,228.8 L642.4,228.7 L642.3,228.6 L642.3,228.4 L642.3,228.3 L642.2,228.3 L642.2,228.2 L642.2,228.0 L642.2,227.9 L642.1,227.9 L642.1,227.8 L642.1,227.6 L642.1,227.5 L642.1,227.4 L642.1,227.4 L642.0,227.1 L642.0,227.1 L642.0,227.0 L642.0,227.0 L642.0,226.7 L642.0,226.6 L642.0,226.6 L642.0,226.5 L642.0,226.3 L642.0,226.2 L642.0,226.1 L642.0,226.1 L642.0,225.8 L642.0,225.8 L642.0,225.7 L642.0,225.7 L642.0,225.4 L642.0,225.3 L642.0,225.3 L642.0,225.2 L642.1,225.0 L642.1,224.9 L642.1,224.9 L642.1,224.8 L642.1,224.6 L642.1,224.5 L642.2,224.4 L642.2,224.4 L642.2,224.1 L642.2,224.1 L642.3,224.0 L642.3,224.0 L642.3,223.7 L642.4,223.7 L642.4,223.6 L642.4,223.5 L642.5,223.3 L642.5,223.2 L642.5,223.2 L642.5,223.1 L642.6,222.9 L642.6,222.8 L642.7,222.8 L642.7,222.7 L642.8,222.5 L642.8,222.4 L642.8,222.4 L642.9,222.3 L643.0,222.1 L643.0,222.1 L643.0,222.0 L643.1,222.0 L643.2,221.7 L643.2,221.7 L643.2,221.6 L643.3,221.6 L643.4,221.4 L643.4,221.3 L643.5,221.3 L643.5,221.2 L643.7,221.0 L643.7,221.0 L643.7,220.9 L643.8,220.9 L643.9,220.7 L644.0,220.6 L644.0,220.6 L644.0,220.5 L644.2,220.3 L644.2,220.3 L644.3,220.2 L644.3,220.2 L644.5,220.0 L644.5,220.0 L644.6,219.9 L644.6,219.9 L644.8,219.7 L644.8,219.7 L644.9,219.6 L644.9,219.6 L645.1,219.4 L645.2,219.4 L645.2,219.4 L645.3,219.3 L645.5,219.2 L645.5,219.1 L645.6,219.1 L645.6,219.1 L645.8,218.9 L645.9,218.9 L645.9,218.8 L646.0,218.8 L646.2,218.7 L646.2,218.6 L646.3,218.6 L646.3,218.6 L646.6,218.5 L646.6,218.4 L646.7,218.4 L646.7,218.4 L646.9,218.3 L647.0,218.2 L647.0,218.2 L647.1,218.2 L647.3,218.1 L647.4,218.1 L647.4,218.0 L647.5,218.0 L647.7,217.9 L647.8,217.9 L647.8,217.9 L647.9,217.9 L648.1,217.8 L648.2,217.8 L648.3,217.8 L648.3,217.7 L648.6,217.7 L648.6,217.7 L648.7,217.6 L648.7,217.6 L649.0,217.6 L649.0,217.6 L649.1,217.5 L649.2,217.5 L649.4,217.5 L649.5,217.5 L649.5,217.5 L649.6,217.5 L649.8,217.4 L649.9,217.4 L649.9,217.4 L650.0,217.4 L650.3,217.4 L650.3,217.4 L650.4,217.4 L650.4,217.4 L650.7,217.4 L650.7,217.4 L650.8,217.4 L650.9,217.4 L651.1,217.4 L651.2,217.4 L651.2,217.4 L651.3,217.4 L651.6,217.4 L651.6,217.4 L651.7,217.4 L651.7,217.4 L652.0,217.5 L652.0,217.5 L652.1,217.5 L652.2,217.5 L652.4,217.5 L652.5,217.5 L652.5,217.6 L652.6,217.6 L652.8,217.6 L652.9,217.6 L653.0,217.7 L653.1,217.7 L653.4,217.8 L653.5,217.8 L653.9,217.8 L654.0,217.8 L654.4,217.8 L654.5,217.8 L654.9,217.8 L655.0,217.8 L655.4,217.7 L655.5,217.7 L655.9,217.6 L656.0,217.5 L656.4,217.4 L656.5,217.3 L656.8,217.2 L656.9,217.1 L657.2,216.9 L657.3,216.8 L657.6,216.6 L657.7,216.5 L658.0,216.2 L658.1,216.1 L658.3,215.8 L658.4,215.7 L663.0,209.4 L663.0,209.4 L663.2,209.0 L663.3,208.9 L663.4,208.6 L663.5,208.5 L663.6,208.2 L663.7,208.1 L663.8,207.7 L663.8,207.6 L663.9,207.3 L663.9,207.1 L663.9,206.8 L663.9,206.7 L663.9,206.3 L663.9,206.2 L663.9,205.8 L663.9,205.7 L663.8,205.3 L663.8,205.2 L663.7,204.9 L663.6,204.8 L663.5,204.4 L663.5,204.3 L663.3,204.0 L663.2,203.9 L663.0,203.6 L663.0,203.5 L662.7,203.2 L662.7,203.1 L662.4,202.9 L662.3,202.8 L662.1,202.6 L662.0,202.5 L661.6,202.3 L661.6,202.2 L660.8,201.7 L660.7,201.7 L658.0,200.0 L658.0,200.0 L655.3,198.3 L655.3,198.3 L652.6,196.7 L652.5,196.7 L649.8,195.1 L649.7,195.1 L647.0,193.6 L647.0,193.6 L644.2,192.1 L644.2,192.0 L641.4,190.6 L641.3,190.6 L638.5,189.1 L638.5,189.1 L635.7,187.7 L635.6,187.7 L632.8,186.3 L632.8,186.3 L629.9,185.0 L629.9,185.0 L627.0,183.7 L627.0,183.7 L624.1,182.4 L624.0,182.4 L621.2,181.2 L621.1,181.1 L618.2,179.9 L618.2,179.9 L615.2,178.8 L615.2,178.7 L612.3,177.6 L612.2,177.6 L609.3,176.5 L609.2,176.5 L606.3,175.5 L606.2,175.4 L605.3,175.1 L605.2,175.1 L604.8,175.0 L604.7,175.0 L604.4,174.9 L604.2,174.9 L603.9,174.8 L603.8,174.8 L603.4,174.8 L603.3,174.8 L602.9,174.9 L602.8,174.9 L602.4,175.0 L602.3,175.0 L602.0,175.1 L601.9,175.1 L601.5,175.3 L601.4,175.3 L601.1,175.5 L601.0,175.6 L600.7,175.8 L600.6,175.8 L600.3,176.1 L600.2,176.1 L600.0,176.4 L599.9,176.5 L599.7,176.7 L599.6,176.8 L599.4,177.1 L599.3,177.2 L599.2,177.6 L599.1,177.7 L599.0,178.0 L598.9,178.1 L598.8,178.5 L598.8,178.5 L596.7,186.1 L596.7,186.1 L596.6,186.5 L596.6,186.7 L596.5,187.0 L596.5,187.2 L596.5,187.5 L596.5,187.7 L596.6,188.0 L596.6,188.2 L596.6,188.5 L596.7,188.6 L596.8,189.0 L596.8,189.1 L597.0,189.5 L597.0,189.6 L597.2,189.9 L597.2,190.0 L597.4,190.3 L597.5,190.4 L597.8,190.7 L597.8,190.8 L598.1,191.1 L598.2,191.2 L598.5,191.4 L598.6,191.5 L598.6,191.5 L598.8,191.6 L598.8,191.7 L598.9,191.7 L598.9,191.8 L599.1,191.9 L599.2,192.0 L599.2,192.0 L599.3,192.0 L599.4,192.2 L599.5,192.3 L599.5,192.3 L599.6,192.4 L599.7,192.5 L599.8,192.6 L599.8,192.6 L599.9,192.7 L600.0,192.9 L600.1,192.9 L600.1,192.9 L600.1,193.0 L600.3,193.2 L600.3,193.2 L600.4,193.3 L600.4,193.3 L600.5,193.5 L600.6,193.6 L600.6,193.6 L600.6,193.7 L600.8,193.9 L600.8,194.0 L600.8,194.0 L600.9,194.1 L601.0,194.3 L601.0,194.3 L601.1,194.4 L601.1,194.4 L601.2,194.7 L601.2,194.7 L601.2,194.8 L601.3,194.8 L601.4,195.1 L601.4,195.1 L601.4,195.2 L601.4,195.2 L601.5,195.5 L601.6,195.5 L601.6,195.6 L601.6,195.6 L601.7,195.9 L601.7,195.9 L601.7,196.0 L601.7,196.0 L601.8,196.3 L601.8,196.3 L601.8,196.4 L601.8,196.5 L601.9,196.7 L601.9,196.8 L601.9,196.8 L601.9,196.9 L602.0,197.1 L602.0,197.2 L602.0,197.2 L602.0,197.3 L602.0,197.6 L602.0,197.6 L602.0,197.7 L602.0,197.7 L602.1,198.0 L602.1,198.0 L602.1,198.1 L602.1,198.2 L602.1,198.4 L602.1,198.5 L602.1,198.5 L602.1,198.6 L602.1,198.8 L602.1,198.9 L602.1,199.0 L602.1,199.0 L602.0,199.3 L602.0,199.3 L602.0,199.4 L602.0,199.5 L602.0,199.7 L602.0,199.8 L602.0,199.8 L602.0,199.9 L601.9,200.1 L601.9,200.2 L601.9,200.3 L601.9,200.3 L601.8,200.6 L601.8,200.6 L601.8,200.7 L601.8,200.7 L601.7,201.0 L601.7,201.0 L601.7,201.1 L601.7,201.1 L601.6,201.4 L601.6,201.4 L601.6,201.5 L601.5,201.6 L601.4,201.8 L601.4,201.8 L601.4,201.9 L601.4,202.0 L601.3,202.2 L601.2,202.2 L601.2,202.3 L601.2,202.4 L601.1,202.6 L601.1,202.6 L601.0,202.7 L601.0,202.7 L600.9,203.0 L600.8,203.0 L600.8,203.1 L600.8,203.1 L600.6,203.3 L600.6,203.4 L600.6,203.4 L600.5,203.5 L600.4,203.7 L600.4,203.7 L600.3,203.8 L600.3,203.8 L600.1,204.0 L600.1,204.1 L600.1,204.1 L600.0,204.2 L599.9,204.3 L599.8,204.4 L599.8,204.4 L599.7,204.5 L599.6,204.7 L599.5,204.7 L599.5,204.7 L599.4,204.8 L599.3,205.0 L599.2,205.0 L599.2,205.0 L599.1,205.1 L598.9,205.2 L598.9,205.3 L598.8,205.3 L598.8,205.4 L598.6,205.5 L598.5,205.6 L598.5,205.6 L598.4,205.6 L598.2,205.8 L598.2,205.8 L598.1,205.8 L598.1,205.9 L597.9,206.0 L597.8,206.0 L597.8,206.1 L597.7,206.1 L597.5,206.2 L597.5,206.3 L597.4,206.3 L597.3,206.3 L597.1,206.4 L597.1,206.4 L597.0,206.5 L597.0,206.5 L596.7,206.6 L596.7,206.6 L596.6,206.6 L596.6,206.7 L596.3,206.8 L596.3,206.8 L596.2,206.8 L596.2,206.8 L595.9,206.9 L595.9,206.9 L595.8,206.9 L595.7,207.0 L595.5,207.0 L595.4,207.0 L595.4,207.0 L595.3,207.1 L595.1,207.1 L595.0,207.1 L595.0,207.1 L594.9,207.2 L594.7,207.2 L594.6,207.2 L594.5,207.2 L594.5,207.2 L594.2,207.3 L594.2,207.3 L594.2,207.3 L593.8,207.3 L593.6,207.3 L593.3,207.4 L593.2,207.5 L592.8,207.6 L592.7,207.7 L592.3,207.8 L592.2,207.9 L591.9,208.1 L591.8,208.1 L591.5,208.4 L591.4,208.5 L591.1,208.7 L591.1,208.8 L590.8,209.1 L590.7,209.2 L590.5,209.5 L590.4,209.6 L590.3,209.9 L590.2,210.0 L590.0,210.4 L590.0,210.5 L589.9,210.9 L589.9,210.9Z" fill="none" stroke="#1e1e1e" stroke-width="2.1" stroke-linejoin="round"/>
<path d="M605.7,153.4 L605.7,153.4 L605.6,153.8 L605.6,153.9 L605.5,154.3 L605.5,154.4 L605.5,154.8 L605.5,154.9 L605.6,155.3 L605.6,155.4 L605.7,155.8 L605.7,155.9 L605.8,156.3 L605.8,156.4 L606.0,156.8 L606.0,156.9 L606.2,157.2 L606.3,157.3 L606.5,157.6 L606.6,157.7 L606.8,158.0 L606.9,158.1 L607.1,158.4 L607.2,158.5 L607.5,158.7 L607.6,158.8 L608.0,159.0 L608.1,159.1 L608.4,159.2 L608.5,159.3 L608.9,159.4 L608.9,159.5 L610.9,160.1 L611.0,160.1 L611.0,160.2 L611.0,160.2 L614.2,161.3 L614.2,161.3 L614.2,161.3 L614.2,161.3 L617.4,162.5 L617.4,162.5 L617.4,162.5 L617.5,162.5 L620.6,163.7 L620.6,163.7 L620.7,163.7 L620.7,163.7 L623.8,165.0 L623.8,165.0 L623.9,165.0 L623.9,165.0 L627.0,166.3 L627.0,166.3 L627.0,166.3 L627.1,166.3 L630.2,167.6 L630.2,167.6 L630.2,167.6 L630.2,167.6 L633.3,169.0 L633.3,169.0 L633.4,169.0 L633.4,169.0 L636.5,170.4 L636.5,170.4 L636.5,170.4 L636.5,170.4 L639.6,171.8 L639.6,171.8 L639.6,171.9 L639.6,171.9 L642.7,173.3 L642.7,173.3 L642.7,173.3 L642.7,173.4 L645.8,174.9 L645.8,174.9 L645.8,174.9 L645.8,174.9 L648.8,176.4 L648.8,176.4 L648.9,176.4 L648.9,176.5 L651.9,178.0 L651.9,178.0 L651.9,178.0 L651.9,178.1 L654.9,179.7 L654.9,179.7 L654.9,179.7 L654.9,179.7 L657.9,181.3 L657.9,181.4 L657.9,181.4 L657.9,181.4 L660.9,183.1 L660.9,183.1 L660.9,183.1 L660.9,183.1 L663.8,184.8 L663.9,184.8 L663.9,184.8 L663.9,184.8 L666.8,186.6 L666.8,186.6 L666.8,186.6 L666.8,186.6 L669.7,188.4 L669.7,188.4 L669.7,188.4 L669.7,188.4 L671.5,189.6 L671.6,189.6 L671.9,189.8 L672.0,189.9 L672.4,190.0 L672.5,190.1 L672.9,190.2 L673.0,190.2 L673.4,190.3 L673.5,190.3 L673.9,190.4 L674.0,190.4 L674.4,190.4 L674.5,190.4 L674.9,190.3 L675.0,190.3 L675.4,190.3 L675.5,190.2 L675.8,190.1 L676.0,190.1 L676.3,189.9 L676.4,189.9 L676.8,189.7 L676.9,189.6 L677.2,189.4 L677.3,189.4 L677.6,189.1 L677.7,189.0 L677.9,188.8 L678.0,188.7 L678.3,188.3 L678.3,188.3 L684.4,179.9 L684.4,179.9 L684.6,179.5 L684.7,179.4 L684.9,179.1 L684.9,179.0 L685.1,178.6 L685.1,178.5 L685.2,178.2 L685.2,178.0 L685.3,177.7 L685.3,177.6 L685.3,177.2 L685.4,177.1 L685.3,176.7 L685.3,176.6 L685.3,176.2 L685.3,176.1 L685.2,175.7 L685.2,175.6 L685.0,175.2 L685.0,175.1 L684.9,174.8 L684.8,174.7 L684.6,174.3 L684.6,174.3 L684.5,174.1 L684.4,174.0 L684.4,174.0 L684.4,173.9 L684.2,173.7 L684.2,173.7 L684.2,173.6 L684.2,173.6 L684.0,173.3 L684.0,173.3 L684.0,173.2 L684.0,173.2 L683.9,173.0 L683.8,172.9 L683.8,172.8 L683.8,172.8 L683.7,172.5 L683.7,172.5 L683.7,172.4 L683.6,172.4 L683.6,172.1 L683.5,172.1 L683.5,172.0 L683.5,172.0 L683.4,171.7 L683.4,171.7 L683.4,171.6 L683.4,171.5 L683.3,171.3 L683.3,171.2 L683.3,171.2 L683.3,171.1 L683.3,170.9 L683.3,170.8 L683.3,170.8 L683.2,170.7 L683.2,170.5 L683.2,170.4 L683.2,170.3 L683.2,170.3 L683.2,170.0 L683.2,170.0 L683.2,169.9 L683.2,169.8 L683.2,169.6 L683.2,169.5 L683.2,169.5 L683.2,169.4 L683.2,169.2 L683.2,169.1 L683.2,169.0 L683.2,169.0 L683.2,168.7 L683.2,168.7 L683.2,168.6 L683.2,168.5 L683.2,168.3 L683.3,168.2 L683.3,168.2 L683.3,168.1 L683.3,167.9 L683.3,167.8 L683.3,167.8 L683.3,167.7 L683.4,167.5 L683.4,167.4 L683.4,167.3 L683.4,167.3 L683.5,167.0 L683.5,167.0 L683.5,166.9 L683.6,166.9 L683.6,166.6 L683.7,166.6 L683.7,166.5 L683.7,166.4 L683.8,166.2 L683.8,166.2 L683.8,166.1 L683.9,166.0 L684.0,165.8 L684.0,165.8 L684.0,165.7 L684.0,165.7 L684.2,165.4 L684.2,165.4 L684.2,165.3 L684.2,165.3 L684.4,165.1 L684.4,165.0 L684.4,164.9 L684.5,164.9 L684.6,164.7 L684.6,164.6 L684.7,164.6 L684.7,164.5 L684.8,164.3 L684.9,164.3 L684.9,164.2 L684.9,164.2 L685.1,164.0 L685.1,163.9 L685.2,163.9 L685.2,163.8 L685.4,163.7 L685.4,163.6 L685.5,163.6 L685.5,163.5 L685.7,163.3 L685.7,163.3 L685.8,163.3 L685.8,163.2 L686.0,163.0 L686.0,163.0 L686.1,163.0 L686.1,162.9 L686.3,162.8 L686.4,162.7 L686.4,162.7 L686.5,162.6 L686.6,162.5 L686.7,162.4 L686.7,162.4 L686.8,162.4 L687.0,162.2 L687.0,162.2 L687.1,162.2 L687.1,162.1 L687.4,162.0 L687.4,162.0 L687.5,161.9 L687.5,161.9 L687.7,161.8 L687.8,161.8 L687.8,161.7 L687.9,161.7 L688.1,161.6 L688.2,161.6 L688.2,161.5 L688.3,161.5 L688.5,161.4 L688.6,161.4 L688.6,161.4 L688.7,161.3 L688.9,161.2 L689.0,161.2 L689.0,161.2 L689.1,161.2 L689.3,161.1 L689.4,161.1 L689.4,161.1 L689.5,161.1 L689.7,161.0 L689.8,161.0 L689.9,161.0 L689.9,160.9 L690.2,160.9 L690.2,160.9 L690.3,160.9 L690.3,160.9 L690.6,160.8 L690.6,160.8 L690.7,160.8 L690.8,160.8 L691.0,160.8 L691.1,160.7 L691.1,160.7 L691.2,160.7 L691.4,160.7 L691.5,160.7 L691.6,160.7 L691.6,160.7 L691.9,160.7 L691.9,160.7 L692.0,160.7 L692.1,160.7 L692.3,160.7 L692.4,160.7 L692.4,160.7 L692.5,160.7 L692.7,160.7 L692.8,160.7 L692.9,160.7 L692.9,160.8 L693.2,160.8 L693.2,160.8 L693.3,160.8 L693.3,160.8 L693.6,160.9 L693.6,160.9 L693.7,160.9 L693.8,160.9 L694.0,160.9 L694.1,161.0 L694.2,161.0 L694.2,161.0 L694.6,161.1 L694.7,161.1 L695.1,161.1 L695.2,161.1 L695.6,161.2 L695.7,161.1 L696.1,161.1 L696.2,161.1 L696.6,161.0 L696.7,161.0 L697.1,160.9 L697.2,160.9 L697.5,160.7 L697.6,160.7 L698.0,160.5 L698.1,160.4 L698.4,160.2 L698.5,160.1 L698.8,159.9 L698.9,159.8 L699.2,159.5 L699.2,159.4 L699.5,159.1 L699.5,159.1 L705.3,151.1 L705.4,151.0 L705.6,150.7 L705.7,150.6 L705.8,150.3 L705.9,150.2 L706.0,149.8 L706.0,149.7 L706.1,149.4 L706.2,149.3 L706.2,148.9 L706.3,148.8 L706.3,148.4 L706.3,148.3 L706.3,148.0 L706.3,147.9 L706.3,147.5 L706.3,147.4 L706.2,147.0 L706.2,146.9 L706.1,146.6 L706.0,146.5 L705.9,146.1 L705.9,146.0 L705.7,145.7 L705.6,145.6 L705.4,145.3 L705.4,145.2 L705.1,144.9 L705.1,144.8 L704.8,144.6 L704.7,144.5 L704.5,144.2 L704.4,144.2 L704.1,143.9 L704.0,143.9 L701.3,142.1 L701.2,142.1 L697.6,139.8 L697.5,139.8 L693.9,137.6 L693.9,137.5 L690.2,135.3 L690.2,135.3 L686.5,133.2 L686.4,133.2 L682.7,131.1 L682.7,131.0 L678.9,129.0 L678.9,129.0 L675.1,127.0 L675.1,127.0 L671.3,125.0 L671.2,125.0 L667.4,123.1 L667.4,123.1 L663.5,121.2 L663.5,121.2 L659.6,119.4 L659.6,119.4 L655.7,117.6 L655.6,117.6 L651.7,115.9 L651.7,115.9 L647.8,114.2 L647.7,114.2 L643.8,112.6 L643.7,112.6 L639.7,111.0 L639.7,111.0 L635.7,109.5 L635.6,109.5 L631.6,108.1 L631.6,108.0 L627.6,106.6 L627.5,106.6 L624.4,105.6 L624.3,105.6 L623.9,105.4 L623.8,105.4 L623.5,105.4 L623.4,105.3 L623.0,105.3 L622.9,105.3 L622.5,105.3 L622.4,105.3 L622.0,105.4 L621.9,105.4 L621.6,105.5 L621.5,105.5 L621.1,105.6 L621.0,105.6 L620.7,105.8 L620.6,105.8 L620.3,106.0 L620.1,106.0 L619.8,106.2 L619.8,106.3 L619.5,106.5 L619.4,106.6 L619.1,106.9 L619.1,107.0 L618.8,107.2 L618.7,107.3 L618.5,107.6 L618.5,107.7 L618.3,108.0 L618.3,108.1 L618.1,108.5 L618.1,108.6 L617.9,109.0 L617.9,109.0 L615.3,118.5 L615.3,118.6 L615.2,119.0 L615.2,119.1 L615.1,119.5 L615.1,119.6 L615.1,120.0 L615.1,120.1 L615.2,120.5 L615.2,120.6 L615.2,121.0 L615.3,121.1 L615.4,121.5 L615.4,121.6 L615.6,121.9 L615.6,122.0 L615.8,122.4 L615.8,122.5 L616.1,122.8 L616.1,122.9 L616.4,123.2 L616.4,123.3 L616.7,123.5 L616.8,123.6 L617.1,123.9 L617.2,123.9 L617.2,123.9 L617.4,124.1 L617.4,124.1 L617.5,124.2 L617.5,124.2 L617.7,124.4 L617.8,124.4 L617.8,124.5 L617.9,124.5 L618.0,124.7 L618.1,124.7 L618.1,124.8 L618.2,124.8 L618.3,125.0 L618.4,125.0 L618.4,125.1 L618.5,125.1 L618.6,125.3 L618.7,125.4 L618.7,125.4 L618.7,125.5 L618.9,125.6 L618.9,125.7 L619.0,125.7 L619.0,125.8 L619.1,126.0 L619.2,126.0 L619.2,126.1 L619.3,126.1 L619.4,126.4 L619.4,126.4 L619.4,126.5 L619.5,126.5 L619.6,126.7 L619.6,126.8 L619.7,126.8 L619.7,126.9 L619.8,127.1 L619.8,127.2 L619.9,127.2 L619.9,127.3 L620.0,127.5 L620.0,127.6 L620.0,127.6 L620.0,127.7 L620.1,127.9 L620.2,128.0 L620.2,128.0 L620.2,128.1 L620.3,128.3 L620.3,128.4 L620.3,128.4 L620.3,128.5 L620.4,128.7 L620.4,128.8 L620.4,128.9 L620.4,128.9 L620.5,129.2 L620.5,129.2 L620.5,129.3 L620.5,129.3 L620.6,129.6 L620.6,129.6 L620.6,129.7 L620.6,129.8 L620.6,130.0 L620.6,130.1 L620.6,130.1 L620.6,130.2 L620.7,130.4 L620.7,130.5 L620.7,130.6 L620.7,130.6 L620.7,130.9 L620.7,130.9 L620.7,131.0 L620.7,131.1 L620.7,131.3 L620.7,131.4 L620.7,131.4 L620.7,131.5 L620.6,131.7 L620.6,131.8 L620.6,131.9 L620.6,131.9 L620.6,132.2 L620.6,132.2 L620.6,132.3 L620.6,132.3 L620.5,132.6 L620.5,132.6 L620.5,132.7 L620.5,132.8 L620.4,133.0 L620.4,133.1 L620.4,133.1 L620.4,133.2 L620.3,133.4 L620.3,133.5 L620.3,133.5 L620.3,133.6 L620.2,133.8 L620.2,133.9 L620.2,134.0 L620.1,134.0 L620.0,134.2 L620.0,134.3 L620.0,134.4 L620.0,134.4 L619.9,134.6 L619.9,134.7 L619.8,134.8 L619.8,134.8 L619.7,135.0 L619.7,135.1 L619.6,135.1 L619.6,135.2 L619.5,135.4 L619.4,135.5 L619.4,135.5 L619.4,135.6 L619.3,135.8 L619.2,135.8 L619.2,135.9 L619.1,135.9 L619.0,136.1 L619.0,136.2 L618.9,136.2 L618.9,136.3 L618.7,136.5 L618.7,136.5 L618.7,136.6 L618.6,136.6 L618.5,136.8 L618.4,136.8 L618.4,136.9 L618.3,136.9 L618.2,137.1 L618.1,137.2 L618.1,137.2 L618.0,137.2 L617.9,137.4 L617.8,137.5 L617.8,137.5 L617.7,137.5 L617.5,137.7 L617.5,137.7 L617.4,137.8 L617.4,137.8 L617.2,138.0 L617.2,138.0 L617.1,138.0 L617.1,138.1 L616.8,138.2 L616.8,138.3 L616.7,138.3 L616.7,138.3 L616.5,138.5 L616.4,138.5 L616.4,138.5 L616.3,138.6 L616.1,138.7 L616.1,138.7 L616.0,138.7 L616.0,138.8 L615.7,138.9 L615.7,138.9 L615.6,138.9 L615.6,139.0 L615.3,139.1 L615.3,139.1 L615.2,139.1 L615.2,139.1 L614.9,139.2 L614.9,139.2 L614.8,139.3 L614.8,139.3 L614.5,139.4 L614.5,139.4 L614.4,139.4 L614.4,139.4 L614.1,139.5 L614.1,139.5 L614.0,139.5 L613.9,139.5 L613.7,139.6 L613.6,139.6 L613.6,139.6 L613.5,139.6 L613.3,139.6 L613.2,139.7 L613.1,139.7 L613.1,139.7 L612.8,139.7 L612.8,139.7 L612.8,139.7 L612.4,139.8 L612.2,139.8 L611.9,139.9 L611.8,139.9 L611.4,140.1 L611.3,140.1 L611.0,140.3 L610.8,140.3 L610.5,140.5 L610.4,140.6 L610.1,140.8 L610.0,140.9 L609.7,141.2 L609.7,141.3 L609.4,141.5 L609.3,141.6 L609.1,141.9 L609.0,142.0 L608.9,142.4 L608.8,142.5 L608.7,142.8 L608.6,142.9 L608.5,143.3 L608.5,143.4Z" fill="none" stroke="#1e1e1e" stroke-width="2.1" stroke-linejoin="round"/>
<path d="M517.3,233.5 L517.2,233.5 L516.8,233.5 L516.7,233.5 L516.3,233.6 L516.2,233.6 L515.9,233.7 L515.8,233.7 L515.4,233.9 L515.3,233.9 L515.0,234.1 L514.9,234.1 L514.5,234.3 L514.4,234.4 L514.2,234.6 L514.1,234.7 L513.8,234.9 L513.7,235.0 L513.5,235.3 L513.4,235.4 L513.2,235.7 L513.1,235.8 L512.9,236.1 L512.8,236.2 L512.7,236.5 L512.6,236.6 L512.5,237.0 L512.5,237.1 L512.4,237.4 L512.4,237.6 L512.3,237.9 L512.3,238.0 L512.3,238.4 L512.3,238.5 L512.3,238.9 L512.3,239.0 L512.9,245.7 L512.9,245.8 L513.0,246.2 L513.0,246.3 L513.1,246.7 L513.1,246.8 L513.3,247.1 L513.3,247.3 L513.5,247.6 L513.5,247.7 L513.7,248.0 L513.8,248.1 L514.0,248.4 L514.1,248.5 L514.4,248.8 L514.4,248.9 L514.7,249.2 L514.8,249.2 L515.1,249.5 L515.2,249.5 L515.6,249.7 L515.7,249.8 L516.0,249.9 L516.1,250.0 L516.5,250.1 L516.6,250.1 L516.7,250.1 L516.7,250.2 L517.0,250.2 L517.0,250.3 L517.1,250.3 L517.1,250.3 L517.4,250.4 L517.4,250.4 L517.5,250.4 L517.5,250.5 L517.8,250.6 L517.8,250.6 L517.9,250.6 L517.9,250.6 L518.1,250.7 L518.2,250.8 L518.3,250.8 L518.3,250.8 L518.5,251.0 L518.6,251.0 L518.6,251.0 L518.7,251.0 L518.9,251.2 L518.9,251.2 L519.0,251.2 L519.0,251.3 L519.2,251.4 L519.3,251.5 L519.3,251.5 L519.4,251.5 L519.6,251.7 L519.6,251.7 L519.7,251.8 L519.7,251.8 L519.9,252.0 L520.0,252.0 L520.0,252.0 L520.1,252.1 L520.2,252.3 L520.3,252.3 L520.3,252.3 L520.4,252.4 L520.5,252.6 L520.6,252.6 L520.6,252.7 L520.7,252.7 L520.8,252.9 L520.9,252.9 L520.9,253.0 L520.9,253.0 L521.1,253.2 L521.1,253.3 L521.2,253.3 L521.2,253.4 L521.3,253.6 L521.4,253.6 L521.4,253.7 L521.4,253.7 L521.6,253.9 L521.6,254.0 L521.6,254.0 L521.7,254.1 L521.8,254.3 L521.8,254.4 L521.9,254.4 L521.9,254.5 L522.0,254.7 L522.0,254.8 L522.0,254.8 L522.1,254.9 L522.2,255.1 L522.2,255.1 L522.2,255.2 L522.2,255.3 L522.3,255.5 L522.4,255.6 L522.4,255.6 L522.4,255.7 L522.5,255.9 L522.5,256.0 L522.5,256.0 L522.5,256.1 L522.6,256.3 L522.6,256.4 L522.6,256.4 L522.6,256.5 L522.7,256.7 L522.7,256.8 L522.7,256.9 L522.7,256.9 L522.8,257.2 L522.8,257.2 L522.8,257.3 L522.8,257.3 L522.8,257.6 L522.8,257.7 L522.8,257.7 L522.8,257.8 L522.9,258.0 L522.9,258.1 L522.9,258.1 L522.9,258.2 L522.9,258.5 L522.9,258.5 L522.9,258.6 L522.9,258.6 L522.9,258.9 L522.9,258.9 L522.9,259.0 L522.9,259.1 L522.8,259.3 L522.8,259.4 L522.8,259.4 L522.8,259.5 L522.8,259.7 L522.8,259.8 L522.8,259.9 L522.8,259.9 L522.7,260.2 L522.7,260.2 L522.7,260.3 L522.7,260.4 L522.6,260.6 L522.6,260.7 L522.6,260.7 L522.6,260.8 L522.5,261.0 L522.5,261.1 L522.5,261.1 L522.5,261.2 L522.4,261.4 L522.4,261.5 L522.4,261.5 L522.3,261.6 L522.2,261.8 L522.2,261.9 L522.2,261.9 L522.2,262.0 L522.1,262.2 L522.0,262.3 L522.0,262.3 L522.0,262.4 L521.9,262.6 L521.9,262.7 L521.8,262.7 L521.8,262.8 L521.7,263.0 L521.6,263.0 L521.6,263.1 L521.6,263.1 L521.4,263.4 L521.4,263.4 L521.4,263.5 L521.3,263.5 L521.2,263.7 L521.2,263.8 L521.1,263.8 L521.1,263.9 L520.9,264.1 L520.9,264.1 L520.9,264.2 L520.8,264.2 L520.7,264.4 L520.6,264.4 L520.6,264.5 L520.5,264.5 L520.4,264.7 L520.3,264.7 L520.3,264.8 L520.2,264.8 L520.1,265.0 L520.0,265.0 L520.0,265.1 L519.9,265.1 L519.7,265.3 L519.7,265.3 L519.6,265.4 L519.6,265.4 L519.4,265.6 L519.3,265.6 L519.3,265.6 L519.2,265.7 L519.0,265.8 L519.0,265.8 L518.9,265.9 L518.9,265.9 L518.7,266.0 L518.6,266.1 L518.6,266.1 L518.5,266.1 L518.3,266.3 L518.3,266.3 L518.2,266.3 L518.1,266.3 L518.0,266.4 L518.0,266.4 L517.6,266.6 L517.5,266.7 L517.2,266.9 L517.1,267.0 L516.8,267.3 L516.7,267.3 L516.5,267.6 L516.4,267.7 L516.2,268.0 L516.1,268.1 L515.9,268.4 L515.8,268.5 L515.7,268.9 L515.6,269.0 L515.5,269.3 L515.4,269.4 L515.3,269.8 L515.3,269.9 L515.3,270.3 L515.3,270.4 L515.2,270.8 L515.2,270.9 L515.2,271.3 L515.2,271.4 L517.3,294.0 L517.3,294.1 L517.4,294.4 L517.4,294.6 L517.5,294.9 L517.5,295.0 L517.6,295.4 L517.7,295.5 L517.8,295.8 L517.9,295.9 L518.1,296.2 L518.1,296.3 L518.3,296.6 L518.4,296.7 L518.6,297.0 L518.7,297.1 L519.0,297.3 L519.1,297.4 L519.4,297.6 L519.5,297.7 L519.8,297.9 L519.9,297.9 L520.2,298.1 L520.3,298.2 L520.6,298.3 L520.8,298.3 L521.1,298.4 L521.2,298.5 L521.6,298.5 L521.7,298.5 L522.1,298.6 L522.2,298.6 L522.8,298.6 L522.9,298.6 L523.9,298.6 L523.9,298.6 L524.9,298.7 L524.9,298.7 L525.9,298.7 L525.9,298.7 L527.0,298.8 L527.0,298.8 L528.0,298.9 L528.0,298.9 L529.0,299.0 L529.0,299.0 L530.0,299.1 L530.1,299.1 L531.1,299.2 L531.1,299.2 L532.1,299.3 L532.1,299.3 L533.1,299.4 L533.1,299.4 L534.1,299.5 L534.2,299.5 L535.2,299.6 L535.2,299.6 L536.2,299.8 L536.2,299.8 L536.9,299.9 L537.0,299.9 L537.4,299.9 L537.5,299.9 L537.9,299.9 L538.0,299.9 L538.3,299.9 L538.5,299.9 L538.8,299.8 L538.9,299.8 L539.3,299.7 L539.4,299.6 L539.7,299.5 L539.8,299.5 L540.2,299.3 L540.3,299.2 L540.6,299.0 L540.7,299.0 L540.9,298.7 L541.0,298.6 L541.3,298.4 L541.4,298.3 L541.6,298.0 L541.7,297.9 L541.9,297.6 L541.9,297.5 L542.1,297.2 L542.2,297.1 L542.3,296.8 L542.4,296.7 L542.5,296.3 L542.5,296.2 L548.5,274.4 L548.5,274.3 L548.6,273.9 L548.7,273.8 L548.7,273.4 L548.7,273.3 L548.7,272.9 L548.7,272.8 L548.7,272.4 L548.7,272.3 L548.6,271.9 L548.6,271.8 L548.5,271.4 L548.4,271.3 L548.3,271.0 L548.2,270.8 L548.1,270.5 L548.0,270.4 L547.8,270.1 L547.7,270.0 L547.5,269.7 L547.4,269.6 L547.1,269.3 L547.0,269.3 L546.7,269.0 L546.7,268.9 L546.6,268.9 L546.4,268.8 L546.4,268.7 L546.3,268.7 L546.3,268.7 L546.1,268.5 L546.1,268.5 L546.0,268.4 L546.0,268.4 L545.8,268.2 L545.8,268.2 L545.7,268.1 L545.7,268.1 L545.5,267.9 L545.5,267.9 L545.4,267.8 L545.4,267.8 L545.2,267.6 L545.2,267.5 L545.1,267.5 L545.1,267.4 L544.9,267.2 L544.9,267.2 L544.9,267.1 L544.8,267.1 L544.7,266.9 L544.7,266.8 L544.6,266.8 L544.6,266.7 L544.5,266.5 L544.4,266.5 L544.4,266.4 L544.4,266.4 L544.2,266.2 L544.2,266.1 L544.2,266.0 L544.2,266.0 L544.0,265.8 L544.0,265.7 L544.0,265.7 L544.0,265.6 L543.9,265.4 L543.8,265.3 L543.8,265.3 L543.8,265.2 L543.7,265.0 L543.7,264.9 L543.7,264.9 L543.6,264.8 L543.6,264.6 L543.5,264.5 L543.5,264.5 L543.5,264.4 L543.4,264.2 L543.4,264.1 L543.4,264.0 L543.4,264.0 L543.3,263.7 L543.3,263.7 L543.3,263.6 L543.3,263.6 L543.3,263.3 L543.3,263.2 L543.2,263.2 L543.2,263.1 L543.2,262.9 L543.2,262.8 L543.2,262.8 L543.2,262.7 L543.2,262.4 L543.2,262.4 L543.2,262.3 L543.2,262.3 L543.2,262.0 L543.2,262.0 L543.2,261.9 L543.2,261.8 L543.2,261.6 L543.2,261.5 L543.2,261.5 L543.2,261.4 L543.2,261.2 L543.2,261.1 L543.2,261.0 L543.2,261.0 L543.2,260.7 L543.2,260.7 L543.3,260.6 L543.3,260.5 L543.3,260.3 L543.3,260.2 L543.3,260.2 L543.3,260.1 L543.4,259.9 L543.4,259.8 L543.4,259.8 L543.4,259.7 L543.5,259.5 L543.5,259.4 L543.5,259.3 L543.6,259.3 L543.6,259.0 L543.7,259.0 L543.7,258.9 L543.7,258.9 L543.8,258.6 L543.8,258.6 L543.8,258.5 L543.9,258.5 L544.0,258.2 L544.0,258.2 L544.0,258.1 L544.0,258.1 L544.2,257.9 L544.2,257.8 L544.2,257.8 L544.2,257.7 L544.4,257.5 L544.4,257.4 L544.4,257.4 L544.5,257.3 L544.6,257.1 L544.6,257.1 L544.7,257.0 L544.7,257.0 L544.8,256.8 L544.9,256.7 L544.9,256.7 L544.9,256.6 L545.1,256.4 L545.1,256.4 L545.2,256.3 L545.2,256.3 L545.4,256.1 L545.4,256.0 L545.5,256.0 L545.5,255.9 L545.7,255.8 L545.7,255.7 L545.8,255.7 L545.8,255.6 L546.0,255.5 L546.0,255.4 L546.1,255.4 L546.1,255.3 L546.3,255.2 L546.3,255.1 L546.4,255.1 L546.4,255.1 L546.6,254.9 L546.7,254.9 L546.7,254.8 L546.8,254.8 L547.0,254.7 L547.0,254.6 L547.1,254.6 L547.1,254.6 L547.4,254.4 L547.4,254.4 L547.5,254.4 L547.5,254.3 L547.7,254.2 L547.8,254.2 L547.8,254.2 L547.9,254.1 L548.1,254.0 L548.2,254.0 L548.2,254.0 L548.3,253.9 L548.5,253.8 L548.6,253.8 L548.6,253.8 L548.7,253.8 L548.9,253.7 L549.0,253.7 L549.0,253.6 L549.1,253.6 L549.3,253.5 L549.4,253.5 L549.4,253.5 L549.5,253.5 L549.7,253.4 L549.8,253.4 L549.8,253.4 L549.9,253.4 L550.1,253.3 L550.2,253.3 L550.3,253.3 L550.3,253.3 L550.6,253.2 L550.6,253.2 L550.7,253.2 L550.8,253.2 L551.0,253.2 L551.0,253.2 L551.1,253.2 L551.5,253.1 L551.6,253.1 L552.0,253.0 L552.1,253.0 L552.4,252.8 L552.5,252.8 L552.9,252.6 L553.0,252.6 L553.3,252.4 L553.4,252.3 L553.7,252.1 L553.8,252.0 L554.1,251.7 L554.2,251.6 L554.4,251.4 L554.5,251.3 L554.7,250.9 L554.8,250.8 L555.0,250.5 L555.0,250.4 L555.2,250.1 L555.2,249.9 L555.4,249.6 L555.4,249.5 L557.2,243.0 L557.2,242.9 L557.3,242.5 L557.3,242.4 L557.3,242.1 L557.3,241.9 L557.4,241.6 L557.4,241.5 L557.3,241.1 L557.3,241.0 L557.2,240.6 L557.2,240.5 L557.1,240.1 L557.1,240.0 L557.0,239.7 L556.9,239.6 L556.7,239.2 L556.7,239.1 L556.5,238.8 L556.4,238.7 L556.2,238.4 L556.1,238.3 L555.9,238.1 L555.8,238.0 L555.5,237.8 L555.4,237.7 L555.1,237.5 L555.0,237.4 L554.7,237.2 L554.6,237.2 L554.3,237.0 L554.1,237.0 L553.8,236.9 L553.7,236.8 L553.3,236.7 L553.2,236.7 L552.6,236.6 L552.6,236.6 L550.6,236.2 L550.5,236.2 L548.6,235.9 L548.5,235.9 L546.5,235.6 L546.5,235.6 L544.5,235.3 L544.5,235.3 L542.5,235.0 L542.4,235.0 L540.5,234.8 L540.4,234.8 L538.4,234.6 L538.4,234.6 L536.4,234.4 L536.3,234.4 L534.3,234.2 L534.3,234.2 L532.3,234.0 L532.3,234.0 L530.3,233.9 L530.2,233.9 L528.2,233.8 L528.2,233.8 L526.2,233.7 L526.1,233.7 L524.1,233.6 L524.1,233.6 L522.1,233.5 L522.0,233.5 L520.0,233.5 L520.0,233.5 L518.0,233.5 L517.9,233.5Z" fill="none" stroke="#1e1e1e" stroke-width="2.1" stroke-linejoin="round"/>
<path d="M510.5,160.6 L510.5,160.6 L510.1,160.6 L510.0,160.7 L509.6,160.7 L509.5,160.7 L509.1,160.8 L509.0,160.9 L508.7,161.0 L508.6,161.1 L508.3,161.2 L508.2,161.3 L507.8,161.5 L507.7,161.5 L507.5,161.8 L507.4,161.8 L507.1,162.1 L507.0,162.2 L506.8,162.4 L506.7,162.5 L506.5,162.8 L506.4,162.9 L506.3,163.2 L506.2,163.3 L506.0,163.7 L506.0,163.8 L505.9,164.1 L505.8,164.2 L505.8,164.6 L505.7,164.7 L505.7,165.0 L505.7,165.2 L505.6,165.5 L505.6,165.6 L505.7,166.0 L505.7,166.1 L506.4,173.9 L506.4,173.9 L506.4,174.4 L506.5,174.5 L506.6,174.8 L506.6,175.0 L506.7,175.3 L506.8,175.4 L506.9,175.8 L507.0,175.9 L507.2,176.2 L507.3,176.3 L507.5,176.6 L507.6,176.7 L507.8,177.0 L507.9,177.1 L508.2,177.3 L508.3,177.4 L508.6,177.6 L508.7,177.7 L509.0,177.9 L509.1,177.9 L509.5,178.1 L509.6,178.1 L510.0,178.3 L510.0,178.3 L510.1,178.3 L510.2,178.3 L510.4,178.4 L510.5,178.4 L510.5,178.5 L510.6,178.5 L510.8,178.6 L510.9,178.6 L510.9,178.6 L511.0,178.6 L511.2,178.7 L511.3,178.8 L511.3,178.8 L511.4,178.8 L511.6,178.9 L511.7,179.0 L511.7,179.0 L511.8,179.0 L512.0,179.1 L512.0,179.2 L512.1,179.2 L512.1,179.2 L512.4,179.4 L512.4,179.4 L512.5,179.4 L512.5,179.5 L512.7,179.6 L512.8,179.6 L512.8,179.7 L512.9,179.7 L513.1,179.9 L513.1,179.9 L513.1,179.9 L513.2,180.0 L513.4,180.1 L513.4,180.2 L513.5,180.2 L513.5,180.3 L513.7,180.4 L513.7,180.5 L513.8,180.5 L513.8,180.6 L514.0,180.7 L514.0,180.8 L514.1,180.8 L514.1,180.9 L514.3,181.1 L514.3,181.1 L514.4,181.2 L514.4,181.2 L514.6,181.4 L514.6,181.5 L514.6,181.5 L514.7,181.6 L514.8,181.8 L514.8,181.8 L514.9,181.9 L514.9,181.9 L515.0,182.1 L515.1,182.2 L515.1,182.2 L515.1,182.3 L515.3,182.5 L515.3,182.6 L515.3,182.6 L515.3,182.7 L515.5,182.9 L515.5,182.9 L515.5,183.0 L515.5,183.0 L515.6,183.3 L515.7,183.3 L515.7,183.4 L515.7,183.4 L515.8,183.7 L515.8,183.7 L515.8,183.8 L515.9,183.8 L515.9,184.1 L516.0,184.1 L516.0,184.2 L516.0,184.3 L516.1,184.5 L516.1,184.6 L516.1,184.6 L516.1,184.7 L516.2,184.9 L516.2,185.0 L516.2,185.0 L516.2,185.1 L516.2,185.3 L516.2,185.4 L516.3,185.5 L516.3,185.5 L516.3,185.8 L516.3,185.8 L516.3,185.9 L516.3,186.0 L516.3,186.2 L516.3,186.3 L516.3,186.3 L516.3,186.4 L516.3,186.6 L516.3,186.7 L516.3,186.8 L516.3,186.8 L516.3,187.1 L516.3,187.1 L516.3,187.2 L516.3,187.2 L516.3,187.5 L516.3,187.6 L516.3,187.6 L516.3,187.7 L516.3,187.9 L516.3,188.0 L516.2,188.0 L516.2,188.1 L516.2,188.4 L516.2,188.4 L516.2,188.5 L516.2,188.5 L516.1,188.8 L516.1,188.8 L516.1,188.9 L516.1,189.0 L516.0,189.2 L516.0,189.3 L516.0,189.3 L515.9,189.4 L515.9,189.6 L515.8,189.7 L515.8,189.7 L515.8,189.8 L515.7,190.0 L515.7,190.1 L515.7,190.1 L515.6,190.2 L515.5,190.4 L515.5,190.5 L515.5,190.5 L515.5,190.6 L515.3,190.8 L515.3,190.8 L515.3,190.9 L515.3,191.0 L515.1,191.2 L515.1,191.2 L515.1,191.3 L515.0,191.3 L514.9,191.5 L514.9,191.6 L514.8,191.6 L514.8,191.7 L514.7,191.9 L514.6,191.9 L514.6,192.0 L514.6,192.0 L514.4,192.2 L514.4,192.3 L514.3,192.3 L514.3,192.4 L514.1,192.6 L514.1,192.6 L514.0,192.7 L514.0,192.7 L513.8,192.9 L513.8,192.9 L513.7,193.0 L513.7,193.0 L513.5,193.2 L513.5,193.2 L513.4,193.3 L513.4,193.3 L513.2,193.5 L513.1,193.5 L513.1,193.5 L513.1,193.6 L512.9,193.7 L512.8,193.8 L512.8,193.8 L512.7,193.8 L512.5,194.0 L512.5,194.0 L512.4,194.1 L512.4,194.1 L512.1,194.2 L512.1,194.3 L512.0,194.3 L512.0,194.3 L511.8,194.4 L511.7,194.5 L511.7,194.5 L511.6,194.5 L511.5,194.6 L511.4,194.6 L511.1,194.8 L511.0,194.9 L510.7,195.1 L510.6,195.2 L510.3,195.4 L510.2,195.5 L509.9,195.8 L509.8,195.9 L509.6,196.2 L509.5,196.3 L509.4,196.6 L509.3,196.7 L509.1,197.0 L509.1,197.2 L508.9,197.5 L508.9,197.6 L508.8,198.0 L508.8,198.1 L508.7,198.5 L508.7,198.6 L508.7,199.0 L508.7,199.1 L508.7,199.5 L508.7,199.6 L510.0,213.9 L510.0,214.0 L510.1,214.4 L510.1,214.5 L510.2,214.9 L510.2,215.0 L510.4,215.4 L510.4,215.5 L510.6,215.8 L510.6,215.9 L510.8,216.2 L510.9,216.3 L511.1,216.6 L511.2,216.7 L511.4,217.0 L511.5,217.1 L511.8,217.3 L511.9,217.4 L512.2,217.6 L512.3,217.7 L512.6,217.9 L512.7,218.0 L513.1,218.1 L513.2,218.2 L513.5,218.3 L513.6,218.3 L514.0,218.4 L514.1,218.4 L514.5,218.5 L514.6,218.5 L515.0,218.5 L515.1,218.5 L517.3,218.5 L517.3,218.5 L517.3,218.5 L517.3,218.5 L519.6,218.5 L519.6,218.5 L519.6,218.5 L519.6,218.5 L521.8,218.5 L521.9,218.5 L521.9,218.5 L521.9,218.5 L524.1,218.6 L524.1,218.6 L524.1,218.6 L524.2,218.6 L526.4,218.7 L526.4,218.7 L526.4,218.7 L526.4,218.7 L528.7,218.8 L528.7,218.8 L528.7,218.8 L528.7,218.8 L531.0,218.9 L531.0,218.9 L531.0,218.9 L531.0,218.9 L533.2,219.1 L533.2,219.1 L533.3,219.1 L533.3,219.1 L535.5,219.2 L535.5,219.2 L535.5,219.2 L535.6,219.2 L537.8,219.4 L537.8,219.4 L537.8,219.4 L537.8,219.4 L540.1,219.7 L540.1,219.7 L540.1,219.7 L540.1,219.7 L542.3,219.9 L542.3,219.9 L542.3,219.9 L542.4,219.9 L544.6,220.2 L544.6,220.2 L544.6,220.2 L544.6,220.2 L546.9,220.5 L546.9,220.5 L546.9,220.5 L546.9,220.5 L549.1,220.8 L549.1,220.8 L549.1,220.8 L549.1,220.8 L551.4,221.2 L551.4,221.2 L551.4,221.2 L551.4,221.2 L553.6,221.5 L553.6,221.5 L553.6,221.5 L553.7,221.5 L555.9,221.9 L555.9,221.9 L555.9,221.9 L555.9,221.9 L558.1,222.4 L558.1,222.4 L558.5,222.4 L558.6,222.4 L559.0,222.4 L559.1,222.4 L559.5,222.4 L559.6,222.4 L560.0,222.3 L560.1,222.3 L560.5,222.2 L560.6,222.2 L560.9,222.1 L561.1,222.0 L561.4,221.8 L561.5,221.8 L561.8,221.6 L561.9,221.5 L562.2,221.3 L562.3,221.2 L562.6,221.0 L562.7,220.9 L562.9,220.6 L563.0,220.5 L563.2,220.2 L563.3,220.1 L563.5,219.8 L563.5,219.6 L563.7,219.3 L563.7,219.2 L563.8,218.8 L563.8,218.7 L567.7,204.8 L567.7,204.8 L567.8,204.4 L567.8,204.2 L567.9,203.9 L567.9,203.7 L567.9,203.4 L567.9,203.2 L567.8,202.9 L567.8,202.8 L567.7,202.4 L567.7,202.3 L567.6,201.9 L567.6,201.8 L567.4,201.4 L567.4,201.3 L567.2,201.0 L567.1,200.9 L566.9,200.6 L566.9,200.5 L566.6,200.2 L566.5,200.1 L566.3,199.8 L566.2,199.7 L565.9,199.5 L565.8,199.4 L565.8,199.4 L565.6,199.3 L565.5,199.2 L565.5,199.2 L565.5,199.1 L565.3,199.0 L565.2,198.9 L565.2,198.9 L565.1,198.9 L564.9,198.7 L564.9,198.6 L564.9,198.6 L564.8,198.6 L564.6,198.4 L564.6,198.3 L564.6,198.3 L564.5,198.2 L564.4,198.1 L564.3,198.0 L564.3,198.0 L564.2,197.9 L564.1,197.7 L564.1,197.7 L564.0,197.6 L564.0,197.6 L563.8,197.4 L563.8,197.3 L563.8,197.3 L563.7,197.2 L563.6,197.0 L563.6,196.9 L563.5,196.9 L563.5,196.8 L563.4,196.6 L563.4,196.6 L563.3,196.5 L563.3,196.5 L563.2,196.2 L563.2,196.2 L563.1,196.1 L563.1,196.1 L563.0,195.9 L563.0,195.8 L563.0,195.7 L562.9,195.7 L562.9,195.4 L562.8,195.4 L562.8,195.3 L562.8,195.3 L562.7,195.0 L562.7,195.0 L562.7,194.9 L562.7,194.9 L562.6,194.6 L562.6,194.6 L562.6,194.5 L562.5,194.4 L562.5,194.2 L562.5,194.1 L562.5,194.1 L562.5,194.0 L562.4,193.8 L562.4,193.7 L562.4,193.7 L562.4,193.6 L562.4,193.4 L562.4,193.3 L562.3,193.2 L562.3,193.2 L562.3,192.9 L562.3,192.9 L562.3,192.8 L562.3,192.7 L562.3,192.5 L562.3,192.4 L562.3,192.4 L562.3,192.3 L562.3,192.1 L562.3,192.0 L562.3,191.9 L562.3,191.9 L562.3,191.6 L562.3,191.6 L562.4,191.5 L562.4,191.4 L562.4,191.2 L562.4,191.1 L562.4,191.1 L562.4,191.0 L562.5,190.8 L562.5,190.7 L562.5,190.7 L562.5,190.6 L562.5,190.4 L562.6,190.3 L562.6,190.2 L562.6,190.2 L562.7,189.9 L562.7,189.9 L562.7,189.8 L562.7,189.8 L562.8,189.5 L562.8,189.5 L562.8,189.4 L562.9,189.3 L562.9,189.1 L563.0,189.1 L563.0,189.0 L563.0,188.9 L563.1,188.7 L563.1,188.7 L563.2,188.6 L563.2,188.6 L563.3,188.3 L563.3,188.3 L563.4,188.2 L563.4,188.2 L563.5,188.0 L563.5,187.9 L563.6,187.8 L563.6,187.8 L563.7,187.6 L563.8,187.5 L563.8,187.5 L563.8,187.4 L564.0,187.2 L564.0,187.2 L564.1,187.1 L564.1,187.1 L564.2,186.9 L564.3,186.8 L564.3,186.8 L564.4,186.7 L564.5,186.6 L564.6,186.5 L564.6,186.5 L564.6,186.4 L564.8,186.2 L564.9,186.2 L564.9,186.2 L564.9,186.1 L565.1,185.9 L565.2,185.9 L565.2,185.9 L565.3,185.8 L565.5,185.7 L565.5,185.6 L565.5,185.6 L565.6,185.5 L565.8,185.4 L565.8,185.3 L565.9,185.3 L565.9,185.3 L566.1,185.1 L566.2,185.1 L566.2,185.1 L566.3,185.0 L566.5,184.9 L566.6,184.9 L566.6,184.8 L566.7,184.8 L566.9,184.7 L566.9,184.7 L567.0,184.6 L567.0,184.6 L567.3,184.5 L567.3,184.5 L567.4,184.4 L567.4,184.4 L567.7,184.3 L567.7,184.3 L567.8,184.3 L567.8,184.2 L568.1,184.1 L568.1,184.1 L568.2,184.1 L568.2,184.1 L568.5,184.0 L568.5,184.0 L568.6,184.0 L568.6,184.0 L568.9,183.9 L568.9,183.9 L569.0,183.9 L569.1,183.8 L569.3,183.8 L569.4,183.8 L569.4,183.8 L569.5,183.8 L569.7,183.7 L569.8,183.7 L569.8,183.7 L569.9,183.7 L570.2,183.7 L570.2,183.6 L570.2,183.6 L570.6,183.6 L570.7,183.6 L571.1,183.5 L571.2,183.4 L571.6,183.3 L571.7,183.3 L572.0,183.1 L572.1,183.0 L572.5,182.8 L572.6,182.8 L572.9,182.5 L573.0,182.5 L573.2,182.2 L573.3,182.1 L573.6,181.8 L573.7,181.7 L573.9,181.4 L573.9,181.3 L574.1,181.0 L574.2,180.9 L574.3,180.5 L574.4,180.4 L574.5,180.0 L574.5,180.0 L576.6,172.4 L576.6,172.4 L576.7,172.0 L576.7,171.9 L576.8,171.5 L576.8,171.4 L576.8,171.0 L576.8,170.9 L576.8,170.6 L576.8,170.4 L576.7,170.1 L576.7,170.0 L576.6,169.6 L576.5,169.5 L576.4,169.2 L576.4,169.0 L576.2,168.7 L576.2,168.6 L576.0,168.3 L575.9,168.2 L575.7,167.9 L575.6,167.8 L575.4,167.6 L575.3,167.5 L575.0,167.2 L574.9,167.2 L574.6,167.0 L574.5,166.9 L574.2,166.7 L574.1,166.6 L573.8,166.5 L573.7,166.4 L573.3,166.3 L573.2,166.3 L572.9,166.2 L572.8,166.2 L571.8,166.0 L571.8,165.9 L568.7,165.3 L568.6,165.3 L565.6,164.8 L565.5,164.7 L562.4,164.2 L562.4,164.2 L559.3,163.7 L559.2,163.7 L556.1,163.2 L556.1,163.2 L553.0,162.8 L552.9,162.8 L549.8,162.4 L549.7,162.4 L546.6,162.0 L546.6,162.0 L543.4,161.7 L543.4,161.7 L540.3,161.4 L540.2,161.4 L537.1,161.2 L537.0,161.2 L533.9,161.0 L533.9,161.0 L530.7,160.8 L530.7,160.8 L527.5,160.7 L527.5,160.7 L524.4,160.6 L524.3,160.6 L521.2,160.5 L521.1,160.5 L518.0,160.5 L517.9,160.5 L514.8,160.5 L514.7,160.5 L511.6,160.6 L511.5,160.6Z" fill="none" stroke="#1e1e1e" stroke-width="2.1" stroke-linejoin="round"/>
<path d="M503.9,88.8 L503.9,88.8 L503.5,88.8 L503.4,88.8 L503.0,88.9 L502.9,88.9 L502.6,89.0 L502.5,89.1 L502.1,89.2 L502.0,89.3 L501.7,89.4 L501.6,89.5 L501.3,89.7 L501.2,89.7 L500.9,90.0 L500.8,90.0 L500.6,90.3 L500.5,90.4 L500.2,90.6 L500.2,90.7 L500.0,91.0 L499.9,91.1 L499.7,91.4 L499.7,91.5 L499.5,91.9 L499.5,92.0 L499.3,92.3 L499.3,92.4 L499.2,92.8 L499.2,92.9 L499.1,93.2 L499.1,93.4 L499.1,93.7 L499.1,93.8 L499.1,94.2 L499.1,94.3 L500.0,104.1 L500.0,104.2 L500.1,104.6 L500.1,104.7 L500.2,105.1 L500.2,105.2 L500.4,105.5 L500.4,105.7 L500.6,106.0 L500.6,106.1 L500.8,106.4 L500.9,106.5 L501.1,106.8 L501.2,106.9 L501.5,107.2 L501.6,107.3 L501.8,107.6 L501.9,107.6 L502.2,107.9 L502.4,107.9 L502.7,108.1 L502.8,108.2 L503.1,108.3 L503.3,108.4 L503.7,108.5 L503.7,108.5 L503.8,108.5 L503.8,108.6 L504.1,108.6 L504.1,108.7 L504.2,108.7 L504.2,108.7 L504.5,108.8 L504.5,108.8 L504.6,108.8 L504.6,108.9 L504.9,109.0 L504.9,109.0 L505.0,109.0 L505.0,109.0 L505.3,109.2 L505.3,109.2 L505.4,109.2 L505.4,109.2 L505.6,109.4 L505.7,109.4 L505.7,109.4 L505.8,109.5 L506.0,109.6 L506.1,109.6 L506.1,109.7 L506.2,109.7 L506.4,109.8 L506.4,109.9 L506.5,109.9 L506.5,109.9 L506.7,110.1 L506.8,110.1 L506.8,110.2 L506.8,110.2 L507.0,110.4 L507.1,110.4 L507.1,110.5 L507.2,110.5 L507.4,110.7 L507.4,110.7 L507.4,110.8 L507.5,110.8 L507.7,111.0 L507.7,111.0 L507.7,111.1 L507.8,111.1 L507.9,111.3 L508.0,111.3 L508.0,111.4 L508.1,111.4 L508.2,111.6 L508.2,111.7 L508.3,111.7 L508.3,111.8 L508.5,112.0 L508.5,112.0 L508.5,112.1 L508.6,112.1 L508.7,112.4 L508.7,112.4 L508.8,112.5 L508.8,112.5 L508.9,112.7 L508.9,112.8 L509.0,112.8 L509.0,112.9 L509.1,113.1 L509.1,113.2 L509.2,113.2 L509.2,113.3 L509.3,113.5 L509.3,113.6 L509.3,113.6 L509.4,113.7 L509.4,113.9 L509.5,114.0 L509.5,114.0 L509.5,114.1 L509.6,114.3 L509.6,114.4 L509.6,114.4 L509.6,114.5 L509.7,114.7 L509.7,114.8 L509.7,114.8 L509.8,114.9 L509.8,115.1 L509.8,115.2 L509.8,115.3 L509.8,115.3 L509.9,115.6 L509.9,115.6 L509.9,115.7 L509.9,115.8 L509.9,116.0 L509.9,116.1 L510.0,116.1 L510.0,116.2 L510.0,116.4 L510.0,116.5 L510.0,116.6 L510.0,116.6 L510.0,116.9 L510.0,116.9 L510.0,117.0 L510.0,117.0 L510.0,117.3 L510.0,117.4 L510.0,117.4 L510.0,117.5 L510.0,117.7 L510.0,117.8 L509.9,117.8 L509.9,117.9 L509.9,118.2 L509.9,118.2 L509.9,118.3 L509.9,118.3 L509.8,118.6 L509.8,118.6 L509.8,118.7 L509.8,118.8 L509.8,119.0 L509.7,119.1 L509.7,119.1 L509.7,119.2 L509.6,119.4 L509.6,119.5 L509.6,119.5 L509.6,119.6 L509.5,119.8 L509.5,119.9 L509.5,119.9 L509.4,120.0 L509.4,120.2 L509.3,120.3 L509.3,120.3 L509.3,120.4 L509.2,120.6 L509.2,120.7 L509.1,120.7 L509.1,120.8 L509.0,121.0 L509.0,121.1 L508.9,121.1 L508.9,121.2 L508.8,121.4 L508.8,121.4 L508.7,121.5 L508.7,121.6 L508.6,121.8 L508.5,121.8 L508.5,121.9 L508.5,121.9 L508.3,122.1 L508.3,122.2 L508.2,122.2 L508.2,122.3 L508.1,122.5 L508.0,122.5 L508.0,122.6 L507.9,122.6 L507.8,122.8 L507.7,122.8 L507.7,122.9 L507.7,122.9 L507.5,123.1 L507.4,123.2 L507.4,123.2 L507.4,123.2 L507.2,123.4 L507.1,123.5 L507.1,123.5 L507.0,123.5 L506.8,123.7 L506.8,123.7 L506.8,123.8 L506.7,123.8 L506.5,124.0 L506.5,124.0 L506.4,124.0 L506.4,124.1 L506.2,124.2 L506.1,124.3 L506.1,124.3 L506.0,124.3 L505.8,124.5 L505.7,124.5 L505.7,124.5 L505.6,124.5 L505.4,124.7 L505.4,124.7 L505.3,124.7 L505.3,124.8 L505.1,124.8 L505.1,124.9 L504.7,125.1 L504.6,125.1 L504.3,125.3 L504.2,125.4 L503.9,125.7 L503.8,125.7 L503.6,126.0 L503.5,126.1 L503.3,126.4 L503.2,126.5 L503.0,126.8 L502.9,126.9 L502.8,127.3 L502.7,127.4 L502.6,127.7 L502.6,127.9 L502.5,128.2 L502.4,128.3 L502.4,128.7 L502.4,128.8 L502.3,129.2 L502.3,129.3 L502.4,129.7 L502.4,129.8 L503.3,140.1 L503.3,140.2 L503.4,140.6 L503.4,140.7 L503.5,141.0 L503.5,141.2 L503.6,141.5 L503.7,141.6 L503.9,142.0 L503.9,142.1 L504.1,142.4 L504.2,142.5 L504.4,142.8 L504.5,142.9 L504.7,143.2 L504.8,143.3 L505.1,143.5 L505.2,143.6 L505.5,143.8 L505.6,143.9 L506.0,144.1 L506.1,144.1 L506.4,144.3 L506.5,144.3 L506.9,144.5 L507.0,144.5 L507.4,144.6 L507.5,144.6 L507.9,144.6 L508.0,144.7 L508.4,144.7 L508.5,144.7 L510.6,144.6 L510.6,144.6 L510.6,144.6 L510.6,144.6 L514.0,144.5 L514.0,144.5 L514.1,144.5 L514.1,144.5 L517.5,144.5 L517.5,144.5 L517.5,144.5 L517.5,144.5 L520.9,144.5 L520.9,144.5 L520.9,144.5 L520.9,144.5 L524.3,144.6 L524.4,144.6 L524.4,144.6 L524.4,144.6 L527.8,144.7 L527.8,144.7 L527.8,144.7 L527.8,144.7 L531.2,144.8 L531.2,144.8 L531.2,144.8 L531.3,144.8 L534.6,145.0 L534.7,145.0 L534.7,145.0 L534.7,145.0 L538.1,145.2 L538.1,145.2 L538.1,145.2 L538.1,145.2 L541.5,145.5 L541.5,145.5 L541.5,145.5 L541.6,145.5 L544.9,145.8 L545.0,145.8 L545.0,145.8 L545.0,145.8 L548.4,146.1 L548.4,146.1 L548.4,146.1 L548.4,146.1 L551.8,146.5 L551.8,146.5 L551.8,146.5 L551.8,146.5 L555.2,146.9 L555.2,146.9 L555.2,146.9 L555.2,147.0 L558.6,147.4 L558.6,147.4 L558.6,147.4 L558.6,147.4 L562.0,147.9 L562.0,147.9 L562.0,147.9 L562.0,147.9 L565.4,148.5 L565.4,148.5 L565.4,148.5 L565.4,148.5 L568.8,149.1 L568.8,149.1 L568.8,149.1 L568.8,149.1 L572.2,149.7 L572.2,149.7 L572.2,149.7 L572.2,149.7 L575.5,150.4 L575.5,150.4 L575.6,150.4 L575.6,150.4 L577.6,150.8 L577.7,150.8 L578.1,150.9 L578.2,150.9 L578.6,151.0 L578.7,151.0 L579.1,150.9 L579.2,150.9 L579.6,150.9 L579.7,150.8 L580.1,150.8 L580.2,150.7 L580.6,150.6 L580.7,150.5 L581.0,150.4 L581.1,150.3 L581.5,150.1 L581.6,150.1 L581.9,149.8 L582.0,149.7 L582.2,149.5 L582.3,149.4 L582.6,149.1 L582.7,149.0 L582.9,148.7 L582.9,148.6 L583.1,148.3 L583.2,148.2 L583.3,147.8 L583.4,147.7 L583.5,147.3 L583.5,147.3 L586.3,137.3 L586.3,137.2 L586.4,136.8 L586.4,136.7 L586.5,136.3 L586.5,136.2 L586.5,135.8 L586.5,135.7 L586.4,135.3 L586.4,135.2 L586.4,134.8 L586.3,134.7 L586.2,134.4 L586.2,134.2 L586.0,133.9 L586.0,133.8 L585.8,133.4 L585.7,133.3 L585.5,133.0 L585.5,132.9 L585.2,132.6 L585.1,132.5 L584.9,132.3 L584.8,132.2 L584.5,131.9 L584.4,131.9 L584.4,131.9 L584.2,131.7 L584.2,131.7 L584.1,131.6 L584.1,131.6 L583.9,131.4 L583.8,131.4 L583.8,131.4 L583.7,131.3 L583.6,131.1 L583.5,131.1 L583.5,131.1 L583.4,131.0 L583.3,130.8 L583.2,130.8 L583.2,130.7 L583.1,130.7 L583.0,130.5 L582.9,130.5 L582.9,130.4 L582.9,130.4 L582.7,130.2 L582.7,130.1 L582.6,130.1 L582.6,130.0 L582.4,129.8 L582.4,129.8 L582.4,129.7 L582.3,129.7 L582.2,129.5 L582.2,129.4 L582.1,129.3 L582.1,129.3 L582.0,129.1 L582.0,129.0 L581.9,129.0 L581.9,128.9 L581.8,128.7 L581.8,128.6 L581.7,128.6 L581.7,128.5 L581.6,128.3 L581.6,128.2 L581.6,128.2 L581.5,128.1 L581.5,127.9 L581.4,127.8 L581.4,127.8 L581.4,127.7 L581.3,127.5 L581.3,127.4 L581.3,127.4 L581.3,127.3 L581.2,127.1 L581.2,127.0 L581.2,127.0 L581.2,126.9 L581.1,126.7 L581.1,126.6 L581.1,126.5 L581.1,126.5 L581.0,126.2 L581.0,126.2 L581.0,126.1 L581.0,126.1 L581.0,125.8 L581.0,125.7 L581.0,125.7 L580.9,125.6 L580.9,125.4 L580.9,125.3 L580.9,125.3 L580.9,125.2 L580.9,124.9 L580.9,124.9 L580.9,124.8 L580.9,124.8 L580.9,124.5 L580.9,124.5 L580.9,124.4 L580.9,124.3 L580.9,124.1 L581.0,124.0 L581.0,124.0 L581.0,123.9 L581.0,123.7 L581.0,123.6 L581.0,123.5 L581.0,123.5 L581.1,123.2 L581.1,123.2 L581.1,123.1 L581.1,123.0 L581.2,122.8 L581.2,122.7 L581.2,122.7 L581.2,122.6 L581.3,122.4 L581.3,122.3 L581.3,122.3 L581.3,122.2 L581.4,122.0 L581.4,121.9 L581.4,121.9 L581.5,121.8 L581.5,121.6 L581.6,121.5 L581.6,121.5 L581.6,121.4 L581.7,121.2 L581.7,121.1 L581.8,121.1 L581.8,121.0 L581.9,120.8 L581.9,120.7 L582.0,120.7 L582.0,120.6 L582.1,120.4 L582.1,120.4 L582.2,120.3 L582.2,120.3 L582.3,120.0 L582.4,120.0 L582.4,119.9 L582.4,119.9 L582.6,119.7 L582.6,119.6 L582.7,119.6 L582.7,119.5 L582.9,119.3 L582.9,119.3 L582.9,119.2 L583.0,119.2 L583.1,119.0 L583.2,119.0 L583.2,118.9 L583.3,118.9 L583.4,118.7 L583.5,118.7 L583.5,118.6 L583.6,118.6 L583.7,118.4 L583.8,118.4 L583.8,118.3 L583.9,118.3 L584.1,118.1 L584.1,118.1 L584.2,118.0 L584.2,118.0 L584.4,117.8 L584.4,117.8 L584.5,117.8 L584.5,117.7 L584.7,117.6 L584.8,117.6 L584.8,117.5 L584.9,117.5 L585.1,117.4 L585.2,117.3 L585.2,117.3 L585.3,117.3 L585.5,117.1 L585.5,117.1 L585.6,117.1 L585.6,117.1 L585.9,116.9 L585.9,116.9 L586.0,116.9 L586.0,116.9 L586.3,116.8 L586.3,116.7 L586.4,116.7 L586.4,116.7 L586.7,116.6 L586.7,116.6 L586.8,116.6 L586.8,116.5 L587.1,116.5 L587.1,116.4 L587.2,116.4 L587.2,116.4 L587.5,116.3 L587.5,116.3 L587.6,116.3 L587.7,116.3 L587.9,116.2 L588.0,116.2 L588.0,116.2 L588.1,116.2 L588.3,116.2 L588.4,116.2 L588.4,116.1 L588.5,116.1 L588.8,116.1 L588.8,116.1 L588.8,116.1 L589.2,116.0 L589.4,116.0 L589.7,115.9 L589.8,115.9 L590.2,115.8 L590.3,115.7 L590.6,115.5 L590.8,115.5 L591.1,115.3 L591.2,115.2 L591.5,115.0 L591.6,114.9 L591.8,114.7 L591.9,114.6 L592.2,114.3 L592.3,114.2 L592.5,113.9 L592.5,113.8 L592.7,113.4 L592.8,113.3 L592.9,113.0 L593.0,112.9 L593.1,112.5 L593.1,112.4 L595.8,102.9 L595.8,102.8 L595.9,102.5 L595.9,102.3 L595.9,102.0 L595.9,101.9 L595.9,101.5 L595.9,101.4 L595.9,101.0 L595.9,100.9 L595.8,100.6 L595.8,100.4 L595.7,100.1 L595.7,100.0 L595.6,99.7 L595.5,99.5 L595.4,99.2 L595.3,99.1 L595.1,98.8 L595.1,98.7 L594.8,98.4 L594.8,98.3 L594.5,98.1 L594.4,98.0 L594.2,97.7 L594.1,97.7 L593.8,97.4 L593.7,97.4 L593.4,97.2 L593.3,97.1 L593.0,97.0 L592.9,96.9 L592.5,96.8 L592.4,96.8 L592.0,96.7 L592.0,96.7 L588.8,95.9 L588.7,95.9 L584.5,95.1 L584.5,95.1 L580.3,94.3 L580.2,94.2 L576.1,93.5 L576.0,93.5 L571.8,92.8 L571.7,92.8 L567.5,92.1 L567.5,92.1 L563.3,91.5 L563.2,91.5 L559.0,91.0 L558.9,91.0 L554.7,90.5 L554.6,90.5 L550.4,90.0 L550.3,90.0 L546.1,89.7 L546.1,89.7 L541.8,89.3 L541.7,89.3 L537.5,89.1 L537.4,89.1 L533.2,88.8 L533.1,88.8 L528.9,88.7 L528.8,88.7 L524.6,88.6 L524.5,88.6 L520.3,88.5 L520.2,88.5 L515.9,88.5 L515.9,88.5 L511.6,88.6 L511.6,88.6 L507.3,88.7 L507.3,88.7Z" fill="none" stroke="#1e1e1e" stroke-width="2.1" stroke-linejoin="round"/>
<line x1="568.1" y1="543.2" x2="651.4" y2="767.2" stroke="#a8a8a8" stroke-width="0.9" />
<line x1="594.7" y1="527.4" x2="751.5" y2="707.8" stroke="#a8a8a8" stroke-width="0.9" />
<line x1="605.3" y1="518.2" x2="762.1" y2="698.6" stroke="#a8a8a8" stroke-width="0.9" />
<line x1="624.6" y1="494.1" x2="834.9" y2="607.8" stroke="#a8a8a8" stroke-width="0.9" />
<line x1="631.3" y1="481.8" x2="841.5" y2="595.5" stroke="#a8a8a8" stroke-width="0.9" />
<line x1="640.9" y1="452.4" x2="877.7" y2="484.8" stroke="#a8a8a8" stroke-width="0.9" />
<line x1="642.8" y1="438.5" x2="879.6" y2="471.0" stroke="#a8a8a8" stroke-width="0.9" />
<line x1="641.4" y1="407.6" x2="874.5" y2="354.7" stroke="#a8a8a8" stroke-width="0.9" />
<line x1="638.3" y1="394.0" x2="871.4" y2="341.0" stroke="#a8a8a8" stroke-width="0.9" />
<line x1="626.2" y1="365.5" x2="825.7" y2="234.0" stroke="#a8a8a8" stroke-width="0.9" />
<line x1="618.5" y1="353.8" x2="818.0" y2="222.3" stroke="#a8a8a8" stroke-width="0.9" />
<line x1="597.1" y1="331.5" x2="737.6" y2="138.1" stroke="#a8a8a8" stroke-width="0.9" />
<line x1="585.8" y1="323.3" x2="726.3" y2="129.9" stroke="#a8a8a8" stroke-width="0.9" />
<line x1="557.9" y1="309.8" x2="621.4" y2="79.4" stroke="#a8a8a8" stroke-width="0.9" />
<line x1="544.4" y1="306.1" x2="607.9" y2="75.7" stroke="#a8a8a8" stroke-width="0.9" />
<line x1="513.6" y1="303.4" x2="492.0" y2="65.4" stroke="#a8a8a8" stroke-width="0.9" />
<path d="M591.5,590.6 L593.8,594.4 L596.1,598.1 L598.5,601.8 L600.9,605.5 L603.4,609.1 L606.0,612.7 L608.6,616.3 L611.3,619.8 L614.1,623.3 L616.9,626.8 L619.8,630.2 L622.8,633.6 L625.9,636.9 L629.0,640.2 L632.2,643.4 L635.5,646.6 L638.9,649.7 L642.3,652.8 L645.9,655.8 L649.5,658.8 L653.2,661.7 L657.1,664.5 L661.0,667.2 L665.0,669.9 L669.0,672.5 L673.2,675.0 L677.5,677.5 L681.9,679.9 L686.3,682.1 L690.9,684.3 L695.6,686.4 L700.3,688.4 L705.2,690.3 L710.1,692.1 L715.2,693.8 L720.4,695.4 L725.6,696.8 L731.0,698.2 L736.4,699.4" fill="none" stroke="#1e1e1e" stroke-width="1.5"/>
<path d="M594.6,588.7 L596.9,592.5 L599.2,596.2 L601.5,599.8 L603.9,603.4 L606.4,607.0 L608.9,610.6 L611.5,614.1 L614.2,617.6 L616.9,621.1 L619.7,624.5 L622.6,627.8 L625.5,631.2 L628.5,634.4 L631.6,637.7 L634.7,640.9 L638.0,644.0 L641.3,647.1 L644.7,650.1 L648.2,653.0 L651.8,655.9 L655.4,658.8 L659.2,661.6 L663.0,664.3 L666.9,666.9 L670.9,669.5 L675.0,671.9 L679.2,674.3 L683.5,676.7 L687.9,678.9 L692.4,681.1 L697.0,683.1 L701.7,685.1 L706.4,687.0 L711.3,688.7 L716.3,690.4 L721.4,691.9 L726.5,693.4 L731.8,694.7 L737.2,695.9" fill="none" stroke="#1e1e1e" stroke-width="1.5"/>
<path d="M643.9,554.4 L647.3,557.1 L650.8,559.8 L654.3,562.4 L657.9,565.0 L661.5,567.5 L665.2,570.0 L668.9,572.4 L672.7,574.8 L676.5,577.1 L680.4,579.3 L684.3,581.5 L688.3,583.6 L692.3,585.6 L696.4,587.6 L700.5,589.5 L704.7,591.3 L709.0,593.0 L713.3,594.7 L717.7,596.3 L722.1,597.8 L726.6,599.2 L731.2,600.5 L735.8,601.7 L740.5,602.8 L745.2,603.8 L750.0,604.7 L754.9,605.5 L759.8,606.1 L764.8,606.7 L769.8,607.1 L775.0,607.5 L780.1,607.7 L785.3,607.7 L790.6,607.7 L795.9,607.5 L801.3,607.1 L806.7,606.6 L812.2,606.0 L817.8,605.2" fill="none" stroke="#1e1e1e" stroke-width="1.5"/>
<path d="M646.1,551.5 L649.5,554.2 L653.0,556.9 L656.4,559.5 L660.0,562.0 L663.6,564.5 L667.2,567.0 L670.8,569.4 L674.6,571.7 L678.3,574.0 L682.1,576.2 L686.0,578.3 L689.9,580.4 L693.9,582.4 L697.9,584.3 L702.0,586.2 L706.1,588.0 L710.3,589.7 L714.6,591.3 L718.9,592.9 L723.2,594.3 L727.7,595.7 L732.1,597.0 L736.7,598.2 L741.3,599.3 L745.9,600.2 L750.7,601.1 L755.4,601.9 L760.3,602.6 L765.2,603.1 L770.1,603.5 L775.1,603.9 L780.2,604.1 L785.3,604.1 L790.5,604.1 L795.8,603.9 L801.0,603.5 L806.4,603.1 L811.8,602.5 L817.3,601.7" fill="none" stroke="#1e1e1e" stroke-width="1.5"/>
<path d="M680.1,502.0 L684.3,503.4 L688.5,504.6 L692.7,505.9 L697.0,507.0 L701.2,508.1 L705.6,509.1 L709.9,510.1 L714.2,511.0 L718.6,511.8 L723.0,512.5 L727.5,513.2 L731.9,513.8 L736.4,514.3 L741.0,514.7 L745.5,515.0 L750.1,515.2 L754.7,515.3 L759.3,515.4 L764.0,515.3 L768.6,515.1 L773.3,514.8 L778.1,514.5 L782.8,514.0 L787.6,513.3 L792.4,512.6 L797.2,511.8 L802.0,510.8 L806.9,509.7 L811.7,508.5 L816.6,507.1 L821.5,505.6 L826.4,504.0 L831.3,502.2 L836.2,500.3 L841.1,498.2 L846.0,496.0 L851.0,493.7 L855.9,491.1 L860.8,488.5" fill="none" stroke="#1e1e1e" stroke-width="1.5"/>
<path d="M681.2,498.6 L685.3,499.9 L689.5,501.2 L693.7,502.4 L697.9,503.5 L702.1,504.6 L706.4,505.6 L710.6,506.6 L714.9,507.4 L719.3,508.2 L723.6,509.0 L728.0,509.6 L732.4,510.2 L736.8,510.7 L741.2,511.1 L745.7,511.4 L750.2,511.6 L754.7,511.7 L759.3,511.8 L763.9,511.7 L768.5,511.5 L773.1,511.2 L777.7,510.9 L782.4,510.4 L787.1,509.8 L791.8,509.1 L796.5,508.2 L801.3,507.3 L806.0,506.2 L810.8,505.0 L815.6,503.6 L820.4,502.2 L825.2,500.6 L830.0,498.8 L834.9,497.0 L839.7,494.9 L844.5,492.8 L849.4,490.4 L854.2,488.0 L859.1,485.3" fill="none" stroke="#1e1e1e" stroke-width="1.5"/>
<path d="M695.6,440.3 L700.0,440.1 L704.4,439.8 L708.8,439.4 L713.2,439.0 L717.5,438.5 L721.9,438.0 L726.3,437.4 L730.7,436.7 L735.1,435.9 L739.5,435.0 L743.9,434.1 L748.3,433.0 L752.6,431.9 L757.0,430.7 L761.4,429.4 L765.7,428.0 L770.1,426.5 L774.4,424.9 L778.8,423.2 L783.1,421.4 L787.4,419.5 L791.7,417.5 L795.9,415.3 L800.2,413.1 L804.4,410.7 L808.6,408.2 L812.8,405.6 L817.0,402.9 L821.1,400.0 L825.2,397.0 L829.2,393.9 L833.2,390.6 L837.2,387.3 L841.1,383.7 L845.0,380.1 L848.8,376.3 L852.6,372.3 L856.3,368.3 L860.0,364.0" fill="none" stroke="#1e1e1e" stroke-width="1.5"/>
<path d="M695.4,436.7 L699.8,436.5 L704.1,436.2 L708.4,435.9 L712.8,435.4 L717.1,435.0 L721.5,434.4 L725.8,433.8 L730.1,433.1 L734.4,432.3 L738.8,431.5 L743.1,430.6 L747.4,429.5 L751.7,428.4 L756.0,427.2 L760.3,426.0 L764.6,424.6 L768.9,423.1 L773.2,421.5 L777.4,419.9 L781.7,418.1 L785.9,416.2 L790.1,414.2 L794.3,412.1 L798.5,409.9 L802.6,407.6 L806.8,405.1 L810.9,402.6 L814.9,399.9 L819.0,397.1 L823.0,394.1 L827.0,391.1 L830.9,387.9 L834.8,384.6 L838.7,381.1 L842.5,377.5 L846.3,373.8 L850.0,369.9 L853.6,365.9 L857.3,361.7" fill="none" stroke="#1e1e1e" stroke-width="1.5"/>
<path d="M688.4,377.1 L692.4,375.3 L696.4,373.5 L700.4,371.6 L704.4,369.7 L708.3,367.7 L712.2,365.6 L716.1,363.5 L720.0,361.3 L723.8,359.0 L727.6,356.7 L731.4,354.2 L735.1,351.7 L738.8,349.1 L742.5,346.5 L746.1,343.7 L749.7,340.9 L753.3,337.9 L756.8,334.9 L760.2,331.8 L763.6,328.6 L767.0,325.3 L770.3,321.9 L773.5,318.4 L776.7,314.8 L779.8,311.1 L782.9,307.3 L785.9,303.3 L788.8,299.3 L791.7,295.2 L794.4,291.0 L797.1,286.6 L799.7,282.2 L802.3,277.6 L804.7,272.9 L807.1,268.1 L809.3,263.2 L811.4,258.2 L813.5,253.1 L815.4,247.8" fill="none" stroke="#1e1e1e" stroke-width="1.5"/>
<path d="M687.0,373.8 L691.0,372.0 L694.9,370.2 L698.9,368.4 L702.8,366.5 L706.7,364.5 L710.5,362.5 L714.4,360.4 L718.2,358.2 L722.0,355.9 L725.7,353.6 L729.4,351.2 L733.1,348.8 L736.7,346.2 L740.4,343.6 L743.9,340.9 L747.5,338.1 L750.9,335.2 L754.4,332.2 L757.8,329.1 L761.1,326.0 L764.4,322.7 L767.7,319.4 L770.9,316.0 L774.0,312.4 L777.1,308.8 L780.1,305.0 L783.0,301.2 L785.9,297.2 L788.7,293.2 L791.4,289.0 L794.1,284.8 L796.6,280.4 L799.1,275.9 L801.5,271.3 L803.8,266.6 L806.0,261.8 L808.1,256.8 L810.1,251.8 L812.1,246.6" fill="none" stroke="#1e1e1e" stroke-width="1.5"/>
<path d="M659.4,320.4 L662.6,317.3 L665.7,314.2 L668.7,311.1 L671.8,307.9 L674.8,304.6 L677.7,301.3 L680.6,297.9 L683.4,294.5 L686.2,291.0 L688.9,287.5 L691.6,283.9 L694.2,280.2 L696.8,276.5 L699.3,272.7 L701.7,268.9 L704.1,264.9 L706.4,260.9 L708.6,256.9 L710.7,252.7 L712.8,248.5 L714.8,244.3 L716.6,239.9 L718.4,235.5 L720.2,231.0 L721.8,226.4 L723.3,221.8 L724.7,217.1 L726.1,212.3 L727.3,207.4 L728.4,202.5 L729.4,197.5 L730.2,192.4 L731.0,187.2 L731.6,182.0 L732.1,176.7 L732.5,171.3 L732.8,165.8 L732.9,160.3 L732.8,154.7" fill="none" stroke="#1e1e1e" stroke-width="1.5"/>
<path d="M656.9,317.8 L660.0,314.8 L663.1,311.7 L666.1,308.6 L669.1,305.4 L672.1,302.2 L675.0,298.9 L677.8,295.6 L680.6,292.2 L683.4,288.8 L686.1,285.3 L688.7,281.8 L691.3,278.2 L693.8,274.5 L696.3,270.8 L698.7,267.0 L701.0,263.1 L703.2,259.2 L705.4,255.2 L707.5,251.1 L709.5,247.0 L711.5,242.8 L713.3,238.5 L715.1,234.2 L716.8,229.8 L718.4,225.3 L719.9,220.7 L721.3,216.1 L722.6,211.4 L723.8,206.6 L724.9,201.7 L725.8,196.8 L726.7,191.8 L727.4,186.7 L728.1,181.6 L728.6,176.4 L728.9,171.1 L729.2,165.7 L729.3,160.3 L729.2,154.8" fill="none" stroke="#1e1e1e" stroke-width="1.5"/>
<path d="M612.3,277.6 L614.2,273.6 L616.0,269.6 L617.8,265.6 L619.5,261.5 L621.1,257.4 L622.7,253.3 L624.3,249.1 L625.7,244.9 L627.1,240.6 L628.4,236.4 L629.6,232.1 L630.8,227.7 L631.9,223.3 L632.9,218.9 L633.8,214.4 L634.6,209.9 L635.4,205.4 L636.0,200.8 L636.6,196.2 L637.0,191.5 L637.4,186.8 L637.6,182.1 L637.7,177.3 L637.8,172.5 L637.7,167.7 L637.5,162.8 L637.1,157.9 L636.7,152.9 L636.1,147.9 L635.4,142.9 L634.6,137.9 L633.6,132.8 L632.5,127.7 L631.2,122.6 L629.9,117.4 L628.3,112.3 L626.6,107.1 L624.8,101.9 L622.8,96.7" fill="none" stroke="#1e1e1e" stroke-width="1.5"/>
<path d="M609.1,276.0 L610.9,272.1 L612.7,268.1 L614.5,264.1 L616.2,260.1 L617.8,256.1 L619.4,252.0 L620.9,247.9 L622.3,243.7 L623.7,239.6 L625.0,235.3 L626.2,231.1 L627.3,226.8 L628.4,222.5 L629.4,218.1 L630.3,213.7 L631.1,209.3 L631.8,204.8 L632.4,200.3 L633.0,195.8 L633.4,191.2 L633.8,186.6 L634.0,181.9 L634.1,177.3 L634.2,172.5 L634.1,167.8 L633.9,163.0 L633.5,158.1 L633.1,153.3 L632.5,148.4 L631.8,143.5 L631.0,138.5 L630.1,133.5 L629.0,128.5 L627.8,123.5 L626.4,118.4 L624.9,113.3 L623.2,108.2 L621.4,103.1 L619.4,97.9" fill="none" stroke="#1e1e1e" stroke-width="1.5"/>
<path d="M553.2,254.0 L553.6,249.6 L553.8,245.3 L554.1,240.9 L554.2,236.5 L554.3,232.0 L554.4,227.6 L554.3,223.2 L554.2,218.7 L554.0,214.3 L553.7,209.8 L553.4,205.3 L552.9,200.9 L552.4,196.4 L551.8,191.9 L551.1,187.4 L550.3,182.9 L549.4,178.4 L548.4,173.8 L547.2,169.3 L546.0,164.8 L544.7,160.3 L543.2,155.8 L541.7,151.3 L540.0,146.7 L538.2,142.2 L536.3,137.7 L534.3,133.3 L532.1,128.8 L529.8,124.3 L527.4,119.9 L524.9,115.4 L522.2,111.0 L519.3,106.7 L516.4,102.3 L513.3,98.0 L510.0,93.7 L506.6,89.4 L503.0,85.2 L499.3,81.0" fill="none" stroke="#1e1e1e" stroke-width="1.5"/>
<path d="M549.6,253.7 L550.0,249.4 L550.3,245.0 L550.5,240.7 L550.6,236.3 L550.7,232.0 L550.8,227.6 L550.7,223.2 L550.6,218.9 L550.4,214.5 L550.2,210.1 L549.8,205.7 L549.4,201.2 L548.8,196.8 L548.2,192.4 L547.5,188.0 L546.7,183.5 L545.8,179.1 L544.8,174.7 L543.8,170.2 L542.6,165.8 L541.2,161.3 L539.8,156.9 L538.3,152.5 L536.7,148.0 L534.9,143.6 L533.0,139.2 L531.0,134.8 L528.9,130.4 L526.7,126.0 L524.3,121.6 L521.8,117.3 L519.1,113.0 L516.3,108.6 L513.4,104.4 L510.4,100.1 L507.2,95.9 L503.8,91.7 L500.3,87.5 L496.6,83.4" fill="none" stroke="#1e1e1e" stroke-width="1.5"/>
<line x1="727.8" y1="692.7" x2="750.3" y2="699.6" stroke="#9c9c9c" stroke-width="0.9" />
<line x1="729.7" y1="694.9" x2="752.3" y2="701.8" stroke="#9c9c9c" stroke-width="0.9" />
<line x1="807.3" y1="602.0" x2="830.8" y2="600.5" stroke="#9c9c9c" stroke-width="0.9" />
<line x1="809.9" y1="603.4" x2="833.5" y2="601.9" stroke="#9c9c9c" stroke-width="0.9" />
<line x1="849.8" y1="489.1" x2="871.4" y2="479.4" stroke="#9c9c9c" stroke-width="0.9" />
<line x1="852.8" y1="489.5" x2="874.3" y2="479.8" stroke="#9c9c9c" stroke-width="0.9" />
<line x1="849.9" y1="368.5" x2="866.7" y2="351.8" stroke="#9c9c9c" stroke-width="0.9" />
<line x1="852.9" y1="367.8" x2="869.6" y2="351.2" stroke="#9c9c9c" stroke-width="0.9" />
<line x1="807.6" y1="255.5" x2="817.4" y2="234.1" stroke="#9c9c9c" stroke-width="0.9" />
<line x1="810.1" y1="253.9" x2="819.9" y2="232.4" stroke="#9c9c9c" stroke-width="0.9" />
<line x1="728.2" y1="164.7" x2="729.9" y2="141.2" stroke="#9c9c9c" stroke-width="0.9" />
<line x1="730.0" y1="162.3" x2="731.6" y2="138.7" stroke="#9c9c9c" stroke-width="0.9" />
<line x1="622.0" y1="107.6" x2="615.2" y2="85.0" stroke="#9c9c9c" stroke-width="0.9" />
<line x1="622.8" y1="104.7" x2="616.0" y2="82.1" stroke="#9c9c9c" stroke-width="0.9" />
<line x1="502.4" y1="91.5" x2="488.1" y2="72.7" stroke="#9c9c9c" stroke-width="0.9" />
<line x1="502.1" y1="88.5" x2="487.9" y2="69.8" stroke="#9c9c9c" stroke-width="0.9" />
<line x1="558.8" y1="538.2" x2="646.4" y2="773.9" stroke="#1e1e1e" stroke-width="3.0" />
<line x1="594.8" y1="516.8" x2="759.8" y2="706.6" stroke="#1e1e1e" stroke-width="3.0" />
<line x1="620.9" y1="484.1" x2="842.2" y2="603.8" stroke="#1e1e1e" stroke-width="3.0" />
<line x1="633.9" y1="444.4" x2="883.1" y2="478.5" stroke="#1e1e1e" stroke-width="3.0" />
<line x1="632.1" y1="402.6" x2="877.3" y2="346.9" stroke="#1e1e1e" stroke-width="3.0" />
<line x1="615.7" y1="364.1" x2="825.6" y2="225.6" stroke="#1e1e1e" stroke-width="3.0" />
<line x1="586.8" y1="333.8" x2="734.6" y2="130.4" stroke="#1e1e1e" stroke-width="3.0" />
<line x1="549.1" y1="315.7" x2="615.9" y2="73.2" stroke="#1e1e1e" stroke-width="3.0" />
<line x1="507.4" y1="312.0" x2="484.6" y2="61.5" stroke="#1e1e1e" stroke-width="3.0" />
<circle cx="587.9" cy="583.5" r="4.1" fill="#fff" stroke="#1e1e1e" stroke-width="3.4" />
<circle cx="620.6" cy="564.1" r="4.1" fill="#fff" stroke="#1e1e1e" stroke-width="3.4" />
<circle cx="613.0" cy="651.1" r="4.1" fill="#fff" stroke="#1e1e1e" stroke-width="3.4" />
<circle cx="667.9" cy="618.5" r="4.1" fill="#fff" stroke="#1e1e1e" stroke-width="3.4" />
<circle cx="637.5" cy="716.7" r="4.1" fill="#fff" stroke="#1e1e1e" stroke-width="3.4" />
<circle cx="713.9" cy="671.4" r="4.1" fill="#fff" stroke="#1e1e1e" stroke-width="3.4" />
<circle cx="638.0" cy="549.0" r="4.1" fill="#fff" stroke="#1e1e1e" stroke-width="3.4" />
<circle cx="661.7" cy="519.3" r="4.1" fill="#fff" stroke="#1e1e1e" stroke-width="3.4" />
<circle cx="685.3" cy="603.4" r="4.1" fill="#fff" stroke="#1e1e1e" stroke-width="3.4" />
<circle cx="725.2" cy="553.6" r="4.1" fill="#fff" stroke="#1e1e1e" stroke-width="3.4" />
<circle cx="731.2" cy="656.3" r="4.1" fill="#fff" stroke="#1e1e1e" stroke-width="3.4" />
<circle cx="786.8" cy="586.9" r="4.1" fill="#fff" stroke="#1e1e1e" stroke-width="3.4" />
<circle cx="672.7" cy="499.1" r="4.1" fill="#fff" stroke="#1e1e1e" stroke-width="3.4" />
<circle cx="684.5" cy="462.9" r="4.1" fill="#fff" stroke="#1e1e1e" stroke-width="3.4" />
<circle cx="736.1" cy="533.4" r="4.1" fill="#fff" stroke="#1e1e1e" stroke-width="3.4" />
<circle cx="755.9" cy="472.7" r="4.1" fill="#fff" stroke="#1e1e1e" stroke-width="3.4" />
<circle cx="797.7" cy="566.7" r="4.1" fill="#fff" stroke="#1e1e1e" stroke-width="3.4" />
<circle cx="825.3" cy="482.2" r="4.1" fill="#fff" stroke="#1e1e1e" stroke-width="3.4" />
<circle cx="687.6" cy="440.1" r="4.1" fill="#fff" stroke="#1e1e1e" stroke-width="3.4" />
<circle cx="685.9" cy="402.1" r="4.1" fill="#fff" stroke="#1e1e1e" stroke-width="3.4" />
<circle cx="759.1" cy="449.9" r="4.1" fill="#fff" stroke="#1e1e1e" stroke-width="3.4" />
<circle cx="756.3" cy="386.2" r="4.1" fill="#fff" stroke="#1e1e1e" stroke-width="3.4" />
<circle cx="828.5" cy="459.4" r="4.1" fill="#fff" stroke="#1e1e1e" stroke-width="3.4" />
<circle cx="824.6" cy="370.6" r="4.1" fill="#fff" stroke="#1e1e1e" stroke-width="3.4" />
<circle cx="680.8" cy="379.7" r="4.1" fill="#fff" stroke="#1e1e1e" stroke-width="3.4" />
<circle cx="665.9" cy="344.7" r="4.1" fill="#fff" stroke="#1e1e1e" stroke-width="3.4" />
<circle cx="751.2" cy="363.7" r="4.1" fill="#fff" stroke="#1e1e1e" stroke-width="3.4" />
<circle cx="726.1" cy="305.0" r="4.1" fill="#fff" stroke="#1e1e1e" stroke-width="3.4" />
<circle cx="819.5" cy="348.2" r="4.1" fill="#fff" stroke="#1e1e1e" stroke-width="3.4" />
<circle cx="784.6" cy="266.5" r="4.1" fill="#fff" stroke="#1e1e1e" stroke-width="3.4" />
<circle cx="653.3" cy="325.5" r="4.1" fill="#fff" stroke="#1e1e1e" stroke-width="3.4" />
<circle cx="627.0" cy="298.0" r="4.1" fill="#fff" stroke="#1e1e1e" stroke-width="3.4" />
<circle cx="713.5" cy="285.8" r="4.1" fill="#fff" stroke="#1e1e1e" stroke-width="3.4" />
<circle cx="669.4" cy="239.7" r="4.1" fill="#fff" stroke="#1e1e1e" stroke-width="3.4" />
<circle cx="772.0" cy="247.3" r="4.1" fill="#fff" stroke="#1e1e1e" stroke-width="3.4" />
<circle cx="710.6" cy="183.0" r="4.1" fill="#fff" stroke="#1e1e1e" stroke-width="3.4" />
<circle cx="608.4" cy="284.5" r="4.1" fill="#fff" stroke="#1e1e1e" stroke-width="3.4" />
<circle cx="574.1" cy="268.0" r="4.1" fill="#fff" stroke="#1e1e1e" stroke-width="3.4" />
<circle cx="650.8" cy="226.2" r="4.1" fill="#fff" stroke="#1e1e1e" stroke-width="3.4" />
<circle cx="593.3" cy="198.5" r="4.1" fill="#fff" stroke="#1e1e1e" stroke-width="3.4" />
<circle cx="692.0" cy="169.5" r="4.1" fill="#fff" stroke="#1e1e1e" stroke-width="3.4" />
<circle cx="611.9" cy="131.0" r="4.1" fill="#fff" stroke="#1e1e1e" stroke-width="3.4" />
<circle cx="552.0" cy="261.9" r="4.1" fill="#fff" stroke="#1e1e1e" stroke-width="3.4" />
<circle cx="514.1" cy="258.5" r="4.1" fill="#fff" stroke="#1e1e1e" stroke-width="3.4" />
<circle cx="571.1" cy="192.4" r="4.1" fill="#fff" stroke="#1e1e1e" stroke-width="3.4" />
<circle cx="507.5" cy="186.7" r="4.1" fill="#fff" stroke="#1e1e1e" stroke-width="3.4" />
<circle cx="589.7" cy="124.9" r="4.1" fill="#fff" stroke="#1e1e1e" stroke-width="3.4" />
<circle cx="501.2" cy="117.0" r="4.1" fill="#fff" stroke="#1e1e1e" stroke-width="3.4" />
<circle cx="518.0" cy="428.5" r="117.0" fill="#fff" stroke="#1e1e1e" stroke-width="2.6" />
<line x1="518.0" y1="313.0" x2="518.0" y2="350.5" stroke="#9a9a9a" stroke-width="1" />
<line x1="518.0" y1="506.5" x2="518.0" y2="544.0" stroke="#9a9a9a" stroke-width="1" />
<line x1="402.5" y1="428.5" x2="440.0" y2="428.5" stroke="#9a9a9a" stroke-width="1" />
<line x1="596.0" y1="428.5" x2="633.5" y2="428.5" stroke="#9a9a9a" stroke-width="1" />
<circle cx="518.0" cy="428.5" r="82.0" fill="none" stroke="#9a9a9a" stroke-width="1.1" stroke-dasharray="10,5"/>
<circle cx="518.0" cy="428.5" r="78.0" fill="none" stroke="#1e1e1e" stroke-width="2.4" />
<line x1="533.0" y1="433.1" x2="596.0" y2="433.1" stroke="#1e1e1e" stroke-width="2.2" />
<line x1="533.0" y1="423.9" x2="596.0" y2="423.9" stroke="#1e1e1e" stroke-width="2.2" />
<circle cx="542.0" cy="428.5" r="2.0" fill="#1e1e1e" stroke="none" stroke-width="0" />
<circle cx="561.0" cy="428.5" r="2.0" fill="#1e1e1e" stroke="none" stroke-width="0" />
<circle cx="580.0" cy="428.5" r="2.0" fill="#1e1e1e" stroke="none" stroke-width="0" />
<line x1="522.6" y1="413.5" x2="522.6" y2="350.5" stroke="#1e1e1e" stroke-width="2.2" />
<line x1="513.4" y1="413.5" x2="513.4" y2="350.5" stroke="#1e1e1e" stroke-width="2.2" />
<circle cx="518.0" cy="404.5" r="2.0" fill="#1e1e1e" stroke="none" stroke-width="0" />
<circle cx="518.0" cy="385.5" r="2.0" fill="#1e1e1e" stroke="none" stroke-width="0" />
<circle cx="518.0" cy="366.5" r="2.0" fill="#1e1e1e" stroke="none" stroke-width="0" />
<line x1="503.0" y1="423.9" x2="440.0" y2="423.9" stroke="#1e1e1e" stroke-width="2.2" />
<line x1="503.0" y1="433.1" x2="440.0" y2="433.1" stroke="#1e1e1e" stroke-width="2.2" />
<circle cx="494.0" cy="428.5" r="2.0" fill="#1e1e1e" stroke="none" stroke-width="0" />
<circle cx="475.0" cy="428.5" r="2.0" fill="#1e1e1e" stroke="none" stroke-width="0" />
<circle cx="456.0" cy="428.5" r="2.0" fill="#1e1e1e" stroke="none" stroke-width="0" />
<line x1="513.4" y1="443.5" x2="513.4" y2="506.5" stroke="#1e1e1e" stroke-width="2.2" />
<line x1="522.6" y1="443.5" x2="522.6" y2="506.5" stroke="#1e1e1e" stroke-width="2.2" />
<circle cx="518.0" cy="452.5" r="2.0" fill="#1e1e1e" stroke="none" stroke-width="0" />
<circle cx="518.0" cy="471.5" r="2.0" fill="#1e1e1e" stroke="none" stroke-width="0" />
<circle cx="518.0" cy="490.5" r="2.0" fill="#1e1e1e" stroke="none" stroke-width="0" />
<circle cx="596.5" cy="428.5" r="2.5" fill="#1e1e1e" stroke="none" stroke-width="0" />
<circle cx="590.5" cy="398.5" r="2.5" fill="#1e1e1e" stroke="none" stroke-width="0" />
<circle cx="573.5" cy="373.0" r="2.5" fill="#1e1e1e" stroke="none" stroke-width="0" />
<circle cx="548.0" cy="356.0" r="2.5" fill="#1e1e1e" stroke="none" stroke-width="0" />
<circle cx="518.0" cy="350.0" r="2.5" fill="#1e1e1e" stroke="none" stroke-width="0" />
<circle cx="488.0" cy="356.0" r="2.5" fill="#1e1e1e" stroke="none" stroke-width="0" />
<circle cx="462.5" cy="373.0" r="2.5" fill="#1e1e1e" stroke="none" stroke-width="0" />
<circle cx="445.5" cy="398.5" r="2.5" fill="#1e1e1e" stroke="none" stroke-width="0" />
<circle cx="439.5" cy="428.5" r="2.5" fill="#1e1e1e" stroke="none" stroke-width="0" />
<circle cx="445.5" cy="458.5" r="2.5" fill="#1e1e1e" stroke="none" stroke-width="0" />
<circle cx="462.5" cy="484.0" r="2.5" fill="#1e1e1e" stroke="none" stroke-width="0" />
<circle cx="488.0" cy="501.0" r="2.5" fill="#1e1e1e" stroke="none" stroke-width="0" />
<circle cx="518.0" cy="507.0" r="2.5" fill="#1e1e1e" stroke="none" stroke-width="0" />
<circle cx="548.0" cy="501.0" r="2.5" fill="#1e1e1e" stroke="none" stroke-width="0" />
<circle cx="573.5" cy="484.0" r="2.5" fill="#1e1e1e" stroke="none" stroke-width="0" />
<circle cx="590.5" cy="458.5" r="2.5" fill="#1e1e1e" stroke="none" stroke-width="0" />
<circle cx="518.0" cy="428.5" r="15.0" fill="#fff" stroke="#1e1e1e" stroke-width="2.4" />
<circle cx="518.0" cy="428.5" r="6.0" fill="#fff" stroke="#1e1e1e" stroke-width="2.0" />
<line x1="509.0" y1="428.5" x2="527.0" y2="428.5" stroke="#9a9a9a" stroke-width="0.8" />
<line x1="518.0" y1="419.5" x2="518.0" y2="437.5" stroke="#9a9a9a" stroke-width="0.8" />
<rect x="534.8" y="383.3" width="34.7" height="23.2" fill="#222"/>
<line x1="530.5" y1="387.5" x2="535.0" y2="387.5" stroke="#222" stroke-width="2.6" stroke-linecap="round"/>
<line x1="530.5" y1="393.2" x2="535.0" y2="393.2" stroke="#222" stroke-width="2.6" stroke-linecap="round"/>
<line x1="530.5" y1="398.9" x2="535.0" y2="398.9" stroke="#222" stroke-width="2.6" stroke-linecap="round"/>
<line x1="530.5" y1="405.0" x2="535.0" y2="405.0" stroke="#222" stroke-width="2.6" stroke-linecap="round"/>
<line x1="569.0" y1="384.8" x2="574.0" y2="384.8" stroke="#222" stroke-width="2.6" stroke-linecap="round"/>
<line x1="569.0" y1="390.4" x2="574.0" y2="390.4" stroke="#222" stroke-width="2.6" stroke-linecap="round"/>
<line x1="569.0" y1="396.3" x2="574.0" y2="396.3" stroke="#222" stroke-width="2.6" stroke-linecap="round"/>
<line x1="569.0" y1="402.3" x2="574.0" y2="402.3" stroke="#222" stroke-width="2.6" stroke-linecap="round"/>
<circle cx="518.0" cy="428.5" r="369.5" fill="none" stroke="#1e1e1e" stroke-width="2.3" />
<defs><pattern id="hatch" patternUnits="userSpaceOnUse" width="3.6" height="3.6" patternTransform="rotate(-50)"><rect width="3.6" height="3.6" fill="#fff"/><rect width="1.5" height="3.6" fill="#222"/></pattern><pattern id="hatch2" patternUnits="userSpaceOnUse" width="3.6" height="3.6" patternTransform="rotate(50)"><rect width="3.6" height="3.6" fill="#fff"/><rect width="1.5" height="3.6" fill="#222"/></pattern><pattern id="zig" patternUnits="userSpaceOnUse" width="5" height="3.2"><rect width="5" height="3.2" fill="#333"/><path d="M1.2,0.4 L3.8,2.6" stroke="#fff" stroke-width="1.2"/></pattern><pattern id="ladder" patternUnits="userSpaceOnUse" width="10" height="7.6" y="0"><rect width="10" height="7.6" fill="#262626"/><rect x="1.4" y="1.9" width="7.2" height="3.8" rx="1.4" fill="#cfcfcf"/><rect x="4.6" y="2.2" width="0.7" height="3.2" fill="#777"/></pattern></defs>
<rect x="13.0" y="35.6" width="76.5" height="8.6" fill="#f5f5f5" stroke="#666" stroke-width="1.1" />
<rect x="13.0" y="785.0" width="76.5" height="8.8" fill="#f5f5f5" stroke="#666" stroke-width="1.1" />
<path d="M46.2,35.8 L46.2,22 Q46.2,18 50,18 L55,18 Q58.8,18 58.8,22 L58.8,35.8 Z" fill="#1a1a1a"/>
<rect x="48.6" y="23.6" width="1.8" height="2.4" fill="#ddd" stroke="none" stroke-width="0" />
<rect x="51.8" y="23.6" width="1.8" height="2.4" fill="#ddd" stroke="none" stroke-width="0" />
<rect x="55.0" y="23.6" width="1.8" height="2.4" fill="#ddd" stroke="none" stroke-width="0" />
<rect x="48.6" y="29.1" width="1.8" height="2.4" fill="#ddd" stroke="none" stroke-width="0" />
<rect x="51.8" y="29.1" width="1.8" height="2.4" fill="#ddd" stroke="none" stroke-width="0" />
<rect x="55.0" y="29.1" width="1.8" height="2.4" fill="#ddd" stroke="none" stroke-width="0" />
<rect x="49.4" y="35.8" width="6.2" height="8.2" fill="#fff" stroke="#1a1a1a" stroke-width="1.4" />
<line x1="52.5" y1="36.5" x2="52.5" y2="43.5" stroke="#1a1a1a" stroke-width="1.0" />
<path d="M46.2,794 L46.2,812.5 Q46.2,816.5 50,816.5 L55,816.5 Q58.8,816.5 58.8,812.5 L58.8,794 Z" fill="#1a1a1a"/>
<rect x="48.6" y="797.8" width="1.8" height="2.4" fill="#ddd" stroke="none" stroke-width="0" />
<rect x="51.8" y="797.8" width="1.8" height="2.4" fill="#ddd" stroke="none" stroke-width="0" />
<rect x="55.0" y="797.8" width="1.8" height="2.4" fill="#ddd" stroke="none" stroke-width="0" />
<rect x="48.6" y="803.3" width="1.8" height="2.4" fill="#ddd" stroke="none" stroke-width="0" />
<rect x="51.8" y="803.3" width="1.8" height="2.4" fill="#ddd" stroke="none" stroke-width="0" />
<rect x="55.0" y="803.3" width="1.8" height="2.4" fill="#ddd" stroke="none" stroke-width="0" />
<rect x="48.6" y="808.8" width="1.8" height="2.4" fill="#ddd" stroke="none" stroke-width="0" />
<rect x="51.8" y="808.8" width="1.8" height="2.4" fill="#ddd" stroke="none" stroke-width="0" />
<rect x="55.0" y="808.8" width="1.8" height="2.4" fill="#ddd" stroke="none" stroke-width="0" />
<rect x="49.4" y="785.4" width="6.2" height="8.2" fill="#fff" stroke="#1a1a1a" stroke-width="1.4" />
<rect x="20.5" y="44.2" width="9.7" height="21.0" fill="#b4b4b4" stroke="#1a1a1a" stroke-width="2.2" />
<rect x="20.5" y="66.2" width="9.7" height="70.0" fill="url(#hatch)" stroke="#1a1a1a" stroke-width="2.2" />
<rect x="20.5" y="138.2" width="9.7" height="10.0" fill="#b4b4b4" stroke="#1a1a1a" stroke-width="2.0" />
<rect x="20.5" y="148.2" width="9.7" height="133.3" fill="url(#ladder)" stroke="#1a1a1a" stroke-width="2.0" />
<rect x="20.5" y="281.5" width="9.7" height="16.0" fill="#b4b4b4" stroke="#1a1a1a" stroke-width="2.2" />
<rect x="75.0" y="44.2" width="9.8" height="21.0" fill="#b4b4b4" stroke="#1a1a1a" stroke-width="2.2" />
<rect x="75.0" y="66.2" width="9.8" height="70.0" fill="url(#hatch)" stroke="#1a1a1a" stroke-width="2.2" />
<rect x="75.0" y="138.2" width="9.8" height="10.0" fill="#b4b4b4" stroke="#1a1a1a" stroke-width="2.0" />
<rect x="75.0" y="148.2" width="9.8" height="133.3" fill="url(#ladder)" stroke="#1a1a1a" stroke-width="2.0" />
<rect x="75.0" y="281.5" width="9.8" height="16.0" fill="#b4b4b4" stroke="#1a1a1a" stroke-width="2.2" />
<line x1="18.7" y1="152.0" x2="20.5" y2="152.0" stroke="#1a1a1a" stroke-width="1.6" />
<line x1="84.8" y1="152.0" x2="86.6" y2="152.0" stroke="#1a1a1a" stroke-width="1.6" />
<line x1="18.7" y1="159.6" x2="20.5" y2="159.6" stroke="#1a1a1a" stroke-width="1.6" />
<line x1="84.8" y1="159.6" x2="86.6" y2="159.6" stroke="#1a1a1a" stroke-width="1.6" />
<line x1="18.7" y1="167.2" x2="20.5" y2="167.2" stroke="#1a1a1a" stroke-width="1.6" />
<line x1="84.8" y1="167.2" x2="86.6" y2="167.2" stroke="#1a1a1a" stroke-width="1.6" />
<line x1="18.7" y1="174.8" x2="20.5" y2="174.8" stroke="#1a1a1a" stroke-width="1.6" />
<line x1="84.8" y1="174.8" x2="86.6" y2="174.8" stroke="#1a1a1a" stroke-width="1.6" />
<line x1="18.7" y1="182.4" x2="20.5" y2="182.4" stroke="#1a1a1a" stroke-width="1.6" />
<line x1="84.8" y1="182.4" x2="86.6" y2="182.4" stroke="#1a1a1a" stroke-width="1.6" />
<line x1="18.7" y1="190.0" x2="20.5" y2="190.0" stroke="#1a1a1a" stroke-width="1.6" />
<line x1="84.8" y1="190.0" x2="86.6" y2="190.0" stroke="#1a1a1a" stroke-width="1.6" />
<line x1="18.7" y1="197.6" x2="20.5" y2="197.6" stroke="#1a1a1a" stroke-width="1.6" />
<line x1="84.8" y1="197.6" x2="86.6" y2="197.6" stroke="#1a1a1a" stroke-width="1.6" />
<line x1="18.7" y1="205.2" x2="20.5" y2="205.2" stroke="#1a1a1a" stroke-width="1.6" />
<line x1="84.8" y1="205.2" x2="86.6" y2="205.2" stroke="#1a1a1a" stroke-width="1.6" />
<line x1="18.7" y1="212.8" x2="20.5" y2="212.8" stroke="#1a1a1a" stroke-width="1.6" />
<line x1="84.8" y1="212.8" x2="86.6" y2="212.8" stroke="#1a1a1a" stroke-width="1.6" />
<line x1="18.7" y1="220.4" x2="20.5" y2="220.4" stroke="#1a1a1a" stroke-width="1.6" />
<line x1="84.8" y1="220.4" x2="86.6" y2="220.4" stroke="#1a1a1a" stroke-width="1.6" />
<line x1="18.7" y1="228.0" x2="20.5" y2="228.0" stroke="#1a1a1a" stroke-width="1.6" />
<line x1="84.8" y1="228.0" x2="86.6" y2="228.0" stroke="#1a1a1a" stroke-width="1.6" />
<line x1="18.7" y1="235.6" x2="20.5" y2="235.6" stroke="#1a1a1a" stroke-width="1.6" />
<line x1="84.8" y1="235.6" x2="86.6" y2="235.6" stroke="#1a1a1a" stroke-width="1.6" />
<line x1="18.7" y1="243.2" x2="20.5" y2="243.2" stroke="#1a1a1a" stroke-width="1.6" />
<line x1="84.8" y1="243.2" x2="86.6" y2="243.2" stroke="#1a1a1a" stroke-width="1.6" />
<line x1="18.7" y1="250.8" x2="20.5" y2="250.8" stroke="#1a1a1a" stroke-width="1.6" />
<line x1="84.8" y1="250.8" x2="86.6" y2="250.8" stroke="#1a1a1a" stroke-width="1.6" />
<line x1="18.7" y1="258.4" x2="20.5" y2="258.4" stroke="#1a1a1a" stroke-width="1.6" />
<line x1="84.8" y1="258.4" x2="86.6" y2="258.4" stroke="#1a1a1a" stroke-width="1.6" />
<line x1="18.7" y1="266.0" x2="20.5" y2="266.0" stroke="#1a1a1a" stroke-width="1.6" />
<line x1="84.8" y1="266.0" x2="86.6" y2="266.0" stroke="#1a1a1a" stroke-width="1.6" />
<line x1="18.7" y1="273.6" x2="20.5" y2="273.6" stroke="#1a1a1a" stroke-width="1.6" />
<line x1="84.8" y1="273.6" x2="86.6" y2="273.6" stroke="#1a1a1a" stroke-width="1.6" />
<line x1="18.7" y1="281.2" x2="20.5" y2="281.2" stroke="#1a1a1a" stroke-width="1.6" />
<line x1="84.8" y1="281.2" x2="86.6" y2="281.2" stroke="#1a1a1a" stroke-width="1.6" />
<rect x="30.2" y="44.2" width="5.4" height="253.3" fill="url(#zig)" stroke="#1a1a1a" stroke-width="1.2" />
<rect x="69.6" y="44.2" width="5.4" height="253.3" fill="url(#zig)" stroke="#1a1a1a" stroke-width="1.2" />
<rect x="35.6" y="44.2" width="34.0" height="253.3" fill="#fff" stroke="#1a1a1a" stroke-width="1.8" />
<rect x="30.2" y="44.2" width="44.8" height="6.2" fill="#fff" stroke="#1a1a1a" stroke-width="2.2" />
<line x1="33.2" y1="47.3" x2="72.0" y2="47.3" stroke="#555" stroke-width="1.6" stroke-dasharray="3,1.5"/>
<rect x="30.2" y="95.4" width="44.8" height="13.5" fill="#fff" stroke="none" stroke-width="0" />
<line x1="30.2" y1="97.6" x2="75.0" y2="97.6" stroke="#1a1a1a" stroke-width="4.2" />
<line x1="30.2" y1="106.7" x2="75.0" y2="106.7" stroke="#1a1a1a" stroke-width="4.2" />
<line x1="31.2" y1="102.2" x2="74.0" y2="102.2" stroke="#aaa" stroke-width="0.8" />
<rect x="30.2" y="165.7" width="44.8" height="13.5" fill="#fff" stroke="none" stroke-width="0" />
<line x1="30.2" y1="167.9" x2="75.0" y2="167.9" stroke="#1a1a1a" stroke-width="4.2" />
<line x1="30.2" y1="177.0" x2="75.0" y2="177.0" stroke="#1a1a1a" stroke-width="4.2" />
<line x1="31.2" y1="172.4" x2="74.0" y2="172.4" stroke="#aaa" stroke-width="0.8" />
<rect x="30.2" y="236.7" width="44.8" height="13.5" fill="#fff" stroke="none" stroke-width="0" />
<line x1="30.2" y1="238.9" x2="75.0" y2="238.9" stroke="#1a1a1a" stroke-width="4.2" />
<line x1="30.2" y1="248.0" x2="75.0" y2="248.0" stroke="#1a1a1a" stroke-width="4.2" />
<line x1="31.2" y1="243.4" x2="74.0" y2="243.4" stroke="#aaa" stroke-width="0.8" />
<rect x="20.5" y="764.0" width="9.7" height="21.0" fill="#b4b4b4" stroke="#1a1a1a" stroke-width="2.2" />
<rect x="20.5" y="693.0" width="9.7" height="70.0" fill="url(#hatch2)" stroke="#1a1a1a" stroke-width="2.2" />
<rect x="20.5" y="681.0" width="9.7" height="10.0" fill="#b4b4b4" stroke="#1a1a1a" stroke-width="2.0" />
<rect x="20.5" y="546.5" width="9.7" height="134.5" fill="url(#ladder)" stroke="#1a1a1a" stroke-width="2.0" />
<rect x="20.5" y="530.5" width="9.7" height="16.0" fill="#b4b4b4" stroke="#1a1a1a" stroke-width="2.2" />
<rect x="75.0" y="764.0" width="9.8" height="21.0" fill="#b4b4b4" stroke="#1a1a1a" stroke-width="2.2" />
<rect x="75.0" y="693.0" width="9.8" height="70.0" fill="url(#hatch2)" stroke="#1a1a1a" stroke-width="2.2" />
<rect x="75.0" y="681.0" width="9.8" height="10.0" fill="#b4b4b4" stroke="#1a1a1a" stroke-width="2.0" />
<rect x="75.0" y="546.5" width="9.8" height="134.5" fill="url(#ladder)" stroke="#1a1a1a" stroke-width="2.0" />
<rect x="75.0" y="530.5" width="9.8" height="16.0" fill="#b4b4b4" stroke="#1a1a1a" stroke-width="2.2" />
<line x1="18.7" y1="677.2" x2="20.5" y2="677.2" stroke="#1a1a1a" stroke-width="1.6" />
<line x1="84.8" y1="677.2" x2="86.6" y2="677.2" stroke="#1a1a1a" stroke-width="1.6" />
<line x1="18.7" y1="669.6" x2="20.5" y2="669.6" stroke="#1a1a1a" stroke-width="1.6" />
<line x1="84.8" y1="669.6" x2="86.6" y2="669.6" stroke="#1a1a1a" stroke-width="1.6" />
<line x1="18.7" y1="662.0" x2="20.5" y2="662.0" stroke="#1a1a1a" stroke-width="1.6" />
<line x1="84.8" y1="662.0" x2="86.6" y2="662.0" stroke="#1a1a1a" stroke-width="1.6" />
<line x1="18.7" y1="654.4" x2="20.5" y2="654.4" stroke="#1a1a1a" stroke-width="1.6" />
<line x1="84.8" y1="654.4" x2="86.6" y2="654.4" stroke="#1a1a1a" stroke-width="1.6" />
<line x1="18.7" y1="646.8" x2="20.5" y2="646.8" stroke="#1a1a1a" stroke-width="1.6" />
<line x1="84.8" y1="646.8" x2="86.6" y2="646.8" stroke="#1a1a1a" stroke-width="1.6" />
<line x1="18.7" y1="639.2" x2="20.5" y2="639.2" stroke="#1a1a1a" stroke-width="1.6" />
<line x1="84.8" y1="639.2" x2="86.6" y2="639.2" stroke="#1a1a1a" stroke-width="1.6" />
<line x1="18.7" y1="631.6" x2="20.5" y2="631.6" stroke="#1a1a1a" stroke-width="1.6" />
<line x1="84.8" y1="631.6" x2="86.6" y2="631.6" stroke="#1a1a1a" stroke-width="1.6" />
<line x1="18.7" y1="624.0" x2="20.5" y2="624.0" stroke="#1a1a1a" stroke-width="1.6" />
<line x1="84.8" y1="624.0" x2="86.6" y2="624.0" stroke="#1a1a1a" stroke-width="1.6" />
<line x1="18.7" y1="616.4" x2="20.5" y2="616.4" stroke="#1a1a1a" stroke-width="1.6" />
<line x1="84.8" y1="616.4" x2="86.6" y2="616.4" stroke="#1a1a1a" stroke-width="1.6" />
<line x1="18.7" y1="608.8" x2="20.5" y2="608.8" stroke="#1a1a1a" stroke-width="1.6" />
<line x1="84.8" y1="608.8" x2="86.6" y2="608.8" stroke="#1a1a1a" stroke-width="1.6" />
<line x1="18.7" y1="601.2" x2="20.5" y2="601.2" stroke="#1a1a1a" stroke-width="1.6" />
<line x1="84.8" y1="601.2" x2="86.6" y2="601.2" stroke="#1a1a1a" stroke-width="1.6" />
<line x1="18.7" y1="593.6" x2="20.5" y2="593.6" stroke="#1a1a1a" stroke-width="1.6" />
<line x1="84.8" y1="593.6" x2="86.6" y2="593.6" stroke="#1a1a1a" stroke-width="1.6" />
<line x1="18.7" y1="586.0" x2="20.5" y2="586.0" stroke="#1a1a1a" stroke-width="1.6" />
<line x1="84.8" y1="586.0" x2="86.6" y2="586.0" stroke="#1a1a1a" stroke-width="1.6" />
<line x1="18.7" y1="578.4" x2="20.5" y2="578.4" stroke="#1a1a1a" stroke-width="1.6" />
<line x1="84.8" y1="578.4" x2="86.6" y2="578.4" stroke="#1a1a1a" stroke-width="1.6" />
<line x1="18.7" y1="570.8" x2="20.5" y2="570.8" stroke="#1a1a1a" stroke-width="1.6" />
<line x1="84.8" y1="570.8" x2="86.6" y2="570.8" stroke="#1a1a1a" stroke-width="1.6" />
<line x1="18.7" y1="563.2" x2="20.5" y2="563.2" stroke="#1a1a1a" stroke-width="1.6" />
<line x1="84.8" y1="563.2" x2="86.6" y2="563.2" stroke="#1a1a1a" stroke-width="1.6" />
<line x1="18.7" y1="555.6" x2="20.5" y2="555.6" stroke="#1a1a1a" stroke-width="1.6" />
<line x1="84.8" y1="555.6" x2="86.6" y2="555.6" stroke="#1a1a1a" stroke-width="1.6" />
<line x1="18.7" y1="548.0" x2="20.5" y2="548.0" stroke="#1a1a1a" stroke-width="1.6" />
<line x1="84.8" y1="548.0" x2="86.6" y2="548.0" stroke="#1a1a1a" stroke-width="1.6" />
<rect x="30.2" y="530.5" width="5.4" height="254.5" fill="url(#zig)" stroke="#1a1a1a" stroke-width="1.2" />
<rect x="69.6" y="530.5" width="5.4" height="254.5" fill="url(#zig)" stroke="#1a1a1a" stroke-width="1.2" />
<rect x="35.6" y="530.5" width="34.0" height="254.5" fill="#fff" stroke="#1a1a1a" stroke-width="1.8" />
<rect x="30.2" y="778.8" width="44.8" height="6.2" fill="#fff" stroke="#1a1a1a" stroke-width="2.2" />
<line x1="33.2" y1="781.9" x2="72.0" y2="781.9" stroke="#555" stroke-width="1.6" stroke-dasharray="3,1.5"/>
<rect x="30.2" y="720.3" width="44.8" height="13.5" fill="#fff" stroke="none" stroke-width="0" />
<line x1="30.2" y1="731.6" x2="75.0" y2="731.6" stroke="#1a1a1a" stroke-width="4.2" />
<line x1="30.2" y1="722.5" x2="75.0" y2="722.5" stroke="#1a1a1a" stroke-width="4.2" />
<line x1="31.2" y1="727.0" x2="74.0" y2="727.0" stroke="#aaa" stroke-width="0.8" />
<rect x="30.2" y="650.0" width="44.8" height="13.5" fill="#fff" stroke="none" stroke-width="0" />
<line x1="30.2" y1="661.3" x2="75.0" y2="661.3" stroke="#1a1a1a" stroke-width="4.2" />
<line x1="30.2" y1="652.2" x2="75.0" y2="652.2" stroke="#1a1a1a" stroke-width="4.2" />
<line x1="31.2" y1="656.8" x2="74.0" y2="656.8" stroke="#aaa" stroke-width="0.8" />
<rect x="30.2" y="579.0" width="44.8" height="13.5" fill="#fff" stroke="none" stroke-width="0" />
<line x1="30.2" y1="590.3" x2="75.0" y2="590.3" stroke="#1a1a1a" stroke-width="4.2" />
<line x1="30.2" y1="581.2" x2="75.0" y2="581.2" stroke="#1a1a1a" stroke-width="4.2" />
<line x1="31.2" y1="585.8" x2="74.0" y2="585.8" stroke="#aaa" stroke-width="0.8" />
<line x1="84.3" y1="297.5" x2="84.3" y2="530.5" stroke="#1a1a1a" stroke-width="3.8" />
<rect x="25.6" y="299.2" width="59.0" height="30.0" fill="none" stroke="#1a1a1a" stroke-width="2.2" />
<line x1="25.6" y1="329.0" x2="84.5" y2="329.0" stroke="#1a1a1a" stroke-width="3.4" />
<line x1="42.7" y1="300.0" x2="42.7" y2="328.0" stroke="#444" stroke-width="2.2" stroke-dasharray="2,1"/>
<line x1="60.0" y1="301.0" x2="60.0" y2="346.0" stroke="#1a1a1a" stroke-width="2.6" />
<rect x="56.6" y="318.5" width="6.8" height="17" rx="2.5" fill="#1a1a1a"/>
<line x1="53.0" y1="333.5" x2="69.0" y2="333.5" stroke="#999" stroke-width="1.0" />
<rect x="25.6" y="499.8" width="59.0" height="29.5" fill="none" stroke="#1a1a1a" stroke-width="2.2" />
<line x1="25.6" y1="500.0" x2="84.5" y2="500.0" stroke="#1a1a1a" stroke-width="3.4" />
<line x1="42.7" y1="501.0" x2="42.7" y2="528.0" stroke="#444" stroke-width="2.2" stroke-dasharray="2,1"/>
<line x1="60.0" y1="483.0" x2="60.0" y2="526.0" stroke="#1a1a1a" stroke-width="2.6" />
<rect x="56.6" y="492.5" width="6.8" height="15" rx="2.5" fill="#1a1a1a"/>
<line x1="53.0" y1="495.5" x2="69.0" y2="495.5" stroke="#999" stroke-width="1.0" />
<line x1="25.5" y1="299.0" x2="25.5" y2="530.0" stroke="#1a1a1a" stroke-width="1.6" />
<line x1="28.3" y1="299.0" x2="28.3" y2="530.0" stroke="#444" stroke-width="1.1" />
<line x1="25.2" y1="331.0" x2="25.2" y2="399.0" stroke="#1a1a1a" stroke-width="6.0" />
<line x1="25.2" y1="430.0" x2="25.2" y2="498.0" stroke="#1a1a1a" stroke-width="6.0" />
<ellipse cx="25.0" cy="333.7" rx="5.8" ry="3.6" fill="#1a1a1a"/>
<ellipse cx="25.0" cy="352.4" rx="5.8" ry="3.6" fill="#1a1a1a"/>
<ellipse cx="25.0" cy="371.9" rx="5.8" ry="3.6" fill="#1a1a1a"/>
<ellipse cx="25.0" cy="391.4" rx="5.8" ry="3.6" fill="#1a1a1a"/>
<ellipse cx="25.0" cy="437.0" rx="5.8" ry="3.6" fill="#1a1a1a"/>
<ellipse cx="25.0" cy="457.2" rx="5.8" ry="3.6" fill="#1a1a1a"/>
<ellipse cx="25.0" cy="476.2" rx="5.8" ry="3.6" fill="#1a1a1a"/>
<ellipse cx="25.0" cy="494.6" rx="5.8" ry="3.6" fill="#1a1a1a"/>
<line x1="15.0" y1="414.6" x2="90.0" y2="414.6" stroke="#888" stroke-width="1.2" stroke-dasharray="9,5"/>
</svg>
</body></html>
